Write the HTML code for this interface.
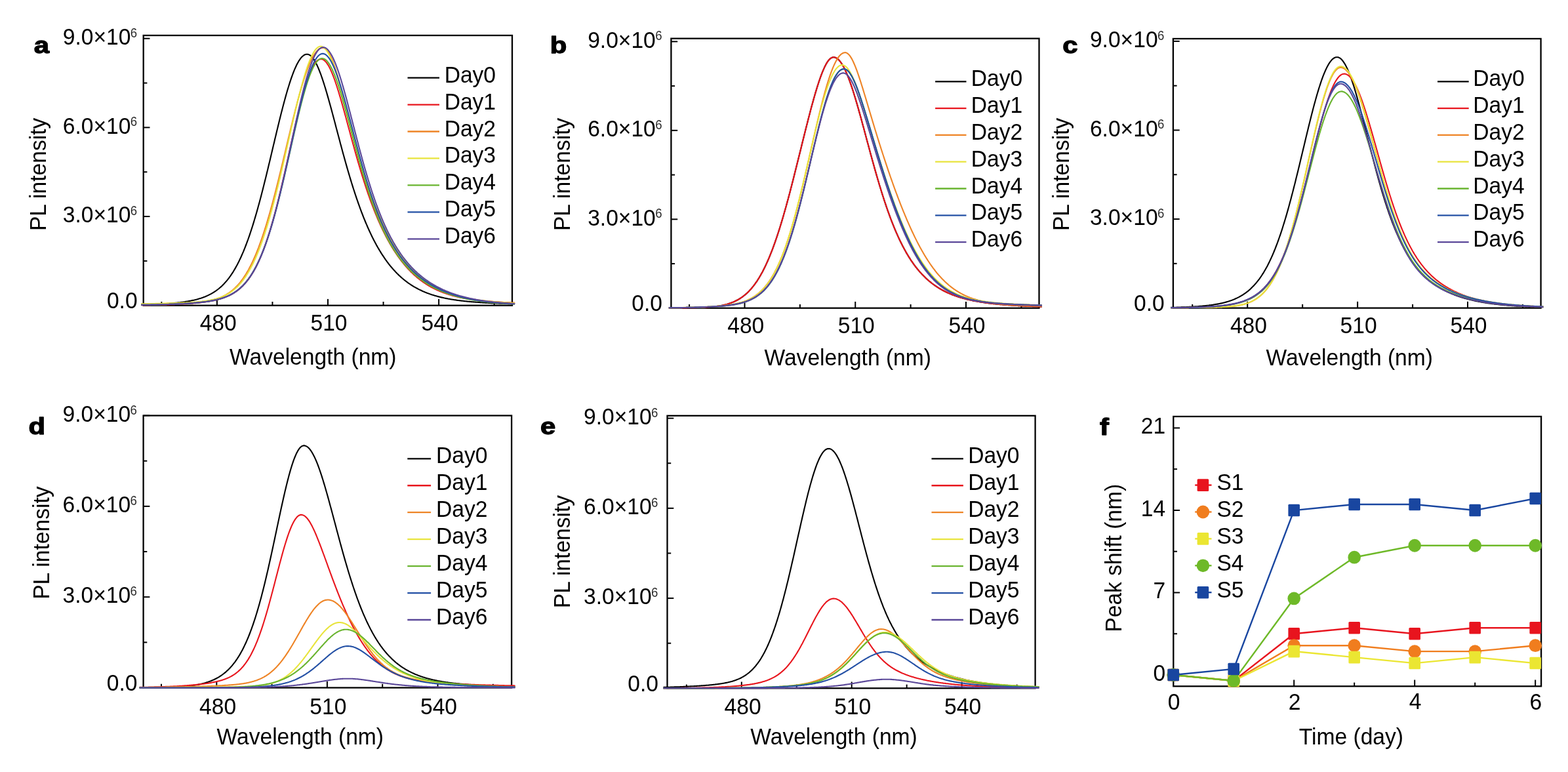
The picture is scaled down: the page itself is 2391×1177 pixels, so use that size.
<!DOCTYPE html>
<html><head><meta charset="utf-8"><title>PL spectra figure</title>
<style>
html,body{margin:0;padding:0;background:#fff;}
body{width:2391px;height:1177px;overflow:hidden;}
svg{display:block;}
text{font-family:'Liberation Sans', Arial, Helvetica, sans-serif;font-kerning:normal;}
</style></head><body>
<svg width="2391" height="1177" viewBox="0 0 2391 1177">
<rect width="2391" height="1177" fill="#fff"/>
<rect x="218.7" y="54" width="562.3" height="411.7" fill="none" stroke="#000" stroke-width="2.3"/>
<line x1="246.34" y1="465.7" x2="246.34" y2="460" stroke="#000" stroke-width="2" stroke-linecap="butt"/>
<line x1="330.9" y1="465.7" x2="330.9" y2="455.9" stroke="#000" stroke-width="2" stroke-linecap="butt"/>
<line x1="415.45" y1="465.7" x2="415.45" y2="460" stroke="#000" stroke-width="2" stroke-linecap="butt"/>
<line x1="500.01" y1="465.7" x2="500.01" y2="455.9" stroke="#000" stroke-width="2" stroke-linecap="butt"/>
<line x1="584.56" y1="465.7" x2="584.56" y2="460" stroke="#000" stroke-width="2" stroke-linecap="butt"/>
<line x1="669.12" y1="465.7" x2="669.12" y2="455.9" stroke="#000" stroke-width="2" stroke-linecap="butt"/>
<line x1="753.67" y1="465.7" x2="753.67" y2="460" stroke="#000" stroke-width="2" stroke-linecap="butt"/>
<line x1="218.7" y1="397.87" x2="224.4" y2="397.87" stroke="#000" stroke-width="2" stroke-linecap="butt"/>
<line x1="218.7" y1="330.04" x2="228.5" y2="330.04" stroke="#000" stroke-width="2" stroke-linecap="butt"/>
<line x1="218.7" y1="262.21" x2="224.4" y2="262.21" stroke="#000" stroke-width="2" stroke-linecap="butt"/>
<line x1="218.7" y1="194.38" x2="228.5" y2="194.38" stroke="#000" stroke-width="2" stroke-linecap="butt"/>
<line x1="218.7" y1="126.55" x2="224.4" y2="126.55" stroke="#000" stroke-width="2" stroke-linecap="butt"/>
<line x1="218.7" y1="58.72" x2="228.5" y2="58.72" stroke="#000" stroke-width="2" stroke-linecap="butt"/>
<text transform="translate(304.64,504.4) scale(1.0,1.04)" font-size="33.6" font-weight="normal" fill="#000" >480</text>
<text transform="translate(473.46,504.4) scale(1.0,1.04)" font-size="33.6" font-weight="normal" fill="#000" >510</text>
<text transform="translate(642.57,504.4) scale(1.0,1.04)" font-size="33.6" font-weight="normal" fill="#000" >540</text>
<text transform="translate(162.9,469.93) scale(1.0,1.04)" font-size="33.6" font-weight="normal" fill="#000" >0.0</text>
<text transform="translate(95.73,339.27) scale(1.0,1.04)" font-size="33.6" font-weight="normal" fill="#000" >3.0×10</text>
<text transform="translate(198.77,327.95) scale(1.0,1.04)" font-size="18.6" font-weight="normal" fill="#2a2a2a" >6</text>
<text transform="translate(95.73,203.61) scale(1.0,1.04)" font-size="33.6" font-weight="normal" fill="#000" >6.0×10</text>
<text transform="translate(198.77,192.29) scale(1.0,1.04)" font-size="18.6" font-weight="normal" fill="#2a2a2a" >6</text>
<text transform="translate(95.73,67.95) scale(1.0,1.04)" font-size="33.6" font-weight="normal" fill="#000" >9.0×10</text>
<text transform="translate(198.77,56.63) scale(1.0,1.04)" font-size="18.6" font-weight="normal" fill="#2a2a2a" >6</text>
<text transform="translate(350.05,556.12) scale(1.0,1.04)" font-size="33.6" font-weight="normal" fill="#000" >Wavelength (nm)</text>
<text transform="translate(69.62,352.06) rotate(-90) scale(1,1.04)" font-size="33.6">PL intensity</text>
<line x1="621.5" y1="118.6" x2="670" y2="118.6" stroke="#000000" stroke-width="2.3" stroke-linecap="butt"/>
<text transform="translate(677.64,125.6) scale(1,1.04)" font-size="33.6">Day0</text>
<line x1="621.5" y1="159.55" x2="670" y2="159.55" stroke="#e8151d" stroke-width="2.3" stroke-linecap="butt"/>
<text transform="translate(677.64,166.55) scale(1,1.04)" font-size="33.6">Day1</text>
<line x1="621.5" y1="200.5" x2="670" y2="200.5" stroke="#ee8426" stroke-width="2.3" stroke-linecap="butt"/>
<text transform="translate(677.64,207.5) scale(1,1.04)" font-size="33.6">Day2</text>
<line x1="621.5" y1="241.45" x2="670" y2="241.45" stroke="#e8e43c" stroke-width="2.3" stroke-linecap="butt"/>
<text transform="translate(677.64,248.45) scale(1,1.04)" font-size="33.6">Day3</text>
<line x1="621.5" y1="282.4" x2="670" y2="282.4" stroke="#69b42f" stroke-width="2.3" stroke-linecap="butt"/>
<text transform="translate(677.64,289.4) scale(1,1.04)" font-size="33.6">Day4</text>
<line x1="621.5" y1="323.35" x2="670" y2="323.35" stroke="#2350a5" stroke-width="2.3" stroke-linecap="butt"/>
<text transform="translate(677.64,330.35) scale(1,1.04)" font-size="33.6">Day5</text>
<line x1="621.5" y1="364.3" x2="670" y2="364.3" stroke="#5a4799" stroke-width="2.3" stroke-linecap="butt"/>
<text transform="translate(677.64,371.3) scale(1,1.04)" font-size="33.6">Day6</text>
<polyline points="215.1,464.7 216.1,464.7 217.1,464.6 218.1,464.6 219.1,464.6 220.1,464.5 221.1,464.5 222.1,464.5 223.1,464.5 224.1,464.4 225.1,464.4 226.1,464.4 227.1,464.3 228.1,464.3 229.1,464.3 230.1,464.2 231.1,464.2 232.1,464.1 233.1,464.1 234.1,464.1 235.1,464.0 236.1,464.0 237.1,463.9 238.1,463.9 239.1,463.8 240.1,463.8 241.1,463.7 242.1,463.7 243.1,463.6 244.1,463.6 245.1,463.5 246.1,463.5 247.1,463.4 248.1,463.4 249.1,463.3 250.1,463.3 251.1,463.2 252.1,463.1 253.1,463.1 254.1,463.0 255.1,462.9 256.1,462.9 257.1,462.8 258.1,462.7 259.1,462.6 260.1,462.5 261.1,462.5 262.1,462.4 263.1,462.3 264.1,462.2 265.1,462.1 266.1,462.0 267.1,461.9 268.1,461.8 269.1,461.7 270.1,461.6 271.1,461.5 272.1,461.4 273.1,461.3 274.1,461.2 275.1,461.0 276.1,460.9 277.1,460.8 278.1,460.7 279.1,460.5 280.1,460.4 281.1,460.2 282.1,460.1 283.1,459.9 284.1,459.8 285.1,459.6 286.1,459.5 287.1,459.3 288.1,459.1 289.1,458.9 290.1,458.7 291.1,458.5 292.1,458.3 293.1,458.1 294.1,457.9 295.1,457.7 296.1,457.5 297.1,457.2 298.1,457.0 299.1,456.7 300.1,456.5 301.1,456.2 302.1,455.9 303.1,455.6 304.1,455.3 305.1,455.0 306.1,454.7 307.1,454.4 308.1,454.0 309.1,453.7 310.1,453.3 311.1,452.9 312.1,452.6 313.1,452.2 314.1,451.7 315.1,451.3 316.1,450.9 317.1,450.4 318.1,449.9 319.1,449.4 320.1,448.9 321.1,448.4 322.1,447.9 323.1,447.3 324.1,446.7 325.1,446.1 326.1,445.5 327.1,444.8 328.1,444.2 329.1,443.5 330.1,442.8 331.1,442.0 332.1,441.3 333.1,440.5 334.1,439.7 335.1,438.8 336.1,438.0 337.1,437.1 338.1,436.2 339.1,435.2 340.1,434.2 341.1,433.2 342.1,432.1 343.1,431.1 344.1,429.9 345.1,428.8 346.1,427.6 347.1,426.4 348.1,425.1 349.1,423.8 350.1,422.4 351.1,421.1 352.1,419.6 353.1,418.2 354.1,416.6 355.1,415.1 356.1,413.5 357.1,411.8 358.1,410.1 359.1,408.4 360.1,406.6 361.1,404.8 362.1,402.9 363.1,400.9 364.1,399.0 365.1,396.9 366.1,394.8 367.1,392.7 368.1,390.5 369.1,388.2 370.1,385.9 371.1,383.6 372.1,381.1 373.1,378.7 374.1,376.1 375.1,373.5 376.1,370.9 377.1,368.2 378.1,365.5 379.1,362.6 380.1,359.8 381.1,356.8 382.1,353.9 383.1,350.8 384.1,347.7 385.1,344.6 386.1,341.4 387.1,338.1 388.1,334.8 389.1,331.4 390.1,328.0 391.1,324.6 392.1,321.0 393.1,317.5 394.1,313.8 395.1,310.2 396.1,306.5 397.1,302.7 398.1,298.9 399.1,295.1 400.1,291.2 401.1,287.3 402.1,283.3 403.1,279.3 404.1,275.3 405.1,271.2 406.1,267.2 407.1,263.0 408.1,258.9 409.1,254.8 410.1,250.6 411.1,246.4 412.1,242.2 413.1,238.0 414.1,233.8 415.1,229.5 416.1,225.3 417.1,221.1 418.1,216.9 419.1,212.6 420.1,208.4 421.1,204.2 422.1,200.1 423.1,195.9 424.1,191.8 425.1,187.7 426.1,183.6 427.1,179.6 428.1,175.6 429.1,171.6 430.1,167.7 431.1,163.8 432.1,160.0 433.1,156.2 434.1,152.5 435.1,148.9 436.1,145.3 437.1,141.8 438.1,138.3 439.1,135.0 440.1,131.7 441.1,128.5 442.1,125.4 443.1,122.4 444.1,119.4 445.1,116.6 446.1,113.8 447.1,111.2 448.1,108.6 449.1,106.2 450.1,103.9 451.1,101.7 452.1,99.5 453.1,97.6 454.1,95.7 455.1,93.9 456.1,92.3 457.1,90.8 458.1,89.4 459.1,88.2 460.1,87.0 461.1,86.0 462.1,85.2 463.1,84.4 464.1,83.8 465.1,83.3 466.1,83.0 467.1,82.8 468.1,82.7 469.1,82.8 470.1,83.0 471.1,83.3 472.1,83.9 473.1,84.5 474.1,85.3 475.1,86.3 476.1,87.3 477.1,88.6 478.1,89.9 479.1,91.4 480.1,93.1 481.1,94.9 482.1,96.7 483.1,98.8 484.1,100.9 485.1,103.2 486.1,105.5 487.1,108.0 488.1,110.6 489.1,113.2 490.1,116.0 491.1,118.9 492.1,121.8 493.1,124.9 494.1,128.0 495.1,131.2 496.1,134.4 497.1,137.7 498.1,141.1 499.1,144.6 500.1,148.1 501.1,151.6 502.1,155.2 503.1,158.8 504.1,162.4 505.1,166.1 506.1,169.8 507.1,173.6 508.1,177.3 509.1,181.1 510.1,184.8 511.1,188.6 512.1,192.4 513.1,196.2 514.1,200.0 515.1,203.8 516.1,207.6 517.1,211.3 518.1,215.1 519.1,218.9 520.1,222.6 521.1,226.3 522.1,230.0 523.1,233.7 524.1,237.3 525.1,240.9 526.1,244.5 527.1,248.1 528.1,251.6 529.1,255.1 530.1,258.6 531.1,262.0 532.1,265.4 533.1,268.8 534.1,272.1 535.1,275.4 536.1,278.7 537.1,281.9 538.1,285.1 539.1,288.2 540.1,291.3 541.1,294.4 542.1,297.4 543.1,300.4 544.1,303.3 545.1,306.2 546.1,309.1 547.1,311.9 548.1,314.7 549.1,317.5 550.1,320.2 551.1,322.8 552.1,325.4 553.1,328.0 554.1,330.6 555.1,333.1 556.1,335.5 557.1,338.0 558.1,340.4 559.1,342.7 560.1,345.0 561.1,347.3 562.1,349.5 563.1,351.7 564.1,353.9 565.1,356.0 566.1,358.1 567.1,360.2 568.1,362.2 569.1,364.2 570.1,366.2 571.1,368.1 572.1,370.0 573.1,371.8 574.1,373.7 575.1,375.4 576.1,377.2 577.1,378.9 578.1,380.6 579.1,382.3 580.1,383.9 581.1,385.6 582.1,387.1 583.1,388.7 584.1,390.2 585.1,391.7 586.1,393.2 587.1,394.6 588.1,396.1 589.1,397.4 590.1,398.8 591.1,400.1 592.1,401.5 593.1,402.8 594.1,404.0 595.1,405.3 596.1,406.5 597.1,407.7 598.1,408.8 599.1,410.0 600.1,411.1 601.1,412.2 602.1,413.3 603.1,414.4 604.1,415.4 605.1,416.5 606.1,417.5 607.1,418.4 608.1,419.4 609.1,420.4 610.1,421.3 611.1,422.2 612.1,423.1 613.1,424.0 614.1,424.8 615.1,425.7 616.1,426.5 617.1,427.3 618.1,428.1 619.1,428.8 620.1,429.6 621.1,430.3 622.1,431.1 623.1,431.8 624.1,432.5 625.1,433.2 626.1,433.8 627.1,434.5 628.1,435.1 629.1,435.8 630.1,436.4 631.1,437.0 632.1,437.6 633.1,438.1 634.1,438.7 635.1,439.3 636.1,439.8 637.1,440.3 638.1,440.9 639.1,441.4 640.1,441.9 641.1,442.3 642.1,442.8 643.1,443.3 644.1,443.7 645.1,444.2 646.1,444.6 647.1,445.0 648.1,445.5 649.1,445.9 650.1,446.3 651.1,446.7 652.1,447.0 653.1,447.4 654.1,447.8 655.1,448.1 656.1,448.5 657.1,448.8 658.1,449.2 659.1,449.5 660.1,449.8 661.1,450.1 662.1,450.4 663.1,450.7 664.1,451.0 665.1,451.3 666.1,451.6 667.1,451.9 668.1,452.1 669.1,452.4 670.1,452.6 671.1,452.9 672.1,453.1 673.1,453.4 674.1,453.6 675.1,453.8 676.1,454.0 677.1,454.3 678.1,454.5 679.1,454.7 680.1,454.9 681.1,455.1 682.1,455.3 683.1,455.5 684.1,455.7 685.1,455.8 686.1,456.0 687.1,456.2 688.1,456.4 689.1,456.5 690.1,456.7 691.1,456.8 692.1,457.0 693.1,457.2 694.1,457.3 695.1,457.4 696.1,457.6 697.1,457.7 698.1,457.9 699.1,458.0 700.1,458.1 701.1,458.3 702.1,458.4 703.1,458.5 704.1,458.6 705.1,458.7 706.1,458.8 707.1,459.0 708.1,459.1 709.1,459.2 710.1,459.3 711.1,459.4 712.1,459.5 713.1,459.6 714.1,459.7 715.1,459.8 716.1,459.9 717.1,460.0 718.1,460.0 719.1,460.1 720.1,460.2 721.1,460.3 722.1,460.4 723.1,460.5 724.1,460.5 725.1,460.6 726.1,460.7 727.1,460.8 728.1,460.8 729.1,460.9 730.1,461.0 731.1,461.0 732.1,461.1 733.1,461.2 734.1,461.2 735.1,461.3 736.1,461.4 737.1,461.4 738.1,461.5 739.1,461.5 740.1,461.6 741.1,461.7 742.1,461.7 743.1,461.8 744.1,461.8 745.1,461.9 746.1,461.9 747.1,462.0 748.1,462.0 749.1,462.1 750.1,462.1 751.1,462.2 752.1,462.2 753.1,462.2 754.1,462.3 755.1,462.3 756.1,462.4 757.1,462.4 758.1,462.5 759.1,462.5 760.1,462.5 761.1,462.6 762.1,462.6 763.1,462.7 764.1,462.7 765.1,462.7 766.1,462.8 767.1,462.8 768.1,462.8 769.1,462.9 770.1,462.9 771.1,462.9 772.1,463.0 773.1,463.0 774.1,463.0 775.1,463.1 776.1,463.1 777.1,463.1 778.1,463.2 779.1,463.2 780.1,463.2 781.1,463.2 782.1,463.3 783.1,463.3 784.1,463.3 785.1,463.4" fill="none" stroke="#000000" stroke-width="2.1" stroke-linejoin="round"/>
<polyline points="215.1,465.2 216.1,465.2 217.1,465.2 218.1,465.2 219.1,465.2 220.1,465.2 221.1,465.2 222.1,465.2 223.1,465.1 224.1,465.1 225.1,465.1 226.1,465.1 227.1,465.1 228.1,465.1 229.1,465.1 230.1,465.0 231.1,465.0 232.1,465.0 233.1,465.0 234.1,465.0 235.1,465.0 236.1,464.9 237.1,464.9 238.1,464.9 239.1,464.9 240.1,464.9 241.1,464.8 242.1,464.8 243.1,464.8 244.1,464.8 245.1,464.7 246.1,464.7 247.1,464.7 248.1,464.7 249.1,464.6 250.1,464.6 251.1,464.6 252.1,464.6 253.1,464.5 254.1,464.5 255.1,464.5 256.1,464.4 257.1,464.4 258.1,464.4 259.1,464.3 260.1,464.3 261.1,464.3 262.1,464.2 263.1,464.2 264.1,464.2 265.1,464.1 266.1,464.1 267.1,464.0 268.1,464.0 269.1,464.0 270.1,463.9 271.1,463.9 272.1,463.8 273.1,463.8 274.1,463.7 275.1,463.7 276.1,463.6 277.1,463.6 278.1,463.5 279.1,463.5 280.1,463.4 281.1,463.3 282.1,463.3 283.1,463.2 284.1,463.2 285.1,463.1 286.1,463.0 287.1,463.0 288.1,462.9 289.1,462.8 290.1,462.7 291.1,462.7 292.1,462.6 293.1,462.5 294.1,462.4 295.1,462.3 296.1,462.2 297.1,462.2 298.1,462.1 299.1,462.0 300.1,461.9 301.1,461.8 302.1,461.7 303.1,461.6 304.1,461.5 305.1,461.3 306.1,461.2 307.1,461.1 308.1,461.0 309.1,460.9 310.1,460.7 311.1,460.6 312.1,460.5 313.1,460.3 314.1,460.2 315.1,460.0 316.1,459.9 317.1,459.7 318.1,459.6 319.1,459.4 320.1,459.2 321.1,459.0 322.1,458.9 323.1,458.7 324.1,458.5 325.1,458.3 326.1,458.1 327.1,457.9 328.1,457.6 329.1,457.4 330.1,457.2 331.1,456.9 332.1,456.7 333.1,456.4 334.1,456.1 335.1,455.8 336.1,455.6 337.1,455.2 338.1,454.9 339.1,454.6 340.1,454.3 341.1,453.9 342.1,453.6 343.1,453.2 344.1,452.8 345.1,452.4 346.1,452.0 347.1,451.6 348.1,451.1 349.1,450.7 350.1,450.2 351.1,449.7 352.1,449.2 353.1,448.6 354.1,448.1 355.1,447.5 356.1,446.9 357.1,446.3 358.1,445.7 359.1,445.0 360.1,444.3 361.1,443.6 362.1,442.9 363.1,442.1 364.1,441.3 365.1,440.5 366.1,439.6 367.1,438.7 368.1,437.8 369.1,436.9 370.1,435.9 371.1,434.9 372.1,433.8 373.1,432.7 374.1,431.6 375.1,430.4 376.1,429.2 377.1,428.0 378.1,426.7 379.1,425.3 380.1,423.9 381.1,422.5 382.1,421.0 383.1,419.5 384.1,417.9 385.1,416.3 386.1,414.6 387.1,412.9 388.1,411.1 389.1,409.3 390.1,407.4 391.1,405.5 392.1,403.4 393.1,401.4 394.1,399.3 395.1,397.1 396.1,394.8 397.1,392.5 398.1,390.1 399.1,387.7 400.1,385.2 401.1,382.6 402.1,380.0 403.1,377.3 404.1,374.6 405.1,371.8 406.1,368.9 407.1,365.9 408.1,362.9 409.1,359.8 410.1,356.6 411.1,353.4 412.1,350.1 413.1,346.8 414.1,343.4 415.1,339.9 416.1,336.4 417.1,332.8 418.1,329.1 419.1,325.4 420.1,321.6 421.1,317.8 422.1,313.9 423.1,309.9 424.1,305.9 425.1,301.9 426.1,297.8 427.1,293.6 428.1,289.4 429.1,285.2 430.1,280.9 431.1,276.6 432.1,272.3 433.1,267.9 434.1,263.5 435.1,259.1 436.1,254.6 437.1,250.1 438.1,245.7 439.1,241.2 440.1,236.7 441.1,232.1 442.1,227.6 443.1,223.1 444.1,218.6 445.1,214.1 446.1,209.6 447.1,205.2 448.1,200.7 449.1,196.3 450.1,192.0 451.1,187.6 452.1,183.3 453.1,179.1 454.1,174.9 455.1,170.7 456.1,166.6 457.1,162.6 458.1,158.6 459.1,154.7 460.1,150.9 461.1,147.2 462.1,143.5 463.1,140.0 464.1,136.5 465.1,133.1 466.1,129.9 467.1,126.7 468.1,123.6 469.1,120.7 470.1,117.9 471.1,115.2 472.1,112.6 473.1,110.1 474.1,107.8 475.1,105.6 476.1,103.5 477.1,101.6 478.1,99.8 479.1,98.2 480.1,96.7 481.1,95.4 482.1,94.2 483.1,93.1 484.1,92.2 485.1,91.5 486.1,90.9 487.1,90.4 488.1,90.2 489.1,90.0 490.1,90.1 491.1,90.3 492.1,90.6 493.1,91.1 494.1,91.8 495.1,92.6 496.1,93.5 497.1,94.6 498.1,95.9 499.1,97.3 500.1,98.8 501.1,100.5 502.1,102.3 503.1,104.3 504.1,106.4 505.1,108.6 506.1,110.9 507.1,113.3 508.1,115.8 509.1,118.5 510.1,121.2 511.1,124.0 512.1,127.0 513.1,130.0 514.1,133.0 515.1,136.2 516.1,139.4 517.1,142.7 518.1,146.1 519.1,149.5 520.1,152.9 521.1,156.4 522.1,160.0 523.1,163.5 524.1,167.1 525.1,170.8 526.1,174.4 527.1,178.1 528.1,181.8 529.1,185.5 530.1,189.2 531.1,192.9 532.1,196.6 533.1,200.3 534.1,204.0 535.1,207.7 536.1,211.4 537.1,215.0 538.1,218.7 539.1,222.3 540.1,225.9 541.1,229.5 542.1,233.1 543.1,236.6 544.1,240.1 545.1,243.6 546.1,247.1 547.1,250.5 548.1,253.9 549.1,257.3 550.1,260.6 551.1,263.9 552.1,267.1 553.1,270.4 554.1,273.5 555.1,276.7 556.1,279.8 557.1,282.9 558.1,285.9 559.1,288.9 560.1,291.9 561.1,294.8 562.1,297.7 563.1,300.5 564.1,303.3 565.1,306.1 566.1,308.8 567.1,311.5 568.1,314.1 569.1,316.7 570.1,319.3 571.1,321.9 572.1,324.3 573.1,326.8 574.1,329.2 575.1,331.6 576.1,334.0 577.1,336.3 578.1,338.6 579.1,340.8 580.1,343.0 581.1,345.2 582.1,347.4 583.1,349.5 584.1,351.6 585.1,353.6 586.1,355.6 587.1,357.6 588.1,359.5 589.1,361.5 590.1,363.3 591.1,365.2 592.1,367.0 593.1,368.8 594.1,370.6 595.1,372.3 596.1,374.0 597.1,375.7 598.1,377.4 599.1,379.0 600.1,380.6 601.1,382.2 602.1,383.7 603.1,385.2 604.1,386.7 605.1,388.2 606.1,389.7 607.1,391.1 608.1,392.5 609.1,393.9 610.1,395.2 611.1,396.5 612.1,397.8 613.1,399.1 614.1,400.4 615.1,401.6 616.1,402.8 617.1,404.0 618.1,405.2 619.1,406.3 620.1,407.5 621.1,408.6 622.1,409.7 623.1,410.8 624.1,411.8 625.1,412.8 626.1,413.9 627.1,414.9 628.1,415.8 629.1,416.8 630.1,417.7 631.1,418.7 632.1,419.6 633.1,420.5 634.1,421.3 635.1,422.2 636.1,423.1 637.1,423.9 638.1,424.7 639.1,425.5 640.1,426.3 641.1,427.0 642.1,427.8 643.1,428.5 644.1,429.3 645.1,430.0 646.1,430.7 647.1,431.3 648.1,432.0 649.1,432.7 650.1,433.3 651.1,433.9 652.1,434.6 653.1,435.2 654.1,435.8 655.1,436.3 656.1,436.9 657.1,437.5 658.1,438.0 659.1,438.6 660.1,439.1 661.1,439.6 662.1,440.1 663.1,440.6 664.1,441.1 665.1,441.6 666.1,442.0 667.1,442.5 668.1,442.9 669.1,443.4 670.1,443.8 671.1,444.2 672.1,444.6 673.1,445.0 674.1,445.4 675.1,445.8 676.1,446.2 677.1,446.5 678.1,446.9 679.1,447.3 680.1,447.6 681.1,447.9 682.1,448.3 683.1,448.6 684.1,448.9 685.1,449.2 686.1,449.5 687.1,449.8 688.1,450.1 689.1,450.4 690.1,450.7 691.1,451.0 692.1,451.2 693.1,451.5 694.1,451.7 695.1,452.0 696.1,452.2 697.1,452.5 698.1,452.7 699.1,452.9 700.1,453.2 701.1,453.4 702.1,453.6 703.1,453.8 704.1,454.0 705.1,454.2 706.1,454.4 707.1,454.6 708.1,454.8 709.1,455.0 710.1,455.1 711.1,455.3 712.1,455.5 713.1,455.7 714.1,455.8 715.1,456.0 716.1,456.1 717.1,456.3 718.1,456.4 719.1,456.6 720.1,456.7 721.1,456.9 722.1,457.0 723.1,457.2 724.1,457.3 725.1,457.4 726.1,457.5 727.1,457.7 728.1,457.8 729.1,457.9 730.1,458.0 731.1,458.1 732.1,458.3 733.1,458.4 734.1,458.5 735.1,458.6 736.1,458.7 737.1,458.8 738.1,458.9 739.1,459.0 740.1,459.1 741.1,459.2 742.1,459.3 743.1,459.3 744.1,459.4 745.1,459.5 746.1,459.6 747.1,459.7 748.1,459.8 749.1,459.8 750.1,459.9 751.1,460.0 752.1,460.1 753.1,460.1 754.1,460.2 755.1,460.3 756.1,460.4 757.1,460.4 758.1,460.5 759.1,460.6 760.1,460.6 761.1,460.7 762.1,460.7 763.1,460.8 764.1,460.9 765.1,460.9 766.1,461.0 767.1,461.0 768.1,461.1 769.1,461.1 770.1,461.2 771.1,461.3 772.1,461.3 773.1,461.4 774.1,461.4 775.1,461.5 776.1,461.5 777.1,461.5 778.1,461.6 779.1,461.6 780.1,461.7 781.1,461.7 782.1,461.8 783.1,461.8 784.1,461.9 785.1,461.9" fill="none" stroke="#e8151d" stroke-width="2.1" stroke-linejoin="round"/>
<polyline points="215.1,463.6 216.1,463.6 217.1,463.6 218.1,463.5 219.1,463.5 220.1,463.5 221.1,463.5 222.1,463.5 223.1,463.5 224.1,463.5 225.1,463.4 226.1,463.4 227.1,463.4 228.1,463.4 229.1,463.4 230.1,463.4 231.1,463.3 232.1,463.3 233.1,463.3 234.1,463.3 235.1,463.3 236.1,463.3 237.1,463.2 238.1,463.2 239.1,463.2 240.1,463.2 241.1,463.2 242.1,463.2 243.1,463.1 244.1,463.1 245.1,463.1 246.1,463.1 247.1,463.1 248.1,463.0 249.1,463.0 250.1,463.0 251.1,463.0 252.1,463.0 253.1,462.9 254.1,462.9 255.1,462.9 256.1,462.9 257.1,462.9 258.1,462.8 259.1,462.8 260.1,462.8 261.1,462.8 262.1,462.7 263.1,462.7 264.1,462.7 265.1,462.7 266.1,462.6 267.1,462.6 268.1,462.6 269.1,462.6 270.1,462.5 271.1,462.5 272.1,462.5 273.1,462.4 274.1,462.4 275.1,462.4 276.1,462.3 277.1,462.3 278.1,462.3 279.1,462.2 280.1,462.2 281.1,462.2 282.1,462.1 283.1,462.1 284.1,462.0 285.1,462.0 286.1,461.9 287.1,461.9 288.1,461.8 289.1,461.8 290.1,461.7 291.1,461.7 292.1,461.6 293.1,461.5 294.1,461.5 295.1,461.4 296.1,461.3 297.1,461.3 298.1,461.2 299.1,461.1 300.1,461.0 301.1,460.9 302.1,460.9 303.1,460.8 304.1,460.7 305.1,460.6 306.1,460.4 307.1,460.3 308.1,460.2 309.1,460.1 310.1,460.0 311.1,459.8 312.1,459.7 313.1,459.5 314.1,459.4 315.1,459.2 316.1,459.1 317.1,458.9 318.1,458.7 319.1,458.5 320.1,458.3 321.1,458.1 322.1,457.9 323.1,457.6 324.1,457.4 325.1,457.2 326.1,456.9 327.1,456.6 328.1,456.3 329.1,456.0 330.1,455.7 331.1,455.4 332.1,455.1 333.1,454.7 334.1,454.3 335.1,454.0 336.1,453.6 337.1,453.1 338.1,452.7 339.1,452.2 340.1,451.8 341.1,451.3 342.1,450.8 343.1,450.2 344.1,449.7 345.1,449.1 346.1,448.5 347.1,447.9 348.1,447.2 349.1,446.6 350.1,445.9 351.1,445.2 352.1,444.4 353.1,443.6 354.1,442.8 355.1,442.0 356.1,441.1 357.1,440.2 358.1,439.3 359.1,438.3 360.1,437.3 361.1,436.3 362.1,435.2 363.1,434.1 364.1,433.0 365.1,431.8 366.1,430.6 367.1,429.3 368.1,428.0 369.1,426.7 370.1,425.3 371.1,423.9 372.1,422.4 373.1,420.9 374.1,419.4 375.1,417.8 376.1,416.1 377.1,414.4 378.1,412.7 379.1,410.9 380.1,409.0 381.1,407.1 382.1,405.2 383.1,403.2 384.1,401.2 385.1,399.1 386.1,396.9 387.1,394.7 388.1,392.4 389.1,390.1 390.1,387.8 391.1,385.4 392.1,382.9 393.1,380.3 394.1,377.8 395.1,375.1 396.1,372.4 397.1,369.7 398.1,366.9 399.1,364.0 400.1,361.1 401.1,358.1 402.1,355.1 403.1,352.0 404.1,348.9 405.1,345.7 406.1,342.5 407.1,339.2 408.1,335.8 409.1,332.4 410.1,329.0 411.1,325.5 412.1,322.0 413.1,318.4 414.1,314.8 415.1,311.1 416.1,307.4 417.1,303.6 418.1,299.8 419.1,296.0 420.1,292.1 421.1,288.2 422.1,284.2 423.1,280.2 424.1,276.2 425.1,272.2 426.1,268.1 427.1,264.0 428.1,259.9 429.1,255.8 430.1,251.6 431.1,247.5 432.1,243.3 433.1,239.1 434.1,234.9 435.1,230.7 436.1,226.5 437.1,222.2 438.1,218.0 439.1,213.8 440.1,209.6 441.1,205.4 442.1,201.3 443.1,197.1 444.1,193.0 445.1,188.9 446.1,184.8 447.1,180.7 448.1,176.7 449.1,172.7 450.1,168.7 451.1,164.8 452.1,160.9 453.1,157.1 454.1,153.3 455.1,149.6 456.1,145.9 457.1,142.3 458.1,138.8 459.1,135.3 460.1,131.8 461.1,128.5 462.1,125.2 463.1,122.0 464.1,118.9 465.1,115.9 466.1,112.9 467.1,110.1 468.1,107.3 469.1,104.6 470.1,102.0 471.1,99.5 472.1,97.1 473.1,94.8 474.1,92.6 475.1,90.6 476.1,88.6 477.1,86.7 478.1,85.0 479.1,83.3 480.1,81.8 481.1,80.4 482.1,79.1 483.1,77.9 484.1,76.9 485.1,75.9 486.1,75.1 487.1,74.4 488.1,73.9 489.1,73.4 490.1,73.1 491.1,72.9 492.1,72.8 493.1,72.9 494.1,73.2 495.1,73.6 496.1,74.3 497.1,75.1 498.1,76.1 499.1,77.3 500.1,78.7 501.1,80.2 502.1,82.0 503.1,83.8 504.1,85.9 505.1,88.1 506.1,90.4 507.1,92.9 508.1,95.5 509.1,98.3 510.1,101.2 511.1,104.2 512.1,107.3 513.1,110.5 514.1,113.8 515.1,117.3 516.1,120.7 517.1,124.3 518.1,128.0 519.1,131.7 520.1,135.4 521.1,139.3 522.1,143.1 523.1,147.0 524.1,151.0 525.1,154.9 526.1,158.9 527.1,162.9 528.1,167.0 529.1,171.0 530.1,175.0 531.1,179.1 532.1,183.1 533.1,187.1 534.1,191.2 535.1,195.2 536.1,199.1 537.1,203.1 538.1,207.0 539.1,211.0 540.1,214.8 541.1,218.7 542.1,222.5 543.1,226.3 544.1,230.1 545.1,233.8 546.1,237.5 547.1,241.1 548.1,244.7 549.1,248.3 550.1,251.8 551.1,255.3 552.1,258.7 553.1,262.1 554.1,265.4 555.1,268.7 556.1,272.0 557.1,275.2 558.1,278.4 559.1,281.5 560.1,284.6 561.1,287.6 562.1,290.6 563.1,293.5 564.1,296.4 565.1,299.3 566.1,302.1 567.1,304.9 568.1,307.6 569.1,310.3 570.1,313.0 571.1,315.6 572.1,318.2 573.1,320.7 574.1,323.2 575.1,325.6 576.1,328.1 577.1,330.4 578.1,332.8 579.1,335.1 580.1,337.4 581.1,339.6 582.1,341.8 583.1,343.9 584.1,346.1 585.1,348.2 586.1,350.2 587.1,352.3 588.1,354.3 589.1,356.2 590.1,358.2 591.1,360.1 592.1,361.9 593.1,363.8 594.1,365.6 595.1,367.4 596.1,369.1 597.1,370.8 598.1,372.5 599.1,374.2 600.1,375.9 601.1,377.5 602.1,379.1 603.1,380.6 604.1,382.2 605.1,383.7 606.1,385.2 607.1,386.6 608.1,388.1 609.1,389.5 610.1,390.9 611.1,392.3 612.1,393.6 613.1,395.0 614.1,396.3 615.1,397.5 616.1,398.8 617.1,400.0 618.1,401.3 619.1,402.5 620.1,403.6 621.1,404.8 622.1,405.9 623.1,407.1 624.1,408.2 625.1,409.3 626.1,410.3 627.1,411.4 628.1,412.4 629.1,413.4 630.1,414.4 631.1,415.4 632.1,416.3 633.1,417.3 634.1,418.2 635.1,419.1 636.1,420.0 637.1,420.9 638.1,421.7 639.1,422.6 640.1,423.4 641.1,424.2 642.1,425.0 643.1,425.8 644.1,426.6 645.1,427.3 646.1,428.1 647.1,428.8 648.1,429.5 649.1,430.2 650.1,430.9 651.1,431.6 652.1,432.2 653.1,432.9 654.1,433.5 655.1,434.2 656.1,434.8 657.1,435.4 658.1,436.0 659.1,436.5 660.1,437.1 661.1,437.7 662.1,438.2 663.1,438.7 664.1,439.3 665.1,439.8 666.1,440.3 667.1,440.8 668.1,441.3 669.1,441.7 670.1,442.2 671.1,442.6 672.1,443.1 673.1,443.5 674.1,444.0 675.1,444.4 676.1,444.8 677.1,445.2 678.1,445.6 679.1,446.0 680.1,446.3 681.1,446.7 682.1,447.1 683.1,447.4 684.1,447.8 685.1,448.1 686.1,448.4 687.1,448.8 688.1,449.1 689.1,449.4 690.1,449.7 691.1,450.0 692.1,450.3 693.1,450.6 694.1,450.9 695.1,451.1 696.1,451.4 697.1,451.7 698.1,451.9 699.1,452.2 700.1,452.4 701.1,452.7 702.1,452.9 703.1,453.1 704.1,453.3 705.1,453.6 706.1,453.8 707.1,454.0 708.1,454.2 709.1,454.4 710.1,454.6 711.1,454.8 712.1,455.0 713.1,455.2 714.1,455.3 715.1,455.5 716.1,455.7 717.1,455.8 718.1,456.0 719.1,456.2 720.1,456.3 721.1,456.5 722.1,456.6 723.1,456.8 724.1,456.9 725.1,457.1 726.1,457.2 727.1,457.3 728.1,457.5 729.1,457.6 730.1,457.7 731.1,457.9 732.1,458.0 733.1,458.1 734.1,458.2 735.1,458.3 736.1,458.4 737.1,458.5 738.1,458.6 739.1,458.8 740.1,458.9 741.1,459.0 742.1,459.1 743.1,459.1 744.1,459.2 745.1,459.3 746.1,459.4 747.1,459.5 748.1,459.6 749.1,459.7 750.1,459.8 751.1,459.8 752.1,459.9 753.1,460.0 754.1,460.1 755.1,460.1 756.1,460.2 757.1,460.3 758.1,460.4 759.1,460.4 760.1,460.5 761.1,460.6 762.1,460.6 763.1,460.7 764.1,460.8 765.1,460.8 766.1,460.9 767.1,460.9 768.1,461.0 769.1,461.0 770.1,461.1 771.1,461.2 772.1,461.2 773.1,461.3 774.1,461.3 775.1,461.4 776.1,461.4 777.1,461.5 778.1,461.5 779.1,461.6 780.1,461.6 781.1,461.7 782.1,461.7 783.1,461.7 784.1,461.8 785.1,461.8" fill="none" stroke="#ee8426" stroke-width="2.1" stroke-linejoin="round"/>
<polyline points="215.1,463.4 216.1,463.3 217.1,463.3 218.1,463.3 219.1,463.3 220.1,463.3 221.1,463.3 222.1,463.2 223.1,463.2 224.1,463.2 225.1,463.2 226.1,463.2 227.1,463.1 228.1,463.1 229.1,463.1 230.1,463.1 231.1,463.1 232.1,463.0 233.1,463.0 234.1,463.0 235.1,463.0 236.1,463.0 237.1,462.9 238.1,462.9 239.1,462.9 240.1,462.9 241.1,462.9 242.1,462.8 243.1,462.8 244.1,462.8 245.1,462.8 246.1,462.7 247.1,462.7 248.1,462.7 249.1,462.7 250.1,462.6 251.1,462.6 252.1,462.6 253.1,462.6 254.1,462.5 255.1,462.5 256.1,462.5 257.1,462.5 258.1,462.4 259.1,462.4 260.1,462.4 261.1,462.3 262.1,462.3 263.1,462.3 264.1,462.2 265.1,462.2 266.1,462.2 267.1,462.1 268.1,462.1 269.1,462.1 270.1,462.0 271.1,462.0 272.1,462.0 273.1,461.9 274.1,461.9 275.1,461.8 276.1,461.8 277.1,461.8 278.1,461.7 279.1,461.7 280.1,461.6 281.1,461.6 282.1,461.5 283.1,461.5 284.1,461.4 285.1,461.4 286.1,461.3 287.1,461.3 288.1,461.2 289.1,461.2 290.1,461.1 291.1,461.0 292.1,461.0 293.1,460.9 294.1,460.8 295.1,460.8 296.1,460.7 297.1,460.6 298.1,460.5 299.1,460.5 300.1,460.4 301.1,460.3 302.1,460.2 303.1,460.1 304.1,460.0 305.1,459.9 306.1,459.8 307.1,459.7 308.1,459.6 309.1,459.4 310.1,459.3 311.1,459.2 312.1,459.1 313.1,458.9 314.1,458.8 315.1,458.6 316.1,458.5 317.1,458.3 318.1,458.1 319.1,457.9 320.1,457.8 321.1,457.6 322.1,457.4 323.1,457.2 324.1,456.9 325.1,456.7 326.1,456.5 327.1,456.2 328.1,456.0 329.1,455.7 330.1,455.4 331.1,455.1 332.1,454.8 333.1,454.5 334.1,454.2 335.1,453.8 336.1,453.5 337.1,453.1 338.1,452.7 339.1,452.3 340.1,451.9 341.1,451.4 342.1,451.0 343.1,450.5 344.1,450.0 345.1,449.5 346.1,448.9 347.1,448.4 348.1,447.8 349.1,447.2 350.1,446.6 351.1,445.9 352.1,445.2 353.1,444.5 354.1,443.8 355.1,443.0 356.1,442.2 357.1,441.4 358.1,440.6 359.1,439.7 360.1,438.8 361.1,437.9 362.1,436.9 363.1,435.9 364.1,434.8 365.1,433.8 366.1,432.6 367.1,431.5 368.1,430.3 369.1,429.1 370.1,427.8 371.1,426.5 372.1,425.1 373.1,423.7 374.1,422.3 375.1,420.8 376.1,419.2 377.1,417.7 378.1,416.0 379.1,414.3 380.1,412.6 381.1,410.8 382.1,409.0 383.1,407.1 384.1,405.2 385.1,403.2 386.1,401.2 387.1,399.1 388.1,396.9 389.1,394.7 390.1,392.5 391.1,390.2 392.1,387.8 393.1,385.4 394.1,382.9 395.1,380.4 396.1,377.8 397.1,375.1 398.1,372.4 399.1,369.6 400.1,366.8 401.1,363.9 402.1,361.0 403.1,357.9 404.1,354.9 405.1,351.8 406.1,348.6 407.1,345.4 408.1,342.1 409.1,338.7 410.1,335.3 411.1,331.9 412.1,328.3 413.1,324.8 414.1,321.2 415.1,317.5 416.1,313.8 417.1,310.0 418.1,306.2 419.1,302.3 420.1,298.4 421.1,294.5 422.1,290.5 423.1,286.5 424.1,282.4 425.1,278.3 426.1,274.2 427.1,270.0 428.1,265.8 429.1,261.5 430.1,257.3 431.1,253.0 432.1,248.7 433.1,244.3 434.1,240.0 435.1,235.6 436.1,231.2 437.1,226.8 438.1,222.4 439.1,218.0 440.1,213.6 441.1,209.2 442.1,204.8 443.1,200.5 444.1,196.1 445.1,191.7 446.1,187.4 447.1,183.0 448.1,178.7 449.1,174.5 450.1,170.2 451.1,166.0 452.1,161.9 453.1,157.7 454.1,153.7 455.1,149.6 456.1,145.6 457.1,141.7 458.1,137.9 459.1,134.1 460.1,130.4 461.1,126.7 462.1,123.2 463.1,119.7 464.1,116.3 465.1,113.0 466.1,109.8 467.1,106.6 468.1,103.6 469.1,100.7 470.1,97.9 471.1,95.3 472.1,92.7 473.1,90.3 474.1,88.0 475.1,85.8 476.1,83.8 477.1,81.9 478.1,80.1 479.1,78.5 480.1,77.0 481.1,75.7 482.1,74.5 483.1,73.5 484.1,72.7 485.1,71.9 486.1,71.4 487.1,71.0 488.1,70.8 489.1,70.7 490.1,70.8 491.1,71.1 492.1,71.5 493.1,72.0 494.1,72.8 495.1,73.6 496.1,74.7 497.1,75.8 498.1,77.2 499.1,78.6 500.1,80.3 501.1,82.0 502.1,83.9 503.1,85.9 504.1,88.1 505.1,90.4 506.1,92.8 507.1,95.3 508.1,97.9 509.1,100.6 510.1,103.5 511.1,106.4 512.1,109.4 513.1,112.5 514.1,115.7 515.1,118.9 516.1,122.3 517.1,125.7 518.1,129.1 519.1,132.6 520.1,136.2 521.1,139.8 522.1,143.4 523.1,147.1 524.1,150.8 525.1,154.6 526.1,158.3 527.1,162.1 528.1,165.9 529.1,169.7 530.1,173.6 531.1,177.4 532.1,181.2 533.1,185.1 534.1,188.9 535.1,192.7 536.1,196.5 537.1,200.3 538.1,204.1 539.1,207.8 540.1,211.6 541.1,215.3 542.1,219.0 543.1,222.6 544.1,226.3 545.1,229.9 546.1,233.5 547.1,237.0 548.1,240.5 549.1,244.0 550.1,247.4 551.1,250.9 552.1,254.2 553.1,257.6 554.1,260.9 555.1,264.1 556.1,267.3 557.1,270.5 558.1,273.7 559.1,276.8 560.1,279.8 561.1,282.9 562.1,285.8 563.1,288.8 564.1,291.7 565.1,294.6 566.1,297.4 567.1,300.2 568.1,302.9 569.1,305.6 570.1,308.3 571.1,310.9 572.1,313.5 573.1,316.1 574.1,318.6 575.1,321.1 576.1,323.5 577.1,325.9 578.1,328.3 579.1,330.6 580.1,332.9 581.1,335.2 582.1,337.4 583.1,339.6 584.1,341.8 585.1,343.9 586.1,346.0 587.1,348.1 588.1,350.1 589.1,352.1 590.1,354.0 591.1,356.0 592.1,357.9 593.1,359.8 594.1,361.6 595.1,363.4 596.1,365.2 597.1,367.0 598.1,368.7 599.1,370.4 600.1,372.1 601.1,373.7 602.1,375.4 603.1,377.0 604.1,378.5 605.1,380.1 606.1,381.6 607.1,383.1 608.1,384.6 609.1,386.0 610.1,387.4 611.1,388.8 612.1,390.2 613.1,391.6 614.1,392.9 615.1,394.2 616.1,395.5 617.1,396.8 618.1,398.0 619.1,399.3 620.1,400.5 621.1,401.7 622.1,402.8 623.1,404.0 624.1,405.1 625.1,406.2 626.1,407.3 627.1,408.4 628.1,409.5 629.1,410.5 630.1,411.5 631.1,412.5 632.1,413.5 633.1,414.5 634.1,415.4 635.1,416.4 636.1,417.3 637.1,418.2 638.1,419.1 639.1,420.0 640.1,420.8 641.1,421.7 642.1,422.5 643.1,423.3 644.1,424.1 645.1,424.9 646.1,425.7 647.1,426.5 648.1,427.2 649.1,427.9 650.1,428.7 651.1,429.4 652.1,430.1 653.1,430.7 654.1,431.4 655.1,432.1 656.1,432.7 657.1,433.4 658.1,434.0 659.1,434.6 660.1,435.2 661.1,435.8 662.1,436.3 663.1,436.9 664.1,437.5 665.1,438.0 666.1,438.6 667.1,439.1 668.1,439.6 669.1,440.1 670.1,440.6 671.1,441.1 672.1,441.6 673.1,442.0 674.1,442.5 675.1,442.9 676.1,443.4 677.1,443.8 678.1,444.2 679.1,444.7 680.1,445.1 681.1,445.5 682.1,445.9 683.1,446.2 684.1,446.6 685.1,447.0 686.1,447.3 687.1,447.7 688.1,448.0 689.1,448.4 690.1,448.7 691.1,449.0 692.1,449.4 693.1,449.7 694.1,450.0 695.1,450.3 696.1,450.6 697.1,450.9 698.1,451.2 699.1,451.4 700.1,451.7 701.1,452.0 702.1,452.2 703.1,452.5 704.1,452.7 705.1,453.0 706.1,453.2 707.1,453.4 708.1,453.7 709.1,453.9 710.1,454.1 711.1,454.3 712.1,454.5 713.1,454.8 714.1,455.0 715.1,455.2 716.1,455.3 717.1,455.5 718.1,455.7 719.1,455.9 720.1,456.1 721.1,456.3 722.1,456.4 723.1,456.6 724.1,456.7 725.1,456.9 726.1,457.1 727.1,457.2 728.1,457.4 729.1,457.5 730.1,457.7 731.1,457.8 732.1,457.9 733.1,458.1 734.1,458.2 735.1,458.3 736.1,458.4 737.1,458.6 738.1,458.7 739.1,458.8 740.1,458.9 741.1,459.0 742.1,459.1 743.1,459.3 744.1,459.4 745.1,459.5 746.1,459.6 747.1,459.7 748.1,459.8 749.1,459.9 750.1,459.9 751.1,460.0 752.1,460.1 753.1,460.2 754.1,460.3 755.1,460.4 756.1,460.5 757.1,460.5 758.1,460.6 759.1,460.7 760.1,460.8 761.1,460.8 762.1,460.9 763.1,461.0 764.1,461.1 765.1,461.1 766.1,461.2 767.1,461.3 768.1,461.3 769.1,461.4 770.1,461.4 771.1,461.5 772.1,461.6 773.1,461.6 774.1,461.7 775.1,461.7 776.1,461.8 777.1,461.8 778.1,461.9 779.1,461.9 780.1,462.0 781.1,462.0 782.1,462.1 783.1,462.1 784.1,462.2 785.1,462.2" fill="none" stroke="#e8e43c" stroke-width="2.1" stroke-linejoin="round"/>
<polyline points="215.1,464.9 216.1,464.9 217.1,464.9 218.1,464.8 219.1,464.8 220.1,464.8 221.1,464.8 222.1,464.8 223.1,464.8 224.1,464.8 225.1,464.7 226.1,464.7 227.1,464.7 228.1,464.7 229.1,464.7 230.1,464.7 231.1,464.6 232.1,464.6 233.1,464.6 234.1,464.6 235.1,464.6 236.1,464.5 237.1,464.5 238.1,464.5 239.1,464.5 240.1,464.4 241.1,464.4 242.1,464.4 243.1,464.4 244.1,464.4 245.1,464.3 246.1,464.3 247.1,464.3 248.1,464.3 249.1,464.2 250.1,464.2 251.1,464.2 252.1,464.1 253.1,464.1 254.1,464.1 255.1,464.0 256.1,464.0 257.1,464.0 258.1,464.0 259.1,463.9 260.1,463.9 261.1,463.9 262.1,463.8 263.1,463.8 264.1,463.7 265.1,463.7 266.1,463.7 267.1,463.6 268.1,463.6 269.1,463.5 270.1,463.5 271.1,463.5 272.1,463.4 273.1,463.4 274.1,463.3 275.1,463.3 276.1,463.2 277.1,463.2 278.1,463.1 279.1,463.1 280.1,463.0 281.1,463.0 282.1,462.9 283.1,462.8 284.1,462.8 285.1,462.7 286.1,462.7 287.1,462.6 288.1,462.5 289.1,462.5 290.1,462.4 291.1,462.3 292.1,462.3 293.1,462.2 294.1,462.1 295.1,462.0 296.1,461.9 297.1,461.9 298.1,461.8 299.1,461.7 300.1,461.6 301.1,461.5 302.1,461.4 303.1,461.3 304.1,461.2 305.1,461.1 306.1,461.0 307.1,460.9 308.1,460.8 309.1,460.6 310.1,460.5 311.1,460.4 312.1,460.3 313.1,460.1 314.1,460.0 315.1,459.9 316.1,459.7 317.1,459.6 318.1,459.4 319.1,459.2 320.1,459.1 321.1,458.9 322.1,458.7 323.1,458.5 324.1,458.3 325.1,458.1 326.1,457.9 327.1,457.7 328.1,457.5 329.1,457.3 330.1,457.0 331.1,456.8 332.1,456.5 333.1,456.3 334.1,456.0 335.1,455.7 336.1,455.4 337.1,455.1 338.1,454.8 339.1,454.5 340.1,454.2 341.1,453.8 342.1,453.4 343.1,453.1 344.1,452.7 345.1,452.3 346.1,451.9 347.1,451.4 348.1,451.0 349.1,450.5 350.1,450.0 351.1,449.5 352.1,449.0 353.1,448.4 354.1,447.9 355.1,447.3 356.1,446.7 357.1,446.1 358.1,445.4 359.1,444.7 360.1,444.0 361.1,443.3 362.1,442.5 363.1,441.8 364.1,441.0 365.1,440.1 366.1,439.3 367.1,438.4 368.1,437.4 369.1,436.5 370.1,435.5 371.1,434.4 372.1,433.4 373.1,432.3 374.1,431.1 375.1,429.9 376.1,428.7 377.1,427.4 378.1,426.1 379.1,424.8 380.1,423.4 381.1,422.0 382.1,420.5 383.1,419.0 384.1,417.4 385.1,415.8 386.1,414.1 387.1,412.4 388.1,410.6 389.1,408.8 390.1,406.9 391.1,404.9 392.1,403.0 393.1,400.9 394.1,398.8 395.1,396.6 396.1,394.4 397.1,392.1 398.1,389.8 399.1,387.4 400.1,385.0 401.1,382.4 402.1,379.9 403.1,377.2 404.1,374.5 405.1,371.8 406.1,368.9 407.1,366.0 408.1,363.1 409.1,360.1 410.1,357.0 411.1,353.9 412.1,350.7 413.1,347.4 414.1,344.1 415.1,340.7 416.1,337.2 417.1,333.7 418.1,330.2 419.1,326.6 420.1,322.9 421.1,319.2 422.1,315.4 423.1,311.5 424.1,307.7 425.1,303.7 426.1,299.7 427.1,295.7 428.1,291.6 429.1,287.5 430.1,283.4 431.1,279.2 432.1,275.0 433.1,270.7 434.1,266.4 435.1,262.1 436.1,257.8 437.1,253.4 438.1,249.0 439.1,244.6 440.1,240.2 441.1,235.8 442.1,231.4 443.1,227.0 444.1,222.5 445.1,218.1 446.1,213.7 447.1,209.3 448.1,204.9 449.1,200.6 450.1,196.2 451.1,191.9 452.1,187.7 453.1,183.4 454.1,179.3 455.1,175.1 456.1,171.0 457.1,167.0 458.1,163.0 459.1,159.1 460.1,155.2 461.1,151.4 462.1,147.7 463.1,144.1 464.1,140.6 465.1,137.1 466.1,133.7 467.1,130.5 468.1,127.3 469.1,124.2 470.1,121.3 471.1,118.4 472.1,115.7 473.1,113.1 474.1,110.6 475.1,108.2 476.1,106.0 477.1,103.9 478.1,101.9 479.1,100.0 480.1,98.3 481.1,96.8 482.1,95.3 483.1,94.0 484.1,92.9 485.1,91.9 486.1,91.1 487.1,90.4 488.1,89.8 489.1,89.4 490.1,89.2 491.1,89.1 492.1,89.2 493.1,89.4 494.1,89.7 495.1,90.2 496.1,90.9 497.1,91.6 498.1,92.6 499.1,93.6 500.1,94.9 501.1,96.2 502.1,97.7 503.1,99.3 504.1,101.0 505.1,102.9 506.1,104.9 507.1,107.0 508.1,109.2 509.1,111.6 510.1,114.0 511.1,116.6 512.1,119.2 513.1,122.0 514.1,124.8 515.1,127.7 516.1,130.7 517.1,133.8 518.1,137.0 519.1,140.2 520.1,143.5 521.1,146.9 522.1,150.3 523.1,153.8 524.1,157.3 525.1,160.9 526.1,164.5 527.1,168.1 528.1,171.8 529.1,175.5 530.1,179.2 531.1,183.0 532.1,186.7 533.1,190.5 534.1,194.3 535.1,198.1 536.1,201.9 537.1,205.6 538.1,209.4 539.1,213.2 540.1,217.0 541.1,220.7 542.1,224.5 543.1,228.2 544.1,231.9 545.1,235.6 546.1,239.2 547.1,242.9 548.1,246.5 549.1,250.0 550.1,253.6 551.1,257.1 552.1,260.6 553.1,264.0 554.1,267.4 555.1,270.8 556.1,274.1 557.1,277.4 558.1,280.6 559.1,283.8 560.1,287.0 561.1,290.1 562.1,293.2 563.1,296.2 564.1,299.2 565.1,302.2 566.1,305.1 567.1,308.0 568.1,310.8 569.1,313.6 570.1,316.3 571.1,319.0 572.1,321.7 573.1,324.3 574.1,326.8 575.1,329.4 576.1,331.8 577.1,334.3 578.1,336.7 579.1,339.0 580.1,341.3 581.1,343.6 582.1,345.9 583.1,348.0 584.1,350.2 585.1,352.3 586.1,354.4 587.1,356.4 588.1,358.5 589.1,360.4 590.1,362.4 591.1,364.3 592.1,366.1 593.1,368.0 594.1,369.8 595.1,371.5 596.1,373.2 597.1,374.9 598.1,376.6 599.1,378.2 600.1,379.9 601.1,381.4 602.1,383.0 603.1,384.5 604.1,386.0 605.1,387.5 606.1,388.9 607.1,390.3 608.1,391.7 609.1,393.0 610.1,394.4 611.1,395.7 612.1,397.0 613.1,398.2 614.1,399.5 615.1,400.7 616.1,401.9 617.1,403.0 618.1,404.2 619.1,405.3 620.1,406.4 621.1,407.5 622.1,408.6 623.1,409.6 624.1,410.7 625.1,411.7 626.1,412.7 627.1,413.6 628.1,414.6 629.1,415.5 630.1,416.4 631.1,417.3 632.1,418.2 633.1,419.1 634.1,420.0 635.1,420.8 636.1,421.6 637.1,422.4 638.1,423.2 639.1,424.0 640.1,424.8 641.1,425.6 642.1,426.3 643.1,427.0 644.1,427.7 645.1,428.4 646.1,429.1 647.1,429.8 648.1,430.5 649.1,431.1 650.1,431.8 651.1,432.4 652.1,433.0 653.1,433.6 654.1,434.2 655.1,434.8 656.1,435.4 657.1,436.0 658.1,436.5 659.1,437.1 660.1,437.6 661.1,438.2 662.1,438.7 663.1,439.2 664.1,439.7 665.1,440.2 666.1,440.7 667.1,441.1 668.1,441.6 669.1,442.1 670.1,442.5 671.1,443.0 672.1,443.4 673.1,443.8 674.1,444.2 675.1,444.7 676.1,445.1 677.1,445.5 678.1,445.8 679.1,446.2 680.1,446.6 681.1,447.0 682.1,447.3 683.1,447.7 684.1,448.1 685.1,448.4 686.1,448.7 687.1,449.1 688.1,449.4 689.1,449.7 690.1,450.0 691.1,450.3 692.1,450.6 693.1,450.9 694.1,451.2 695.1,451.5 696.1,451.8 697.1,452.1 698.1,452.3 699.1,452.6 700.1,452.9 701.1,453.1 702.1,453.4 703.1,453.6 704.1,453.9 705.1,454.1 706.1,454.3 707.1,454.6 708.1,454.8 709.1,455.0 710.1,455.2 711.1,455.5 712.1,455.7 713.1,455.9 714.1,456.1 715.1,456.3 716.1,456.5 717.1,456.6 718.1,456.8 719.1,457.0 720.1,457.2 721.1,457.4 722.1,457.5 723.1,457.7 724.1,457.9 725.1,458.0 726.1,458.2 727.1,458.3 728.1,458.5 729.1,458.7 730.1,458.8 731.1,458.9 732.1,459.1 733.1,459.2 734.1,459.4 735.1,459.5 736.1,459.6 737.1,459.7 738.1,459.9 739.1,460.0 740.1,460.1 741.1,460.2 742.1,460.3 743.1,460.5 744.1,460.6 745.1,460.7 746.1,460.8 747.1,460.9 748.1,461.0 749.1,461.1 750.1,461.2 751.1,461.3 752.1,461.4 753.1,461.5 754.1,461.6 755.1,461.6 756.1,461.7 757.1,461.8 758.1,461.9 759.1,462.0 760.1,462.0 761.1,462.1 762.1,462.2 763.1,462.3 764.1,462.3 765.1,462.4 766.1,462.5 767.1,462.6 768.1,462.6 769.1,462.7 770.1,462.7 771.1,462.8 772.1,462.9 773.1,462.9 774.1,463.0 775.1,463.0 776.1,463.1 777.1,463.2 778.1,463.2 779.1,463.3 780.1,463.3 781.1,463.4 782.1,463.4 783.1,463.5 784.1,463.5 785.1,463.5" fill="none" stroke="#69b42f" stroke-width="2.1" stroke-linejoin="round"/>
<polyline points="215.1,464.9 216.1,464.9 217.1,464.9 218.1,464.8 219.1,464.8 220.1,464.8 221.1,464.8 222.1,464.8 223.1,464.8 224.1,464.7 225.1,464.7 226.1,464.7 227.1,464.7 228.1,464.7 229.1,464.7 230.1,464.6 231.1,464.6 232.1,464.6 233.1,464.6 234.1,464.6 235.1,464.5 236.1,464.5 237.1,464.5 238.1,464.5 239.1,464.5 240.1,464.4 241.1,464.4 242.1,464.4 243.1,464.4 244.1,464.3 245.1,464.3 246.1,464.3 247.1,464.3 248.1,464.2 249.1,464.2 250.1,464.2 251.1,464.2 252.1,464.1 253.1,464.1 254.1,464.1 255.1,464.0 256.1,464.0 257.1,464.0 258.1,463.9 259.1,463.9 260.1,463.9 261.1,463.8 262.1,463.8 263.1,463.8 264.1,463.7 265.1,463.7 266.1,463.7 267.1,463.6 268.1,463.6 269.1,463.5 270.1,463.5 271.1,463.4 272.1,463.4 273.1,463.4 274.1,463.3 275.1,463.3 276.1,463.2 277.1,463.2 278.1,463.1 279.1,463.1 280.1,463.0 281.1,463.0 282.1,462.9 283.1,462.8 284.1,462.8 285.1,462.7 286.1,462.7 287.1,462.6 288.1,462.5 289.1,462.5 290.1,462.4 291.1,462.3 292.1,462.2 293.1,462.2 294.1,462.1 295.1,462.0 296.1,461.9 297.1,461.8 298.1,461.8 299.1,461.7 300.1,461.6 301.1,461.5 302.1,461.4 303.1,461.3 304.1,461.2 305.1,461.1 306.1,461.0 307.1,460.9 308.1,460.8 309.1,460.6 310.1,460.5 311.1,460.4 312.1,460.3 313.1,460.1 314.1,460.0 315.1,459.9 316.1,459.7 317.1,459.6 318.1,459.4 319.1,459.2 320.1,459.1 321.1,458.9 322.1,458.7 323.1,458.5 324.1,458.4 325.1,458.2 326.1,458.0 327.1,457.7 328.1,457.5 329.1,457.3 330.1,457.1 331.1,456.8 332.1,456.6 333.1,456.3 334.1,456.0 335.1,455.8 336.1,455.5 337.1,455.2 338.1,454.9 339.1,454.5 340.1,454.2 341.1,453.9 342.1,453.5 343.1,453.1 344.1,452.8 345.1,452.3 346.1,451.9 347.1,451.5 348.1,451.1 349.1,450.6 350.1,450.1 351.1,449.6 352.1,449.1 353.1,448.6 354.1,448.0 355.1,447.4 356.1,446.8 357.1,446.2 358.1,445.5 359.1,444.9 360.1,444.2 361.1,443.5 362.1,442.7 363.1,441.9 364.1,441.1 365.1,440.3 366.1,439.5 367.1,438.6 368.1,437.6 369.1,436.7 370.1,435.7 371.1,434.7 372.1,433.6 373.1,432.5 374.1,431.4 375.1,430.2 376.1,429.0 377.1,427.7 378.1,426.4 379.1,425.1 380.1,423.7 381.1,422.3 382.1,420.8 383.1,419.3 384.1,417.7 385.1,416.1 386.1,414.5 387.1,412.7 388.1,411.0 389.1,409.2 390.1,407.3 391.1,405.4 392.1,403.4 393.1,401.3 394.1,399.2 395.1,397.1 396.1,394.9 397.1,392.6 398.1,390.3 399.1,387.9 400.1,385.4 401.1,382.9 402.1,380.3 403.1,377.7 404.1,375.0 405.1,372.2 406.1,369.4 407.1,366.5 408.1,363.5 409.1,360.5 410.1,357.4 411.1,354.3 412.1,351.0 413.1,347.8 414.1,344.4 415.1,341.0 416.1,337.6 417.1,334.0 418.1,330.5 419.1,326.8 420.1,323.1 421.1,319.4 422.1,315.6 423.1,311.7 424.1,307.8 425.1,303.8 426.1,299.8 427.1,295.7 428.1,291.6 429.1,287.4 430.1,283.2 431.1,279.0 432.1,274.7 433.1,270.4 434.1,266.0 435.1,261.7 436.1,257.3 437.1,252.8 438.1,248.4 439.1,243.9 440.1,239.4 441.1,234.9 442.1,230.4 443.1,225.9 444.1,221.4 445.1,216.9 446.1,212.4 447.1,207.9 448.1,203.4 449.1,199.0 450.1,194.6 451.1,190.1 452.1,185.8 453.1,181.4 454.1,177.1 455.1,172.9 456.1,168.6 457.1,164.5 458.1,160.4 459.1,156.3 460.1,152.3 461.1,148.4 462.1,144.6 463.1,140.8 464.1,137.1 465.1,133.5 466.1,130.0 467.1,126.6 468.1,123.3 469.1,120.1 470.1,117.0 471.1,114.0 472.1,111.1 473.1,108.4 474.1,105.7 475.1,103.2 476.1,100.8 477.1,98.6 478.1,96.4 479.1,94.4 480.1,92.6 481.1,90.9 482.1,89.3 483.1,87.9 484.1,86.6 485.1,85.5 486.1,84.5 487.1,83.7 488.1,83.0 489.1,82.5 490.1,82.1 491.1,81.9 492.1,81.8 493.1,81.9 494.1,82.1 495.1,82.5 496.1,83.0 497.1,83.7 498.1,84.5 499.1,85.5 500.1,86.6 501.1,87.8 502.1,89.2 503.1,90.7 504.1,92.3 505.1,94.1 506.1,96.0 507.1,98.0 508.1,100.1 509.1,102.4 510.1,104.7 511.1,107.2 512.1,109.8 513.1,112.5 514.1,115.2 515.1,118.1 516.1,121.0 517.1,124.1 518.1,127.2 519.1,130.4 520.1,133.6 521.1,137.0 522.1,140.3 523.1,143.8 524.1,147.3 525.1,150.8 526.1,154.4 527.1,158.1 528.1,161.7 529.1,165.4 530.1,169.2 531.1,172.9 532.1,176.7 533.1,180.5 534.1,184.3 535.1,188.1 536.1,191.9 537.1,195.8 538.1,199.6 539.1,203.4 540.1,207.2 541.1,211.0 542.1,214.8 543.1,218.6 544.1,222.3 545.1,226.1 546.1,229.8 547.1,233.5 548.1,237.2 549.1,240.8 550.1,244.4 551.1,248.0 552.1,251.6 553.1,255.1 554.1,258.6 555.1,262.0 556.1,265.5 557.1,268.8 558.1,272.2 559.1,275.5 560.1,278.7 561.1,281.9 562.1,285.1 563.1,288.2 564.1,291.3 565.1,294.4 566.1,297.4 567.1,300.3 568.1,303.3 569.1,306.1 570.1,309.0 571.1,311.8 572.1,314.5 573.1,317.2 574.1,319.9 575.1,322.5 576.1,325.0 577.1,327.6 578.1,330.1 579.1,332.5 580.1,334.9 581.1,337.3 582.1,339.6 583.1,341.9 584.1,344.1 585.1,346.3 586.1,348.5 587.1,350.6 588.1,352.7 589.1,354.8 590.1,356.8 591.1,358.8 592.1,360.7 593.1,362.6 594.1,364.5 595.1,366.4 596.1,368.2 597.1,369.9 598.1,371.7 599.1,373.4 600.1,375.1 601.1,376.7 602.1,378.3 603.1,379.9 604.1,381.5 605.1,383.0 606.1,384.5 607.1,386.0 608.1,387.4 609.1,388.9 610.1,390.3 611.1,391.6 612.1,393.0 613.1,394.3 614.1,395.6 615.1,396.9 616.1,398.1 617.1,399.3 618.1,400.5 619.1,401.7 620.1,402.9 621.1,404.0 622.1,405.1 623.1,406.2 624.1,407.3 625.1,408.4 626.1,409.4 627.1,410.4 628.1,411.5 629.1,412.4 630.1,413.4 631.1,414.4 632.1,415.3 633.1,416.2 634.1,417.1 635.1,418.0 636.1,418.9 637.1,419.7 638.1,420.6 639.1,421.4 640.1,422.2 641.1,423.0 642.1,423.8 643.1,424.5 644.1,425.3 645.1,426.0 646.1,426.7 647.1,427.5 648.1,428.2 649.1,428.9 650.1,429.5 651.1,430.2 652.1,430.8 653.1,431.5 654.1,432.1 655.1,432.7 656.1,433.4 657.1,434.0 658.1,434.5 659.1,435.1 660.1,435.7 661.1,436.2 662.1,436.8 663.1,437.3 664.1,437.9 665.1,438.4 666.1,438.9 667.1,439.4 668.1,439.9 669.1,440.4 670.1,440.9 671.1,441.3 672.1,441.8 673.1,442.2 674.1,442.7 675.1,443.1 676.1,443.5 677.1,444.0 678.1,444.4 679.1,444.8 680.1,445.2 681.1,445.6 682.1,446.0 683.1,446.3 684.1,446.7 685.1,447.1 686.1,447.4 687.1,447.8 688.1,448.1 689.1,448.5 690.1,448.8 691.1,449.1 692.1,449.5 693.1,449.8 694.1,450.1 695.1,450.4 696.1,450.7 697.1,451.0 698.1,451.3 699.1,451.6 700.1,451.8 701.1,452.1 702.1,452.4 703.1,452.6 704.1,452.9 705.1,453.2 706.1,453.4 707.1,453.7 708.1,453.9 709.1,454.1 710.1,454.4 711.1,454.6 712.1,454.8 713.1,455.0 714.1,455.2 715.1,455.5 716.1,455.7 717.1,455.9 718.1,456.1 719.1,456.3 720.1,456.5 721.1,456.6 722.1,456.8 723.1,457.0 724.1,457.2 725.1,457.4 726.1,457.5 727.1,457.7 728.1,457.9 729.1,458.0 730.1,458.2 731.1,458.3 732.1,458.5 733.1,458.6 734.1,458.8 735.1,458.9 736.1,459.1 737.1,459.2 738.1,459.3 739.1,459.5 740.1,459.6 741.1,459.7 742.1,459.8 743.1,460.0 744.1,460.1 745.1,460.2 746.1,460.3 747.1,460.4 748.1,460.5 749.1,460.6 750.1,460.7 751.1,460.9 752.1,461.0 753.1,461.1 754.1,461.1 755.1,461.2 756.1,461.3 757.1,461.4 758.1,461.5 759.1,461.6 760.1,461.7 761.1,461.8 762.1,461.9 763.1,461.9 764.1,462.0 765.1,462.1 766.1,462.2 767.1,462.2 768.1,462.3 769.1,462.4 770.1,462.5 771.1,462.5 772.1,462.6 773.1,462.7 774.1,462.7 775.1,462.8 776.1,462.8 777.1,462.9 778.1,463.0 779.1,463.0 780.1,463.1 781.1,463.1 782.1,463.2 783.1,463.2 784.1,463.3 785.1,463.3" fill="none" stroke="#2350a5" stroke-width="2.1" stroke-linejoin="round"/>
<polyline points="215.1,464.9 216.1,464.9 217.1,464.8 218.1,464.8 219.1,464.8 220.1,464.8 221.1,464.8 222.1,464.8 223.1,464.8 224.1,464.7 225.1,464.7 226.1,464.7 227.1,464.7 228.1,464.7 229.1,464.6 230.1,464.6 231.1,464.6 232.1,464.6 233.1,464.6 234.1,464.6 235.1,464.5 236.1,464.5 237.1,464.5 238.1,464.5 239.1,464.4 240.1,464.4 241.1,464.4 242.1,464.4 243.1,464.4 244.1,464.3 245.1,464.3 246.1,464.3 247.1,464.3 248.1,464.2 249.1,464.2 250.1,464.2 251.1,464.1 252.1,464.1 253.1,464.1 254.1,464.1 255.1,464.0 256.1,464.0 257.1,464.0 258.1,463.9 259.1,463.9 260.1,463.9 261.1,463.8 262.1,463.8 263.1,463.7 264.1,463.7 265.1,463.7 266.1,463.6 267.1,463.6 268.1,463.6 269.1,463.5 270.1,463.5 271.1,463.4 272.1,463.4 273.1,463.3 274.1,463.3 275.1,463.2 276.1,463.2 277.1,463.1 278.1,463.1 279.1,463.0 280.1,463.0 281.1,462.9 282.1,462.9 283.1,462.8 284.1,462.7 285.1,462.7 286.1,462.6 287.1,462.6 288.1,462.5 289.1,462.4 290.1,462.4 291.1,462.3 292.1,462.2 293.1,462.1 294.1,462.1 295.1,462.0 296.1,461.9 297.1,461.8 298.1,461.7 299.1,461.6 300.1,461.5 301.1,461.5 302.1,461.4 303.1,461.3 304.1,461.2 305.1,461.1 306.1,460.9 307.1,460.8 308.1,460.7 309.1,460.6 310.1,460.5 311.1,460.4 312.1,460.2 313.1,460.1 314.1,460.0 315.1,459.8 316.1,459.7 317.1,459.5 318.1,459.4 319.1,459.2 320.1,459.0 321.1,458.9 322.1,458.7 323.1,458.5 324.1,458.3 325.1,458.1 326.1,457.9 327.1,457.7 328.1,457.5 329.1,457.3 330.1,457.0 331.1,456.8 332.1,456.5 333.1,456.3 334.1,456.0 335.1,455.7 336.1,455.4 337.1,455.1 338.1,454.8 339.1,454.5 340.1,454.2 341.1,453.8 342.1,453.5 343.1,453.1 344.1,452.7 345.1,452.3 346.1,451.9 347.1,451.5 348.1,451.0 349.1,450.5 350.1,450.1 351.1,449.6 352.1,449.0 353.1,448.5 354.1,448.0 355.1,447.4 356.1,446.8 357.1,446.2 358.1,445.5 359.1,444.8 360.1,444.1 361.1,443.4 362.1,442.7 363.1,441.9 364.1,441.1 365.1,440.3 366.1,439.4 367.1,438.5 368.1,437.6 369.1,436.6 370.1,435.7 371.1,434.6 372.1,433.6 373.1,432.5 374.1,431.3 375.1,430.2 376.1,428.9 377.1,427.7 378.1,426.4 379.1,425.1 380.1,423.7 381.1,422.2 382.1,420.8 383.1,419.2 384.1,417.7 385.1,416.0 386.1,414.4 387.1,412.7 388.1,410.9 389.1,409.0 390.1,407.2 391.1,405.2 392.1,403.2 393.1,401.2 394.1,399.1 395.1,396.9 396.1,394.7 397.1,392.4 398.1,390.0 399.1,387.6 400.1,385.2 401.1,382.6 402.1,380.0 403.1,377.4 404.1,374.6 405.1,371.8 406.1,369.0 407.1,366.1 408.1,363.1 409.1,360.0 410.1,356.9 411.1,353.7 412.1,350.5 413.1,347.2 414.1,343.8 415.1,340.3 416.1,336.8 417.1,333.3 418.1,329.6 419.1,326.0 420.1,322.2 421.1,318.4 422.1,314.5 423.1,310.6 424.1,306.6 425.1,302.6 426.1,298.5 427.1,294.4 428.1,290.2 429.1,285.9 430.1,281.7 431.1,277.3 432.1,273.0 433.1,268.6 434.1,264.2 435.1,259.7 436.1,255.2 437.1,250.7 438.1,246.1 439.1,241.6 440.1,237.0 441.1,232.4 442.1,227.8 443.1,223.1 444.1,218.5 445.1,213.9 446.1,209.3 447.1,204.7 448.1,200.1 449.1,195.5 450.1,190.9 451.1,186.4 452.1,181.9 453.1,177.4 454.1,172.9 455.1,168.5 456.1,164.2 457.1,159.9 458.1,155.6 459.1,151.4 460.1,147.3 461.1,143.2 462.1,139.3 463.1,135.3 464.1,131.5 465.1,127.8 466.1,124.1 467.1,120.5 468.1,117.1 469.1,113.7 470.1,110.4 471.1,107.3 472.1,104.3 473.1,101.3 474.1,98.6 475.1,95.9 476.1,93.3 477.1,90.9 478.1,88.6 479.1,86.5 480.1,84.5 481.1,82.6 482.1,80.9 483.1,79.4 484.1,77.9 485.1,76.7 486.1,75.6 487.1,74.6 488.1,73.8 489.1,73.2 490.1,72.7 491.1,72.3 492.1,72.2 493.1,72.1 494.1,72.3 495.1,72.5 496.1,73.0 497.1,73.5 498.1,74.3 499.1,75.1 500.1,76.1 501.1,77.3 502.1,78.6 503.1,80.0 504.1,81.5 505.1,83.2 506.1,85.0 507.1,87.0 508.1,89.0 509.1,91.2 510.1,93.5 511.1,95.9 512.1,98.4 513.1,101.1 514.1,103.8 515.1,106.6 516.1,109.5 517.1,112.5 518.1,115.6 519.1,118.8 520.1,122.0 521.1,125.3 522.1,128.7 523.1,132.1 524.1,135.6 525.1,139.2 526.1,142.8 527.1,146.4 528.1,150.1 529.1,153.8 530.1,157.6 531.1,161.4 532.1,165.2 533.1,169.0 534.1,172.8 535.1,176.7 536.1,180.6 537.1,184.4 538.1,188.3 539.1,192.2 540.1,196.1 541.1,200.0 542.1,203.8 543.1,207.7 544.1,211.5 545.1,215.3 546.1,219.1 547.1,222.9 548.1,226.7 549.1,230.4 550.1,234.1 551.1,237.8 552.1,241.5 553.1,245.1 554.1,248.7 555.1,252.2 556.1,255.7 557.1,259.2 558.1,262.6 559.1,266.0 560.1,269.4 561.1,272.7 562.1,276.0 563.1,279.2 564.1,282.4 565.1,285.6 566.1,288.7 567.1,291.8 568.1,294.8 569.1,297.8 570.1,300.7 571.1,303.6 572.1,306.5 573.1,309.3 574.1,312.0 575.1,314.7 576.1,317.4 577.1,320.1 578.1,322.7 579.1,325.2 580.1,327.7 581.1,330.2 582.1,332.6 583.1,335.0 584.1,337.3 585.1,339.6 586.1,341.9 587.1,344.1 588.1,346.3 589.1,348.5 590.1,350.6 591.1,352.6 592.1,354.7 593.1,356.7 594.1,358.6 595.1,360.6 596.1,362.5 597.1,364.3 598.1,366.1 599.1,367.9 600.1,369.7 601.1,371.4 602.1,373.1 603.1,374.8 604.1,376.4 605.1,378.0 606.1,379.6 607.1,381.2 608.1,382.7 609.1,384.2 610.1,385.6 611.1,387.1 612.1,388.5 613.1,389.9 614.1,391.3 615.1,392.6 616.1,393.9 617.1,395.2 618.1,396.5 619.1,397.7 620.1,398.9 621.1,400.1 622.1,401.3 623.1,402.5 624.1,403.6 625.1,404.7 626.1,405.8 627.1,406.9 628.1,407.9 629.1,409.0 630.1,410.0 631.1,411.0 632.1,412.0 633.1,413.0 634.1,413.9 635.1,414.8 636.1,415.8 637.1,416.7 638.1,417.5 639.1,418.4 640.1,419.3 641.1,420.1 642.1,420.9 643.1,421.7 644.1,422.5 645.1,423.3 646.1,424.1 647.1,424.8 648.1,425.6 649.1,426.3 650.1,427.0 651.1,427.7 652.1,428.4 653.1,429.1 654.1,429.8 655.1,430.4 656.1,431.1 657.1,431.7 658.1,432.3 659.1,432.9 660.1,433.5 661.1,434.1 662.1,434.7 663.1,435.3 664.1,435.8 665.1,436.4 666.1,436.9 667.1,437.5 668.1,438.0 669.1,438.5 670.1,439.0 671.1,439.5 672.1,440.0 673.1,440.5 674.1,440.9 675.1,441.4 676.1,441.9 677.1,442.3 678.1,442.7 679.1,443.2 680.1,443.6 681.1,444.0 682.1,444.4 683.1,444.8 684.1,445.2 685.1,445.6 686.1,446.0 687.1,446.4 688.1,446.7 689.1,447.1 690.1,447.5 691.1,447.8 692.1,448.1 693.1,448.5 694.1,448.8 695.1,449.1 696.1,449.5 697.1,449.8 698.1,450.1 699.1,450.4 700.1,450.7 701.1,451.0 702.1,451.3 703.1,451.5 704.1,451.8 705.1,452.1 706.1,452.4 707.1,452.6 708.1,452.9 709.1,453.1 710.1,453.4 711.1,453.6 712.1,453.9 713.1,454.1 714.1,454.3 715.1,454.6 716.1,454.8 717.1,455.0 718.1,455.2 719.1,455.4 720.1,455.6 721.1,455.8 722.1,456.0 723.1,456.2 724.1,456.4 725.1,456.6 726.1,456.8 727.1,457.0 728.1,457.1 729.1,457.3 730.1,457.5 731.1,457.6 732.1,457.8 733.1,458.0 734.1,458.1 735.1,458.3 736.1,458.4 737.1,458.6 738.1,458.7 739.1,458.9 740.1,459.0 741.1,459.1 742.1,459.3 743.1,459.4 744.1,459.5 745.1,459.7 746.1,459.8 747.1,459.9 748.1,460.0 749.1,460.1 750.1,460.3 751.1,460.4 752.1,460.5 753.1,460.6 754.1,460.7 755.1,460.8 756.1,460.9 757.1,461.0 758.1,461.1 759.1,461.2 760.1,461.3 761.1,461.4 762.1,461.5 763.1,461.6 764.1,461.6 765.1,461.7 766.1,461.8 767.1,461.9 768.1,462.0 769.1,462.0 770.1,462.1 771.1,462.2 772.1,462.3 773.1,462.3 774.1,462.4 775.1,462.5 776.1,462.5 777.1,462.6 778.1,462.7 779.1,462.7 780.1,462.8 781.1,462.8 782.1,462.9 783.1,463.0 784.1,463.0 785.1,463.1" fill="none" stroke="#5a4799" stroke-width="2.1" stroke-linejoin="round"/>
<rect x="1023.4" y="58.7" width="561.1" height="411" fill="none" stroke="#000" stroke-width="2.3"/>
<line x1="1051.12" y1="469.7" x2="1051.12" y2="464" stroke="#000" stroke-width="2" stroke-linecap="butt"/>
<line x1="1135.5" y1="469.7" x2="1135.5" y2="459.9" stroke="#000" stroke-width="2" stroke-linecap="butt"/>
<line x1="1219.88" y1="469.7" x2="1219.88" y2="464" stroke="#000" stroke-width="2" stroke-linecap="butt"/>
<line x1="1304.25" y1="469.7" x2="1304.25" y2="459.9" stroke="#000" stroke-width="2" stroke-linecap="butt"/>
<line x1="1388.62" y1="469.7" x2="1388.62" y2="464" stroke="#000" stroke-width="2" stroke-linecap="butt"/>
<line x1="1473" y1="469.7" x2="1473" y2="459.9" stroke="#000" stroke-width="2" stroke-linecap="butt"/>
<line x1="1557.38" y1="469.7" x2="1557.38" y2="464" stroke="#000" stroke-width="2" stroke-linecap="butt"/>
<line x1="1023.4" y1="402.06" x2="1029.1" y2="402.06" stroke="#000" stroke-width="2" stroke-linecap="butt"/>
<line x1="1023.4" y1="334.32" x2="1033.2" y2="334.32" stroke="#000" stroke-width="2" stroke-linecap="butt"/>
<line x1="1023.4" y1="266.58" x2="1029.1" y2="266.58" stroke="#000" stroke-width="2" stroke-linecap="butt"/>
<line x1="1023.4" y1="198.84" x2="1033.2" y2="198.84" stroke="#000" stroke-width="2" stroke-linecap="butt"/>
<line x1="1023.4" y1="131.1" x2="1029.1" y2="131.1" stroke="#000" stroke-width="2" stroke-linecap="butt"/>
<line x1="1023.4" y1="63.36" x2="1033.2" y2="63.36" stroke="#000" stroke-width="2" stroke-linecap="butt"/>
<text transform="translate(1109.24,508.4) scale(1.0,1.04)" font-size="33.6" font-weight="normal" fill="#000" >480</text>
<text transform="translate(1277.7,508.4) scale(1.0,1.04)" font-size="33.6" font-weight="normal" fill="#000" >510</text>
<text transform="translate(1446.45,508.4) scale(1.0,1.04)" font-size="33.6" font-weight="normal" fill="#000" >540</text>
<text transform="translate(963.3,474.03) scale(1.0,1.04)" font-size="33.6" font-weight="normal" fill="#000" >0.0</text>
<text transform="translate(896.13,343.55) scale(1.0,1.04)" font-size="33.6" font-weight="normal" fill="#000" >3.0×10</text>
<text transform="translate(999.17,332.23) scale(1.0,1.04)" font-size="18.6" font-weight="normal" fill="#2a2a2a" >6</text>
<text transform="translate(896.13,208.07) scale(1.0,1.04)" font-size="33.6" font-weight="normal" fill="#000" >6.0×10</text>
<text transform="translate(999.17,196.75) scale(1.0,1.04)" font-size="18.6" font-weight="normal" fill="#2a2a2a" >6</text>
<text transform="translate(896.13,72.59) scale(1.0,1.04)" font-size="33.6" font-weight="normal" fill="#000" >9.0×10</text>
<text transform="translate(999.17,61.27) scale(1.0,1.04)" font-size="18.6" font-weight="normal" fill="#2a2a2a" >6</text>
<text transform="translate(1165.45,557.02) scale(1.0,1.04)" font-size="33.6" font-weight="normal" fill="#000" >Wavelength (nm)</text>
<text transform="translate(868.72,352.06) rotate(-90) scale(1,1.04)" font-size="33.6">PL intensity</text>
<line x1="1426.1" y1="124.3" x2="1473.5" y2="124.3" stroke="#000000" stroke-width="2.3" stroke-linecap="butt"/>
<text transform="translate(1480.74,131.3) scale(1,1.04)" font-size="33.6">Day0</text>
<line x1="1426.1" y1="165.1" x2="1473.5" y2="165.1" stroke="#e8151d" stroke-width="2.3" stroke-linecap="butt"/>
<text transform="translate(1480.74,172.1) scale(1,1.04)" font-size="33.6">Day1</text>
<line x1="1426.1" y1="205.9" x2="1473.5" y2="205.9" stroke="#ee8426" stroke-width="2.3" stroke-linecap="butt"/>
<text transform="translate(1480.74,212.9) scale(1,1.04)" font-size="33.6">Day2</text>
<line x1="1426.1" y1="246.7" x2="1473.5" y2="246.7" stroke="#e8e43c" stroke-width="2.3" stroke-linecap="butt"/>
<text transform="translate(1480.74,253.7) scale(1,1.04)" font-size="33.6">Day3</text>
<line x1="1426.1" y1="287.5" x2="1473.5" y2="287.5" stroke="#69b42f" stroke-width="2.3" stroke-linecap="butt"/>
<text transform="translate(1480.74,294.5) scale(1,1.04)" font-size="33.6">Day4</text>
<line x1="1426.1" y1="328.3" x2="1473.5" y2="328.3" stroke="#2350a5" stroke-width="2.3" stroke-linecap="butt"/>
<text transform="translate(1480.74,335.3) scale(1,1.04)" font-size="33.6">Day5</text>
<line x1="1426.1" y1="369.1" x2="1473.5" y2="369.1" stroke="#5a4799" stroke-width="2.3" stroke-linecap="butt"/>
<text transform="translate(1480.74,376.1) scale(1,1.04)" font-size="33.6">Day6</text>
<polyline points="1019.8,469.5 1020.8,469.5 1021.8,469.5 1022.8,469.5 1023.8,469.5 1024.8,469.5 1025.8,469.5 1026.8,469.5 1027.8,469.5 1028.8,469.5 1029.8,469.5 1030.8,469.5 1031.8,469.5 1032.8,469.5 1033.8,469.5 1034.8,469.5 1035.8,469.5 1036.8,469.4 1037.8,469.4 1038.8,469.4 1039.8,469.4 1040.8,469.4 1041.8,469.4 1042.8,469.4 1043.8,469.4 1044.8,469.4 1045.8,469.4 1046.8,469.4 1047.8,469.3 1048.8,469.3 1049.8,469.3 1050.8,469.3 1051.8,469.3 1052.8,469.3 1053.8,469.2 1054.8,469.2 1055.8,469.2 1056.8,469.2 1057.8,469.2 1058.8,469.1 1059.8,469.1 1060.8,469.1 1061.8,469.1 1062.8,469.0 1063.8,469.0 1064.8,469.0 1065.8,468.9 1066.8,468.9 1067.8,468.9 1068.8,468.8 1069.8,468.8 1070.8,468.8 1071.8,468.7 1072.8,468.7 1073.8,468.6 1074.8,468.6 1075.8,468.5 1076.8,468.5 1077.8,468.4 1078.8,468.3 1079.8,468.3 1080.8,468.2 1081.8,468.1 1082.8,468.0 1083.8,467.9 1084.8,467.9 1085.8,467.8 1086.8,467.7 1087.8,467.6 1088.8,467.5 1089.8,467.3 1090.8,467.2 1091.8,467.1 1092.8,467.0 1093.8,466.8 1094.8,466.7 1095.8,466.5 1096.8,466.4 1097.8,466.2 1098.8,466.0 1099.8,465.9 1100.8,465.7 1101.8,465.5 1102.8,465.2 1103.8,465.0 1104.8,464.8 1105.8,464.6 1106.8,464.3 1107.8,464.0 1108.8,463.8 1109.8,463.5 1110.8,463.2 1111.8,462.8 1112.8,462.5 1113.8,462.2 1114.8,461.8 1115.8,461.4 1116.8,461.0 1117.8,460.6 1118.8,460.2 1119.8,459.8 1120.8,459.3 1121.8,458.8 1122.8,458.3 1123.8,457.8 1124.8,457.3 1125.8,456.7 1126.8,456.1 1127.8,455.5 1128.8,454.9 1129.8,454.2 1130.8,453.5 1131.8,452.8 1132.8,452.1 1133.8,451.3 1134.8,450.5 1135.8,449.7 1136.8,448.9 1137.8,448.0 1138.8,447.1 1139.8,446.2 1140.8,445.2 1141.8,444.2 1142.8,443.1 1143.8,442.1 1144.8,441.0 1145.8,439.8 1146.8,438.6 1147.8,437.4 1148.8,436.2 1149.8,434.9 1150.8,433.5 1151.8,432.2 1152.8,430.7 1153.8,429.3 1154.8,427.8 1155.8,426.2 1156.8,424.6 1157.8,423.0 1158.8,421.3 1159.8,419.6 1160.8,417.8 1161.8,416.0 1162.8,414.2 1163.8,412.2 1164.8,410.3 1165.8,408.3 1166.8,406.2 1167.8,404.1 1168.8,401.9 1169.8,399.7 1170.8,397.5 1171.8,395.2 1172.8,392.8 1173.8,390.4 1174.8,387.9 1175.8,385.4 1176.8,382.9 1177.8,380.3 1178.8,377.6 1179.8,374.9 1180.8,372.1 1181.8,369.3 1182.8,366.4 1183.8,363.5 1184.8,360.6 1185.8,357.5 1186.8,354.5 1187.8,351.4 1188.8,348.2 1189.8,345.0 1190.8,341.7 1191.8,338.4 1192.8,335.1 1193.8,331.7 1194.8,328.3 1195.8,324.8 1196.8,321.3 1197.8,317.8 1198.8,314.2 1199.8,310.5 1200.8,306.9 1201.8,303.2 1202.8,299.4 1203.8,295.7 1204.8,291.9 1205.8,288.1 1206.8,284.2 1207.8,280.3 1208.8,276.4 1209.8,272.5 1210.8,268.6 1211.8,264.6 1212.8,260.6 1213.8,256.6 1214.8,252.6 1215.8,248.6 1216.8,244.6 1217.8,240.5 1218.8,236.5 1219.8,232.4 1220.8,228.4 1221.8,224.4 1222.8,220.3 1223.8,216.3 1224.8,212.2 1225.8,208.2 1226.8,204.2 1227.8,200.2 1228.8,196.2 1229.8,192.3 1230.8,188.4 1231.8,184.4 1232.8,180.6 1233.8,176.7 1234.8,172.9 1235.8,169.1 1236.8,165.3 1237.8,161.6 1238.8,158.0 1239.8,154.4 1240.8,150.8 1241.8,147.3 1242.8,143.8 1243.8,140.4 1244.8,137.1 1245.8,133.8 1246.8,130.6 1247.8,127.5 1248.8,124.4 1249.8,121.5 1250.8,118.6 1251.8,115.9 1252.8,113.2 1253.8,110.6 1254.8,108.1 1255.8,105.8 1256.8,103.6 1257.8,101.4 1258.8,99.5 1259.8,97.6 1260.8,95.9 1261.8,94.3 1262.8,92.9 1263.8,91.6 1264.8,90.5 1265.8,89.6 1266.8,88.8 1267.8,88.2 1268.8,87.7 1269.8,87.4 1270.8,87.3 1271.8,87.3 1272.8,87.5 1273.8,87.8 1274.8,88.2 1275.8,88.7 1276.8,89.4 1277.8,90.2 1278.8,91.1 1279.8,92.2 1280.8,93.4 1281.8,94.6 1282.8,96.1 1283.8,97.6 1284.8,99.2 1285.8,101.0 1286.8,102.8 1287.8,104.8 1288.8,106.9 1289.8,109.0 1290.8,111.3 1291.8,113.7 1292.8,116.1 1293.8,118.7 1294.8,121.3 1295.8,124.0 1296.8,126.8 1297.8,129.7 1298.8,132.7 1299.8,135.7 1300.8,138.8 1301.8,141.9 1302.8,145.2 1303.8,148.4 1304.8,151.8 1305.8,155.1 1306.8,158.5 1307.8,162.0 1308.8,165.5 1309.8,169.1 1310.8,172.6 1311.8,176.2 1312.8,179.8 1313.8,183.5 1314.8,187.2 1315.8,190.9 1316.8,194.6 1317.8,198.3 1318.8,202.0 1319.8,205.7 1320.8,209.4 1321.8,213.2 1322.8,216.9 1323.8,220.6 1324.8,224.3 1325.8,228.0 1326.8,231.7 1327.8,235.4 1328.8,239.1 1329.8,242.7 1330.8,246.3 1331.8,249.9 1332.8,253.5 1333.8,257.1 1334.8,260.6 1335.8,264.1 1336.8,267.6 1337.8,271.0 1338.8,274.5 1339.8,277.8 1340.8,281.2 1341.8,284.5 1342.8,287.8 1343.8,291.0 1344.8,294.2 1345.8,297.4 1346.8,300.5 1347.8,303.6 1348.8,306.7 1349.8,309.7 1350.8,312.7 1351.8,315.6 1352.8,318.5 1353.8,321.3 1354.8,324.1 1355.8,326.9 1356.8,329.6 1357.8,332.3 1358.8,335.0 1359.8,337.6 1360.8,340.1 1361.8,342.7 1362.8,345.1 1363.8,347.6 1364.8,350.0 1365.8,352.3 1366.8,354.7 1367.8,356.9 1368.8,359.2 1369.8,361.4 1370.8,363.5 1371.8,365.7 1372.8,367.7 1373.8,369.8 1374.8,371.8 1375.8,373.8 1376.8,375.7 1377.8,377.6 1378.8,379.5 1379.8,381.3 1380.8,383.1 1381.8,384.9 1382.8,386.6 1383.8,388.3 1384.8,389.9 1385.8,391.6 1386.8,393.2 1387.8,394.7 1388.8,396.3 1389.8,397.8 1390.8,399.2 1391.8,400.7 1392.8,402.1 1393.8,403.5 1394.8,404.8 1395.8,406.2 1396.8,407.5 1397.8,408.7 1398.8,410.0 1399.8,411.2 1400.8,412.4 1401.8,413.6 1402.8,414.7 1403.8,415.8 1404.8,416.9 1405.8,418.0 1406.8,419.1 1407.8,420.1 1408.8,421.1 1409.8,422.1 1410.8,423.1 1411.8,424.0 1412.8,425.0 1413.8,425.9 1414.8,426.8 1415.8,427.6 1416.8,428.5 1417.8,429.3 1418.8,430.1 1419.8,430.9 1420.8,431.7 1421.8,432.5 1422.8,433.2 1423.8,434.0 1424.8,434.7 1425.8,435.4 1426.8,436.1 1427.8,436.7 1428.8,437.4 1429.8,438.0 1430.8,438.7 1431.8,439.3 1432.8,439.9 1433.8,440.5 1434.8,441.0 1435.8,441.6 1436.8,442.2 1437.8,442.7 1438.8,443.2 1439.8,443.7 1440.8,444.3 1441.8,444.7 1442.8,445.2 1443.8,445.7 1444.8,446.2 1445.8,446.6 1446.8,447.1 1447.8,447.5 1448.8,447.9 1449.8,448.4 1450.8,448.8 1451.8,449.2 1452.8,449.6 1453.8,449.9 1454.8,450.3 1455.8,450.7 1456.8,451.0 1457.8,451.4 1458.8,451.7 1459.8,452.1 1460.8,452.4 1461.8,452.7 1462.8,453.0 1463.8,453.4 1464.8,453.7 1465.8,454.0 1466.8,454.2 1467.8,454.5 1468.8,454.8 1469.8,455.1 1470.8,455.3 1471.8,455.6 1472.8,455.9 1473.8,456.1 1474.8,456.4 1475.8,456.6 1476.8,456.8 1477.8,457.1 1478.8,457.3 1479.8,457.5 1480.8,457.7 1481.8,458.0 1482.8,458.2 1483.8,458.4 1484.8,458.6 1485.8,458.8 1486.8,459.0 1487.8,459.1 1488.8,459.3 1489.8,459.5 1490.8,459.7 1491.8,459.9 1492.8,460.0 1493.8,460.2 1494.8,460.4 1495.8,460.5 1496.8,460.7 1497.8,460.8 1498.8,461.0 1499.8,461.1 1500.8,461.3 1501.8,461.4 1502.8,461.6 1503.8,461.7 1504.8,461.8 1505.8,462.0 1506.8,462.1 1507.8,462.2 1508.8,462.4 1509.8,462.5 1510.8,462.6 1511.8,462.7 1512.8,462.8 1513.8,462.9 1514.8,463.1 1515.8,463.2 1516.8,463.3 1517.8,463.4 1518.8,463.5 1519.8,463.6 1520.8,463.7 1521.8,463.8 1522.8,463.9 1523.8,464.0 1524.8,464.1 1525.8,464.1 1526.8,464.2 1527.8,464.3 1528.8,464.4 1529.8,464.5 1530.8,464.6 1531.8,464.7 1532.8,464.7 1533.8,464.8 1534.8,464.9 1535.8,465.0 1536.8,465.0 1537.8,465.1 1538.8,465.2 1539.8,465.3 1540.8,465.3 1541.8,465.4 1542.8,465.5 1543.8,465.5 1544.8,465.6 1545.8,465.6 1546.8,465.7 1547.8,465.8 1548.8,465.8 1549.8,465.9 1550.8,465.9 1551.8,466.0 1552.8,466.1 1553.8,466.1 1554.8,466.2 1555.8,466.2 1556.8,466.3 1557.8,466.3 1558.8,466.4 1559.8,466.4 1560.8,466.5 1561.8,466.5 1562.8,466.6 1563.8,466.6 1564.8,466.7 1565.8,466.7 1566.8,466.8 1567.8,466.8 1568.8,466.8 1569.8,466.9 1570.8,466.9 1571.8,467.0 1572.8,467.0 1573.8,467.0 1574.8,467.1 1575.8,467.1 1576.8,467.2 1577.8,467.2 1578.8,467.2 1579.8,467.3 1580.8,467.3 1581.8,467.3 1582.8,467.4 1583.8,467.4 1584.8,467.4 1585.8,467.5 1586.8,467.5 1587.8,467.5 1588.8,467.6" fill="none" stroke="#000000" stroke-width="2.1" stroke-linejoin="round"/>
<polyline points="1019.8,469.5 1020.8,469.5 1021.8,469.5 1022.8,469.5 1023.8,469.5 1024.8,469.5 1025.8,469.5 1026.8,469.5 1027.8,469.5 1028.8,469.5 1029.8,469.5 1030.8,469.5 1031.8,469.5 1032.8,469.5 1033.8,469.5 1034.8,469.5 1035.8,469.5 1036.8,469.4 1037.8,469.4 1038.8,469.4 1039.8,469.4 1040.8,469.4 1041.8,469.4 1042.8,469.4 1043.8,469.4 1044.8,469.4 1045.8,469.4 1046.8,469.4 1047.8,469.3 1048.8,469.3 1049.8,469.3 1050.8,469.3 1051.8,469.3 1052.8,469.3 1053.8,469.2 1054.8,469.2 1055.8,469.2 1056.8,469.2 1057.8,469.2 1058.8,469.1 1059.8,469.1 1060.8,469.1 1061.8,469.1 1062.8,469.0 1063.8,469.0 1064.8,469.0 1065.8,468.9 1066.8,468.9 1067.8,468.9 1068.8,468.8 1069.8,468.8 1070.8,468.8 1071.8,468.7 1072.8,468.7 1073.8,468.6 1074.8,468.6 1075.8,468.5 1076.8,468.5 1077.8,468.4 1078.8,468.3 1079.8,468.3 1080.8,468.2 1081.8,468.1 1082.8,468.0 1083.8,467.9 1084.8,467.9 1085.8,467.8 1086.8,467.7 1087.8,467.6 1088.8,467.5 1089.8,467.3 1090.8,467.2 1091.8,467.1 1092.8,467.0 1093.8,466.8 1094.8,466.7 1095.8,466.5 1096.8,466.4 1097.8,466.2 1098.8,466.0 1099.8,465.9 1100.8,465.7 1101.8,465.5 1102.8,465.2 1103.8,465.0 1104.8,464.8 1105.8,464.6 1106.8,464.3 1107.8,464.0 1108.8,463.8 1109.8,463.5 1110.8,463.2 1111.8,462.8 1112.8,462.5 1113.8,462.2 1114.8,461.8 1115.8,461.4 1116.8,461.0 1117.8,460.6 1118.8,460.2 1119.8,459.8 1120.8,459.3 1121.8,458.8 1122.8,458.3 1123.8,457.8 1124.8,457.3 1125.8,456.7 1126.8,456.1 1127.8,455.5 1128.8,454.9 1129.8,454.2 1130.8,453.5 1131.8,452.8 1132.8,452.1 1133.8,451.3 1134.8,450.5 1135.8,449.7 1136.8,448.9 1137.8,448.0 1138.8,447.1 1139.8,446.2 1140.8,445.2 1141.8,444.2 1142.8,443.1 1143.8,442.1 1144.8,441.0 1145.8,439.8 1146.8,438.6 1147.8,437.4 1148.8,436.2 1149.8,434.9 1150.8,433.5 1151.8,432.2 1152.8,430.7 1153.8,429.3 1154.8,427.8 1155.8,426.2 1156.8,424.6 1157.8,423.0 1158.8,421.3 1159.8,419.6 1160.8,417.8 1161.8,416.0 1162.8,414.2 1163.8,412.2 1164.8,410.3 1165.8,408.3 1166.8,406.2 1167.8,404.1 1168.8,401.9 1169.8,399.7 1170.8,397.5 1171.8,395.2 1172.8,392.8 1173.8,390.4 1174.8,387.9 1175.8,385.4 1176.8,382.9 1177.8,380.3 1178.8,377.6 1179.8,374.9 1180.8,372.1 1181.8,369.3 1182.8,366.4 1183.8,363.5 1184.8,360.6 1185.8,357.5 1186.8,354.5 1187.8,351.4 1188.8,348.2 1189.8,345.0 1190.8,341.7 1191.8,338.4 1192.8,335.1 1193.8,331.7 1194.8,328.3 1195.8,324.8 1196.8,321.3 1197.8,317.8 1198.8,314.2 1199.8,310.5 1200.8,306.9 1201.8,303.2 1202.8,299.4 1203.8,295.7 1204.8,291.9 1205.8,288.1 1206.8,284.2 1207.8,280.3 1208.8,276.4 1209.8,272.5 1210.8,268.6 1211.8,264.6 1212.8,260.6 1213.8,256.6 1214.8,252.6 1215.8,248.6 1216.8,244.6 1217.8,240.5 1218.8,236.5 1219.8,232.4 1220.8,228.4 1221.8,224.4 1222.8,220.3 1223.8,216.3 1224.8,212.2 1225.8,208.2 1226.8,204.2 1227.8,200.2 1228.8,196.2 1229.8,192.3 1230.8,188.4 1231.8,184.4 1232.8,180.6 1233.8,176.7 1234.8,172.9 1235.8,169.1 1236.8,165.3 1237.8,161.6 1238.8,158.0 1239.8,154.4 1240.8,150.8 1241.8,147.3 1242.8,143.8 1243.8,140.4 1244.8,137.1 1245.8,133.8 1246.8,130.6 1247.8,127.5 1248.8,124.4 1249.8,121.5 1250.8,118.6 1251.8,115.9 1252.8,113.2 1253.8,110.6 1254.8,108.1 1255.8,105.8 1256.8,103.6 1257.8,101.4 1258.8,99.5 1259.8,97.6 1260.8,95.9 1261.8,94.3 1262.8,92.9 1263.8,91.6 1264.8,90.5 1265.8,89.6 1266.8,88.8 1267.8,88.2 1268.8,87.7 1269.8,87.4 1270.8,87.3 1271.8,87.3 1272.8,87.5 1273.8,87.8 1274.8,88.2 1275.8,88.7 1276.8,89.4 1277.8,90.2 1278.8,91.1 1279.8,92.2 1280.8,93.4 1281.8,94.6 1282.8,96.1 1283.8,97.6 1284.8,99.2 1285.8,101.0 1286.8,102.8 1287.8,104.8 1288.8,106.9 1289.8,109.0 1290.8,111.3 1291.8,113.7 1292.8,116.1 1293.8,118.7 1294.8,121.3 1295.8,124.0 1296.8,126.8 1297.8,129.7 1298.8,132.7 1299.8,135.7 1300.8,138.8 1301.8,141.9 1302.8,145.2 1303.8,148.4 1304.8,151.8 1305.8,155.1 1306.8,158.5 1307.8,162.0 1308.8,165.5 1309.8,169.1 1310.8,172.6 1311.8,176.2 1312.8,179.8 1313.8,183.5 1314.8,187.2 1315.8,190.9 1316.8,194.6 1317.8,198.3 1318.8,202.0 1319.8,205.7 1320.8,209.4 1321.8,213.2 1322.8,216.9 1323.8,220.6 1324.8,224.3 1325.8,228.0 1326.8,231.7 1327.8,235.4 1328.8,239.1 1329.8,242.7 1330.8,246.3 1331.8,249.9 1332.8,253.5 1333.8,257.1 1334.8,260.6 1335.8,264.1 1336.8,267.6 1337.8,271.0 1338.8,274.5 1339.8,277.8 1340.8,281.2 1341.8,284.5 1342.8,287.8 1343.8,291.0 1344.8,294.2 1345.8,297.4 1346.8,300.5 1347.8,303.6 1348.8,306.7 1349.8,309.7 1350.8,312.7 1351.8,315.6 1352.8,318.5 1353.8,321.3 1354.8,324.1 1355.8,326.9 1356.8,329.6 1357.8,332.3 1358.8,335.0 1359.8,337.6 1360.8,340.1 1361.8,342.7 1362.8,345.1 1363.8,347.6 1364.8,350.0 1365.8,352.3 1366.8,354.7 1367.8,356.9 1368.8,359.2 1369.8,361.4 1370.8,363.5 1371.8,365.7 1372.8,367.7 1373.8,369.8 1374.8,371.8 1375.8,373.8 1376.8,375.7 1377.8,377.6 1378.8,379.5 1379.8,381.3 1380.8,383.1 1381.8,384.9 1382.8,386.6 1383.8,388.3 1384.8,389.9 1385.8,391.6 1386.8,393.2 1387.8,394.7 1388.8,396.3 1389.8,397.8 1390.8,399.2 1391.8,400.7 1392.8,402.1 1393.8,403.5 1394.8,404.8 1395.8,406.2 1396.8,407.5 1397.8,408.7 1398.8,410.0 1399.8,411.2 1400.8,412.4 1401.8,413.6 1402.8,414.7 1403.8,415.8 1404.8,416.9 1405.8,418.0 1406.8,419.1 1407.8,420.1 1408.8,421.1 1409.8,422.1 1410.8,423.1 1411.8,424.0 1412.8,425.0 1413.8,425.9 1414.8,426.8 1415.8,427.6 1416.8,428.5 1417.8,429.3 1418.8,430.1 1419.8,430.9 1420.8,431.7 1421.8,432.5 1422.8,433.2 1423.8,434.0 1424.8,434.7 1425.8,435.4 1426.8,436.1 1427.8,436.7 1428.8,437.4 1429.8,438.0 1430.8,438.7 1431.8,439.3 1432.8,439.9 1433.8,440.5 1434.8,441.0 1435.8,441.6 1436.8,442.2 1437.8,442.7 1438.8,443.2 1439.8,443.7 1440.8,444.3 1441.8,444.7 1442.8,445.2 1443.8,445.7 1444.8,446.2 1445.8,446.6 1446.8,447.1 1447.8,447.5 1448.8,447.9 1449.8,448.4 1450.8,448.8 1451.8,449.2 1452.8,449.6 1453.8,449.9 1454.8,450.3 1455.8,450.7 1456.8,451.0 1457.8,451.4 1458.8,451.7 1459.8,452.1 1460.8,452.4 1461.8,452.7 1462.8,453.0 1463.8,453.4 1464.8,453.7 1465.8,454.0 1466.8,454.2 1467.8,454.5 1468.8,454.8 1469.8,455.1 1470.8,455.3 1471.8,455.6 1472.8,455.9 1473.8,456.1 1474.8,456.4 1475.8,456.6 1476.8,456.8 1477.8,457.1 1478.8,457.3 1479.8,457.5 1480.8,457.7 1481.8,458.0 1482.8,458.2 1483.8,458.4 1484.8,458.6 1485.8,458.8 1486.8,459.0 1487.8,459.1 1488.8,459.3 1489.8,459.5 1490.8,459.7 1491.8,459.9 1492.8,460.0 1493.8,460.2 1494.8,460.4 1495.8,460.5 1496.8,460.7 1497.8,460.8 1498.8,461.0 1499.8,461.1 1500.8,461.3 1501.8,461.4 1502.8,461.6 1503.8,461.7 1504.8,461.8 1505.8,462.0 1506.8,462.1 1507.8,462.2 1508.8,462.4 1509.8,462.5 1510.8,462.6 1511.8,462.7 1512.8,462.8 1513.8,462.9 1514.8,463.1 1515.8,463.2 1516.8,463.3 1517.8,463.4 1518.8,463.5 1519.8,463.6 1520.8,463.7 1521.8,463.8 1522.8,463.9 1523.8,464.0 1524.8,464.1 1525.8,464.1 1526.8,464.2 1527.8,464.3 1528.8,464.4 1529.8,464.5 1530.8,464.6 1531.8,464.7 1532.8,464.7 1533.8,464.8 1534.8,464.9 1535.8,465.0 1536.8,465.0 1537.8,465.1 1538.8,465.2 1539.8,465.3 1540.8,465.3 1541.8,465.4 1542.8,465.5 1543.8,465.5 1544.8,465.6 1545.8,465.6 1546.8,465.7 1547.8,465.8 1548.8,465.8 1549.8,465.9 1550.8,465.9 1551.8,466.0 1552.8,466.1 1553.8,466.1 1554.8,466.2 1555.8,466.2 1556.8,466.3 1557.8,466.3 1558.8,466.4 1559.8,466.4 1560.8,466.5 1561.8,466.5 1562.8,466.6 1563.8,466.6 1564.8,466.7 1565.8,466.7 1566.8,466.8 1567.8,466.8 1568.8,466.8 1569.8,466.9 1570.8,466.9 1571.8,467.0 1572.8,467.0 1573.8,467.0 1574.8,467.1 1575.8,467.1 1576.8,467.2 1577.8,467.2 1578.8,467.2 1579.8,467.3 1580.8,467.3 1581.8,467.3 1582.8,467.4 1583.8,467.4 1584.8,467.4 1585.8,467.5 1586.8,467.5 1587.8,467.5 1588.8,467.6" fill="none" stroke="#e8151d" stroke-width="2.1" stroke-linejoin="round"/>
<polyline points="1019.8,469.3 1020.8,469.3 1021.8,469.3 1022.8,469.3 1023.8,469.3 1024.8,469.3 1025.8,469.3 1026.8,469.2 1027.8,469.2 1028.8,469.2 1029.8,469.2 1030.8,469.2 1031.8,469.2 1032.8,469.2 1033.8,469.2 1034.8,469.1 1035.8,469.1 1036.8,469.1 1037.8,469.1 1038.8,469.1 1039.8,469.1 1040.8,469.0 1041.8,469.0 1042.8,469.0 1043.8,469.0 1044.8,469.0 1045.8,468.9 1046.8,468.9 1047.8,468.9 1048.8,468.9 1049.8,468.9 1050.8,468.8 1051.8,468.8 1052.8,468.8 1053.8,468.8 1054.8,468.7 1055.8,468.7 1056.8,468.7 1057.8,468.7 1058.8,468.6 1059.8,468.6 1060.8,468.6 1061.8,468.5 1062.8,468.5 1063.8,468.5 1064.8,468.5 1065.8,468.4 1066.8,468.4 1067.8,468.4 1068.8,468.3 1069.8,468.3 1070.8,468.2 1071.8,468.2 1072.8,468.2 1073.8,468.1 1074.8,468.1 1075.8,468.0 1076.8,468.0 1077.8,468.0 1078.8,467.9 1079.8,467.9 1080.8,467.8 1081.8,467.8 1082.8,467.7 1083.8,467.6 1084.8,467.6 1085.8,467.5 1086.8,467.5 1087.8,467.4 1088.8,467.3 1089.8,467.3 1090.8,467.2 1091.8,467.1 1092.8,467.1 1093.8,467.0 1094.8,466.9 1095.8,466.8 1096.8,466.8 1097.8,466.7 1098.8,466.6 1099.8,466.5 1100.8,466.4 1101.8,466.3 1102.8,466.2 1103.8,466.1 1104.8,466.0 1105.8,465.9 1106.8,465.7 1107.8,465.6 1108.8,465.5 1109.8,465.4 1110.8,465.2 1111.8,465.1 1112.8,464.9 1113.8,464.8 1114.8,464.6 1115.8,464.4 1116.8,464.3 1117.8,464.1 1118.8,463.9 1119.8,463.7 1120.8,463.5 1121.8,463.3 1122.8,463.1 1123.8,462.8 1124.8,462.6 1125.8,462.4 1126.8,462.1 1127.8,461.8 1128.8,461.6 1129.8,461.3 1130.8,461.0 1131.8,460.7 1132.8,460.3 1133.8,460.0 1134.8,459.6 1135.8,459.3 1136.8,458.9 1137.8,458.5 1138.8,458.1 1139.8,457.6 1140.8,457.2 1141.8,456.7 1142.8,456.2 1143.8,455.7 1144.8,455.2 1145.8,454.6 1146.8,454.1 1147.8,453.5 1148.8,452.9 1149.8,452.2 1150.8,451.6 1151.8,450.9 1152.8,450.2 1153.8,449.4 1154.8,448.7 1155.8,447.9 1156.8,447.0 1157.8,446.2 1158.8,445.3 1159.8,444.4 1160.8,443.4 1161.8,442.4 1162.8,441.4 1163.8,440.4 1164.8,439.3 1165.8,438.1 1166.8,436.9 1167.8,435.7 1168.8,434.5 1169.8,433.2 1170.8,431.8 1171.8,430.5 1172.8,429.0 1173.8,427.6 1174.8,426.0 1175.8,424.5 1176.8,422.9 1177.8,421.2 1178.8,419.5 1179.8,417.7 1180.8,415.9 1181.8,414.0 1182.8,412.1 1183.8,410.1 1184.8,408.1 1185.8,406.0 1186.8,403.9 1187.8,401.7 1188.8,399.4 1189.8,397.1 1190.8,394.7 1191.8,392.3 1192.8,389.8 1193.8,387.3 1194.8,384.7 1195.8,382.0 1196.8,379.3 1197.8,376.5 1198.8,373.6 1199.8,370.7 1200.8,367.7 1201.8,364.7 1202.8,361.6 1203.8,358.4 1204.8,355.2 1205.8,352.0 1206.8,348.6 1207.8,345.2 1208.8,341.8 1209.8,338.3 1210.8,334.7 1211.8,331.1 1212.8,327.4 1213.8,323.7 1214.8,320.0 1215.8,316.1 1216.8,312.3 1217.8,308.3 1218.8,304.4 1219.8,300.4 1220.8,296.3 1221.8,292.2 1222.8,288.1 1223.8,284.0 1224.8,279.8 1225.8,275.5 1226.8,271.3 1227.8,267.0 1228.8,262.7 1229.8,258.3 1230.8,254.0 1231.8,249.6 1232.8,245.2 1233.8,240.9 1234.8,236.5 1235.8,232.1 1236.8,227.6 1237.8,223.2 1238.8,218.8 1239.8,214.5 1240.8,210.1 1241.8,205.7 1242.8,201.4 1243.8,197.0 1244.8,192.7 1245.8,188.5 1246.8,184.2 1247.8,180.0 1248.8,175.9 1249.8,171.8 1250.8,167.7 1251.8,163.7 1252.8,159.7 1253.8,155.8 1254.8,152.0 1255.8,148.2 1256.8,144.5 1257.8,140.8 1258.8,137.3 1259.8,133.8 1260.8,130.4 1261.8,127.1 1262.8,123.8 1263.8,120.7 1264.8,117.7 1265.8,114.7 1266.8,111.9 1267.8,109.2 1268.8,106.6 1269.8,104.0 1270.8,101.7 1271.8,99.4 1272.8,97.2 1273.8,95.2 1274.8,93.2 1275.8,91.4 1276.8,89.8 1277.8,88.2 1278.8,86.8 1279.8,85.5 1280.8,84.4 1281.8,83.4 1282.8,82.5 1283.8,81.8 1284.8,81.2 1285.8,80.7 1286.8,80.4 1287.8,80.2 1288.8,80.1 1289.8,80.3 1290.8,80.6 1291.8,81.1 1292.8,81.8 1293.8,82.7 1294.8,83.7 1295.8,84.9 1296.8,86.4 1297.8,87.9 1298.8,89.6 1299.8,91.5 1300.8,93.5 1301.8,95.7 1302.8,98.0 1303.8,100.4 1304.8,102.9 1305.8,105.5 1306.8,108.2 1307.8,111.0 1308.8,113.9 1309.8,116.8 1310.8,119.8 1311.8,122.9 1312.8,126.0 1313.8,129.2 1314.8,132.4 1315.8,135.6 1316.8,138.9 1317.8,142.2 1318.8,145.5 1319.8,148.8 1320.8,152.1 1321.8,155.5 1322.8,158.8 1323.8,162.2 1324.8,165.5 1325.8,168.9 1326.8,172.2 1327.8,175.6 1328.8,178.9 1329.8,182.2 1330.8,185.6 1331.8,188.9 1332.8,192.2 1333.8,195.5 1334.8,198.7 1335.8,202.0 1336.8,205.2 1337.8,208.5 1338.8,211.7 1339.8,214.9 1340.8,218.1 1341.8,221.2 1342.8,224.4 1343.8,227.5 1344.8,230.6 1345.8,233.7 1346.8,236.8 1347.8,239.9 1348.8,242.9 1349.8,245.9 1350.8,248.9 1351.8,251.9 1352.8,254.9 1353.8,257.8 1354.8,260.8 1355.8,263.7 1356.8,266.6 1357.8,269.5 1358.8,272.3 1359.8,275.2 1360.8,278.0 1361.8,280.8 1362.8,283.6 1363.8,286.3 1364.8,289.1 1365.8,291.8 1366.8,294.5 1367.8,297.2 1368.8,299.8 1369.8,302.5 1370.8,305.1 1371.8,307.7 1372.8,310.3 1373.8,312.8 1374.8,315.3 1375.8,317.8 1376.8,320.3 1377.8,322.8 1378.8,325.2 1379.8,327.7 1380.8,330.0 1381.8,332.4 1382.8,334.8 1383.8,337.1 1384.8,339.4 1385.8,341.7 1386.8,343.9 1387.8,346.2 1388.8,348.4 1389.8,350.5 1390.8,352.7 1391.8,354.8 1392.8,356.9 1393.8,359.0 1394.8,361.1 1395.8,363.1 1396.8,365.1 1397.8,367.1 1398.8,369.1 1399.8,371.0 1400.8,372.9 1401.8,374.8 1402.8,376.7 1403.8,378.5 1404.8,380.3 1405.8,382.1 1406.8,383.8 1407.8,385.6 1408.8,387.3 1409.8,389.0 1410.8,390.6 1411.8,392.2 1412.8,393.9 1413.8,395.4 1414.8,397.0 1415.8,398.5 1416.8,400.0 1417.8,401.5 1418.8,403.0 1419.8,404.4 1420.8,405.8 1421.8,407.2 1422.8,408.6 1423.8,409.9 1424.8,411.2 1425.8,412.5 1426.8,413.8 1427.8,415.0 1428.8,416.3 1429.8,417.5 1430.8,418.7 1431.8,419.8 1432.8,420.9 1433.8,422.1 1434.8,423.1 1435.8,424.2 1436.8,425.3 1437.8,426.3 1438.8,427.3 1439.8,428.3 1440.8,429.3 1441.8,430.2 1442.8,431.1 1443.8,432.0 1444.8,432.9 1445.8,433.8 1446.8,434.7 1447.8,435.5 1448.8,436.3 1449.8,437.1 1450.8,437.9 1451.8,438.6 1452.8,439.4 1453.8,440.1 1454.8,440.8 1455.8,441.5 1456.8,442.2 1457.8,442.9 1458.8,443.5 1459.8,444.1 1460.8,444.7 1461.8,445.4 1462.8,445.9 1463.8,446.5 1464.8,447.1 1465.8,447.6 1466.8,448.1 1467.8,448.7 1468.8,449.2 1469.8,449.7 1470.8,450.1 1471.8,450.6 1472.8,451.1 1473.8,451.5 1474.8,451.9 1475.8,452.4 1476.8,452.8 1477.8,453.2 1478.8,453.6 1479.8,454.0 1480.8,454.3 1481.8,454.7 1482.8,455.0 1483.8,455.4 1484.8,455.7 1485.8,456.0 1486.8,456.3 1487.8,456.6 1488.8,456.9 1489.8,457.2 1490.8,457.5 1491.8,457.8 1492.8,458.0 1493.8,458.3 1494.8,458.6 1495.8,458.8 1496.8,459.0 1497.8,459.3 1498.8,459.5 1499.8,459.7 1500.8,459.9 1501.8,460.1 1502.8,460.3 1503.8,460.5 1504.8,460.7 1505.8,460.9 1506.8,461.1 1507.8,461.2 1508.8,461.4 1509.8,461.6 1510.8,461.7 1511.8,461.9 1512.8,462.0 1513.8,462.2 1514.8,462.3 1515.8,462.4 1516.8,462.6 1517.8,462.7 1518.8,462.8 1519.8,462.9 1520.8,463.1 1521.8,463.2 1522.8,463.3 1523.8,463.4 1524.8,463.5 1525.8,463.6 1526.8,463.7 1527.8,463.8 1528.8,463.9 1529.8,464.0 1530.8,464.1 1531.8,464.2 1532.8,464.2 1533.8,464.3 1534.8,464.4 1535.8,464.5 1536.8,464.6 1537.8,464.6 1538.8,464.7 1539.8,464.8 1540.8,464.8 1541.8,464.9 1542.8,465.0 1543.8,465.0 1544.8,465.1 1545.8,465.1 1546.8,465.2 1547.8,465.3 1548.8,465.3 1549.8,465.4 1550.8,465.4 1551.8,465.5 1552.8,465.5 1553.8,465.6 1554.8,465.6 1555.8,465.7 1556.8,465.7 1557.8,465.7 1558.8,465.8 1559.8,465.8 1560.8,465.9 1561.8,465.9 1562.8,465.9 1563.8,466.0 1564.8,466.0 1565.8,466.1 1566.8,466.1 1567.8,466.1 1568.8,466.2 1569.8,466.2 1570.8,466.2 1571.8,466.3 1572.8,466.3 1573.8,466.3 1574.8,466.3 1575.8,466.4 1576.8,466.4 1577.8,466.4 1578.8,466.5 1579.8,466.5 1580.8,466.5 1581.8,466.5 1582.8,466.6 1583.8,466.6 1584.8,466.6 1585.8,466.6 1586.8,466.7 1587.8,466.7 1588.8,466.7" fill="none" stroke="#ee8426" stroke-width="2.1" stroke-linejoin="round"/>
<polyline points="1019.8,469.3 1020.8,469.3 1021.8,469.3 1022.8,469.3 1023.8,469.3 1024.8,469.2 1025.8,469.2 1026.8,469.2 1027.8,469.2 1028.8,469.2 1029.8,469.2 1030.8,469.2 1031.8,469.1 1032.8,469.1 1033.8,469.1 1034.8,469.1 1035.8,469.1 1036.8,469.1 1037.8,469.0 1038.8,469.0 1039.8,469.0 1040.8,469.0 1041.8,469.0 1042.8,468.9 1043.8,468.9 1044.8,468.9 1045.8,468.9 1046.8,468.9 1047.8,468.8 1048.8,468.8 1049.8,468.8 1050.8,468.8 1051.8,468.7 1052.8,468.7 1053.8,468.7 1054.8,468.7 1055.8,468.6 1056.8,468.6 1057.8,468.6 1058.8,468.6 1059.8,468.5 1060.8,468.5 1061.8,468.5 1062.8,468.4 1063.8,468.4 1064.8,468.4 1065.8,468.3 1066.8,468.3 1067.8,468.3 1068.8,468.2 1069.8,468.2 1070.8,468.2 1071.8,468.1 1072.8,468.1 1073.8,468.0 1074.8,468.0 1075.8,467.9 1076.8,467.9 1077.8,467.9 1078.8,467.8 1079.8,467.8 1080.8,467.7 1081.8,467.7 1082.8,467.6 1083.8,467.5 1084.8,467.5 1085.8,467.4 1086.8,467.4 1087.8,467.3 1088.8,467.2 1089.8,467.2 1090.8,467.1 1091.8,467.0 1092.8,467.0 1093.8,466.9 1094.8,466.8 1095.8,466.7 1096.8,466.6 1097.8,466.6 1098.8,466.5 1099.8,466.4 1100.8,466.3 1101.8,466.2 1102.8,466.1 1103.8,466.0 1104.8,465.9 1105.8,465.8 1106.8,465.6 1107.8,465.5 1108.8,465.4 1109.8,465.3 1110.8,465.1 1111.8,465.0 1112.8,464.9 1113.8,464.7 1114.8,464.5 1115.8,464.4 1116.8,464.2 1117.8,464.0 1118.8,463.9 1119.8,463.7 1120.8,463.5 1121.8,463.3 1122.8,463.1 1123.8,462.8 1124.8,462.6 1125.8,462.4 1126.8,462.1 1127.8,461.9 1128.8,461.6 1129.8,461.3 1130.8,461.0 1131.8,460.7 1132.8,460.4 1133.8,460.1 1134.8,459.7 1135.8,459.4 1136.8,459.0 1137.8,458.6 1138.8,458.2 1139.8,457.8 1140.8,457.3 1141.8,456.9 1142.8,456.4 1143.8,455.9 1144.8,455.4 1145.8,454.9 1146.8,454.3 1147.8,453.7 1148.8,453.1 1149.8,452.5 1150.8,451.9 1151.8,451.2 1152.8,450.5 1153.8,449.8 1154.8,449.0 1155.8,448.2 1156.8,447.4 1157.8,446.6 1158.8,445.7 1159.8,444.8 1160.8,443.8 1161.8,442.8 1162.8,441.8 1163.8,440.8 1164.8,439.7 1165.8,438.6 1166.8,437.4 1167.8,436.2 1168.8,434.9 1169.8,433.7 1170.8,432.3 1171.8,430.9 1172.8,429.5 1173.8,428.0 1174.8,426.5 1175.8,425.0 1176.8,423.3 1177.8,421.7 1178.8,419.9 1179.8,418.2 1180.8,416.3 1181.8,414.5 1182.8,412.5 1183.8,410.5 1184.8,408.5 1185.8,406.4 1186.8,404.2 1187.8,402.0 1188.8,399.7 1189.8,397.4 1190.8,395.0 1191.8,392.5 1192.8,390.0 1193.8,387.4 1194.8,384.8 1195.8,382.1 1196.8,379.3 1197.8,376.5 1198.8,373.6 1199.8,370.7 1200.8,367.6 1201.8,364.6 1202.8,361.4 1203.8,358.2 1204.8,355.0 1205.8,351.7 1206.8,348.3 1207.8,344.9 1208.8,341.4 1209.8,337.8 1210.8,334.3 1211.8,330.6 1212.8,326.9 1213.8,323.1 1214.8,319.3 1215.8,315.5 1216.8,311.6 1217.8,307.6 1218.8,303.7 1219.8,299.6 1220.8,295.6 1221.8,291.5 1222.8,287.3 1223.8,283.2 1224.8,279.0 1225.8,274.7 1226.8,270.5 1227.8,266.2 1228.8,261.9 1229.8,257.6 1230.8,253.3 1231.8,249.0 1232.8,244.7 1233.8,240.3 1234.8,236.0 1235.8,231.7 1236.8,227.4 1237.8,223.0 1238.8,218.8 1239.8,214.5 1240.8,210.2 1241.8,206.0 1242.8,201.8 1243.8,197.6 1244.8,193.5 1245.8,189.4 1246.8,185.4 1247.8,181.4 1248.8,177.4 1249.8,173.5 1250.8,169.7 1251.8,166.0 1252.8,162.3 1253.8,158.6 1254.8,155.1 1255.8,151.6 1256.8,148.2 1257.8,144.9 1258.8,141.7 1259.8,138.6 1260.8,135.6 1261.8,132.7 1262.8,129.9 1263.8,127.2 1264.8,124.6 1265.8,122.1 1266.8,119.7 1267.8,117.5 1268.8,115.3 1269.8,113.3 1270.8,111.4 1271.8,109.7 1272.8,108.0 1273.8,106.5 1274.8,105.2 1275.8,104.0 1276.8,102.9 1277.8,101.9 1278.8,101.1 1279.8,100.4 1280.8,99.9 1281.8,99.5 1282.8,99.2 1283.8,99.1 1284.8,99.1 1285.8,99.3 1286.8,99.7 1287.8,100.1 1288.8,100.8 1289.8,101.5 1290.8,102.5 1291.8,103.5 1292.8,104.7 1293.8,106.1 1294.8,107.5 1295.8,109.1 1296.8,110.9 1297.8,112.7 1298.8,114.7 1299.8,116.7 1300.8,118.9 1301.8,121.1 1302.8,123.5 1303.8,125.9 1304.8,128.5 1305.8,131.1 1306.8,133.8 1307.8,136.5 1308.8,139.3 1309.8,142.2 1310.8,145.1 1311.8,148.1 1312.8,151.1 1313.8,154.2 1314.8,157.3 1315.8,160.5 1316.8,163.6 1317.8,166.8 1318.8,170.0 1319.8,173.3 1320.8,176.6 1321.8,179.8 1322.8,183.1 1323.8,186.4 1324.8,189.7 1325.8,193.0 1326.8,196.3 1327.8,199.7 1328.8,203.0 1329.8,206.3 1330.8,209.6 1331.8,212.9 1332.8,216.2 1333.8,219.5 1334.8,222.8 1335.8,226.1 1336.8,229.3 1337.8,232.6 1338.8,235.8 1339.8,239.0 1340.8,242.3 1341.8,245.5 1342.8,248.6 1343.8,251.8 1344.8,254.9 1345.8,258.1 1346.8,261.2 1347.8,264.3 1348.8,267.3 1349.8,270.4 1350.8,273.4 1351.8,276.4 1352.8,279.4 1353.8,282.3 1354.8,285.3 1355.8,288.2 1356.8,291.1 1357.8,294.0 1358.8,296.8 1359.8,299.6 1360.8,302.4 1361.8,305.2 1362.8,307.9 1363.8,310.6 1364.8,313.3 1365.8,316.0 1366.8,318.6 1367.8,321.2 1368.8,323.8 1369.8,326.4 1370.8,328.9 1371.8,331.4 1372.8,333.9 1373.8,336.3 1374.8,338.8 1375.8,341.2 1376.8,343.5 1377.8,345.8 1378.8,348.2 1379.8,350.4 1380.8,352.7 1381.8,354.9 1382.8,357.1 1383.8,359.2 1384.8,361.4 1385.8,363.5 1386.8,365.6 1387.8,367.6 1388.8,369.6 1389.8,371.6 1390.8,373.6 1391.8,375.5 1392.8,377.4 1393.8,379.3 1394.8,381.1 1395.8,382.9 1396.8,384.7 1397.8,386.4 1398.8,388.2 1399.8,389.9 1400.8,391.5 1401.8,393.2 1402.8,394.8 1403.8,396.4 1404.8,397.9 1405.8,399.5 1406.8,401.0 1407.8,402.5 1408.8,403.9 1409.8,405.3 1410.8,406.7 1411.8,408.1 1412.8,409.5 1413.8,410.8 1414.8,412.1 1415.8,413.3 1416.8,414.6 1417.8,415.8 1418.8,417.0 1419.8,418.2 1420.8,419.3 1421.8,420.4 1422.8,421.5 1423.8,422.6 1424.8,423.7 1425.8,424.7 1426.8,425.7 1427.8,426.7 1428.8,427.7 1429.8,428.6 1430.8,429.5 1431.8,430.4 1432.8,431.3 1433.8,432.2 1434.8,433.0 1435.8,433.9 1436.8,434.7 1437.8,435.4 1438.8,436.2 1439.8,437.0 1440.8,437.7 1441.8,438.4 1442.8,439.1 1443.8,439.8 1444.8,440.5 1445.8,441.1 1446.8,441.7 1447.8,442.3 1448.8,442.9 1449.8,443.5 1450.8,444.1 1451.8,444.7 1452.8,445.2 1453.8,445.7 1454.8,446.2 1455.8,446.7 1456.8,447.2 1457.8,447.7 1458.8,448.2 1459.8,448.6 1460.8,449.1 1461.8,449.5 1462.8,449.9 1463.8,450.3 1464.8,450.7 1465.8,451.1 1466.8,451.5 1467.8,451.8 1468.8,452.2 1469.8,452.5 1470.8,452.9 1471.8,453.2 1472.8,453.5 1473.8,453.8 1474.8,454.1 1475.8,454.4 1476.8,454.7 1477.8,455.0 1478.8,455.2 1479.8,455.5 1480.8,455.8 1481.8,456.0 1482.8,456.2 1483.8,456.5 1484.8,456.7 1485.8,456.9 1486.8,457.1 1487.8,457.4 1488.8,457.6 1489.8,457.8 1490.8,458.0 1491.8,458.1 1492.8,458.3 1493.8,458.5 1494.8,458.7 1495.8,458.8 1496.8,459.0 1497.8,459.2 1498.8,459.3 1499.8,459.5 1500.8,459.6 1501.8,459.8 1502.8,459.9 1503.8,460.0 1504.8,460.2 1505.8,460.3 1506.8,460.4 1507.8,460.5 1508.8,460.7 1509.8,460.8 1510.8,460.9 1511.8,461.0 1512.8,461.1 1513.8,461.2 1514.8,461.3 1515.8,461.4 1516.8,461.5 1517.8,461.6 1518.8,461.7 1519.8,461.8 1520.8,461.9 1521.8,462.0 1522.8,462.1 1523.8,462.2 1524.8,462.2 1525.8,462.3 1526.8,462.4 1527.8,462.5 1528.8,462.5 1529.8,462.6 1530.8,462.7 1531.8,462.8 1532.8,462.8 1533.8,462.9 1534.8,463.0 1535.8,463.0 1536.8,463.1 1537.8,463.1 1538.8,463.2 1539.8,463.3 1540.8,463.3 1541.8,463.4 1542.8,463.4 1543.8,463.5 1544.8,463.6 1545.8,463.6 1546.8,463.7 1547.8,463.7 1548.8,463.8 1549.8,463.8 1550.8,463.9 1551.8,463.9 1552.8,464.0 1553.8,464.0 1554.8,464.0 1555.8,464.1 1556.8,464.1 1557.8,464.2 1558.8,464.2 1559.8,464.3 1560.8,464.3 1561.8,464.3 1562.8,464.4 1563.8,464.4 1564.8,464.5 1565.8,464.5 1566.8,464.5 1567.8,464.6 1568.8,464.6 1569.8,464.7 1570.8,464.7 1571.8,464.7 1572.8,464.8 1573.8,464.8 1574.8,464.8 1575.8,464.9 1576.8,464.9 1577.8,464.9 1578.8,465.0 1579.8,465.0 1580.8,465.0 1581.8,465.1 1582.8,465.1 1583.8,465.1 1584.8,465.2 1585.8,465.2 1586.8,465.2 1587.8,465.3 1588.8,465.3" fill="none" stroke="#e8e43c" stroke-width="2.1" stroke-linejoin="round"/>
<polyline points="1019.8,469.3 1020.8,469.3 1021.8,469.3 1022.8,469.3 1023.8,469.3 1024.8,469.3 1025.8,469.3 1026.8,469.3 1027.8,469.2 1028.8,469.2 1029.8,469.2 1030.8,469.2 1031.8,469.2 1032.8,469.2 1033.8,469.2 1034.8,469.1 1035.8,469.1 1036.8,469.1 1037.8,469.1 1038.8,469.1 1039.8,469.1 1040.8,469.0 1041.8,469.0 1042.8,469.0 1043.8,469.0 1044.8,469.0 1045.8,469.0 1046.8,468.9 1047.8,468.9 1048.8,468.9 1049.8,468.9 1050.8,468.8 1051.8,468.8 1052.8,468.8 1053.8,468.8 1054.8,468.8 1055.8,468.7 1056.8,468.7 1057.8,468.7 1058.8,468.7 1059.8,468.6 1060.8,468.6 1061.8,468.6 1062.8,468.5 1063.8,468.5 1064.8,468.5 1065.8,468.5 1066.8,468.4 1067.8,468.4 1068.8,468.4 1069.8,468.3 1070.8,468.3 1071.8,468.2 1072.8,468.2 1073.8,468.2 1074.8,468.1 1075.8,468.1 1076.8,468.0 1077.8,468.0 1078.8,468.0 1079.8,467.9 1080.8,467.9 1081.8,467.8 1082.8,467.8 1083.8,467.7 1084.8,467.7 1085.8,467.6 1086.8,467.6 1087.8,467.5 1088.8,467.4 1089.8,467.4 1090.8,467.3 1091.8,467.3 1092.8,467.2 1093.8,467.1 1094.8,467.1 1095.8,467.0 1096.8,466.9 1097.8,466.8 1098.8,466.7 1099.8,466.7 1100.8,466.6 1101.8,466.5 1102.8,466.4 1103.8,466.3 1104.8,466.2 1105.8,466.1 1106.8,466.0 1107.8,465.9 1108.8,465.8 1109.8,465.7 1110.8,465.5 1111.8,465.4 1112.8,465.3 1113.8,465.2 1114.8,465.0 1115.8,464.9 1116.8,464.7 1117.8,464.6 1118.8,464.4 1119.8,464.2 1120.8,464.1 1121.8,463.9 1122.8,463.7 1123.8,463.5 1124.8,463.3 1125.8,463.1 1126.8,462.9 1127.8,462.6 1128.8,462.4 1129.8,462.1 1130.8,461.9 1131.8,461.6 1132.8,461.3 1133.8,461.0 1134.8,460.7 1135.8,460.4 1136.8,460.1 1137.8,459.7 1138.8,459.4 1139.8,459.0 1140.8,458.6 1141.8,458.2 1142.8,457.8 1143.8,457.4 1144.8,456.9 1145.8,456.4 1146.8,455.9 1147.8,455.4 1148.8,454.9 1149.8,454.3 1150.8,453.8 1151.8,453.2 1152.8,452.5 1153.8,451.9 1154.8,451.2 1155.8,450.5 1156.8,449.8 1157.8,449.0 1158.8,448.2 1159.8,447.4 1160.8,446.6 1161.8,445.7 1162.8,444.8 1163.8,443.9 1164.8,442.9 1165.8,441.9 1166.8,440.8 1167.8,439.7 1168.8,438.6 1169.8,437.5 1170.8,436.3 1171.8,435.0 1172.8,433.7 1173.8,432.4 1174.8,431.0 1175.8,429.6 1176.8,428.1 1177.8,426.6 1178.8,425.0 1179.8,423.4 1180.8,421.8 1181.8,420.1 1182.8,418.3 1183.8,416.5 1184.8,414.6 1185.8,412.7 1186.8,410.7 1187.8,408.7 1188.8,406.6 1189.8,404.4 1190.8,402.2 1191.8,399.9 1192.8,397.6 1193.8,395.2 1194.8,392.8 1195.8,390.3 1196.8,387.7 1197.8,385.1 1198.8,382.4 1199.8,379.7 1200.8,376.9 1201.8,374.0 1202.8,371.1 1203.8,368.1 1204.8,365.0 1205.8,361.9 1206.8,358.8 1207.8,355.6 1208.8,352.3 1209.8,348.9 1210.8,345.5 1211.8,342.1 1212.8,338.6 1213.8,335.0 1214.8,331.4 1215.8,327.7 1216.8,324.0 1217.8,320.3 1218.8,316.5 1219.8,312.6 1220.8,308.7 1221.8,304.8 1222.8,300.8 1223.8,296.8 1224.8,292.7 1225.8,288.7 1226.8,284.5 1227.8,280.4 1228.8,276.2 1229.8,272.0 1230.8,267.8 1231.8,263.6 1232.8,259.4 1233.8,255.1 1234.8,250.9 1235.8,246.6 1236.8,242.3 1237.8,238.1 1238.8,233.8 1239.8,229.6 1240.8,225.3 1241.8,221.1 1242.8,216.9 1243.8,212.8 1244.8,208.6 1245.8,204.5 1246.8,200.4 1247.8,196.4 1248.8,192.3 1249.8,188.4 1250.8,184.5 1251.8,180.6 1252.8,176.8 1253.8,173.1 1254.8,169.4 1255.8,165.8 1256.8,162.3 1257.8,158.8 1258.8,155.4 1259.8,152.1 1260.8,148.9 1261.8,145.8 1262.8,142.8 1263.8,139.9 1264.8,137.0 1265.8,134.3 1266.8,131.7 1267.8,129.2 1268.8,126.8 1269.8,124.5 1270.8,122.3 1271.8,120.3 1272.8,118.3 1273.8,116.5 1274.8,114.8 1275.8,113.3 1276.8,111.9 1277.8,110.6 1278.8,109.4 1279.8,108.4 1280.8,107.5 1281.8,106.8 1282.8,106.2 1283.8,105.7 1284.8,105.4 1285.8,105.2 1286.8,105.1 1287.8,105.2 1288.8,105.4 1289.8,105.9 1290.8,106.4 1291.8,107.1 1292.8,108.0 1293.8,109.0 1294.8,110.2 1295.8,111.5 1296.8,113.0 1297.8,114.6 1298.8,116.3 1299.8,118.1 1300.8,120.1 1301.8,122.1 1302.8,124.3 1303.8,126.6 1304.8,129.0 1305.8,131.4 1306.8,134.0 1307.8,136.7 1308.8,139.4 1309.8,142.2 1310.8,145.0 1311.8,148.0 1312.8,150.9 1313.8,154.0 1314.8,157.0 1315.8,160.2 1316.8,163.3 1317.8,166.5 1318.8,169.7 1319.8,173.0 1320.8,176.2 1321.8,179.5 1322.8,182.9 1323.8,186.2 1324.8,189.5 1325.8,192.9 1326.8,196.2 1327.8,199.6 1328.8,202.9 1329.8,206.3 1330.8,209.7 1331.8,213.0 1332.8,216.4 1333.8,219.7 1334.8,223.1 1335.8,226.4 1336.8,229.7 1337.8,233.0 1338.8,236.3 1339.8,239.6 1340.8,242.9 1341.8,246.1 1342.8,249.3 1343.8,252.6 1344.8,255.8 1345.8,258.9 1346.8,262.1 1347.8,265.3 1348.8,268.4 1349.8,271.5 1350.8,274.6 1351.8,277.6 1352.8,280.7 1353.8,283.7 1354.8,286.7 1355.8,289.6 1356.8,292.6 1357.8,295.5 1358.8,298.4 1359.8,301.2 1360.8,304.1 1361.8,306.9 1362.8,309.7 1363.8,312.5 1364.8,315.2 1365.8,317.9 1366.8,320.6 1367.8,323.2 1368.8,325.8 1369.8,328.4 1370.8,331.0 1371.8,333.5 1372.8,336.1 1373.8,338.5 1374.8,341.0 1375.8,343.4 1376.8,345.8 1377.8,348.2 1378.8,350.5 1379.8,352.8 1380.8,355.1 1381.8,357.3 1382.8,359.5 1383.8,361.7 1384.8,363.8 1385.8,366.0 1386.8,368.1 1387.8,370.1 1388.8,372.1 1389.8,374.1 1390.8,376.1 1391.8,378.0 1392.8,380.0 1393.8,381.8 1394.8,383.7 1395.8,385.5 1396.8,387.3 1397.8,389.0 1398.8,390.8 1399.8,392.5 1400.8,394.1 1401.8,395.8 1402.8,397.4 1403.8,399.0 1404.8,400.5 1405.8,402.1 1406.8,403.6 1407.8,405.0 1408.8,406.5 1409.8,407.9 1410.8,409.3 1411.8,410.6 1412.8,412.0 1413.8,413.3 1414.8,414.6 1415.8,415.8 1416.8,417.0 1417.8,418.2 1418.8,419.4 1419.8,420.6 1420.8,421.7 1421.8,422.8 1422.8,423.9 1423.8,424.9 1424.8,426.0 1425.8,427.0 1426.8,428.0 1427.8,428.9 1428.8,429.9 1429.8,430.8 1430.8,431.7 1431.8,432.6 1432.8,433.4 1433.8,434.3 1434.8,435.1 1435.8,435.9 1436.8,436.7 1437.8,437.4 1438.8,438.2 1439.8,438.9 1440.8,439.6 1441.8,440.3 1442.8,441.0 1443.8,441.6 1444.8,442.3 1445.8,442.9 1446.8,443.5 1447.8,444.1 1448.8,444.7 1449.8,445.2 1450.8,445.8 1451.8,446.3 1452.8,446.8 1453.8,447.3 1454.8,447.8 1455.8,448.3 1456.8,448.7 1457.8,449.2 1458.8,449.6 1459.8,450.1 1460.8,450.5 1461.8,450.9 1462.8,451.3 1463.8,451.7 1464.8,452.0 1465.8,452.4 1466.8,452.7 1467.8,453.1 1468.8,453.4 1469.8,453.7 1470.8,454.1 1471.8,454.4 1472.8,454.7 1473.8,454.9 1474.8,455.2 1475.8,455.5 1476.8,455.8 1477.8,456.0 1478.8,456.3 1479.8,456.5 1480.8,456.7 1481.8,457.0 1482.8,457.2 1483.8,457.4 1484.8,457.6 1485.8,457.8 1486.8,458.0 1487.8,458.2 1488.8,458.4 1489.8,458.6 1490.8,458.8 1491.8,458.9 1492.8,459.1 1493.8,459.3 1494.8,459.4 1495.8,459.6 1496.8,459.7 1497.8,459.9 1498.8,460.0 1499.8,460.2 1500.8,460.3 1501.8,460.4 1502.8,460.6 1503.8,460.7 1504.8,460.8 1505.8,460.9 1506.8,461.0 1507.8,461.2 1508.8,461.3 1509.8,461.4 1510.8,461.5 1511.8,461.6 1512.8,461.7 1513.8,461.8 1514.8,461.9 1515.8,462.0 1516.8,462.1 1517.8,462.1 1518.8,462.2 1519.8,462.3 1520.8,462.4 1521.8,462.5 1522.8,462.5 1523.8,462.6 1524.8,462.7 1525.8,462.8 1526.8,462.8 1527.8,462.9 1528.8,463.0 1529.8,463.0 1530.8,463.1 1531.8,463.2 1532.8,463.2 1533.8,463.3 1534.8,463.4 1535.8,463.4 1536.8,463.5 1537.8,463.5 1538.8,463.6 1539.8,463.7 1540.8,463.7 1541.8,463.8 1542.8,463.8 1543.8,463.9 1544.8,463.9 1545.8,464.0 1546.8,464.0 1547.8,464.1 1548.8,464.1 1549.8,464.2 1550.8,464.2 1551.8,464.2 1552.8,464.3 1553.8,464.3 1554.8,464.4 1555.8,464.4 1556.8,464.5 1557.8,464.5 1558.8,464.5 1559.8,464.6 1560.8,464.6 1561.8,464.7 1562.8,464.7 1563.8,464.7 1564.8,464.8 1565.8,464.8 1566.8,464.8 1567.8,464.9 1568.8,464.9 1569.8,464.9 1570.8,465.0 1571.8,465.0 1572.8,465.1 1573.8,465.1 1574.8,465.1 1575.8,465.2 1576.8,465.2 1577.8,465.2 1578.8,465.2 1579.8,465.3 1580.8,465.3 1581.8,465.3 1582.8,465.4 1583.8,465.4 1584.8,465.4 1585.8,465.5 1586.8,465.5 1587.8,465.5 1588.8,465.5" fill="none" stroke="#69b42f" stroke-width="2.1" stroke-linejoin="round"/>
<polyline points="1019.8,469.3 1020.8,469.3 1021.8,469.3 1022.8,469.3 1023.8,469.3 1024.8,469.3 1025.8,469.3 1026.8,469.3 1027.8,469.2 1028.8,469.2 1029.8,469.2 1030.8,469.2 1031.8,469.2 1032.8,469.2 1033.8,469.2 1034.8,469.1 1035.8,469.1 1036.8,469.1 1037.8,469.1 1038.8,469.1 1039.8,469.1 1040.8,469.0 1041.8,469.0 1042.8,469.0 1043.8,469.0 1044.8,469.0 1045.8,469.0 1046.8,468.9 1047.8,468.9 1048.8,468.9 1049.8,468.9 1050.8,468.8 1051.8,468.8 1052.8,468.8 1053.8,468.8 1054.8,468.8 1055.8,468.7 1056.8,468.7 1057.8,468.7 1058.8,468.7 1059.8,468.6 1060.8,468.6 1061.8,468.6 1062.8,468.5 1063.8,468.5 1064.8,468.5 1065.8,468.5 1066.8,468.4 1067.8,468.4 1068.8,468.4 1069.8,468.3 1070.8,468.3 1071.8,468.2 1072.8,468.2 1073.8,468.2 1074.8,468.1 1075.8,468.1 1076.8,468.0 1077.8,468.0 1078.8,468.0 1079.8,467.9 1080.8,467.9 1081.8,467.8 1082.8,467.8 1083.8,467.7 1084.8,467.7 1085.8,467.6 1086.8,467.6 1087.8,467.5 1088.8,467.4 1089.8,467.4 1090.8,467.3 1091.8,467.3 1092.8,467.2 1093.8,467.1 1094.8,467.1 1095.8,467.0 1096.8,466.9 1097.8,466.8 1098.8,466.7 1099.8,466.7 1100.8,466.6 1101.8,466.5 1102.8,466.4 1103.8,466.3 1104.8,466.2 1105.8,466.1 1106.8,466.0 1107.8,465.9 1108.8,465.8 1109.8,465.7 1110.8,465.5 1111.8,465.4 1112.8,465.3 1113.8,465.2 1114.8,465.0 1115.8,464.9 1116.8,464.7 1117.8,464.6 1118.8,464.4 1119.8,464.2 1120.8,464.1 1121.8,463.9 1122.8,463.7 1123.8,463.5 1124.8,463.3 1125.8,463.1 1126.8,462.9 1127.8,462.6 1128.8,462.4 1129.8,462.1 1130.8,461.9 1131.8,461.6 1132.8,461.3 1133.8,461.0 1134.8,460.7 1135.8,460.4 1136.8,460.1 1137.8,459.7 1138.8,459.4 1139.8,459.0 1140.8,458.6 1141.8,458.2 1142.8,457.8 1143.8,457.4 1144.8,456.9 1145.8,456.4 1146.8,455.9 1147.8,455.4 1148.8,454.9 1149.8,454.3 1150.8,453.8 1151.8,453.2 1152.8,452.5 1153.8,451.9 1154.8,451.2 1155.8,450.5 1156.8,449.8 1157.8,449.0 1158.8,448.2 1159.8,447.4 1160.8,446.6 1161.8,445.7 1162.8,444.8 1163.8,443.9 1164.8,442.9 1165.8,441.9 1166.8,440.8 1167.8,439.7 1168.8,438.6 1169.8,437.5 1170.8,436.3 1171.8,435.0 1172.8,433.7 1173.8,432.4 1174.8,431.0 1175.8,429.6 1176.8,428.1 1177.8,426.6 1178.8,425.0 1179.8,423.4 1180.8,421.8 1181.8,420.1 1182.8,418.3 1183.8,416.5 1184.8,414.6 1185.8,412.7 1186.8,410.7 1187.8,408.7 1188.8,406.6 1189.8,404.4 1190.8,402.2 1191.8,399.9 1192.8,397.6 1193.8,395.2 1194.8,392.8 1195.8,390.3 1196.8,387.7 1197.8,385.1 1198.8,382.4 1199.8,379.7 1200.8,376.9 1201.8,374.0 1202.8,371.1 1203.8,368.1 1204.8,365.0 1205.8,361.9 1206.8,358.8 1207.8,355.6 1208.8,352.3 1209.8,348.9 1210.8,345.5 1211.8,342.1 1212.8,338.6 1213.8,335.0 1214.8,331.4 1215.8,327.7 1216.8,324.0 1217.8,320.3 1218.8,316.5 1219.8,312.6 1220.8,308.7 1221.8,304.8 1222.8,300.8 1223.8,296.8 1224.8,292.7 1225.8,288.7 1226.8,284.5 1227.8,280.4 1228.8,276.2 1229.8,272.0 1230.8,267.8 1231.8,263.6 1232.8,259.4 1233.8,255.1 1234.8,250.9 1235.8,246.6 1236.8,242.3 1237.8,238.1 1238.8,233.8 1239.8,229.6 1240.8,225.3 1241.8,221.1 1242.8,216.9 1243.8,212.8 1244.8,208.6 1245.8,204.5 1246.8,200.4 1247.8,196.4 1248.8,192.3 1249.8,188.4 1250.8,184.5 1251.8,180.6 1252.8,176.8 1253.8,173.1 1254.8,169.4 1255.8,165.8 1256.8,162.3 1257.8,158.8 1258.8,155.4 1259.8,152.1 1260.8,148.9 1261.8,145.8 1262.8,142.8 1263.8,139.9 1264.8,137.0 1265.8,134.3 1266.8,131.7 1267.8,129.2 1268.8,126.8 1269.8,124.5 1270.8,122.3 1271.8,120.3 1272.8,118.3 1273.8,116.5 1274.8,114.8 1275.8,113.3 1276.8,111.9 1277.8,110.6 1278.8,109.4 1279.8,108.4 1280.8,107.5 1281.8,106.8 1282.8,106.2 1283.8,105.7 1284.8,105.4 1285.8,105.2 1286.8,105.1 1287.8,105.2 1288.8,105.4 1289.8,105.9 1290.8,106.4 1291.8,107.1 1292.8,108.0 1293.8,109.0 1294.8,110.2 1295.8,111.5 1296.8,113.0 1297.8,114.6 1298.8,116.3 1299.8,118.1 1300.8,120.1 1301.8,122.1 1302.8,124.3 1303.8,126.6 1304.8,129.0 1305.8,131.4 1306.8,134.0 1307.8,136.7 1308.8,139.4 1309.8,142.2 1310.8,145.0 1311.8,148.0 1312.8,150.9 1313.8,154.0 1314.8,157.0 1315.8,160.2 1316.8,163.3 1317.8,166.5 1318.8,169.7 1319.8,173.0 1320.8,176.2 1321.8,179.5 1322.8,182.9 1323.8,186.2 1324.8,189.5 1325.8,192.9 1326.8,196.2 1327.8,199.6 1328.8,202.9 1329.8,206.3 1330.8,209.7 1331.8,213.0 1332.8,216.4 1333.8,219.7 1334.8,223.1 1335.8,226.4 1336.8,229.7 1337.8,233.0 1338.8,236.3 1339.8,239.6 1340.8,242.9 1341.8,246.1 1342.8,249.3 1343.8,252.6 1344.8,255.8 1345.8,258.9 1346.8,262.1 1347.8,265.3 1348.8,268.4 1349.8,271.5 1350.8,274.6 1351.8,277.6 1352.8,280.7 1353.8,283.7 1354.8,286.7 1355.8,289.6 1356.8,292.6 1357.8,295.5 1358.8,298.4 1359.8,301.2 1360.8,304.1 1361.8,306.9 1362.8,309.7 1363.8,312.5 1364.8,315.2 1365.8,317.9 1366.8,320.6 1367.8,323.2 1368.8,325.8 1369.8,328.4 1370.8,331.0 1371.8,333.5 1372.8,336.1 1373.8,338.5 1374.8,341.0 1375.8,343.4 1376.8,345.8 1377.8,348.2 1378.8,350.5 1379.8,352.8 1380.8,355.1 1381.8,357.3 1382.8,359.5 1383.8,361.7 1384.8,363.8 1385.8,366.0 1386.8,368.1 1387.8,370.1 1388.8,372.1 1389.8,374.1 1390.8,376.1 1391.8,378.0 1392.8,380.0 1393.8,381.8 1394.8,383.7 1395.8,385.5 1396.8,387.3 1397.8,389.0 1398.8,390.8 1399.8,392.5 1400.8,394.1 1401.8,395.8 1402.8,397.4 1403.8,399.0 1404.8,400.5 1405.8,402.1 1406.8,403.6 1407.8,405.0 1408.8,406.5 1409.8,407.9 1410.8,409.3 1411.8,410.6 1412.8,412.0 1413.8,413.3 1414.8,414.6 1415.8,415.8 1416.8,417.0 1417.8,418.2 1418.8,419.4 1419.8,420.6 1420.8,421.7 1421.8,422.8 1422.8,423.9 1423.8,424.9 1424.8,426.0 1425.8,427.0 1426.8,428.0 1427.8,428.9 1428.8,429.9 1429.8,430.8 1430.8,431.7 1431.8,432.6 1432.8,433.4 1433.8,434.3 1434.8,435.1 1435.8,435.9 1436.8,436.7 1437.8,437.4 1438.8,438.2 1439.8,438.9 1440.8,439.6 1441.8,440.3 1442.8,441.0 1443.8,441.6 1444.8,442.3 1445.8,442.9 1446.8,443.5 1447.8,444.1 1448.8,444.7 1449.8,445.2 1450.8,445.8 1451.8,446.3 1452.8,446.8 1453.8,447.3 1454.8,447.8 1455.8,448.3 1456.8,448.7 1457.8,449.2 1458.8,449.6 1459.8,450.1 1460.8,450.5 1461.8,450.9 1462.8,451.3 1463.8,451.7 1464.8,452.0 1465.8,452.4 1466.8,452.7 1467.8,453.1 1468.8,453.4 1469.8,453.7 1470.8,454.1 1471.8,454.4 1472.8,454.7 1473.8,454.9 1474.8,455.2 1475.8,455.5 1476.8,455.8 1477.8,456.0 1478.8,456.3 1479.8,456.5 1480.8,456.7 1481.8,457.0 1482.8,457.2 1483.8,457.4 1484.8,457.6 1485.8,457.8 1486.8,458.0 1487.8,458.2 1488.8,458.4 1489.8,458.6 1490.8,458.8 1491.8,458.9 1492.8,459.1 1493.8,459.3 1494.8,459.4 1495.8,459.6 1496.8,459.7 1497.8,459.9 1498.8,460.0 1499.8,460.2 1500.8,460.3 1501.8,460.4 1502.8,460.6 1503.8,460.7 1504.8,460.8 1505.8,460.9 1506.8,461.0 1507.8,461.2 1508.8,461.3 1509.8,461.4 1510.8,461.5 1511.8,461.6 1512.8,461.7 1513.8,461.8 1514.8,461.9 1515.8,462.0 1516.8,462.1 1517.8,462.1 1518.8,462.2 1519.8,462.3 1520.8,462.4 1521.8,462.5 1522.8,462.5 1523.8,462.6 1524.8,462.7 1525.8,462.8 1526.8,462.8 1527.8,462.9 1528.8,463.0 1529.8,463.0 1530.8,463.1 1531.8,463.2 1532.8,463.2 1533.8,463.3 1534.8,463.4 1535.8,463.4 1536.8,463.5 1537.8,463.5 1538.8,463.6 1539.8,463.7 1540.8,463.7 1541.8,463.8 1542.8,463.8 1543.8,463.9 1544.8,463.9 1545.8,464.0 1546.8,464.0 1547.8,464.1 1548.8,464.1 1549.8,464.2 1550.8,464.2 1551.8,464.2 1552.8,464.3 1553.8,464.3 1554.8,464.4 1555.8,464.4 1556.8,464.5 1557.8,464.5 1558.8,464.5 1559.8,464.6 1560.8,464.6 1561.8,464.7 1562.8,464.7 1563.8,464.7 1564.8,464.8 1565.8,464.8 1566.8,464.8 1567.8,464.9 1568.8,464.9 1569.8,464.9 1570.8,465.0 1571.8,465.0 1572.8,465.1 1573.8,465.1 1574.8,465.1 1575.8,465.2 1576.8,465.2 1577.8,465.2 1578.8,465.2 1579.8,465.3 1580.8,465.3 1581.8,465.3 1582.8,465.4 1583.8,465.4 1584.8,465.4 1585.8,465.5 1586.8,465.5 1587.8,465.5 1588.8,465.5" fill="none" stroke="#2350a5" stroke-width="2.1" stroke-linejoin="round"/>
<polyline points="1019.8,469.3 1020.8,469.3 1021.8,469.3 1022.8,469.3 1023.8,469.3 1024.8,469.3 1025.8,469.3 1026.8,469.3 1027.8,469.2 1028.8,469.2 1029.8,469.2 1030.8,469.2 1031.8,469.2 1032.8,469.2 1033.8,469.2 1034.8,469.1 1035.8,469.1 1036.8,469.1 1037.8,469.1 1038.8,469.1 1039.8,469.1 1040.8,469.0 1041.8,469.0 1042.8,469.0 1043.8,469.0 1044.8,469.0 1045.8,469.0 1046.8,468.9 1047.8,468.9 1048.8,468.9 1049.8,468.9 1050.8,468.8 1051.8,468.8 1052.8,468.8 1053.8,468.8 1054.8,468.8 1055.8,468.7 1056.8,468.7 1057.8,468.7 1058.8,468.6 1059.8,468.6 1060.8,468.6 1061.8,468.6 1062.8,468.5 1063.8,468.5 1064.8,468.5 1065.8,468.4 1066.8,468.4 1067.8,468.4 1068.8,468.3 1069.8,468.3 1070.8,468.3 1071.8,468.2 1072.8,468.2 1073.8,468.2 1074.8,468.1 1075.8,468.1 1076.8,468.0 1077.8,468.0 1078.8,467.9 1079.8,467.9 1080.8,467.9 1081.8,467.8 1082.8,467.8 1083.8,467.7 1084.8,467.7 1085.8,467.6 1086.8,467.5 1087.8,467.5 1088.8,467.4 1089.8,467.4 1090.8,467.3 1091.8,467.2 1092.8,467.2 1093.8,467.1 1094.8,467.0 1095.8,467.0 1096.8,466.9 1097.8,466.8 1098.8,466.7 1099.8,466.6 1100.8,466.6 1101.8,466.5 1102.8,466.4 1103.8,466.3 1104.8,466.2 1105.8,466.1 1106.8,466.0 1107.8,465.9 1108.8,465.7 1109.8,465.6 1110.8,465.5 1111.8,465.4 1112.8,465.2 1113.8,465.1 1114.8,465.0 1115.8,464.8 1116.8,464.7 1117.8,464.5 1118.8,464.3 1119.8,464.2 1120.8,464.0 1121.8,463.8 1122.8,463.6 1123.8,463.4 1124.8,463.2 1125.8,463.0 1126.8,462.8 1127.8,462.5 1128.8,462.3 1129.8,462.0 1130.8,461.8 1131.8,461.5 1132.8,461.2 1133.8,460.9 1134.8,460.6 1135.8,460.3 1136.8,459.9 1137.8,459.6 1138.8,459.2 1139.8,458.8 1140.8,458.4 1141.8,458.0 1142.8,457.6 1143.8,457.2 1144.8,456.7 1145.8,456.2 1146.8,455.7 1147.8,455.2 1148.8,454.6 1149.8,454.1 1150.8,453.5 1151.8,452.9 1152.8,452.2 1153.8,451.6 1154.8,450.9 1155.8,450.2 1156.8,449.4 1157.8,448.7 1158.8,447.9 1159.8,447.0 1160.8,446.2 1161.8,445.3 1162.8,444.4 1163.8,443.4 1164.8,442.4 1165.8,441.4 1166.8,440.3 1167.8,439.2 1168.8,438.1 1169.8,436.9 1170.8,435.7 1171.8,434.4 1172.8,433.1 1173.8,431.8 1174.8,430.4 1175.8,428.9 1176.8,427.4 1177.8,425.9 1178.8,424.3 1179.8,422.7 1180.8,421.0 1181.8,419.3 1182.8,417.5 1183.8,415.7 1184.8,413.8 1185.8,411.8 1186.8,409.8 1187.8,407.8 1188.8,405.7 1189.8,403.5 1190.8,401.3 1191.8,399.0 1192.8,396.7 1193.8,394.3 1194.8,391.8 1195.8,389.3 1196.8,386.7 1197.8,384.1 1198.8,381.4 1199.8,378.7 1200.8,375.8 1201.8,373.0 1202.8,370.0 1203.8,367.0 1204.8,364.0 1205.8,360.9 1206.8,357.7 1207.8,354.5 1208.8,351.2 1209.8,347.9 1210.8,344.5 1211.8,341.1 1212.8,337.6 1213.8,334.0 1214.8,330.4 1215.8,326.8 1216.8,323.1 1217.8,319.3 1218.8,315.6 1219.8,311.7 1220.8,307.9 1221.8,304.0 1222.8,300.0 1223.8,296.0 1224.8,292.0 1225.8,288.0 1226.8,283.9 1227.8,279.8 1228.8,275.7 1229.8,271.6 1230.8,267.4 1231.8,263.3 1232.8,259.1 1233.8,254.9 1234.8,250.7 1235.8,246.5 1236.8,242.3 1237.8,238.2 1238.8,234.0 1239.8,229.8 1240.8,225.7 1241.8,221.5 1242.8,217.4 1243.8,213.4 1244.8,209.3 1245.8,205.3 1246.8,201.3 1247.8,197.4 1248.8,193.5 1249.8,189.6 1250.8,185.8 1251.8,182.1 1252.8,178.4 1253.8,174.8 1254.8,171.3 1255.8,167.8 1256.8,164.4 1257.8,161.0 1258.8,157.8 1259.8,154.6 1260.8,151.6 1261.8,148.6 1262.8,145.7 1263.8,142.9 1264.8,140.2 1265.8,137.6 1266.8,135.2 1267.8,132.8 1268.8,130.5 1269.8,128.4 1270.8,126.4 1271.8,124.5 1272.8,122.7 1273.8,121.0 1274.8,119.5 1275.8,118.1 1276.8,116.8 1277.8,115.7 1278.8,114.7 1279.8,113.8 1280.8,113.0 1281.8,112.4 1282.8,112.0 1283.8,111.6 1284.8,111.4 1285.8,111.4 1286.8,111.4 1287.8,111.7 1288.8,112.1 1289.8,112.6 1290.8,113.3 1291.8,114.2 1292.8,115.2 1293.8,116.3 1294.8,117.6 1295.8,119.0 1296.8,120.5 1297.8,122.2 1298.8,124.0 1299.8,125.9 1300.8,128.0 1301.8,130.1 1302.8,132.3 1303.8,134.7 1304.8,137.1 1305.8,139.6 1306.8,142.2 1307.8,144.9 1308.8,147.6 1309.8,150.4 1310.8,153.3 1311.8,156.2 1312.8,159.2 1313.8,162.2 1314.8,165.3 1315.8,168.4 1316.8,171.5 1317.8,174.7 1318.8,177.9 1319.8,181.1 1320.8,184.3 1321.8,187.6 1322.8,190.8 1323.8,194.1 1324.8,197.4 1325.8,200.7 1326.8,204.0 1327.8,207.3 1328.8,210.6 1329.8,213.9 1330.8,217.2 1331.8,220.5 1332.8,223.8 1333.8,227.1 1334.8,230.3 1335.8,233.6 1336.8,236.9 1337.8,240.1 1338.8,243.3 1339.8,246.5 1340.8,249.7 1341.8,252.9 1342.8,256.1 1343.8,259.2 1344.8,262.4 1345.8,265.5 1346.8,268.6 1347.8,271.6 1348.8,274.7 1349.8,277.7 1350.8,280.7 1351.8,283.7 1352.8,286.7 1353.8,289.6 1354.8,292.5 1355.8,295.4 1356.8,298.3 1357.8,301.1 1358.8,304.0 1359.8,306.8 1360.8,309.5 1361.8,312.3 1362.8,315.0 1363.8,317.7 1364.8,320.3 1365.8,323.0 1366.8,325.6 1367.8,328.2 1368.8,330.7 1369.8,333.2 1370.8,335.7 1371.8,338.2 1372.8,340.6 1373.8,343.0 1374.8,345.4 1375.8,347.8 1376.8,350.1 1377.8,352.4 1378.8,354.7 1379.8,356.9 1380.8,359.1 1381.8,361.3 1382.8,363.4 1383.8,365.5 1384.8,367.6 1385.8,369.7 1386.8,371.7 1387.8,373.7 1388.8,375.7 1389.8,377.6 1390.8,379.5 1391.8,381.4 1392.8,383.2 1393.8,385.0 1394.8,386.8 1395.8,388.6 1396.8,390.3 1397.8,392.0 1398.8,393.7 1399.8,395.3 1400.8,397.0 1401.8,398.5 1402.8,400.1 1403.8,401.6 1404.8,403.1 1405.8,404.6 1406.8,406.0 1407.8,407.5 1408.8,408.9 1409.8,410.2 1410.8,411.6 1411.8,412.9 1412.8,414.2 1413.8,415.4 1414.8,416.7 1415.8,417.9 1416.8,419.0 1417.8,420.2 1418.8,421.3 1419.8,422.5 1420.8,423.5 1421.8,424.6 1422.8,425.6 1423.8,426.7 1424.8,427.7 1425.8,428.6 1426.8,429.6 1427.8,430.5 1428.8,431.4 1429.8,432.3 1430.8,433.2 1431.8,434.0 1432.8,434.8 1433.8,435.6 1434.8,436.4 1435.8,437.2 1436.8,438.0 1437.8,438.7 1438.8,439.4 1439.8,440.1 1440.8,440.8 1441.8,441.4 1442.8,442.1 1443.8,442.7 1444.8,443.3 1445.8,443.9 1446.8,444.5 1447.8,445.1 1448.8,445.6 1449.8,446.1 1450.8,446.7 1451.8,447.2 1452.8,447.7 1453.8,448.2 1454.8,448.6 1455.8,449.1 1456.8,449.5 1457.8,450.0 1458.8,450.4 1459.8,450.8 1460.8,451.2 1461.8,451.6 1462.8,451.9 1463.8,452.3 1464.8,452.7 1465.8,453.0 1466.8,453.3 1467.8,453.7 1468.8,454.0 1469.8,454.3 1470.8,454.6 1471.8,454.9 1472.8,455.2 1473.8,455.5 1474.8,455.7 1475.8,456.0 1476.8,456.2 1477.8,456.5 1478.8,456.7 1479.8,457.0 1480.8,457.2 1481.8,457.4 1482.8,457.6 1483.8,457.8 1484.8,458.0 1485.8,458.2 1486.8,458.4 1487.8,458.6 1488.8,458.8 1489.8,458.9 1490.8,459.1 1491.8,459.3 1492.8,459.4 1493.8,459.6 1494.8,459.8 1495.8,459.9 1496.8,460.0 1497.8,460.2 1498.8,460.3 1499.8,460.5 1500.8,460.6 1501.8,460.7 1502.8,460.8 1503.8,461.0 1504.8,461.1 1505.8,461.2 1506.8,461.3 1507.8,461.4 1508.8,461.5 1509.8,461.6 1510.8,461.7 1511.8,461.8 1512.8,461.9 1513.8,462.0 1514.8,462.1 1515.8,462.2 1516.8,462.3 1517.8,462.3 1518.8,462.4 1519.8,462.5 1520.8,462.6 1521.8,462.7 1522.8,462.7 1523.8,462.8 1524.8,462.9 1525.8,463.0 1526.8,463.0 1527.8,463.1 1528.8,463.2 1529.8,463.2 1530.8,463.3 1531.8,463.4 1532.8,463.4 1533.8,463.5 1534.8,463.5 1535.8,463.6 1536.8,463.6 1537.8,463.7 1538.8,463.8 1539.8,463.8 1540.8,463.9 1541.8,463.9 1542.8,464.0 1543.8,464.0 1544.8,464.1 1545.8,464.1 1546.8,464.2 1547.8,464.2 1548.8,464.2 1549.8,464.3 1550.8,464.3 1551.8,464.4 1552.8,464.4 1553.8,464.5 1554.8,464.5 1555.8,464.5 1556.8,464.6 1557.8,464.6 1558.8,464.7 1559.8,464.7 1560.8,464.7 1561.8,464.8 1562.8,464.8 1563.8,464.9 1564.8,464.9 1565.8,464.9 1566.8,465.0 1567.8,465.0 1568.8,465.0 1569.8,465.1 1570.8,465.1 1571.8,465.1 1572.8,465.2 1573.8,465.2 1574.8,465.2 1575.8,465.3 1576.8,465.3 1577.8,465.3 1578.8,465.4 1579.8,465.4 1580.8,465.4 1581.8,465.4 1582.8,465.5 1583.8,465.5 1584.8,465.5 1585.8,465.6 1586.8,465.6 1587.8,465.6 1588.8,465.6" fill="none" stroke="#5a4799" stroke-width="2.1" stroke-linejoin="round"/>
<rect x="1788.9" y="59" width="560.7" height="410.6" fill="none" stroke="#000" stroke-width="2.3"/>
<line x1="1818.25" y1="469.6" x2="1818.25" y2="463.9" stroke="#000" stroke-width="2" stroke-linecap="butt"/>
<line x1="1902.2" y1="469.6" x2="1902.2" y2="459.8" stroke="#000" stroke-width="2" stroke-linecap="butt"/>
<line x1="1986.15" y1="469.6" x2="1986.15" y2="463.9" stroke="#000" stroke-width="2" stroke-linecap="butt"/>
<line x1="2070.11" y1="469.6" x2="2070.11" y2="459.8" stroke="#000" stroke-width="2" stroke-linecap="butt"/>
<line x1="2154.07" y1="469.6" x2="2154.07" y2="463.9" stroke="#000" stroke-width="2" stroke-linecap="butt"/>
<line x1="2238.02" y1="469.6" x2="2238.02" y2="459.8" stroke="#000" stroke-width="2" stroke-linecap="butt"/>
<line x1="2321.97" y1="469.6" x2="2321.97" y2="463.9" stroke="#000" stroke-width="2" stroke-linecap="butt"/>
<line x1="1788.9" y1="401.82" x2="1794.6" y2="401.82" stroke="#000" stroke-width="2" stroke-linecap="butt"/>
<line x1="1788.9" y1="334.03" x2="1798.7" y2="334.03" stroke="#000" stroke-width="2" stroke-linecap="butt"/>
<line x1="1788.9" y1="266.25" x2="1794.6" y2="266.25" stroke="#000" stroke-width="2" stroke-linecap="butt"/>
<line x1="1788.9" y1="198.46" x2="1798.7" y2="198.46" stroke="#000" stroke-width="2" stroke-linecap="butt"/>
<line x1="1788.9" y1="130.68" x2="1794.6" y2="130.68" stroke="#000" stroke-width="2" stroke-linecap="butt"/>
<line x1="1788.9" y1="62.89" x2="1798.7" y2="62.89" stroke="#000" stroke-width="2" stroke-linecap="butt"/>
<text transform="translate(1875.94,508.4) scale(1.0,1.04)" font-size="33.6" font-weight="normal" fill="#000" >480</text>
<text transform="translate(2043.56,508.4) scale(1.0,1.04)" font-size="33.6" font-weight="normal" fill="#000" >510</text>
<text transform="translate(2211.47,508.4) scale(1.0,1.04)" font-size="33.6" font-weight="normal" fill="#000" >540</text>
<text transform="translate(1729.1,473.83) scale(1.0,1.04)" font-size="33.6" font-weight="normal" fill="#000" >0.0</text>
<text transform="translate(1661.93,343.26) scale(1.0,1.04)" font-size="33.6" font-weight="normal" fill="#000" >3.0×10</text>
<text transform="translate(1764.97,331.94) scale(1.0,1.04)" font-size="18.6" font-weight="normal" fill="#2a2a2a" >6</text>
<text transform="translate(1661.93,207.69) scale(1.0,1.04)" font-size="33.6" font-weight="normal" fill="#000" >6.0×10</text>
<text transform="translate(1764.97,196.37) scale(1.0,1.04)" font-size="18.6" font-weight="normal" fill="#2a2a2a" >6</text>
<text transform="translate(1661.93,72.12) scale(1.0,1.04)" font-size="33.6" font-weight="normal" fill="#000" >9.0×10</text>
<text transform="translate(1764.97,60.8) scale(1.0,1.04)" font-size="18.6" font-weight="normal" fill="#2a2a2a" >6</text>
<text transform="translate(1930.45,557.02) scale(1.0,1.04)" font-size="33.6" font-weight="normal" fill="#000" >Wavelength (nm)</text>
<text transform="translate(1630.12,352.06) rotate(-90) scale(1,1.04)" font-size="33.6">PL intensity</text>
<line x1="2192" y1="124.3" x2="2239.7" y2="124.3" stroke="#000000" stroke-width="2.3" stroke-linecap="butt"/>
<text transform="translate(2246.24,131.3) scale(1,1.04)" font-size="33.6">Day0</text>
<line x1="2192" y1="165.1" x2="2239.7" y2="165.1" stroke="#e8151d" stroke-width="2.3" stroke-linecap="butt"/>
<text transform="translate(2246.24,172.1) scale(1,1.04)" font-size="33.6">Day1</text>
<line x1="2192" y1="205.9" x2="2239.7" y2="205.9" stroke="#ee8426" stroke-width="2.3" stroke-linecap="butt"/>
<text transform="translate(2246.24,212.9) scale(1,1.04)" font-size="33.6">Day2</text>
<line x1="2192" y1="246.7" x2="2239.7" y2="246.7" stroke="#e8e43c" stroke-width="2.3" stroke-linecap="butt"/>
<text transform="translate(2246.24,253.7) scale(1,1.04)" font-size="33.6">Day3</text>
<line x1="2192" y1="287.5" x2="2239.7" y2="287.5" stroke="#69b42f" stroke-width="2.3" stroke-linecap="butt"/>
<text transform="translate(2246.24,294.5) scale(1,1.04)" font-size="33.6">Day4</text>
<line x1="2192" y1="328.3" x2="2239.7" y2="328.3" stroke="#2350a5" stroke-width="2.3" stroke-linecap="butt"/>
<text transform="translate(2246.24,335.3) scale(1,1.04)" font-size="33.6">Day5</text>
<line x1="2192" y1="369.1" x2="2239.7" y2="369.1" stroke="#5a4799" stroke-width="2.3" stroke-linecap="butt"/>
<text transform="translate(2246.24,376.1) scale(1,1.04)" font-size="33.6">Day6</text>
<polyline points="1785.3,468.9 1786.3,468.8 1787.3,468.8 1788.3,468.8 1789.3,468.8 1790.3,468.8 1791.3,468.7 1792.3,468.7 1793.3,468.7 1794.3,468.6 1795.3,468.6 1796.3,468.6 1797.3,468.6 1798.3,468.5 1799.3,468.5 1800.3,468.5 1801.3,468.4 1802.3,468.4 1803.3,468.4 1804.3,468.3 1805.3,468.3 1806.3,468.2 1807.3,468.2 1808.3,468.2 1809.3,468.1 1810.3,468.1 1811.3,468.0 1812.3,468.0 1813.3,467.9 1814.3,467.9 1815.3,467.8 1816.3,467.8 1817.3,467.7 1818.3,467.7 1819.3,467.6 1820.3,467.6 1821.3,467.5 1822.3,467.4 1823.3,467.4 1824.3,467.3 1825.3,467.2 1826.3,467.2 1827.3,467.1 1828.3,467.0 1829.3,466.9 1830.3,466.9 1831.3,466.8 1832.3,466.7 1833.3,466.6 1834.3,466.5 1835.3,466.4 1836.3,466.3 1837.3,466.2 1838.3,466.1 1839.3,466.0 1840.3,465.9 1841.3,465.8 1842.3,465.7 1843.3,465.6 1844.3,465.4 1845.3,465.3 1846.3,465.2 1847.3,465.0 1848.3,464.9 1849.3,464.7 1850.3,464.6 1851.3,464.4 1852.3,464.3 1853.3,464.1 1854.3,463.9 1855.3,463.8 1856.3,463.6 1857.3,463.4 1858.3,463.2 1859.3,463.0 1860.3,462.8 1861.3,462.6 1862.3,462.4 1863.3,462.2 1864.3,461.9 1865.3,461.7 1866.3,461.4 1867.3,461.2 1868.3,460.9 1869.3,460.6 1870.3,460.4 1871.3,460.1 1872.3,459.8 1873.3,459.5 1874.3,459.1 1875.3,458.8 1876.3,458.5 1877.3,458.1 1878.3,457.7 1879.3,457.4 1880.3,457.0 1881.3,456.6 1882.3,456.2 1883.3,455.7 1884.3,455.3 1885.3,454.8 1886.3,454.4 1887.3,453.9 1888.3,453.4 1889.3,452.9 1890.3,452.3 1891.3,451.8 1892.3,451.2 1893.3,450.6 1894.3,450.0 1895.3,449.4 1896.3,448.7 1897.3,448.0 1898.3,447.4 1899.3,446.6 1900.3,445.9 1901.3,445.1 1902.3,444.4 1903.3,443.6 1904.3,442.7 1905.3,441.9 1906.3,441.0 1907.3,440.1 1908.3,439.1 1909.3,438.1 1910.3,437.1 1911.3,436.1 1912.3,435.0 1913.3,433.9 1914.3,432.8 1915.3,431.6 1916.3,430.4 1917.3,429.2 1918.3,427.9 1919.3,426.6 1920.3,425.3 1921.3,423.9 1922.3,422.5 1923.3,421.0 1924.3,419.5 1925.3,417.9 1926.3,416.4 1927.3,414.7 1928.3,413.0 1929.3,411.3 1930.3,409.5 1931.3,407.7 1932.3,405.9 1933.3,404.0 1934.3,402.0 1935.3,400.0 1936.3,397.9 1937.3,395.8 1938.3,393.6 1939.3,391.4 1940.3,389.2 1941.3,386.8 1942.3,384.5 1943.3,382.0 1944.3,379.6 1945.3,377.0 1946.3,374.4 1947.3,371.8 1948.3,369.1 1949.3,366.3 1950.3,363.5 1951.3,360.7 1952.3,357.8 1953.3,354.8 1954.3,351.8 1955.3,348.7 1956.3,345.5 1957.3,342.3 1958.3,339.1 1959.3,335.8 1960.3,332.5 1961.3,329.1 1962.3,325.6 1963.3,322.1 1964.3,318.6 1965.3,315.0 1966.3,311.3 1967.3,307.6 1968.3,303.9 1969.3,300.1 1970.3,296.3 1971.3,292.5 1972.3,288.6 1973.3,284.6 1974.3,280.7 1975.3,276.7 1976.3,272.6 1977.3,268.6 1978.3,264.5 1979.3,260.4 1980.3,256.3 1981.3,252.2 1982.3,248.0 1983.3,243.8 1984.3,239.6 1985.3,235.5 1986.3,231.3 1987.3,227.1 1988.3,222.9 1989.3,218.7 1990.3,214.5 1991.3,210.3 1992.3,206.2 1993.3,202.0 1994.3,197.9 1995.3,193.8 1996.3,189.7 1997.3,185.7 1998.3,181.7 1999.3,177.7 2000.3,173.8 2001.3,169.9 2002.3,166.1 2003.3,162.3 2004.3,158.6 2005.3,154.9 2006.3,151.3 2007.3,147.7 2008.3,144.3 2009.3,140.9 2010.3,137.6 2011.3,134.3 2012.3,131.2 2013.3,128.1 2014.3,125.1 2015.3,122.2 2016.3,119.4 2017.3,116.7 2018.3,114.1 2019.3,111.7 2020.3,109.3 2021.3,107.0 2022.3,104.9 2023.3,102.8 2024.3,100.9 2025.3,99.1 2026.3,97.4 2027.3,95.8 2028.3,94.4 2029.3,93.1 2030.3,91.9 2031.3,90.8 2032.3,89.9 2033.3,89.1 2034.3,88.5 2035.3,87.9 2036.3,87.5 2037.3,87.3 2038.3,87.2 2039.3,87.2 2040.3,87.3 2041.3,87.6 2042.3,88.1 2043.3,88.7 2044.3,89.4 2045.3,90.3 2046.3,91.3 2047.3,92.5 2048.3,93.8 2049.3,95.3 2050.3,96.8 2051.3,98.6 2052.3,100.4 2053.3,102.4 2054.3,104.4 2055.3,106.7 2056.3,109.0 2057.3,111.4 2058.3,114.0 2059.3,116.6 2060.3,119.4 2061.3,122.2 2062.3,125.2 2063.3,128.2 2064.3,131.3 2065.3,134.5 2066.3,137.8 2067.3,141.2 2068.3,144.6 2069.3,148.1 2070.3,151.6 2071.3,155.3 2072.3,158.9 2073.3,162.6 2074.3,166.4 2075.3,170.2 2076.3,174.0 2077.3,177.8 2078.3,181.7 2079.3,185.6 2080.3,189.5 2081.3,193.5 2082.3,197.4 2083.3,201.4 2084.3,205.3 2085.3,209.3 2086.3,213.3 2087.3,217.2 2088.3,221.2 2089.3,225.1 2090.3,229.0 2091.3,233.0 2092.3,236.8 2093.3,240.7 2094.3,244.6 2095.3,248.4 2096.3,252.2 2097.3,255.9 2098.3,259.7 2099.3,263.4 2100.3,267.0 2101.3,270.7 2102.3,274.3 2103.3,277.8 2104.3,281.3 2105.3,284.8 2106.3,288.2 2107.3,291.6 2108.3,294.9 2109.3,298.2 2110.3,301.5 2111.3,304.7 2112.3,307.9 2113.3,311.0 2114.3,314.0 2115.3,317.1 2116.3,320.0 2117.3,322.9 2118.3,325.8 2119.3,328.7 2120.3,331.4 2121.3,334.2 2122.3,336.9 2123.3,339.5 2124.3,342.1 2125.3,344.6 2126.3,347.1 2127.3,349.6 2128.3,352.0 2129.3,354.4 2130.3,356.7 2131.3,358.9 2132.3,361.2 2133.3,363.4 2134.3,365.5 2135.3,367.6 2136.3,369.7 2137.3,371.7 2138.3,373.7 2139.3,375.6 2140.3,377.5 2141.3,379.4 2142.3,381.2 2143.3,383.0 2144.3,384.7 2145.3,386.4 2146.3,388.1 2147.3,389.8 2148.3,391.4 2149.3,392.9 2150.3,394.5 2151.3,396.0 2152.3,397.5 2153.3,398.9 2154.3,400.3 2155.3,401.7 2156.3,403.1 2157.3,404.4 2158.3,405.7 2159.3,407.0 2160.3,408.2 2161.3,409.5 2162.3,410.6 2163.3,411.8 2164.3,413.0 2165.3,414.1 2166.3,415.2 2167.3,416.2 2168.3,417.3 2169.3,418.3 2170.3,419.3 2171.3,420.3 2172.3,421.3 2173.3,422.2 2174.3,423.2 2175.3,424.1 2176.3,424.9 2177.3,425.8 2178.3,426.7 2179.3,427.5 2180.3,428.3 2181.3,429.1 2182.3,429.9 2183.3,430.7 2184.3,431.4 2185.3,432.1 2186.3,432.9 2187.3,433.6 2188.3,434.3 2189.3,434.9 2190.3,435.6 2191.3,436.3 2192.3,436.9 2193.3,437.5 2194.3,438.1 2195.3,438.7 2196.3,439.3 2197.3,439.9 2198.3,440.5 2199.3,441.0 2200.3,441.6 2201.3,442.1 2202.3,442.6 2203.3,443.1 2204.3,443.6 2205.3,444.1 2206.3,444.6 2207.3,445.1 2208.3,445.5 2209.3,446.0 2210.3,446.4 2211.3,446.9 2212.3,447.3 2213.3,447.7 2214.3,448.1 2215.3,448.5 2216.3,448.9 2217.3,449.3 2218.3,449.7 2219.3,450.1 2220.3,450.5 2221.3,450.8 2222.3,451.2 2223.3,451.5 2224.3,451.9 2225.3,452.2 2226.3,452.5 2227.3,452.9 2228.3,453.2 2229.3,453.5 2230.3,453.8 2231.3,454.1 2232.3,454.4 2233.3,454.7 2234.3,455.0 2235.3,455.2 2236.3,455.5 2237.3,455.8 2238.3,456.0 2239.3,456.3 2240.3,456.5 2241.3,456.8 2242.3,457.0 2243.3,457.3 2244.3,457.5 2245.3,457.8 2246.3,458.0 2247.3,458.2 2248.3,458.4 2249.3,458.6 2250.3,458.9 2251.3,459.1 2252.3,459.3 2253.3,459.5 2254.3,459.7 2255.3,459.9 2256.3,460.0 2257.3,460.2 2258.3,460.4 2259.3,460.6 2260.3,460.8 2261.3,460.9 2262.3,461.1 2263.3,461.3 2264.3,461.4 2265.3,461.6 2266.3,461.8 2267.3,461.9 2268.3,462.1 2269.3,462.2 2270.3,462.4 2271.3,462.5 2272.3,462.6 2273.3,462.8 2274.3,462.9 2275.3,463.1 2276.3,463.2 2277.3,463.3 2278.3,463.4 2279.3,463.6 2280.3,463.7 2281.3,463.8 2282.3,463.9 2283.3,464.0 2284.3,464.1 2285.3,464.3 2286.3,464.4 2287.3,464.5 2288.3,464.6 2289.3,464.7 2290.3,464.8 2291.3,464.9 2292.3,465.0 2293.3,465.1 2294.3,465.2 2295.3,465.3 2296.3,465.3 2297.3,465.4 2298.3,465.5 2299.3,465.6 2300.3,465.7 2301.3,465.8 2302.3,465.8 2303.3,465.9 2304.3,466.0 2305.3,466.1 2306.3,466.2 2307.3,466.2 2308.3,466.3 2309.3,466.4 2310.3,466.4 2311.3,466.5 2312.3,466.6 2313.3,466.6 2314.3,466.7 2315.3,466.8 2316.3,466.8 2317.3,466.9 2318.3,466.9 2319.3,467.0 2320.3,467.0 2321.3,467.1 2322.3,467.2 2323.3,467.2 2324.3,467.3 2325.3,467.3 2326.3,467.4 2327.3,467.4 2328.3,467.5 2329.3,467.5 2330.3,467.5 2331.3,467.6 2332.3,467.6 2333.3,467.7 2334.3,467.7 2335.3,467.8 2336.3,467.8 2337.3,467.8 2338.3,467.9 2339.3,467.9 2340.3,467.9 2341.3,468.0 2342.3,468.0 2343.3,468.1 2344.3,468.1 2345.3,468.1 2346.3,468.2 2347.3,468.2 2348.3,468.2 2349.3,468.2 2350.3,468.3 2351.3,468.3 2352.3,468.3 2353.3,468.4" fill="none" stroke="#000000" stroke-width="2.1" stroke-linejoin="round"/>
<polyline points="1785.3,469.3 1786.3,469.3 1787.3,469.3 1788.3,469.3 1789.3,469.3 1790.3,469.3 1791.3,469.2 1792.3,469.2 1793.3,469.2 1794.3,469.2 1795.3,469.2 1796.3,469.2 1797.3,469.2 1798.3,469.2 1799.3,469.1 1800.3,469.1 1801.3,469.1 1802.3,469.1 1803.3,469.1 1804.3,469.1 1805.3,469.1 1806.3,469.0 1807.3,469.0 1808.3,469.0 1809.3,469.0 1810.3,469.0 1811.3,469.0 1812.3,468.9 1813.3,468.9 1814.3,468.9 1815.3,468.9 1816.3,468.8 1817.3,468.8 1818.3,468.8 1819.3,468.8 1820.3,468.7 1821.3,468.7 1822.3,468.7 1823.3,468.7 1824.3,468.6 1825.3,468.6 1826.3,468.6 1827.3,468.5 1828.3,468.5 1829.3,468.5 1830.3,468.4 1831.3,468.4 1832.3,468.4 1833.3,468.3 1834.3,468.3 1835.3,468.2 1836.3,468.2 1837.3,468.1 1838.3,468.1 1839.3,468.0 1840.3,468.0 1841.3,467.9 1842.3,467.9 1843.3,467.8 1844.3,467.8 1845.3,467.7 1846.3,467.6 1847.3,467.6 1848.3,467.5 1849.3,467.5 1850.3,467.4 1851.3,467.3 1852.3,467.2 1853.3,467.2 1854.3,467.1 1855.3,467.0 1856.3,466.9 1857.3,466.8 1858.3,466.7 1859.3,466.6 1860.3,466.5 1861.3,466.4 1862.3,466.3 1863.3,466.2 1864.3,466.1 1865.3,466.0 1866.3,465.9 1867.3,465.7 1868.3,465.6 1869.3,465.5 1870.3,465.3 1871.3,465.2 1872.3,465.0 1873.3,464.9 1874.3,464.7 1875.3,464.6 1876.3,464.4 1877.3,464.2 1878.3,464.0 1879.3,463.8 1880.3,463.6 1881.3,463.4 1882.3,463.2 1883.3,463.0 1884.3,462.8 1885.3,462.5 1886.3,462.3 1887.3,462.0 1888.3,461.8 1889.3,461.5 1890.3,461.2 1891.3,460.9 1892.3,460.6 1893.3,460.3 1894.3,460.0 1895.3,459.6 1896.3,459.3 1897.3,458.9 1898.3,458.5 1899.3,458.1 1900.3,457.7 1901.3,457.3 1902.3,456.9 1903.3,456.4 1904.3,456.0 1905.3,455.5 1906.3,455.0 1907.3,454.5 1908.3,453.9 1909.3,453.4 1910.3,452.8 1911.3,452.2 1912.3,451.6 1913.3,451.0 1914.3,450.3 1915.3,449.6 1916.3,448.9 1917.3,448.2 1918.3,447.4 1919.3,446.7 1920.3,445.9 1921.3,445.0 1922.3,444.2 1923.3,443.3 1924.3,442.3 1925.3,441.4 1926.3,440.4 1927.3,439.4 1928.3,438.3 1929.3,437.3 1930.3,436.1 1931.3,435.0 1932.3,433.8 1933.3,432.6 1934.3,431.3 1935.3,430.0 1936.3,428.7 1937.3,427.3 1938.3,425.9 1939.3,424.4 1940.3,422.9 1941.3,421.3 1942.3,419.7 1943.3,418.1 1944.3,416.4 1945.3,414.7 1946.3,412.9 1947.3,411.0 1948.3,409.2 1949.3,407.2 1950.3,405.2 1951.3,403.2 1952.3,401.1 1953.3,399.0 1954.3,396.8 1955.3,394.5 1956.3,392.2 1957.3,389.9 1958.3,387.5 1959.3,385.0 1960.3,382.5 1961.3,379.9 1962.3,377.3 1963.3,374.6 1964.3,371.8 1965.3,369.0 1966.3,366.2 1967.3,363.3 1968.3,360.3 1969.3,357.3 1970.3,354.2 1971.3,351.1 1972.3,347.9 1973.3,344.7 1974.3,341.4 1975.3,338.1 1976.3,334.7 1977.3,331.3 1978.3,327.8 1979.3,324.2 1980.3,320.7 1981.3,317.0 1982.3,313.4 1983.3,309.7 1984.3,305.9 1985.3,302.2 1986.3,298.3 1987.3,294.5 1988.3,290.6 1989.3,286.7 1990.3,282.8 1991.3,278.8 1992.3,274.8 1993.3,270.8 1994.3,266.8 1995.3,262.7 1996.3,258.7 1997.3,254.6 1998.3,250.5 1999.3,246.5 2000.3,242.4 2001.3,238.3 2002.3,234.3 2003.3,230.2 2004.3,226.2 2005.3,222.1 2006.3,218.1 2007.3,214.1 2008.3,210.2 2009.3,206.2 2010.3,202.3 2011.3,198.5 2012.3,194.7 2013.3,190.9 2014.3,187.2 2015.3,183.5 2016.3,179.9 2017.3,176.3 2018.3,172.8 2019.3,169.4 2020.3,166.0 2021.3,162.8 2022.3,159.5 2023.3,156.4 2024.3,153.4 2025.3,150.4 2026.3,147.5 2027.3,144.8 2028.3,142.1 2029.3,139.5 2030.3,137.0 2031.3,134.7 2032.3,132.4 2033.3,130.3 2034.3,128.2 2035.3,126.3 2036.3,124.5 2037.3,122.8 2038.3,121.3 2039.3,119.8 2040.3,118.5 2041.3,117.3 2042.3,116.3 2043.3,115.4 2044.3,114.6 2045.3,113.9 2046.3,113.4 2047.3,113.0 2048.3,112.7 2049.3,112.6 2050.3,112.6 2051.3,112.8 2052.3,113.0 2053.3,113.4 2054.3,113.9 2055.3,114.5 2056.3,115.2 2057.3,116.0 2058.3,117.0 2059.3,118.1 2060.3,119.2 2061.3,120.5 2062.3,121.9 2063.3,123.4 2064.3,125.1 2065.3,126.8 2066.3,128.6 2067.3,130.5 2068.3,132.5 2069.3,134.7 2070.3,136.9 2071.3,139.2 2072.3,141.6 2073.3,144.0 2074.3,146.6 2075.3,149.2 2076.3,151.9 2077.3,154.7 2078.3,157.6 2079.3,160.5 2080.3,163.5 2081.3,166.5 2082.3,169.6 2083.3,172.8 2084.3,176.0 2085.3,179.2 2086.3,182.5 2087.3,185.9 2088.3,189.2 2089.3,192.7 2090.3,196.1 2091.3,199.6 2092.3,203.1 2093.3,206.6 2094.3,210.1 2095.3,213.7 2096.3,217.3 2097.3,220.8 2098.3,224.4 2099.3,228.0 2100.3,231.6 2101.3,235.2 2102.3,238.8 2103.3,242.4 2104.3,246.0 2105.3,249.5 2106.3,253.1 2107.3,256.6 2108.3,260.1 2109.3,263.6 2110.3,267.1 2111.3,270.6 2112.3,274.0 2113.3,277.4 2114.3,280.8 2115.3,284.1 2116.3,287.4 2117.3,290.7 2118.3,294.0 2119.3,297.2 2120.3,300.3 2121.3,303.5 2122.3,306.6 2123.3,309.6 2124.3,312.6 2125.3,315.6 2126.3,318.5 2127.3,321.4 2128.3,324.3 2129.3,327.1 2130.3,329.8 2131.3,332.6 2132.3,335.2 2133.3,337.9 2134.3,340.5 2135.3,343.0 2136.3,345.5 2137.3,348.0 2138.3,350.4 2139.3,352.7 2140.3,355.0 2141.3,357.3 2142.3,359.6 2143.3,361.8 2144.3,363.9 2145.3,366.0 2146.3,368.1 2147.3,370.1 2148.3,372.1 2149.3,374.0 2150.3,375.9 2151.3,377.8 2152.3,379.6 2153.3,381.4 2154.3,383.2 2155.3,384.9 2156.3,386.6 2157.3,388.2 2158.3,389.8 2159.3,391.4 2160.3,393.0 2161.3,394.5 2162.3,395.9 2163.3,397.4 2164.3,398.8 2165.3,400.2 2166.3,401.5 2167.3,402.9 2168.3,404.2 2169.3,405.4 2170.3,406.7 2171.3,407.9 2172.3,409.1 2173.3,410.3 2174.3,411.4 2175.3,412.5 2176.3,413.6 2177.3,414.7 2178.3,415.7 2179.3,416.8 2180.3,417.8 2181.3,418.8 2182.3,419.7 2183.3,420.7 2184.3,421.6 2185.3,422.5 2186.3,423.4 2187.3,424.3 2188.3,425.1 2189.3,426.0 2190.3,426.8 2191.3,427.6 2192.3,428.4 2193.3,429.1 2194.3,429.9 2195.3,430.6 2196.3,431.4 2197.3,432.1 2198.3,432.8 2199.3,433.5 2200.3,434.1 2201.3,434.8 2202.3,435.5 2203.3,436.1 2204.3,436.7 2205.3,437.3 2206.3,437.9 2207.3,438.5 2208.3,439.1 2209.3,439.7 2210.3,440.2 2211.3,440.8 2212.3,441.3 2213.3,441.9 2214.3,442.4 2215.3,442.9 2216.3,443.4 2217.3,443.9 2218.3,444.4 2219.3,444.8 2220.3,445.3 2221.3,445.8 2222.3,446.2 2223.3,446.6 2224.3,447.1 2225.3,447.5 2226.3,447.9 2227.3,448.3 2228.3,448.7 2229.3,449.1 2230.3,449.5 2231.3,449.9 2232.3,450.3 2233.3,450.6 2234.3,451.0 2235.3,451.3 2236.3,451.7 2237.3,452.0 2238.3,452.4 2239.3,452.7 2240.3,453.0 2241.3,453.3 2242.3,453.6 2243.3,454.0 2244.3,454.3 2245.3,454.5 2246.3,454.8 2247.3,455.1 2248.3,455.4 2249.3,455.7 2250.3,455.9 2251.3,456.2 2252.3,456.5 2253.3,456.7 2254.3,457.0 2255.3,457.2 2256.3,457.5 2257.3,457.7 2258.3,457.9 2259.3,458.1 2260.3,458.4 2261.3,458.6 2262.3,458.8 2263.3,459.0 2264.3,459.2 2265.3,459.4 2266.3,459.6 2267.3,459.8 2268.3,460.0 2269.3,460.2 2270.3,460.4 2271.3,460.6 2272.3,460.7 2273.3,460.9 2274.3,461.1 2275.3,461.2 2276.3,461.4 2277.3,461.6 2278.3,461.7 2279.3,461.9 2280.3,462.0 2281.3,462.2 2282.3,462.3 2283.3,462.5 2284.3,462.6 2285.3,462.8 2286.3,462.9 2287.3,463.0 2288.3,463.2 2289.3,463.3 2290.3,463.4 2291.3,463.5 2292.3,463.6 2293.3,463.8 2294.3,463.9 2295.3,464.0 2296.3,464.1 2297.3,464.2 2298.3,464.3 2299.3,464.4 2300.3,464.5 2301.3,464.6 2302.3,464.7 2303.3,464.8 2304.3,464.9 2305.3,465.0 2306.3,465.1 2307.3,465.2 2308.3,465.3 2309.3,465.4 2310.3,465.4 2311.3,465.5 2312.3,465.6 2313.3,465.7 2314.3,465.8 2315.3,465.8 2316.3,465.9 2317.3,466.0 2318.3,466.1 2319.3,466.1 2320.3,466.2 2321.3,466.3 2322.3,466.3 2323.3,466.4 2324.3,466.5 2325.3,466.5 2326.3,466.6 2327.3,466.6 2328.3,466.7 2329.3,466.8 2330.3,466.8 2331.3,466.9 2332.3,466.9 2333.3,467.0 2334.3,467.0 2335.3,467.1 2336.3,467.1 2337.3,467.2 2338.3,467.2 2339.3,467.3 2340.3,467.3 2341.3,467.4 2342.3,467.4 2343.3,467.4 2344.3,467.5 2345.3,467.5 2346.3,467.6 2347.3,467.6 2348.3,467.6 2349.3,467.7 2350.3,467.7 2351.3,467.8 2352.3,467.8 2353.3,467.8" fill="none" stroke="#e8151d" stroke-width="2.1" stroke-linejoin="round"/>
<polyline points="1785.3,469.2 1786.3,469.2 1787.3,469.2 1788.3,469.2 1789.3,469.2 1790.3,469.2 1791.3,469.2 1792.3,469.2 1793.3,469.2 1794.3,469.2 1795.3,469.2 1796.3,469.2 1797.3,469.2 1798.3,469.2 1799.3,469.2 1800.3,469.1 1801.3,469.1 1802.3,469.1 1803.3,469.1 1804.3,469.1 1805.3,469.1 1806.3,469.1 1807.3,469.1 1808.3,469.1 1809.3,469.1 1810.3,469.1 1811.3,469.1 1812.3,469.1 1813.3,469.0 1814.3,469.0 1815.3,469.0 1816.3,469.0 1817.3,469.0 1818.3,469.0 1819.3,469.0 1820.3,469.0 1821.3,469.0 1822.3,469.0 1823.3,469.0 1824.3,468.9 1825.3,468.9 1826.3,468.9 1827.3,468.9 1828.3,468.9 1829.3,468.9 1830.3,468.9 1831.3,468.9 1832.3,468.8 1833.3,468.8 1834.3,468.8 1835.3,468.8 1836.3,468.8 1837.3,468.8 1838.3,468.8 1839.3,468.7 1840.3,468.7 1841.3,468.7 1842.3,468.7 1843.3,468.7 1844.3,468.7 1845.3,468.6 1846.3,468.6 1847.3,468.6 1848.3,468.6 1849.3,468.5 1850.3,468.5 1851.3,468.5 1852.3,468.5 1853.3,468.4 1854.3,468.4 1855.3,468.4 1856.3,468.3 1857.3,468.3 1858.3,468.3 1859.3,468.2 1860.3,468.2 1861.3,468.2 1862.3,468.1 1863.3,468.1 1864.3,468.0 1865.3,468.0 1866.3,467.9 1867.3,467.9 1868.3,467.8 1869.3,467.7 1870.3,467.7 1871.3,467.6 1872.3,467.5 1873.3,467.5 1874.3,467.4 1875.3,467.3 1876.3,467.2 1877.3,467.1 1878.3,467.0 1879.3,466.9 1880.3,466.8 1881.3,466.7 1882.3,466.6 1883.3,466.4 1884.3,466.3 1885.3,466.2 1886.3,466.0 1887.3,465.8 1888.3,465.7 1889.3,465.5 1890.3,465.3 1891.3,465.1 1892.3,464.9 1893.3,464.7 1894.3,464.5 1895.3,464.2 1896.3,464.0 1897.3,463.7 1898.3,463.4 1899.3,463.1 1900.3,462.8 1901.3,462.5 1902.3,462.1 1903.3,461.8 1904.3,461.4 1905.3,461.0 1906.3,460.6 1907.3,460.1 1908.3,459.7 1909.3,459.2 1910.3,458.7 1911.3,458.1 1912.3,457.6 1913.3,457.0 1914.3,456.4 1915.3,455.8 1916.3,455.1 1917.3,454.4 1918.3,453.7 1919.3,452.9 1920.3,452.2 1921.3,451.3 1922.3,450.5 1923.3,449.6 1924.3,448.7 1925.3,447.7 1926.3,446.7 1927.3,445.7 1928.3,444.6 1929.3,443.5 1930.3,442.3 1931.3,441.1 1932.3,439.8 1933.3,438.5 1934.3,437.1 1935.3,435.7 1936.3,434.3 1937.3,432.8 1938.3,431.2 1939.3,429.6 1940.3,427.9 1941.3,426.2 1942.3,424.4 1943.3,422.6 1944.3,420.7 1945.3,418.8 1946.3,416.7 1947.3,414.7 1948.3,412.5 1949.3,410.3 1950.3,408.1 1951.3,405.8 1952.3,403.4 1953.3,400.9 1954.3,398.4 1955.3,395.8 1956.3,393.2 1957.3,390.4 1958.3,387.6 1959.3,384.8 1960.3,381.9 1961.3,378.9 1962.3,375.9 1963.3,372.7 1964.3,369.6 1965.3,366.3 1966.3,363.0 1967.3,359.6 1968.3,356.2 1969.3,352.7 1970.3,349.1 1971.3,345.5 1972.3,341.8 1973.3,338.1 1974.3,334.3 1975.3,330.4 1976.3,326.5 1977.3,322.6 1978.3,318.6 1979.3,314.5 1980.3,310.4 1981.3,306.3 1982.3,302.1 1983.3,297.8 1984.3,293.6 1985.3,289.3 1986.3,284.9 1987.3,280.6 1988.3,276.2 1989.3,271.8 1990.3,267.4 1991.3,262.9 1992.3,258.5 1993.3,254.0 1994.3,249.5 1995.3,245.1 1996.3,240.6 1997.3,236.1 1998.3,231.7 1999.3,227.2 2000.3,222.8 2001.3,218.4 2002.3,214.0 2003.3,209.6 2004.3,205.3 2005.3,201.0 2006.3,196.8 2007.3,192.5 2008.3,188.4 2009.3,184.3 2010.3,180.2 2011.3,176.3 2012.3,172.3 2013.3,168.5 2014.3,164.7 2015.3,161.0 2016.3,157.4 2017.3,153.9 2018.3,150.4 2019.3,147.1 2020.3,143.9 2021.3,140.7 2022.3,137.7 2023.3,134.7 2024.3,131.9 2025.3,129.2 2026.3,126.6 2027.3,124.1 2028.3,121.8 2029.3,119.6 2030.3,117.5 2031.3,115.5 2032.3,113.7 2033.3,112.0 2034.3,110.5 2035.3,109.1 2036.3,107.8 2037.3,106.7 2038.3,105.7 2039.3,104.8 2040.3,104.2 2041.3,103.6 2042.3,103.2 2043.3,103.0 2044.3,102.9 2045.3,102.9 2046.3,103.1 2047.3,103.4 2048.3,103.8 2049.3,104.3 2050.3,105.0 2051.3,105.7 2052.3,106.6 2053.3,107.6 2054.3,108.7 2055.3,109.9 2056.3,111.2 2057.3,112.6 2058.3,114.2 2059.3,115.8 2060.3,117.5 2061.3,119.4 2062.3,121.3 2063.3,123.4 2064.3,125.5 2065.3,127.8 2066.3,130.1 2067.3,132.5 2068.3,135.0 2069.3,137.6 2070.3,140.3 2071.3,143.0 2072.3,145.8 2073.3,148.7 2074.3,151.7 2075.3,154.7 2076.3,157.8 2077.3,160.9 2078.3,164.2 2079.3,167.4 2080.3,170.7 2081.3,174.1 2082.3,177.5 2083.3,180.9 2084.3,184.4 2085.3,187.9 2086.3,191.5 2087.3,195.0 2088.3,198.6 2089.3,202.3 2090.3,205.9 2091.3,209.6 2092.3,213.2 2093.3,216.9 2094.3,220.6 2095.3,224.3 2096.3,228.0 2097.3,231.7 2098.3,235.4 2099.3,239.1 2100.3,242.8 2101.3,246.4 2102.3,250.1 2103.3,253.7 2104.3,257.4 2105.3,261.0 2106.3,264.6 2107.3,268.1 2108.3,271.7 2109.3,275.2 2110.3,278.7 2111.3,282.1 2112.3,285.5 2113.3,288.9 2114.3,292.3 2115.3,295.6 2116.3,298.9 2117.3,302.1 2118.3,305.3 2119.3,308.5 2120.3,311.6 2121.3,314.7 2122.3,317.7 2123.3,320.7 2124.3,323.7 2125.3,326.6 2126.3,329.4 2127.3,332.3 2128.3,335.0 2129.3,337.7 2130.3,340.4 2131.3,343.0 2132.3,345.6 2133.3,348.2 2134.3,350.7 2135.3,353.1 2136.3,355.5 2137.3,357.9 2138.3,360.2 2139.3,362.4 2140.3,364.6 2141.3,366.8 2142.3,368.9 2143.3,371.0 2144.3,373.1 2145.3,375.1 2146.3,377.0 2147.3,378.9 2148.3,380.8 2149.3,382.6 2150.3,384.4 2151.3,386.2 2152.3,387.9 2153.3,389.5 2154.3,391.2 2155.3,392.8 2156.3,394.3 2157.3,395.9 2158.3,397.3 2159.3,398.8 2160.3,400.2 2161.3,401.6 2162.3,403.0 2163.3,404.3 2164.3,405.6 2165.3,406.8 2166.3,408.1 2167.3,409.3 2168.3,410.5 2169.3,411.6 2170.3,412.7 2171.3,413.8 2172.3,414.9 2173.3,416.0 2174.3,417.0 2175.3,418.0 2176.3,419.0 2177.3,419.9 2178.3,420.8 2179.3,421.8 2180.3,422.6 2181.3,423.5 2182.3,424.4 2183.3,425.2 2184.3,426.0 2185.3,426.8 2186.3,427.6 2187.3,428.4 2188.3,429.1 2189.3,429.8 2190.3,430.6 2191.3,431.3 2192.3,431.9 2193.3,432.6 2194.3,433.3 2195.3,433.9 2196.3,434.6 2197.3,435.2 2198.3,435.8 2199.3,436.4 2200.3,437.0 2201.3,437.5 2202.3,438.1 2203.3,438.6 2204.3,439.2 2205.3,439.7 2206.3,440.2 2207.3,440.7 2208.3,441.2 2209.3,441.7 2210.3,442.2 2211.3,442.7 2212.3,443.2 2213.3,443.6 2214.3,444.1 2215.3,444.5 2216.3,444.9 2217.3,445.4 2218.3,445.8 2219.3,446.2 2220.3,446.6 2221.3,447.0 2222.3,447.4 2223.3,447.8 2224.3,448.1 2225.3,448.5 2226.3,448.9 2227.3,449.2 2228.3,449.6 2229.3,449.9 2230.3,450.3 2231.3,450.6 2232.3,450.9 2233.3,451.3 2234.3,451.6 2235.3,451.9 2236.3,452.2 2237.3,452.5 2238.3,452.8 2239.3,453.1 2240.3,453.4 2241.3,453.7 2242.3,453.9 2243.3,454.2 2244.3,454.5 2245.3,454.7 2246.3,455.0 2247.3,455.3 2248.3,455.5 2249.3,455.8 2250.3,456.0 2251.3,456.3 2252.3,456.5 2253.3,456.7 2254.3,457.0 2255.3,457.2 2256.3,457.4 2257.3,457.6 2258.3,457.8 2259.3,458.0 2260.3,458.2 2261.3,458.4 2262.3,458.6 2263.3,458.8 2264.3,459.0 2265.3,459.2 2266.3,459.4 2267.3,459.6 2268.3,459.8 2269.3,460.0 2270.3,460.1 2271.3,460.3 2272.3,460.5 2273.3,460.6 2274.3,460.8 2275.3,461.0 2276.3,461.1 2277.3,461.3 2278.3,461.4 2279.3,461.6 2280.3,461.7 2281.3,461.9 2282.3,462.0 2283.3,462.2 2284.3,462.3 2285.3,462.4 2286.3,462.6 2287.3,462.7 2288.3,462.8 2289.3,462.9 2290.3,463.1 2291.3,463.2 2292.3,463.3 2293.3,463.4 2294.3,463.5 2295.3,463.6 2296.3,463.8 2297.3,463.9 2298.3,464.0 2299.3,464.1 2300.3,464.2 2301.3,464.3 2302.3,464.4 2303.3,464.5 2304.3,464.6 2305.3,464.7 2306.3,464.8 2307.3,464.8 2308.3,464.9 2309.3,465.0 2310.3,465.1 2311.3,465.2 2312.3,465.3 2313.3,465.4 2314.3,465.4 2315.3,465.5 2316.3,465.6 2317.3,465.7 2318.3,465.7 2319.3,465.8 2320.3,465.9 2321.3,466.0 2322.3,466.0 2323.3,466.1 2324.3,466.2 2325.3,466.2 2326.3,466.3 2327.3,466.4 2328.3,466.4 2329.3,466.5 2330.3,466.5 2331.3,466.6 2332.3,466.6 2333.3,466.7 2334.3,466.8 2335.3,466.8 2336.3,466.9 2337.3,466.9 2338.3,467.0 2339.3,467.0 2340.3,467.1 2341.3,467.1 2342.3,467.2 2343.3,467.2 2344.3,467.3 2345.3,467.3 2346.3,467.3 2347.3,467.4 2348.3,467.4 2349.3,467.5 2350.3,467.5 2351.3,467.5 2352.3,467.6 2353.3,467.6" fill="none" stroke="#ee8426" stroke-width="2.1" stroke-linejoin="round"/>
<polyline points="1785.3,469.2 1786.3,469.2 1787.3,469.2 1788.3,469.2 1789.3,469.2 1790.3,469.2 1791.3,469.2 1792.3,469.2 1793.3,469.2 1794.3,469.2 1795.3,469.2 1796.3,469.2 1797.3,469.2 1798.3,469.2 1799.3,469.1 1800.3,469.1 1801.3,469.1 1802.3,469.1 1803.3,469.1 1804.3,469.1 1805.3,469.1 1806.3,469.1 1807.3,469.1 1808.3,469.1 1809.3,469.1 1810.3,469.1 1811.3,469.1 1812.3,469.1 1813.3,469.0 1814.3,469.0 1815.3,469.0 1816.3,469.0 1817.3,469.0 1818.3,469.0 1819.3,469.0 1820.3,469.0 1821.3,469.0 1822.3,469.0 1823.3,468.9 1824.3,468.9 1825.3,468.9 1826.3,468.9 1827.3,468.9 1828.3,468.9 1829.3,468.9 1830.3,468.9 1831.3,468.9 1832.3,468.8 1833.3,468.8 1834.3,468.8 1835.3,468.8 1836.3,468.8 1837.3,468.8 1838.3,468.8 1839.3,468.7 1840.3,468.7 1841.3,468.7 1842.3,468.7 1843.3,468.7 1844.3,468.6 1845.3,468.6 1846.3,468.6 1847.3,468.6 1848.3,468.6 1849.3,468.5 1850.3,468.5 1851.3,468.5 1852.3,468.5 1853.3,468.4 1854.3,468.4 1855.3,468.4 1856.3,468.3 1857.3,468.3 1858.3,468.3 1859.3,468.2 1860.3,468.2 1861.3,468.2 1862.3,468.1 1863.3,468.1 1864.3,468.0 1865.3,468.0 1866.3,467.9 1867.3,467.9 1868.3,467.8 1869.3,467.7 1870.3,467.7 1871.3,467.6 1872.3,467.5 1873.3,467.5 1874.3,467.4 1875.3,467.3 1876.3,467.2 1877.3,467.1 1878.3,467.0 1879.3,466.9 1880.3,466.8 1881.3,466.7 1882.3,466.6 1883.3,466.4 1884.3,466.3 1885.3,466.1 1886.3,466.0 1887.3,465.8 1888.3,465.7 1889.3,465.5 1890.3,465.3 1891.3,465.1 1892.3,464.9 1893.3,464.7 1894.3,464.4 1895.3,464.2 1896.3,463.9 1897.3,463.7 1898.3,463.4 1899.3,463.1 1900.3,462.8 1901.3,462.4 1902.3,462.1 1903.3,461.7 1904.3,461.3 1905.3,460.9 1906.3,460.5 1907.3,460.1 1908.3,459.6 1909.3,459.1 1910.3,458.6 1911.3,458.1 1912.3,457.5 1913.3,457.0 1914.3,456.3 1915.3,455.7 1916.3,455.0 1917.3,454.4 1918.3,453.6 1919.3,452.9 1920.3,452.1 1921.3,451.3 1922.3,450.4 1923.3,449.5 1924.3,448.6 1925.3,447.6 1926.3,446.6 1927.3,445.6 1928.3,444.5 1929.3,443.3 1930.3,442.2 1931.3,440.9 1932.3,439.7 1933.3,438.4 1934.3,437.0 1935.3,435.6 1936.3,434.1 1937.3,432.6 1938.3,431.1 1939.3,429.4 1940.3,427.8 1941.3,426.0 1942.3,424.2 1943.3,422.4 1944.3,420.5 1945.3,418.5 1946.3,416.5 1947.3,414.4 1948.3,412.3 1949.3,410.1 1950.3,407.8 1951.3,405.5 1952.3,403.1 1953.3,400.6 1954.3,398.1 1955.3,395.5 1956.3,392.8 1957.3,390.1 1958.3,387.3 1959.3,384.4 1960.3,381.5 1961.3,378.5 1962.3,375.4 1963.3,372.3 1964.3,369.1 1965.3,365.8 1966.3,362.5 1967.3,359.1 1968.3,355.7 1969.3,352.2 1970.3,348.6 1971.3,344.9 1972.3,341.2 1973.3,337.5 1974.3,333.7 1975.3,329.8 1976.3,325.9 1977.3,321.9 1978.3,317.9 1979.3,313.8 1980.3,309.7 1981.3,305.5 1982.3,301.3 1983.3,297.1 1984.3,292.8 1985.3,288.5 1986.3,284.1 1987.3,279.7 1988.3,275.3 1989.3,270.9 1990.3,266.5 1991.3,262.0 1992.3,257.5 1993.3,253.0 1994.3,248.5 1995.3,244.0 1996.3,239.5 1997.3,235.1 1998.3,230.6 1999.3,226.1 2000.3,221.7 2001.3,217.2 2002.3,212.8 2003.3,208.4 2004.3,204.1 2005.3,199.8 2006.3,195.5 2007.3,191.3 2008.3,187.1 2009.3,183.0 2010.3,178.9 2011.3,174.9 2012.3,171.0 2013.3,167.1 2014.3,163.3 2015.3,159.6 2016.3,156.0 2017.3,152.4 2018.3,149.0 2019.3,145.6 2020.3,142.4 2021.3,139.2 2022.3,136.2 2023.3,133.2 2024.3,130.4 2025.3,127.6 2026.3,125.0 2027.3,122.6 2028.3,120.2 2029.3,118.0 2030.3,115.9 2031.3,113.9 2032.3,112.1 2033.3,110.4 2034.3,108.8 2035.3,107.4 2036.3,106.1 2037.3,105.0 2038.3,104.0 2039.3,103.2 2040.3,102.5 2041.3,102.0 2042.3,101.6 2043.3,101.3 2044.3,101.2 2045.3,101.3 2046.3,101.4 2047.3,101.7 2048.3,102.1 2049.3,102.7 2050.3,103.3 2051.3,104.1 2052.3,104.9 2053.3,105.9 2054.3,107.0 2055.3,108.2 2056.3,109.6 2057.3,111.0 2058.3,112.5 2059.3,114.2 2060.3,115.9 2061.3,117.8 2062.3,119.8 2063.3,121.8 2064.3,124.0 2065.3,126.2 2066.3,128.6 2067.3,131.0 2068.3,133.5 2069.3,136.1 2070.3,138.8 2071.3,141.5 2072.3,144.4 2073.3,147.3 2074.3,150.2 2075.3,153.3 2076.3,156.4 2077.3,159.5 2078.3,162.8 2079.3,166.0 2080.3,169.4 2081.3,172.7 2082.3,176.1 2083.3,179.6 2084.3,183.1 2085.3,186.6 2086.3,190.2 2087.3,193.8 2088.3,197.4 2089.3,201.0 2090.3,204.7 2091.3,208.4 2092.3,212.1 2093.3,215.8 2094.3,219.5 2095.3,223.2 2096.3,226.9 2097.3,230.6 2098.3,234.3 2099.3,238.0 2100.3,241.7 2101.3,245.4 2102.3,249.1 2103.3,252.8 2104.3,256.4 2105.3,260.0 2106.3,263.6 2107.3,267.2 2108.3,270.8 2109.3,274.3 2110.3,277.8 2111.3,281.3 2112.3,284.7 2113.3,288.1 2114.3,291.5 2115.3,294.8 2116.3,298.1 2117.3,301.4 2118.3,304.6 2119.3,307.8 2120.3,310.9 2121.3,314.0 2122.3,317.0 2123.3,320.0 2124.3,323.0 2125.3,325.9 2126.3,328.8 2127.3,331.6 2128.3,334.4 2129.3,337.1 2130.3,339.8 2131.3,342.5 2132.3,345.1 2133.3,347.6 2134.3,350.1 2135.3,352.6 2136.3,355.0 2137.3,357.3 2138.3,359.7 2139.3,361.9 2140.3,364.2 2141.3,366.3 2142.3,368.5 2143.3,370.6 2144.3,372.6 2145.3,374.6 2146.3,376.6 2147.3,378.5 2148.3,380.4 2149.3,382.2 2150.3,384.0 2151.3,385.8 2152.3,387.5 2153.3,389.2 2154.3,390.8 2155.3,392.4 2156.3,394.0 2157.3,395.5 2158.3,397.0 2159.3,398.5 2160.3,399.9 2161.3,401.3 2162.3,402.7 2163.3,404.0 2164.3,405.3 2165.3,406.6 2166.3,407.8 2167.3,409.0 2168.3,410.2 2169.3,411.3 2170.3,412.5 2171.3,413.6 2172.3,414.7 2173.3,415.7 2174.3,416.7 2175.3,417.7 2176.3,418.7 2177.3,419.7 2178.3,420.6 2179.3,421.5 2180.3,422.4 2181.3,423.3 2182.3,424.2 2183.3,425.0 2184.3,425.8 2185.3,426.6 2186.3,427.4 2187.3,428.2 2188.3,428.9 2189.3,429.7 2190.3,430.4 2191.3,431.1 2192.3,431.8 2193.3,432.4 2194.3,433.1 2195.3,433.8 2196.3,434.4 2197.3,435.0 2198.3,435.6 2199.3,436.2 2200.3,436.8 2201.3,437.4 2202.3,437.9 2203.3,438.5 2204.3,439.0 2205.3,439.6 2206.3,440.1 2207.3,440.6 2208.3,441.1 2209.3,441.6 2210.3,442.1 2211.3,442.6 2212.3,443.0 2213.3,443.5 2214.3,443.9 2215.3,444.4 2216.3,444.8 2217.3,445.2 2218.3,445.7 2219.3,446.1 2220.3,446.5 2221.3,446.9 2222.3,447.3 2223.3,447.7 2224.3,448.0 2225.3,448.4 2226.3,448.8 2227.3,449.1 2228.3,449.5 2229.3,449.8 2230.3,450.2 2231.3,450.5 2232.3,450.8 2233.3,451.2 2234.3,451.5 2235.3,451.8 2236.3,452.1 2237.3,452.4 2238.3,452.7 2239.3,453.0 2240.3,453.3 2241.3,453.6 2242.3,453.9 2243.3,454.1 2244.3,454.4 2245.3,454.7 2246.3,454.9 2247.3,455.2 2248.3,455.5 2249.3,455.7 2250.3,456.0 2251.3,456.2 2252.3,456.4 2253.3,456.7 2254.3,456.9 2255.3,457.1 2256.3,457.3 2257.3,457.6 2258.3,457.8 2259.3,458.0 2260.3,458.2 2261.3,458.4 2262.3,458.6 2263.3,458.8 2264.3,459.0 2265.3,459.2 2266.3,459.4 2267.3,459.6 2268.3,459.7 2269.3,459.9 2270.3,460.1 2271.3,460.3 2272.3,460.4 2273.3,460.6 2274.3,460.8 2275.3,460.9 2276.3,461.1 2277.3,461.2 2278.3,461.4 2279.3,461.5 2280.3,461.7 2281.3,461.8 2282.3,462.0 2283.3,462.1 2284.3,462.3 2285.3,462.4 2286.3,462.5 2287.3,462.7 2288.3,462.8 2289.3,462.9 2290.3,463.0 2291.3,463.2 2292.3,463.3 2293.3,463.4 2294.3,463.5 2295.3,463.6 2296.3,463.7 2297.3,463.8 2298.3,463.9 2299.3,464.1 2300.3,464.2 2301.3,464.3 2302.3,464.4 2303.3,464.5 2304.3,464.5 2305.3,464.6 2306.3,464.7 2307.3,464.8 2308.3,464.9 2309.3,465.0 2310.3,465.1 2311.3,465.2 2312.3,465.3 2313.3,465.3 2314.3,465.4 2315.3,465.5 2316.3,465.6 2317.3,465.7 2318.3,465.7 2319.3,465.8 2320.3,465.9 2321.3,465.9 2322.3,466.0 2323.3,466.1 2324.3,466.1 2325.3,466.2 2326.3,466.3 2327.3,466.3 2328.3,466.4 2329.3,466.5 2330.3,466.5 2331.3,466.6 2332.3,466.6 2333.3,466.7 2334.3,466.7 2335.3,466.8 2336.3,466.9 2337.3,466.9 2338.3,467.0 2339.3,467.0 2340.3,467.1 2341.3,467.1 2342.3,467.2 2343.3,467.2 2344.3,467.2 2345.3,467.3 2346.3,467.3 2347.3,467.4 2348.3,467.4 2349.3,467.5 2350.3,467.5 2351.3,467.5 2352.3,467.6 2353.3,467.6" fill="none" stroke="#e8e43c" stroke-width="2.1" stroke-linejoin="round"/>
<polyline points="1785.3,469.3 1786.3,469.3 1787.3,469.2 1788.3,469.2 1789.3,469.2 1790.3,469.2 1791.3,469.2 1792.3,469.2 1793.3,469.2 1794.3,469.2 1795.3,469.1 1796.3,469.1 1797.3,469.1 1798.3,469.1 1799.3,469.1 1800.3,469.1 1801.3,469.1 1802.3,469.0 1803.3,469.0 1804.3,469.0 1805.3,469.0 1806.3,469.0 1807.3,469.0 1808.3,468.9 1809.3,468.9 1810.3,468.9 1811.3,468.9 1812.3,468.9 1813.3,468.8 1814.3,468.8 1815.3,468.8 1816.3,468.8 1817.3,468.7 1818.3,468.7 1819.3,468.7 1820.3,468.7 1821.3,468.6 1822.3,468.6 1823.3,468.6 1824.3,468.6 1825.3,468.5 1826.3,468.5 1827.3,468.5 1828.3,468.4 1829.3,468.4 1830.3,468.3 1831.3,468.3 1832.3,468.3 1833.3,468.2 1834.3,468.2 1835.3,468.1 1836.3,468.1 1837.3,468.1 1838.3,468.0 1839.3,468.0 1840.3,467.9 1841.3,467.9 1842.3,467.8 1843.3,467.8 1844.3,467.7 1845.3,467.6 1846.3,467.6 1847.3,467.5 1848.3,467.5 1849.3,467.4 1850.3,467.3 1851.3,467.3 1852.3,467.2 1853.3,467.1 1854.3,467.0 1855.3,466.9 1856.3,466.9 1857.3,466.8 1858.3,466.7 1859.3,466.6 1860.3,466.5 1861.3,466.4 1862.3,466.3 1863.3,466.2 1864.3,466.1 1865.3,466.0 1866.3,465.9 1867.3,465.8 1868.3,465.6 1869.3,465.5 1870.3,465.4 1871.3,465.2 1872.3,465.1 1873.3,465.0 1874.3,464.8 1875.3,464.6 1876.3,464.5 1877.3,464.3 1878.3,464.1 1879.3,464.0 1880.3,463.8 1881.3,463.6 1882.3,463.4 1883.3,463.2 1884.3,463.0 1885.3,462.8 1886.3,462.5 1887.3,462.3 1888.3,462.0 1889.3,461.8 1890.3,461.5 1891.3,461.2 1892.3,461.0 1893.3,460.7 1894.3,460.4 1895.3,460.0 1896.3,459.7 1897.3,459.4 1898.3,459.0 1899.3,458.7 1900.3,458.3 1901.3,457.9 1902.3,457.5 1903.3,457.1 1904.3,456.6 1905.3,456.2 1906.3,455.7 1907.3,455.2 1908.3,454.7 1909.3,454.2 1910.3,453.6 1911.3,453.1 1912.3,452.5 1913.3,451.9 1914.3,451.2 1915.3,450.6 1916.3,449.9 1917.3,449.2 1918.3,448.5 1919.3,447.7 1920.3,447.0 1921.3,446.2 1922.3,445.3 1923.3,444.5 1924.3,443.6 1925.3,442.7 1926.3,441.7 1927.3,440.7 1928.3,439.7 1929.3,438.7 1930.3,437.6 1931.3,436.5 1932.3,435.3 1933.3,434.1 1934.3,432.9 1935.3,431.6 1936.3,430.3 1937.3,428.9 1938.3,427.5 1939.3,426.1 1940.3,424.6 1941.3,423.1 1942.3,421.5 1943.3,419.9 1944.3,418.2 1945.3,416.5 1946.3,414.7 1947.3,412.9 1948.3,411.0 1949.3,409.1 1950.3,407.1 1951.3,405.1 1952.3,403.1 1953.3,400.9 1954.3,398.7 1955.3,396.5 1956.3,394.2 1957.3,391.9 1958.3,389.5 1959.3,387.0 1960.3,384.5 1961.3,382.0 1962.3,379.4 1963.3,376.7 1964.3,374.0 1965.3,371.2 1966.3,368.4 1967.3,365.5 1968.3,362.5 1969.3,359.5 1970.3,356.5 1971.3,353.4 1972.3,350.2 1973.3,347.0 1974.3,343.8 1975.3,340.5 1976.3,337.1 1977.3,333.7 1978.3,330.3 1979.3,326.8 1980.3,323.3 1981.3,319.8 1982.3,316.2 1983.3,312.5 1984.3,308.9 1985.3,305.2 1986.3,301.4 1987.3,297.7 1988.3,293.9 1989.3,290.1 1990.3,286.3 1991.3,282.5 1992.3,278.6 1993.3,274.7 1994.3,270.9 1995.3,267.0 1996.3,263.1 1997.3,259.2 1998.3,255.3 1999.3,251.5 2000.3,247.6 2001.3,243.8 2002.3,239.9 2003.3,236.1 2004.3,232.3 2005.3,228.6 2006.3,224.8 2007.3,221.1 2008.3,217.5 2009.3,213.9 2010.3,210.3 2011.3,206.8 2012.3,203.3 2013.3,199.9 2014.3,196.5 2015.3,193.2 2016.3,190.0 2017.3,186.9 2018.3,183.8 2019.3,180.8 2020.3,177.9 2021.3,175.0 2022.3,172.3 2023.3,169.6 2024.3,167.1 2025.3,164.6 2026.3,162.3 2027.3,160.0 2028.3,157.8 2029.3,155.8 2030.3,153.9 2031.3,152.0 2032.3,150.3 2033.3,148.7 2034.3,147.3 2035.3,145.9 2036.3,144.7 2037.3,143.6 2038.3,142.6 2039.3,141.8 2040.3,141.0 2041.3,140.5 2042.3,140.0 2043.3,139.7 2044.3,139.5 2045.3,139.4 2046.3,139.4 2047.3,139.6 2048.3,139.9 2049.3,140.2 2050.3,140.7 2051.3,141.3 2052.3,142.0 2053.3,142.8 2054.3,143.7 2055.3,144.7 2056.3,145.8 2057.3,147.1 2058.3,148.4 2059.3,149.8 2060.3,151.3 2061.3,152.9 2062.3,154.6 2063.3,156.4 2064.3,158.3 2065.3,160.3 2066.3,162.3 2067.3,164.4 2068.3,166.7 2069.3,168.9 2070.3,171.3 2071.3,173.8 2072.3,176.3 2073.3,178.9 2074.3,181.5 2075.3,184.2 2076.3,187.0 2077.3,189.8 2078.3,192.7 2079.3,195.6 2080.3,198.6 2081.3,201.6 2082.3,204.7 2083.3,207.8 2084.3,210.9 2085.3,214.1 2086.3,217.3 2087.3,220.5 2088.3,223.8 2089.3,227.1 2090.3,230.4 2091.3,233.7 2092.3,237.0 2093.3,240.3 2094.3,243.7 2095.3,247.1 2096.3,250.4 2097.3,253.8 2098.3,257.1 2099.3,260.5 2100.3,263.8 2101.3,267.2 2102.3,270.5 2103.3,273.8 2104.3,277.1 2105.3,280.4 2106.3,283.7 2107.3,286.9 2108.3,290.1 2109.3,293.3 2110.3,296.5 2111.3,299.7 2112.3,302.8 2113.3,305.9 2114.3,308.9 2115.3,311.9 2116.3,314.9 2117.3,317.9 2118.3,320.8 2119.3,323.7 2120.3,326.5 2121.3,329.4 2122.3,332.1 2123.3,334.9 2124.3,337.5 2125.3,340.2 2126.3,342.8 2127.3,345.4 2128.3,347.9 2129.3,350.4 2130.3,352.8 2131.3,355.2 2132.3,357.6 2133.3,359.9 2134.3,362.1 2135.3,364.4 2136.3,366.6 2137.3,368.7 2138.3,370.8 2139.3,372.9 2140.3,374.9 2141.3,376.8 2142.3,378.8 2143.3,380.7 2144.3,382.5 2145.3,384.3 2146.3,386.1 2147.3,387.9 2148.3,389.6 2149.3,391.2 2150.3,392.9 2151.3,394.4 2152.3,396.0 2153.3,397.5 2154.3,399.0 2155.3,400.4 2156.3,401.9 2157.3,403.2 2158.3,404.6 2159.3,405.9 2160.3,407.2 2161.3,408.5 2162.3,409.7 2163.3,410.9 2164.3,412.1 2165.3,413.2 2166.3,414.3 2167.3,415.4 2168.3,416.5 2169.3,417.5 2170.3,418.5 2171.3,419.5 2172.3,420.5 2173.3,421.5 2174.3,422.4 2175.3,423.3 2176.3,424.2 2177.3,425.0 2178.3,425.9 2179.3,426.7 2180.3,427.5 2181.3,428.3 2182.3,429.1 2183.3,429.8 2184.3,430.6 2185.3,431.3 2186.3,432.0 2187.3,432.7 2188.3,433.3 2189.3,434.0 2190.3,434.6 2191.3,435.3 2192.3,435.9 2193.3,436.5 2194.3,437.1 2195.3,437.7 2196.3,438.3 2197.3,438.8 2198.3,439.4 2199.3,439.9 2200.3,440.4 2201.3,440.9 2202.3,441.4 2203.3,441.9 2204.3,442.4 2205.3,442.9 2206.3,443.4 2207.3,443.8 2208.3,444.3 2209.3,444.7 2210.3,445.2 2211.3,445.6 2212.3,446.0 2213.3,446.4 2214.3,446.8 2215.3,447.2 2216.3,447.6 2217.3,448.0 2218.3,448.4 2219.3,448.7 2220.3,449.1 2221.3,449.4 2222.3,449.8 2223.3,450.1 2224.3,450.5 2225.3,450.8 2226.3,451.1 2227.3,451.5 2228.3,451.8 2229.3,452.1 2230.3,452.4 2231.3,452.7 2232.3,453.0 2233.3,453.3 2234.3,453.6 2235.3,453.8 2236.3,454.1 2237.3,454.4 2238.3,454.7 2239.3,454.9 2240.3,455.2 2241.3,455.4 2242.3,455.7 2243.3,455.9 2244.3,456.2 2245.3,456.4 2246.3,456.7 2247.3,456.9 2248.3,457.1 2249.3,457.3 2250.3,457.5 2251.3,457.8 2252.3,458.0 2253.3,458.2 2254.3,458.4 2255.3,458.6 2256.3,458.8 2257.3,459.0 2258.3,459.2 2259.3,459.4 2260.3,459.5 2261.3,459.7 2262.3,459.9 2263.3,460.1 2264.3,460.3 2265.3,460.4 2266.3,460.6 2267.3,460.8 2268.3,460.9 2269.3,461.1 2270.3,461.2 2271.3,461.4 2272.3,461.5 2273.3,461.7 2274.3,461.8 2275.3,462.0 2276.3,462.1 2277.3,462.3 2278.3,462.4 2279.3,462.5 2280.3,462.7 2281.3,462.8 2282.3,462.9 2283.3,463.0 2284.3,463.2 2285.3,463.3 2286.3,463.4 2287.3,463.5 2288.3,463.6 2289.3,463.7 2290.3,463.8 2291.3,463.9 2292.3,464.1 2293.3,464.2 2294.3,464.3 2295.3,464.4 2296.3,464.5 2297.3,464.6 2298.3,464.6 2299.3,464.7 2300.3,464.8 2301.3,464.9 2302.3,465.0 2303.3,465.1 2304.3,465.2 2305.3,465.3 2306.3,465.3 2307.3,465.4 2308.3,465.5 2309.3,465.6 2310.3,465.7 2311.3,465.7 2312.3,465.8 2313.3,465.9 2314.3,466.0 2315.3,466.0 2316.3,466.1 2317.3,466.2 2318.3,466.2 2319.3,466.3 2320.3,466.3 2321.3,466.4 2322.3,466.5 2323.3,466.5 2324.3,466.6 2325.3,466.6 2326.3,466.7 2327.3,466.8 2328.3,466.8 2329.3,466.9 2330.3,466.9 2331.3,467.0 2332.3,467.0 2333.3,467.1 2334.3,467.1 2335.3,467.2 2336.3,467.2 2337.3,467.3 2338.3,467.3 2339.3,467.3 2340.3,467.4 2341.3,467.4 2342.3,467.5 2343.3,467.5 2344.3,467.6 2345.3,467.6 2346.3,467.6 2347.3,467.7 2348.3,467.7 2349.3,467.7 2350.3,467.8 2351.3,467.8 2352.3,467.8 2353.3,467.9" fill="none" stroke="#69b42f" stroke-width="2.1" stroke-linejoin="round"/>
<polyline points="1785.3,469.3 1786.3,469.3 1787.3,469.3 1788.3,469.3 1789.3,469.3 1790.3,469.3 1791.3,469.3 1792.3,469.3 1793.3,469.2 1794.3,469.2 1795.3,469.2 1796.3,469.2 1797.3,469.2 1798.3,469.2 1799.3,469.2 1800.3,469.2 1801.3,469.1 1802.3,469.1 1803.3,469.1 1804.3,469.1 1805.3,469.1 1806.3,469.1 1807.3,469.1 1808.3,469.0 1809.3,469.0 1810.3,469.0 1811.3,469.0 1812.3,469.0 1813.3,468.9 1814.3,468.9 1815.3,468.9 1816.3,468.9 1817.3,468.8 1818.3,468.8 1819.3,468.8 1820.3,468.8 1821.3,468.7 1822.3,468.7 1823.3,468.7 1824.3,468.6 1825.3,468.6 1826.3,468.6 1827.3,468.6 1828.3,468.5 1829.3,468.5 1830.3,468.4 1831.3,468.4 1832.3,468.4 1833.3,468.3 1834.3,468.3 1835.3,468.2 1836.3,468.2 1837.3,468.1 1838.3,468.1 1839.3,468.0 1840.3,468.0 1841.3,467.9 1842.3,467.9 1843.3,467.8 1844.3,467.8 1845.3,467.7 1846.3,467.6 1847.3,467.6 1848.3,467.5 1849.3,467.4 1850.3,467.4 1851.3,467.3 1852.3,467.2 1853.3,467.1 1854.3,467.0 1855.3,467.0 1856.3,466.9 1857.3,466.8 1858.3,466.7 1859.3,466.6 1860.3,466.5 1861.3,466.4 1862.3,466.3 1863.3,466.1 1864.3,466.0 1865.3,465.9 1866.3,465.8 1867.3,465.6 1868.3,465.5 1869.3,465.4 1870.3,465.2 1871.3,465.1 1872.3,464.9 1873.3,464.8 1874.3,464.6 1875.3,464.4 1876.3,464.2 1877.3,464.1 1878.3,463.9 1879.3,463.7 1880.3,463.5 1881.3,463.3 1882.3,463.0 1883.3,462.8 1884.3,462.6 1885.3,462.3 1886.3,462.1 1887.3,461.8 1888.3,461.6 1889.3,461.3 1890.3,461.0 1891.3,460.7 1892.3,460.4 1893.3,460.1 1894.3,459.7 1895.3,459.4 1896.3,459.0 1897.3,458.7 1898.3,458.3 1899.3,457.9 1900.3,457.5 1901.3,457.1 1902.3,456.6 1903.3,456.2 1904.3,455.7 1905.3,455.2 1906.3,454.7 1907.3,454.2 1908.3,453.7 1909.3,453.2 1910.3,452.6 1911.3,452.0 1912.3,451.4 1913.3,450.8 1914.3,450.1 1915.3,449.4 1916.3,448.7 1917.3,448.0 1918.3,447.3 1919.3,446.5 1920.3,445.7 1921.3,444.9 1922.3,444.0 1923.3,443.2 1924.3,442.3 1925.3,441.3 1926.3,440.4 1927.3,439.4 1928.3,438.3 1929.3,437.3 1930.3,436.2 1931.3,435.0 1932.3,433.9 1933.3,432.7 1934.3,431.4 1935.3,430.1 1936.3,428.8 1937.3,427.5 1938.3,426.0 1939.3,424.6 1940.3,423.1 1941.3,421.6 1942.3,420.0 1943.3,418.4 1944.3,416.7 1945.3,415.0 1946.3,413.2 1947.3,411.4 1948.3,409.5 1949.3,407.6 1950.3,405.7 1951.3,403.6 1952.3,401.6 1953.3,399.4 1954.3,397.3 1955.3,395.0 1956.3,392.7 1957.3,390.4 1958.3,388.0 1959.3,385.5 1960.3,383.0 1961.3,380.4 1962.3,377.8 1963.3,375.1 1964.3,372.3 1965.3,369.5 1966.3,366.6 1967.3,363.7 1968.3,360.7 1969.3,357.7 1970.3,354.6 1971.3,351.4 1972.3,348.2 1973.3,344.9 1974.3,341.6 1975.3,338.2 1976.3,334.8 1977.3,331.3 1978.3,327.7 1979.3,324.2 1980.3,320.5 1981.3,316.8 1982.3,313.1 1983.3,309.4 1984.3,305.5 1985.3,301.7 1986.3,297.8 1987.3,293.9 1988.3,289.9 1989.3,286.0 1990.3,282.0 1991.3,277.9 1992.3,273.9 1993.3,269.8 1994.3,265.7 1995.3,261.6 1996.3,257.5 1997.3,253.4 1998.3,249.3 1999.3,245.1 2000.3,241.0 2001.3,236.9 2002.3,232.8 2003.3,228.7 2004.3,224.7 2005.3,220.7 2006.3,216.7 2007.3,212.7 2008.3,208.8 2009.3,204.9 2010.3,201.0 2011.3,197.2 2012.3,193.5 2013.3,189.8 2014.3,186.1 2015.3,182.6 2016.3,179.1 2017.3,175.7 2018.3,172.3 2019.3,169.1 2020.3,165.9 2021.3,162.8 2022.3,159.9 2023.3,157.0 2024.3,154.2 2025.3,151.5 2026.3,149.0 2027.3,146.5 2028.3,144.2 2029.3,142.0 2030.3,139.9 2031.3,137.9 2032.3,136.0 2033.3,134.3 2034.3,132.8 2035.3,131.3 2036.3,130.0 2037.3,128.8 2038.3,127.8 2039.3,126.9 2040.3,126.2 2041.3,125.6 2042.3,125.1 2043.3,124.8 2044.3,124.6 2045.3,124.6 2046.3,124.7 2047.3,124.9 2048.3,125.2 2049.3,125.7 2050.3,126.2 2051.3,126.8 2052.3,127.6 2053.3,128.4 2054.3,129.4 2055.3,130.4 2056.3,131.6 2057.3,132.8 2058.3,134.2 2059.3,135.6 2060.3,137.2 2061.3,138.8 2062.3,140.6 2063.3,142.4 2064.3,144.3 2065.3,146.3 2066.3,148.4 2067.3,150.6 2068.3,152.9 2069.3,155.2 2070.3,157.6 2071.3,160.1 2072.3,162.6 2073.3,165.2 2074.3,167.9 2075.3,170.7 2076.3,173.5 2077.3,176.4 2078.3,179.3 2079.3,182.2 2080.3,185.3 2081.3,188.3 2082.3,191.4 2083.3,194.6 2084.3,197.8 2085.3,201.0 2086.3,204.3 2087.3,207.5 2088.3,210.9 2089.3,214.2 2090.3,217.5 2091.3,220.9 2092.3,224.3 2093.3,227.7 2094.3,231.1 2095.3,234.5 2096.3,238.0 2097.3,241.4 2098.3,244.8 2099.3,248.3 2100.3,251.7 2101.3,255.1 2102.3,258.5 2103.3,261.9 2104.3,265.3 2105.3,268.7 2106.3,272.0 2107.3,275.3 2108.3,278.7 2109.3,281.9 2110.3,285.2 2111.3,288.5 2112.3,291.7 2113.3,294.9 2114.3,298.0 2115.3,301.1 2116.3,304.2 2117.3,307.3 2118.3,310.3 2119.3,313.3 2120.3,316.3 2121.3,319.2 2122.3,322.1 2123.3,324.9 2124.3,327.7 2125.3,330.5 2126.3,333.2 2127.3,335.9 2128.3,338.5 2129.3,341.1 2130.3,343.7 2131.3,346.2 2132.3,348.6 2133.3,351.1 2134.3,353.5 2135.3,355.8 2136.3,358.1 2137.3,360.4 2138.3,362.6 2139.3,364.8 2140.3,366.9 2141.3,369.0 2142.3,371.0 2143.3,373.0 2144.3,375.0 2145.3,376.9 2146.3,378.8 2147.3,380.7 2148.3,382.5 2149.3,384.3 2150.3,386.0 2151.3,387.7 2152.3,389.4 2153.3,391.0 2154.3,392.6 2155.3,394.1 2156.3,395.6 2157.3,397.1 2158.3,398.6 2159.3,400.0 2160.3,401.4 2161.3,402.7 2162.3,404.1 2163.3,405.3 2164.3,406.6 2165.3,407.8 2166.3,409.1 2167.3,410.2 2168.3,411.4 2169.3,412.5 2170.3,413.6 2171.3,414.7 2172.3,415.7 2173.3,416.8 2174.3,417.8 2175.3,418.7 2176.3,419.7 2177.3,420.6 2178.3,421.6 2179.3,422.4 2180.3,423.3 2181.3,424.2 2182.3,425.0 2183.3,425.8 2184.3,426.6 2185.3,427.4 2186.3,428.2 2187.3,428.9 2188.3,429.7 2189.3,430.4 2190.3,431.1 2191.3,431.8 2192.3,432.4 2193.3,433.1 2194.3,433.7 2195.3,434.4 2196.3,435.0 2197.3,435.6 2198.3,436.2 2199.3,436.8 2200.3,437.3 2201.3,437.9 2202.3,438.5 2203.3,439.0 2204.3,439.5 2205.3,440.0 2206.3,440.6 2207.3,441.1 2208.3,441.5 2209.3,442.0 2210.3,442.5 2211.3,443.0 2212.3,443.4 2213.3,443.9 2214.3,444.3 2215.3,444.7 2216.3,445.2 2217.3,445.6 2218.3,446.0 2219.3,446.4 2220.3,446.8 2221.3,447.2 2222.3,447.5 2223.3,447.9 2224.3,448.3 2225.3,448.6 2226.3,449.0 2227.3,449.4 2228.3,449.7 2229.3,450.0 2230.3,450.4 2231.3,450.7 2232.3,451.0 2233.3,451.3 2234.3,451.6 2235.3,452.0 2236.3,452.3 2237.3,452.6 2238.3,452.8 2239.3,453.1 2240.3,453.4 2241.3,453.7 2242.3,454.0 2243.3,454.2 2244.3,454.5 2245.3,454.8 2246.3,455.0 2247.3,455.3 2248.3,455.5 2249.3,455.8 2250.3,456.0 2251.3,456.2 2252.3,456.5 2253.3,456.7 2254.3,456.9 2255.3,457.1 2256.3,457.4 2257.3,457.6 2258.3,457.8 2259.3,458.0 2260.3,458.2 2261.3,458.4 2262.3,458.6 2263.3,458.8 2264.3,459.0 2265.3,459.2 2266.3,459.4 2267.3,459.5 2268.3,459.7 2269.3,459.9 2270.3,460.1 2271.3,460.2 2272.3,460.4 2273.3,460.6 2274.3,460.7 2275.3,460.9 2276.3,461.0 2277.3,461.2 2278.3,461.3 2279.3,461.5 2280.3,461.6 2281.3,461.8 2282.3,461.9 2283.3,462.1 2284.3,462.2 2285.3,462.3 2286.3,462.5 2287.3,462.6 2288.3,462.7 2289.3,462.8 2290.3,463.0 2291.3,463.1 2292.3,463.2 2293.3,463.3 2294.3,463.4 2295.3,463.5 2296.3,463.7 2297.3,463.8 2298.3,463.9 2299.3,464.0 2300.3,464.1 2301.3,464.2 2302.3,464.3 2303.3,464.4 2304.3,464.5 2305.3,464.6 2306.3,464.7 2307.3,464.8 2308.3,464.8 2309.3,464.9 2310.3,465.0 2311.3,465.1 2312.3,465.2 2313.3,465.3 2314.3,465.3 2315.3,465.4 2316.3,465.5 2317.3,465.6 2318.3,465.7 2319.3,465.7 2320.3,465.8 2321.3,465.9 2322.3,465.9 2323.3,466.0 2324.3,466.1 2325.3,466.1 2326.3,466.2 2327.3,466.3 2328.3,466.3 2329.3,466.4 2330.3,466.4 2331.3,466.5 2332.3,466.6 2333.3,466.6 2334.3,466.7 2335.3,466.7 2336.3,466.8 2337.3,466.8 2338.3,466.9 2339.3,466.9 2340.3,467.0 2341.3,467.0 2342.3,467.1 2343.3,467.1 2344.3,467.2 2345.3,467.2 2346.3,467.3 2347.3,467.3 2348.3,467.4 2349.3,467.4 2350.3,467.4 2351.3,467.5 2352.3,467.5 2353.3,467.6" fill="none" stroke="#2350a5" stroke-width="2.1" stroke-linejoin="round"/>
<polyline points="1785.3,469.3 1786.3,469.3 1787.3,469.2 1788.3,469.2 1789.3,469.2 1790.3,469.2 1791.3,469.2 1792.3,469.2 1793.3,469.2 1794.3,469.2 1795.3,469.1 1796.3,469.1 1797.3,469.1 1798.3,469.1 1799.3,469.1 1800.3,469.1 1801.3,469.1 1802.3,469.0 1803.3,469.0 1804.3,469.0 1805.3,469.0 1806.3,469.0 1807.3,468.9 1808.3,468.9 1809.3,468.9 1810.3,468.9 1811.3,468.9 1812.3,468.8 1813.3,468.8 1814.3,468.8 1815.3,468.8 1816.3,468.7 1817.3,468.7 1818.3,468.7 1819.3,468.7 1820.3,468.6 1821.3,468.6 1822.3,468.6 1823.3,468.5 1824.3,468.5 1825.3,468.5 1826.3,468.4 1827.3,468.4 1828.3,468.4 1829.3,468.3 1830.3,468.3 1831.3,468.2 1832.3,468.2 1833.3,468.2 1834.3,468.1 1835.3,468.1 1836.3,468.0 1837.3,468.0 1838.3,467.9 1839.3,467.9 1840.3,467.8 1841.3,467.8 1842.3,467.7 1843.3,467.6 1844.3,467.6 1845.3,467.5 1846.3,467.4 1847.3,467.4 1848.3,467.3 1849.3,467.2 1850.3,467.2 1851.3,467.1 1852.3,467.0 1853.3,466.9 1854.3,466.8 1855.3,466.8 1856.3,466.7 1857.3,466.6 1858.3,466.5 1859.3,466.4 1860.3,466.3 1861.3,466.2 1862.3,466.1 1863.3,465.9 1864.3,465.8 1865.3,465.7 1866.3,465.6 1867.3,465.4 1868.3,465.3 1869.3,465.2 1870.3,465.0 1871.3,464.9 1872.3,464.7 1873.3,464.6 1874.3,464.4 1875.3,464.3 1876.3,464.1 1877.3,463.9 1878.3,463.7 1879.3,463.5 1880.3,463.3 1881.3,463.1 1882.3,462.9 1883.3,462.7 1884.3,462.5 1885.3,462.2 1886.3,462.0 1887.3,461.7 1888.3,461.5 1889.3,461.2 1890.3,460.9 1891.3,460.6 1892.3,460.3 1893.3,460.0 1894.3,459.7 1895.3,459.4 1896.3,459.0 1897.3,458.7 1898.3,458.3 1899.3,457.9 1900.3,457.5 1901.3,457.1 1902.3,456.7 1903.3,456.3 1904.3,455.8 1905.3,455.4 1906.3,454.9 1907.3,454.4 1908.3,453.9 1909.3,453.3 1910.3,452.8 1911.3,452.2 1912.3,451.6 1913.3,451.0 1914.3,450.3 1915.3,449.7 1916.3,449.0 1917.3,448.3 1918.3,447.6 1919.3,446.8 1920.3,446.0 1921.3,445.2 1922.3,444.4 1923.3,443.5 1924.3,442.6 1925.3,441.7 1926.3,440.7 1927.3,439.7 1928.3,438.7 1929.3,437.6 1930.3,436.6 1931.3,435.4 1932.3,434.3 1933.3,433.1 1934.3,431.8 1935.3,430.5 1936.3,429.2 1937.3,427.8 1938.3,426.4 1939.3,425.0 1940.3,423.5 1941.3,421.9 1942.3,420.4 1943.3,418.7 1944.3,417.0 1945.3,415.3 1946.3,413.5 1947.3,411.7 1948.3,409.8 1949.3,407.9 1950.3,405.9 1951.3,403.8 1952.3,401.7 1953.3,399.6 1954.3,397.3 1955.3,395.1 1956.3,392.8 1957.3,390.4 1958.3,387.9 1959.3,385.4 1960.3,382.9 1961.3,380.3 1962.3,377.6 1963.3,374.8 1964.3,372.1 1965.3,369.2 1966.3,366.3 1967.3,363.3 1968.3,360.3 1969.3,357.2 1970.3,354.1 1971.3,350.9 1972.3,347.6 1973.3,344.3 1974.3,340.9 1975.3,337.5 1976.3,334.1 1977.3,330.5 1978.3,327.0 1979.3,323.3 1980.3,319.7 1981.3,316.0 1982.3,312.2 1983.3,308.4 1984.3,304.6 1985.3,300.7 1986.3,296.8 1987.3,292.9 1988.3,288.9 1989.3,285.0 1990.3,280.9 1991.3,276.9 1992.3,272.9 1993.3,268.8 1994.3,264.7 1995.3,260.6 1996.3,256.5 1997.3,252.4 1998.3,248.3 1999.3,244.3 2000.3,240.2 2001.3,236.1 2002.3,232.1 2003.3,228.0 2004.3,224.0 2005.3,220.0 2006.3,216.1 2007.3,212.2 2008.3,208.3 2009.3,204.5 2010.3,200.7 2011.3,197.0 2012.3,193.3 2013.3,189.7 2014.3,186.2 2015.3,182.7 2016.3,179.3 2017.3,176.0 2018.3,172.8 2019.3,169.6 2020.3,166.5 2021.3,163.6 2022.3,160.7 2023.3,157.9 2024.3,155.2 2025.3,152.7 2026.3,150.2 2027.3,147.9 2028.3,145.7 2029.3,143.5 2030.3,141.6 2031.3,139.7 2032.3,138.0 2033.3,136.4 2034.3,134.9 2035.3,133.6 2036.3,132.4 2037.3,131.3 2038.3,130.4 2039.3,129.6 2040.3,128.9 2041.3,128.4 2042.3,128.1 2043.3,127.8 2044.3,127.8 2045.3,127.8 2046.3,128.0 2047.3,128.3 2048.3,128.7 2049.3,129.2 2050.3,129.9 2051.3,130.6 2052.3,131.5 2053.3,132.5 2054.3,133.6 2055.3,134.8 2056.3,136.1 2057.3,137.5 2058.3,139.0 2059.3,140.7 2060.3,142.4 2061.3,144.2 2062.3,146.2 2063.3,148.2 2064.3,150.3 2065.3,152.5 2066.3,154.8 2067.3,157.2 2068.3,159.7 2069.3,162.3 2070.3,164.9 2071.3,167.6 2072.3,170.4 2073.3,173.2 2074.3,176.1 2075.3,179.1 2076.3,182.1 2077.3,185.2 2078.3,188.3 2079.3,191.5 2080.3,194.8 2081.3,198.0 2082.3,201.4 2083.3,204.7 2084.3,208.1 2085.3,211.5 2086.3,215.0 2087.3,218.4 2088.3,221.9 2089.3,225.4 2090.3,229.0 2091.3,232.5 2092.3,236.0 2093.3,239.6 2094.3,243.1 2095.3,246.7 2096.3,250.3 2097.3,253.8 2098.3,257.4 2099.3,260.9 2100.3,264.4 2101.3,267.9 2102.3,271.4 2103.3,274.9 2104.3,278.3 2105.3,281.7 2106.3,285.1 2107.3,288.5 2108.3,291.9 2109.3,295.2 2110.3,298.5 2111.3,301.7 2112.3,304.9 2113.3,308.1 2114.3,311.3 2115.3,314.4 2116.3,317.4 2117.3,320.5 2118.3,323.5 2119.3,326.4 2120.3,329.3 2121.3,332.2 2122.3,335.0 2123.3,337.7 2124.3,340.5 2125.3,343.1 2126.3,345.8 2127.3,348.4 2128.3,350.9 2129.3,353.4 2130.3,355.9 2131.3,358.3 2132.3,360.6 2133.3,362.9 2134.3,365.2 2135.3,367.4 2136.3,369.6 2137.3,371.7 2138.3,373.8 2139.3,375.9 2140.3,377.9 2141.3,379.8 2142.3,381.7 2143.3,383.6 2144.3,385.4 2145.3,387.2 2146.3,389.0 2147.3,390.7 2148.3,392.3 2149.3,394.0 2150.3,395.6 2151.3,397.1 2152.3,398.6 2153.3,400.1 2154.3,401.6 2155.3,403.0 2156.3,404.4 2157.3,405.7 2158.3,407.0 2159.3,408.3 2160.3,409.6 2161.3,410.8 2162.3,412.0 2163.3,413.2 2164.3,414.3 2165.3,415.4 2166.3,416.5 2167.3,417.5 2168.3,418.6 2169.3,419.6 2170.3,420.6 2171.3,421.5 2172.3,422.5 2173.3,423.4 2174.3,424.3 2175.3,425.1 2176.3,426.0 2177.3,426.8 2178.3,427.6 2179.3,428.4 2180.3,429.2 2181.3,430.0 2182.3,430.7 2183.3,431.5 2184.3,432.2 2185.3,432.9 2186.3,433.5 2187.3,434.2 2188.3,434.9 2189.3,435.5 2190.3,436.1 2191.3,436.7 2192.3,437.3 2193.3,437.9 2194.3,438.5 2195.3,439.1 2196.3,439.6 2197.3,440.2 2198.3,440.7 2199.3,441.2 2200.3,441.7 2201.3,442.2 2202.3,442.7 2203.3,443.2 2204.3,443.7 2205.3,444.1 2206.3,444.6 2207.3,445.0 2208.3,445.5 2209.3,445.9 2210.3,446.3 2211.3,446.7 2212.3,447.1 2213.3,447.5 2214.3,447.9 2215.3,448.3 2216.3,448.7 2217.3,449.1 2218.3,449.4 2219.3,449.8 2220.3,450.1 2221.3,450.5 2222.3,450.8 2223.3,451.2 2224.3,451.5 2225.3,451.8 2226.3,452.1 2227.3,452.4 2228.3,452.7 2229.3,453.0 2230.3,453.3 2231.3,453.6 2232.3,453.9 2233.3,454.2 2234.3,454.5 2235.3,454.8 2236.3,455.0 2237.3,455.3 2238.3,455.5 2239.3,455.8 2240.3,456.1 2241.3,456.3 2242.3,456.5 2243.3,456.8 2244.3,457.0 2245.3,457.2 2246.3,457.5 2247.3,457.7 2248.3,457.9 2249.3,458.1 2250.3,458.3 2251.3,458.5 2252.3,458.7 2253.3,458.9 2254.3,459.1 2255.3,459.3 2256.3,459.5 2257.3,459.7 2258.3,459.9 2259.3,460.1 2260.3,460.3 2261.3,460.4 2262.3,460.6 2263.3,460.8 2264.3,460.9 2265.3,461.1 2266.3,461.3 2267.3,461.4 2268.3,461.6 2269.3,461.7 2270.3,461.9 2271.3,462.0 2272.3,462.2 2273.3,462.3 2274.3,462.4 2275.3,462.6 2276.3,462.7 2277.3,462.8 2278.3,463.0 2279.3,463.1 2280.3,463.2 2281.3,463.3 2282.3,463.4 2283.3,463.6 2284.3,463.7 2285.3,463.8 2286.3,463.9 2287.3,464.0 2288.3,464.1 2289.3,464.2 2290.3,464.3 2291.3,464.4 2292.3,464.5 2293.3,464.6 2294.3,464.7 2295.3,464.8 2296.3,464.9 2297.3,465.0 2298.3,465.1 2299.3,465.2 2300.3,465.3 2301.3,465.3 2302.3,465.4 2303.3,465.5 2304.3,465.6 2305.3,465.7 2306.3,465.7 2307.3,465.8 2308.3,465.9 2309.3,466.0 2310.3,466.0 2311.3,466.1 2312.3,466.2 2313.3,466.2 2314.3,466.3 2315.3,466.4 2316.3,466.4 2317.3,466.5 2318.3,466.6 2319.3,466.6 2320.3,466.7 2321.3,466.7 2322.3,466.8 2323.3,466.8 2324.3,466.9 2325.3,466.9 2326.3,467.0 2327.3,467.0 2328.3,467.1 2329.3,467.1 2330.3,467.2 2331.3,467.2 2332.3,467.3 2333.3,467.3 2334.3,467.4 2335.3,467.4 2336.3,467.5 2337.3,467.5 2338.3,467.5 2339.3,467.6 2340.3,467.6 2341.3,467.7 2342.3,467.7 2343.3,467.7 2344.3,467.8 2345.3,467.8 2346.3,467.8 2347.3,467.9 2348.3,467.9 2349.3,467.9 2350.3,468.0 2351.3,468.0 2352.3,468.0 2353.3,468.1" fill="none" stroke="#5a4799" stroke-width="2.1" stroke-linejoin="round"/>
<rect x="218.6" y="633.6" width="561.5" height="414.9" fill="none" stroke="#000" stroke-width="2.3"/>
<line x1="246" y1="1048.5" x2="246" y2="1042.8" stroke="#000" stroke-width="2" stroke-linecap="butt"/>
<line x1="330.3" y1="1048.5" x2="330.3" y2="1038.7" stroke="#000" stroke-width="2" stroke-linecap="butt"/>
<line x1="414.6" y1="1048.5" x2="414.6" y2="1042.8" stroke="#000" stroke-width="2" stroke-linecap="butt"/>
<line x1="498.9" y1="1048.5" x2="498.9" y2="1038.7" stroke="#000" stroke-width="2" stroke-linecap="butt"/>
<line x1="583.2" y1="1048.5" x2="583.2" y2="1042.8" stroke="#000" stroke-width="2" stroke-linecap="butt"/>
<line x1="667.5" y1="1048.5" x2="667.5" y2="1038.7" stroke="#000" stroke-width="2" stroke-linecap="butt"/>
<line x1="751.8" y1="1048.5" x2="751.8" y2="1042.8" stroke="#000" stroke-width="2" stroke-linecap="butt"/>
<line x1="218.6" y1="979.35" x2="224.3" y2="979.35" stroke="#000" stroke-width="2" stroke-linecap="butt"/>
<line x1="218.6" y1="910.2" x2="228.4" y2="910.2" stroke="#000" stroke-width="2" stroke-linecap="butt"/>
<line x1="218.6" y1="841.05" x2="224.3" y2="841.05" stroke="#000" stroke-width="2" stroke-linecap="butt"/>
<line x1="218.6" y1="771.9" x2="228.4" y2="771.9" stroke="#000" stroke-width="2" stroke-linecap="butt"/>
<line x1="218.6" y1="702.75" x2="224.3" y2="702.75" stroke="#000" stroke-width="2" stroke-linecap="butt"/>
<line x1="218.6" y1="633.6" x2="228.4" y2="633.6" stroke="#000" stroke-width="2" stroke-linecap="butt"/>
<text transform="translate(304.04,1088.8) scale(1.0,1.04)" font-size="33.6" font-weight="normal" fill="#000" >480</text>
<text transform="translate(472.35,1088.8) scale(1.0,1.04)" font-size="33.6" font-weight="normal" fill="#000" >510</text>
<text transform="translate(640.95,1088.8) scale(1.0,1.04)" font-size="33.6" font-weight="normal" fill="#000" >540</text>
<text transform="translate(162.7,1052.73) scale(1.0,1.04)" font-size="33.6" font-weight="normal" fill="#000" >0.0</text>
<text transform="translate(95.53,919.43) scale(1.0,1.04)" font-size="33.6" font-weight="normal" fill="#000" >3.0×10</text>
<text transform="translate(198.57,908.11) scale(1.0,1.04)" font-size="18.6" font-weight="normal" fill="#2a2a2a" >6</text>
<text transform="translate(95.53,781.13) scale(1.0,1.04)" font-size="33.6" font-weight="normal" fill="#000" >6.0×10</text>
<text transform="translate(198.57,769.81) scale(1.0,1.04)" font-size="18.6" font-weight="normal" fill="#2a2a2a" >6</text>
<text transform="translate(95.53,642.83) scale(1.0,1.04)" font-size="33.6" font-weight="normal" fill="#000" >9.0×10</text>
<text transform="translate(198.57,631.51) scale(1.0,1.04)" font-size="18.6" font-weight="normal" fill="#2a2a2a" >6</text>
<text transform="translate(330.55,1134.92) scale(1.0,1.04)" font-size="33.6" font-weight="normal" fill="#000" >Wavelength (nm)</text>
<text transform="translate(74.92,913.86) rotate(-90) scale(1,1.04)" font-size="33.6">PL intensity</text>
<line x1="621.3" y1="699.3" x2="657.1" y2="699.3" stroke="#000000" stroke-width="2.3" stroke-linecap="butt"/>
<text transform="translate(664.94,706.3) scale(1,1.04)" font-size="33.6">Day0</text>
<line x1="621.3" y1="740.25" x2="657.1" y2="740.25" stroke="#e8151d" stroke-width="2.3" stroke-linecap="butt"/>
<text transform="translate(664.94,747.25) scale(1,1.04)" font-size="33.6">Day1</text>
<line x1="621.3" y1="781.2" x2="657.1" y2="781.2" stroke="#ee8426" stroke-width="2.3" stroke-linecap="butt"/>
<text transform="translate(664.94,788.2) scale(1,1.04)" font-size="33.6">Day2</text>
<line x1="621.3" y1="822.15" x2="657.1" y2="822.15" stroke="#e8e43c" stroke-width="2.3" stroke-linecap="butt"/>
<text transform="translate(664.94,829.15) scale(1,1.04)" font-size="33.6">Day3</text>
<line x1="621.3" y1="863.1" x2="657.1" y2="863.1" stroke="#69b42f" stroke-width="2.3" stroke-linecap="butt"/>
<text transform="translate(664.94,870.1) scale(1,1.04)" font-size="33.6">Day4</text>
<line x1="621.3" y1="904.05" x2="657.1" y2="904.05" stroke="#2350a5" stroke-width="2.3" stroke-linecap="butt"/>
<text transform="translate(664.94,911.05) scale(1,1.04)" font-size="33.6">Day5</text>
<line x1="621.3" y1="945" x2="657.1" y2="945" stroke="#5a4799" stroke-width="2.3" stroke-linecap="butt"/>
<text transform="translate(664.94,952) scale(1,1.04)" font-size="33.6">Day6</text>
<polyline points="212.6,1048.4 213.6,1048.4 214.6,1048.4 215.6,1048.4 216.6,1048.4 217.6,1048.4 218.6,1048.4 219.6,1048.3 220.6,1048.3 221.6,1048.3 222.6,1048.3 223.6,1048.3 224.6,1048.3 225.6,1048.3 226.6,1048.3 227.6,1048.3 228.6,1048.3 229.6,1048.3 230.6,1048.3 231.6,1048.3 232.6,1048.2 233.6,1048.2 234.6,1048.2 235.6,1048.2 236.6,1048.2 237.6,1048.2 238.6,1048.2 239.6,1048.2 240.6,1048.1 241.6,1048.1 242.6,1048.1 243.6,1048.1 244.6,1048.1 245.6,1048.0 246.6,1048.0 247.6,1048.0 248.6,1048.0 249.6,1048.0 250.6,1047.9 251.6,1047.9 252.6,1047.9 253.6,1047.9 254.6,1047.8 255.6,1047.8 256.6,1047.8 257.6,1047.7 258.6,1047.7 259.6,1047.7 260.6,1047.6 261.6,1047.6 262.6,1047.6 263.6,1047.5 264.6,1047.5 265.6,1047.4 266.6,1047.4 267.6,1047.3 268.6,1047.3 269.6,1047.2 270.6,1047.2 271.6,1047.1 272.6,1047.1 273.6,1047.0 274.6,1046.9 275.6,1046.9 276.6,1046.8 277.6,1046.7 278.6,1046.7 279.6,1046.6 280.6,1046.5 281.6,1046.4 282.6,1046.3 283.6,1046.2 284.6,1046.1 285.6,1046.0 286.6,1045.9 287.6,1045.8 288.6,1045.7 289.6,1045.6 290.6,1045.5 291.6,1045.3 292.6,1045.2 293.6,1045.1 294.6,1044.9 295.6,1044.8 296.6,1044.6 297.6,1044.5 298.6,1044.3 299.6,1044.1 300.6,1044.0 301.6,1043.8 302.6,1043.6 303.6,1043.4 304.6,1043.2 305.6,1043.0 306.6,1042.7 307.6,1042.5 308.6,1042.3 309.6,1042.0 310.6,1041.7 311.6,1041.5 312.6,1041.2 313.6,1040.9 314.6,1040.6 315.6,1040.3 316.6,1040.0 317.6,1039.6 318.6,1039.3 319.6,1038.9 320.6,1038.5 321.6,1038.2 322.6,1037.8 323.6,1037.3 324.6,1036.9 325.6,1036.5 326.6,1036.0 327.6,1035.5 328.6,1035.0 329.6,1034.5 330.6,1034.0 331.6,1033.4 332.6,1032.9 333.6,1032.3 334.6,1031.6 335.6,1031.0 336.6,1030.4 337.6,1029.7 338.6,1029.0 339.6,1028.2 340.6,1027.5 341.6,1026.7 342.6,1025.9 343.6,1025.1 344.6,1024.2 345.6,1023.3 346.6,1022.4 347.6,1021.5 348.6,1020.5 349.6,1019.5 350.6,1018.4 351.6,1017.4 352.6,1016.2 353.6,1015.1 354.6,1013.9 355.6,1012.7 356.6,1011.4 357.6,1010.1 358.6,1008.8 359.6,1007.4 360.6,1005.9 361.6,1004.5 362.6,1002.9 363.6,1001.4 364.6,999.7 365.6,998.1 366.6,996.4 367.6,994.6 368.6,992.8 369.6,990.9 370.6,989.0 371.6,987.0 372.6,984.9 373.6,982.8 374.6,980.7 375.6,978.5 376.6,976.2 377.6,973.9 378.6,971.5 379.6,969.0 380.6,966.5 381.6,963.9 382.6,961.2 383.6,958.5 384.6,955.7 385.6,952.8 386.6,949.9 387.6,946.9 388.6,943.9 389.6,940.7 390.6,937.5 391.6,934.2 392.6,930.9 393.6,927.5 394.6,924.0 395.6,920.5 396.6,916.8 397.6,913.2 398.6,909.4 399.6,905.6 400.6,901.7 401.6,897.8 402.6,893.7 403.6,889.7 404.6,885.5 405.6,881.3 406.6,877.1 407.6,872.8 408.6,868.5 409.6,864.1 410.6,859.6 411.6,855.1 412.6,850.6 413.6,846.0 414.6,841.4 415.6,836.8 416.6,832.1 417.6,827.4 418.6,822.7 419.6,818.0 420.6,813.3 421.6,808.6 422.6,803.8 423.6,799.1 424.6,794.4 425.6,789.7 426.6,785.0 427.6,780.4 428.6,775.8 429.6,771.2 430.6,766.7 431.6,762.2 432.6,757.8 433.6,753.4 434.6,749.1 435.6,744.9 436.6,740.7 437.6,736.7 438.6,732.7 439.6,728.9 440.6,725.1 441.6,721.5 442.6,717.9 443.6,714.5 444.6,711.2 445.6,708.1 446.6,705.1 447.6,702.2 448.6,699.5 449.6,697.0 450.6,694.6 451.6,692.3 452.6,690.3 453.6,688.4 454.6,686.6 455.6,685.1 456.6,683.7 457.6,682.5 458.6,681.5 459.6,680.7 460.6,680.1 461.6,679.7 462.6,679.4 463.6,679.4 464.6,679.4 465.6,679.7 466.6,680.1 467.6,680.6 468.6,681.2 469.6,682.0 470.6,682.9 471.6,684.0 472.6,685.2 473.6,686.5 474.6,687.9 475.6,689.5 476.6,691.2 477.6,693.0 478.6,694.9 479.6,696.9 480.6,699.1 481.6,701.3 482.6,703.7 483.6,706.2 484.6,708.7 485.6,711.4 486.6,714.1 487.6,717.0 488.6,719.9 489.6,722.9 490.6,725.9 491.6,729.1 492.6,732.3 493.6,735.6 494.6,738.9 495.6,742.3 496.6,745.7 497.6,749.2 498.6,752.7 499.6,756.3 500.6,759.9 501.6,763.5 502.6,767.2 503.6,770.9 504.6,774.6 505.6,778.3 506.6,782.0 507.6,785.8 508.6,789.5 509.6,793.3 510.6,797.1 511.6,800.8 512.6,804.6 513.6,808.4 514.6,812.1 515.6,815.8 516.6,819.6 517.6,823.3 518.6,827.0 519.6,830.6 520.6,834.3 521.6,837.9 522.6,841.5 523.6,845.1 524.6,848.6 525.6,852.1 526.6,855.6 527.6,859.0 528.6,862.4 529.6,865.8 530.6,869.2 531.6,872.5 532.6,875.7 533.6,879.0 534.6,882.1 535.6,885.3 536.6,888.4 537.6,891.5 538.6,894.5 539.6,897.5 540.6,900.4 541.6,903.3 542.6,906.2 543.6,909.0 544.6,911.8 545.6,914.5 546.6,917.2 547.6,919.8 548.6,922.4 549.6,925.0 550.6,927.5 551.6,929.9 552.6,932.4 553.6,934.8 554.6,937.1 555.6,939.4 556.6,941.7 557.6,943.9 558.6,946.1 559.6,948.2 560.6,950.3 561.6,952.4 562.6,954.4 563.6,956.4 564.6,958.4 565.6,960.3 566.6,962.1 567.6,964.0 568.6,965.8 569.6,967.5 570.6,969.3 571.6,971.0 572.6,972.6 573.6,974.3 574.6,975.9 575.6,977.4 576.6,979.0 577.6,980.5 578.6,981.9 579.6,983.4 580.6,984.8 581.6,986.1 582.6,987.5 583.6,988.8 584.6,990.1 585.6,991.4 586.6,992.6 587.6,993.8 588.6,995.0 589.6,996.2 590.6,997.3 591.6,998.4 592.6,999.5 593.6,1000.6 594.6,1001.6 595.6,1002.6 596.6,1003.6 597.6,1004.6 598.6,1005.5 599.6,1006.4 600.6,1007.3 601.6,1008.2 602.6,1009.1 603.6,1010.0 604.6,1010.8 605.6,1011.6 606.6,1012.4 607.6,1013.2 608.6,1013.9 609.6,1014.6 610.6,1015.4 611.6,1016.1 612.6,1016.8 613.6,1017.4 614.6,1018.1 615.6,1018.7 616.6,1019.4 617.6,1020.0 618.6,1020.6 619.6,1021.2 620.6,1021.7 621.6,1022.3 622.6,1022.8 623.6,1023.4 624.6,1023.9 625.6,1024.4 626.6,1024.9 627.6,1025.4 628.6,1025.9 629.6,1026.3 630.6,1026.8 631.6,1027.2 632.6,1027.7 633.6,1028.1 634.6,1028.5 635.6,1028.9 636.6,1029.3 637.6,1029.7 638.6,1030.1 639.6,1030.4 640.6,1030.8 641.6,1031.2 642.6,1031.5 643.6,1031.8 644.6,1032.2 645.6,1032.5 646.6,1032.8 647.6,1033.1 648.6,1033.4 649.6,1033.7 650.6,1034.0 651.6,1034.3 652.6,1034.5 653.6,1034.8 654.6,1035.1 655.6,1035.3 656.6,1035.6 657.6,1035.8 658.6,1036.0 659.6,1036.3 660.6,1036.5 661.6,1036.7 662.6,1036.9 663.6,1037.2 664.6,1037.4 665.6,1037.6 666.6,1037.8 667.6,1038.0 668.6,1038.2 669.6,1038.3 670.6,1038.5 671.6,1038.7 672.6,1038.9 673.6,1039.1 674.6,1039.2 675.6,1039.4 676.6,1039.5 677.6,1039.7 678.6,1039.9 679.6,1040.0 680.6,1040.2 681.6,1040.3 682.6,1040.4 683.6,1040.6 684.6,1040.7 685.6,1040.8 686.6,1041.0 687.6,1041.1 688.6,1041.2 689.6,1041.3 690.6,1041.5 691.6,1041.6 692.6,1041.7 693.6,1041.8 694.6,1041.9 695.6,1042.0 696.6,1042.1 697.6,1042.2 698.6,1042.3 699.6,1042.4 700.6,1042.5 701.6,1042.6 702.6,1042.7 703.6,1042.8 704.6,1042.9 705.6,1043.0 706.6,1043.1 707.6,1043.2 708.6,1043.3 709.6,1043.3 710.6,1043.4 711.6,1043.5 712.6,1043.6 713.6,1043.6 714.6,1043.7 715.6,1043.8 716.6,1043.9 717.6,1043.9 718.6,1044.0 719.6,1044.1 720.6,1044.1 721.6,1044.2 722.6,1044.3 723.6,1044.3 724.6,1044.4 725.6,1044.5 726.6,1044.5 727.6,1044.6 728.6,1044.6 729.6,1044.7 730.6,1044.7 731.6,1044.8 732.6,1044.9 733.6,1044.9 734.6,1045.0 735.6,1045.0 736.6,1045.1 737.6,1045.1 738.6,1045.2 739.6,1045.2 740.6,1045.3 741.6,1045.3 742.6,1045.3 743.6,1045.4 744.6,1045.4 745.6,1045.5 746.6,1045.5 747.6,1045.6 748.6,1045.6 749.6,1045.6 750.6,1045.7 751.6,1045.7 752.6,1045.8 753.6,1045.8 754.6,1045.8 755.6,1045.9 756.6,1045.9 757.6,1045.9 758.6,1046.0 759.6,1046.0 760.6,1046.0 761.6,1046.1 762.6,1046.1 763.6,1046.1 764.6,1046.2 765.6,1046.2 766.6,1046.2 767.6,1046.3 768.6,1046.3 769.6,1046.3 770.6,1046.3 771.6,1046.4 772.6,1046.4 773.6,1046.4 774.6,1046.5 775.6,1046.5 776.6,1046.5 777.6,1046.5 778.6,1046.6 779.6,1046.6 780.6,1046.6 781.6,1046.6 782.6,1046.7 783.6,1046.7 784.6,1046.7 785.6,1046.7" fill="none" stroke="#000000" stroke-width="2.1" stroke-linejoin="round"/>
<polyline points="212.6,1047.9 213.6,1047.9 214.6,1047.9 215.6,1047.8 216.6,1047.8 217.6,1047.8 218.6,1047.8 219.6,1047.8 220.6,1047.8 221.6,1047.7 222.6,1047.7 223.6,1047.7 224.6,1047.7 225.6,1047.7 226.6,1047.6 227.6,1047.6 228.6,1047.6 229.6,1047.6 230.6,1047.6 231.6,1047.5 232.6,1047.5 233.6,1047.5 234.6,1047.5 235.6,1047.4 236.6,1047.4 237.6,1047.4 238.6,1047.4 239.6,1047.3 240.6,1047.3 241.6,1047.3 242.6,1047.3 243.6,1047.2 244.6,1047.2 245.6,1047.2 246.6,1047.1 247.6,1047.1 248.6,1047.1 249.6,1047.0 250.6,1047.0 251.6,1047.0 252.6,1046.9 253.6,1046.9 254.6,1046.8 255.6,1046.8 256.6,1046.8 257.6,1046.7 258.6,1046.7 259.6,1046.6 260.6,1046.6 261.6,1046.6 262.6,1046.5 263.6,1046.5 264.6,1046.4 265.6,1046.4 266.6,1046.3 267.6,1046.3 268.6,1046.2 269.6,1046.2 270.6,1046.1 271.6,1046.0 272.6,1046.0 273.6,1045.9 274.6,1045.9 275.6,1045.8 276.6,1045.7 277.6,1045.7 278.6,1045.6 279.6,1045.6 280.6,1045.5 281.6,1045.4 282.6,1045.3 283.6,1045.3 284.6,1045.2 285.6,1045.1 286.6,1045.0 287.6,1045.0 288.6,1044.9 289.6,1044.8 290.6,1044.7 291.6,1044.6 292.6,1044.5 293.6,1044.5 294.6,1044.4 295.6,1044.3 296.6,1044.2 297.6,1044.1 298.6,1044.0 299.6,1043.9 300.6,1043.8 301.6,1043.7 302.6,1043.6 303.6,1043.4 304.6,1043.3 305.6,1043.2 306.6,1043.1 307.6,1043.0 308.6,1042.8 309.6,1042.7 310.6,1042.6 311.6,1042.5 312.6,1042.3 313.6,1042.2 314.6,1042.0 315.6,1041.9 316.6,1041.7 317.6,1041.6 318.6,1041.4 319.6,1041.2 320.6,1041.1 321.6,1040.9 322.6,1040.7 323.6,1040.5 324.6,1040.3 325.6,1040.1 326.6,1039.9 327.6,1039.7 328.6,1039.5 329.6,1039.3 330.6,1039.1 331.6,1038.8 332.6,1038.6 333.6,1038.3 334.6,1038.1 335.6,1037.8 336.6,1037.5 337.6,1037.2 338.6,1036.9 339.6,1036.6 340.6,1036.3 341.6,1035.9 342.6,1035.6 343.6,1035.2 344.6,1034.8 345.6,1034.4 346.6,1034.0 347.6,1033.5 348.6,1033.1 349.6,1032.6 350.6,1032.1 351.6,1031.6 352.6,1031.1 353.6,1030.5 354.6,1029.9 355.6,1029.3 356.6,1028.7 357.6,1028.0 358.6,1027.3 359.6,1026.6 360.6,1025.8 361.6,1025.0 362.6,1024.2 363.6,1023.3 364.6,1022.4 365.6,1021.5 366.6,1020.5 367.6,1019.5 368.6,1018.4 369.6,1017.3 370.6,1016.2 371.6,1015.0 372.6,1013.7 373.6,1012.4 374.6,1011.0 375.6,1009.6 376.6,1008.2 377.6,1006.7 378.6,1005.1 379.6,1003.4 380.6,1001.7 381.6,1000.0 382.6,998.2 383.6,996.3 384.6,994.3 385.6,992.3 386.6,990.2 387.6,988.1 388.6,985.9 389.6,983.6 390.6,981.2 391.6,978.8 392.6,976.3 393.6,973.7 394.6,971.1 395.6,968.4 396.6,965.6 397.6,962.7 398.6,959.8 399.6,956.8 400.6,953.8 401.6,950.7 402.6,947.5 403.6,944.3 404.6,941.0 405.6,937.6 406.6,934.2 407.6,930.7 408.6,927.2 409.6,923.6 410.6,920.0 411.6,916.3 412.6,912.6 413.6,908.9 414.6,905.1 415.6,901.4 416.6,897.5 417.6,893.7 418.6,889.9 419.6,886.0 420.6,882.1 421.6,878.3 422.6,874.4 423.6,870.6 424.6,866.7 425.6,862.9 426.6,859.1 427.6,855.4 428.6,851.7 429.6,848.0 430.6,844.4 431.6,840.8 432.6,837.3 433.6,833.9 434.6,830.5 435.6,827.3 436.6,824.1 437.6,820.9 438.6,817.9 439.6,815.0 440.6,812.2 441.6,809.5 442.6,807.0 443.6,804.5 444.6,802.2 445.6,800.0 446.6,797.9 447.6,796.0 448.6,794.2 449.6,792.6 450.6,791.1 451.6,789.8 452.6,788.6 453.6,787.6 454.6,786.7 455.6,786.0 456.6,785.5 457.6,785.1 458.6,784.9 459.6,784.9 460.6,785.0 461.6,785.2 462.6,785.6 463.6,786.1 464.6,786.7 465.6,787.5 466.6,788.4 467.6,789.4 468.6,790.5 469.6,791.8 470.6,793.2 471.6,794.7 472.6,796.2 473.6,797.9 474.6,799.7 475.6,801.6 476.6,803.6 477.6,805.6 478.6,807.7 479.6,809.9 480.6,812.2 481.6,814.5 482.6,816.9 483.6,819.3 484.6,821.8 485.6,824.3 486.6,826.8 487.6,829.4 488.6,832.1 489.6,834.7 490.6,837.4 491.6,840.1 492.6,842.8 493.6,845.5 494.6,848.2 495.6,851.0 496.6,853.7 497.6,856.5 498.6,859.2 499.6,862.0 500.6,864.8 501.6,867.5 502.6,870.2 503.6,873.0 504.6,875.7 505.6,878.4 506.6,881.1 507.6,883.8 508.6,886.4 509.6,889.1 510.6,891.7 511.6,894.4 512.6,896.9 513.6,899.5 514.6,902.1 515.6,904.6 516.6,907.1 517.6,909.6 518.6,912.1 519.6,914.6 520.6,917.0 521.6,919.4 522.6,921.8 523.6,924.1 524.6,926.4 525.6,928.7 526.6,931.0 527.6,933.3 528.6,935.5 529.6,937.7 530.6,939.9 531.6,942.0 532.6,944.1 533.6,946.2 534.6,948.2 535.6,950.3 536.6,952.3 537.6,954.2 538.6,956.2 539.6,958.1 540.6,960.0 541.6,961.9 542.6,963.7 543.6,965.5 544.6,967.3 545.6,969.0 546.6,970.7 547.6,972.4 548.6,974.1 549.6,975.7 550.6,977.3 551.6,978.9 552.6,980.4 553.6,981.9 554.6,983.4 555.6,984.9 556.6,986.3 557.6,987.7 558.6,989.1 559.6,990.5 560.6,991.8 561.6,993.1 562.6,994.4 563.6,995.6 564.6,996.9 565.6,998.1 566.6,999.2 567.6,1000.4 568.6,1001.5 569.6,1002.6 570.6,1003.7 571.6,1004.7 572.6,1005.7 573.6,1006.8 574.6,1007.7 575.6,1008.7 576.6,1009.6 577.6,1010.5 578.6,1011.4 579.6,1012.3 580.6,1013.2 581.6,1014.0 582.6,1014.8 583.6,1015.6 584.6,1016.3 585.6,1017.1 586.6,1017.8 587.6,1018.5 588.6,1019.2 589.6,1019.9 590.6,1020.6 591.6,1021.2 592.6,1021.8 593.6,1022.4 594.6,1023.0 595.6,1023.6 596.6,1024.2 597.6,1024.7 598.6,1025.2 599.6,1025.8 600.6,1026.3 601.6,1026.7 602.6,1027.2 603.6,1027.7 604.6,1028.1 605.6,1028.6 606.6,1029.0 607.6,1029.4 608.6,1029.8 609.6,1030.2 610.6,1030.6 611.6,1030.9 612.6,1031.3 613.6,1031.6 614.6,1032.0 615.6,1032.3 616.6,1032.6 617.6,1032.9 618.6,1033.2 619.6,1033.5 620.6,1033.8 621.6,1034.1 622.6,1034.3 623.6,1034.6 624.6,1034.8 625.6,1035.1 626.6,1035.3 627.6,1035.6 628.6,1035.8 629.6,1036.0 630.6,1036.2 631.6,1036.4 632.6,1036.6 633.6,1036.8 634.6,1037.0 635.6,1037.2 636.6,1037.4 637.6,1037.5 638.6,1037.7 639.6,1037.9 640.6,1038.0 641.6,1038.2 642.6,1038.3 643.6,1038.5 644.6,1038.6 645.6,1038.7 646.6,1038.9 647.6,1039.0 648.6,1039.1 649.6,1039.3 650.6,1039.4 651.6,1039.5 652.6,1039.6 653.6,1039.7 654.6,1039.8 655.6,1040.0 656.6,1040.1 657.6,1040.2 658.6,1040.3 659.6,1040.4 660.6,1040.5 661.6,1040.5 662.6,1040.6 663.6,1040.7 664.6,1040.8 665.6,1040.9 666.6,1041.0 667.6,1041.1 668.6,1041.1 669.6,1041.2 670.6,1041.3 671.6,1041.4 672.6,1041.4 673.6,1041.5 674.6,1041.6 675.6,1041.7 676.6,1041.7 677.6,1041.8 678.6,1041.9 679.6,1041.9 680.6,1042.0 681.6,1042.0 682.6,1042.1 683.6,1042.2 684.6,1042.2 685.6,1042.3 686.6,1042.3 687.6,1042.4 688.6,1042.4 689.6,1042.5 690.6,1042.6 691.6,1042.6 692.6,1042.7 693.6,1042.7 694.6,1042.8 695.6,1042.8 696.6,1042.9 697.6,1042.9 698.6,1042.9 699.6,1043.0 700.6,1043.0 701.6,1043.1 702.6,1043.1 703.6,1043.2 704.6,1043.2 705.6,1043.3 706.6,1043.3 707.6,1043.3 708.6,1043.4 709.6,1043.4 710.6,1043.5 711.6,1043.5 712.6,1043.5 713.6,1043.6 714.6,1043.6 715.6,1043.7 716.6,1043.7 717.6,1043.7 718.6,1043.8 719.6,1043.8 720.6,1043.8 721.6,1043.9 722.6,1043.9 723.6,1043.9 724.6,1044.0 725.6,1044.0 726.6,1044.0 727.6,1044.1 728.6,1044.1 729.6,1044.1 730.6,1044.2 731.6,1044.2 732.6,1044.2 733.6,1044.3 734.6,1044.3 735.6,1044.3 736.6,1044.3 737.6,1044.4 738.6,1044.4 739.6,1044.4 740.6,1044.5 741.6,1044.5 742.6,1044.5 743.6,1044.5 744.6,1044.6 745.6,1044.6 746.6,1044.6 747.6,1044.6 748.6,1044.7 749.6,1044.7 750.6,1044.7 751.6,1044.7 752.6,1044.8 753.6,1044.8 754.6,1044.8 755.6,1044.8 756.6,1044.9 757.6,1044.9 758.6,1044.9 759.6,1044.9 760.6,1045.0 761.6,1045.0 762.6,1045.0 763.6,1045.0 764.6,1045.1 765.6,1045.1 766.6,1045.1 767.6,1045.1 768.6,1045.1 769.6,1045.2 770.6,1045.2 771.6,1045.2 772.6,1045.2 773.6,1045.2 774.6,1045.3 775.6,1045.3 776.6,1045.3 777.6,1045.3 778.6,1045.3 779.6,1045.4 780.6,1045.4 781.6,1045.4 782.6,1045.4 783.6,1045.4 784.6,1045.5 785.6,1045.5" fill="none" stroke="#e8151d" stroke-width="2.1" stroke-linejoin="round"/>
<polyline points="212.6,1048.1 213.6,1048.1 214.6,1048.1 215.6,1048.1 216.6,1048.1 217.6,1048.0 218.6,1048.0 219.6,1048.0 220.6,1048.0 221.6,1048.0 222.6,1048.0 223.6,1048.0 224.6,1048.0 225.6,1048.0 226.6,1048.0 227.6,1048.0 228.6,1048.0 229.6,1047.9 230.6,1047.9 231.6,1047.9 232.6,1047.9 233.6,1047.9 234.6,1047.9 235.6,1047.9 236.6,1047.9 237.6,1047.9 238.6,1047.9 239.6,1047.8 240.6,1047.8 241.6,1047.8 242.6,1047.8 243.6,1047.8 244.6,1047.8 245.6,1047.8 246.6,1047.8 247.6,1047.7 248.6,1047.7 249.6,1047.7 250.6,1047.7 251.6,1047.7 252.6,1047.7 253.6,1047.7 254.6,1047.6 255.6,1047.6 256.6,1047.6 257.6,1047.6 258.6,1047.6 259.6,1047.6 260.6,1047.6 261.6,1047.5 262.6,1047.5 263.6,1047.5 264.6,1047.5 265.6,1047.5 266.6,1047.5 267.6,1047.4 268.6,1047.4 269.6,1047.4 270.6,1047.4 271.6,1047.4 272.6,1047.3 273.6,1047.3 274.6,1047.3 275.6,1047.3 276.6,1047.3 277.6,1047.2 278.6,1047.2 279.6,1047.2 280.6,1047.2 281.6,1047.2 282.6,1047.1 283.6,1047.1 284.6,1047.1 285.6,1047.1 286.6,1047.0 287.6,1047.0 288.6,1047.0 289.6,1047.0 290.6,1046.9 291.6,1046.9 292.6,1046.9 293.6,1046.9 294.6,1046.8 295.6,1046.8 296.6,1046.8 297.6,1046.8 298.6,1046.7 299.6,1046.7 300.6,1046.7 301.6,1046.6 302.6,1046.6 303.6,1046.6 304.6,1046.6 305.6,1046.5 306.6,1046.5 307.6,1046.5 308.6,1046.4 309.6,1046.4 310.6,1046.4 311.6,1046.3 312.6,1046.3 313.6,1046.3 314.6,1046.2 315.6,1046.2 316.6,1046.1 317.6,1046.1 318.6,1046.1 319.6,1046.0 320.6,1046.0 321.6,1046.0 322.6,1045.9 323.6,1045.9 324.6,1045.8 325.6,1045.8 326.6,1045.7 327.6,1045.7 328.6,1045.7 329.6,1045.6 330.6,1045.6 331.6,1045.5 332.6,1045.5 333.6,1045.4 334.6,1045.4 335.6,1045.3 336.6,1045.3 337.6,1045.2 338.6,1045.2 339.6,1045.1 340.6,1045.0 341.6,1045.0 342.6,1044.9 343.6,1044.9 344.6,1044.8 345.6,1044.7 346.6,1044.7 347.6,1044.6 348.6,1044.5 349.6,1044.4 350.6,1044.4 351.6,1044.3 352.6,1044.2 353.6,1044.1 354.6,1044.1 355.6,1044.0 356.6,1043.9 357.6,1043.8 358.6,1043.7 359.6,1043.6 360.6,1043.5 361.6,1043.4 362.6,1043.3 363.6,1043.2 364.6,1043.0 365.6,1042.9 366.6,1042.8 367.6,1042.6 368.6,1042.5 369.6,1042.4 370.6,1042.2 371.6,1042.1 372.6,1041.9 373.6,1041.7 374.6,1041.6 375.6,1041.4 376.6,1041.2 377.6,1041.0 378.6,1040.8 379.6,1040.6 380.6,1040.3 381.6,1040.1 382.6,1039.8 383.6,1039.6 384.6,1039.3 385.6,1039.0 386.6,1038.7 387.6,1038.4 388.6,1038.1 389.6,1037.8 390.6,1037.5 391.6,1037.1 392.6,1036.7 393.6,1036.3 394.6,1035.9 395.6,1035.5 396.6,1035.1 397.6,1034.6 398.6,1034.1 399.6,1033.7 400.6,1033.1 401.6,1032.6 402.6,1032.1 403.6,1031.5 404.6,1030.9 405.6,1030.3 406.6,1029.6 407.6,1029.0 408.6,1028.3 409.6,1027.6 410.6,1026.8 411.6,1026.1 412.6,1025.3 413.6,1024.5 414.6,1023.6 415.6,1022.8 416.6,1021.9 417.6,1020.9 418.6,1020.0 419.6,1019.0 420.6,1018.0 421.6,1017.0 422.6,1015.9 423.6,1014.8 424.6,1013.7 425.6,1012.5 426.6,1011.3 427.6,1010.1 428.6,1008.9 429.6,1007.6 430.6,1006.3 431.6,1005.0 432.6,1003.6 433.6,1002.2 434.6,1000.8 435.6,999.4 436.6,997.9 437.6,996.4 438.6,994.9 439.6,993.4 440.6,991.8 441.6,990.2 442.6,988.6 443.6,987.0 444.6,985.3 445.6,983.7 446.6,982.0 447.6,980.3 448.6,978.5 449.6,976.8 450.6,975.1 451.6,973.3 452.6,971.6 453.6,969.8 454.6,968.0 455.6,966.2 456.6,964.5 457.6,962.7 458.6,960.9 459.6,959.1 460.6,957.4 461.6,955.6 462.6,953.8 463.6,952.1 464.6,950.4 465.6,948.7 466.6,947.0 467.6,945.3 468.6,943.7 469.6,942.1 470.6,940.5 471.6,938.9 472.6,937.4 473.6,935.9 474.6,934.4 475.6,933.0 476.6,931.6 477.6,930.2 478.6,928.9 479.6,927.7 480.6,926.5 481.6,925.3 482.6,924.2 483.6,923.2 484.6,922.2 485.6,921.2 486.6,920.3 487.6,919.5 488.6,918.7 489.6,918.0 490.6,917.4 491.6,916.8 492.6,916.3 493.6,915.8 494.6,915.4 495.6,915.1 496.6,914.9 497.6,914.7 498.6,914.6 499.6,914.5 500.6,914.5 501.6,914.6 502.6,914.7 503.6,914.9 504.6,915.2 505.6,915.5 506.6,915.9 507.6,916.3 508.6,916.8 509.6,917.3 510.6,917.9 511.6,918.6 512.6,919.3 513.6,920.1 514.6,920.9 515.6,921.7 516.6,922.7 517.6,923.6 518.6,924.6 519.6,925.7 520.6,926.8 521.6,927.9 522.6,929.1 523.6,930.3 524.6,931.6 525.6,932.9 526.6,934.2 527.6,935.6 528.6,937.0 529.6,938.4 530.6,939.8 531.6,941.3 532.6,942.8 533.6,944.3 534.6,945.8 535.6,947.4 536.6,948.9 537.6,950.5 538.6,952.1 539.6,953.7 540.6,955.3 541.6,956.9 542.6,958.5 543.6,960.1 544.6,961.7 545.6,963.3 546.6,964.9 547.6,966.5 548.6,968.1 549.6,969.7 550.6,971.3 551.6,972.9 552.6,974.5 553.6,976.0 554.6,977.6 555.6,979.1 556.6,980.6 557.6,982.1 558.6,983.6 559.6,985.1 560.6,986.5 561.6,987.9 562.6,989.3 563.6,990.7 564.6,992.1 565.6,993.4 566.6,994.7 567.6,996.0 568.6,997.3 569.6,998.5 570.6,999.7 571.6,1000.9 572.6,1002.1 573.6,1003.2 574.6,1004.4 575.6,1005.5 576.6,1006.5 577.6,1007.6 578.6,1008.6 579.6,1009.6 580.6,1010.6 581.6,1011.5 582.6,1012.4 583.6,1013.3 584.6,1014.2 585.6,1015.0 586.6,1015.9 587.6,1016.7 588.6,1017.5 589.6,1018.2 590.6,1018.9 591.6,1019.7 592.6,1020.4 593.6,1021.0 594.6,1021.7 595.6,1022.3 596.6,1022.9 597.6,1023.5 598.6,1024.1 599.6,1024.7 600.6,1025.2 601.6,1025.7 602.6,1026.2 603.6,1026.7 604.6,1027.2 605.6,1027.6 606.6,1028.1 607.6,1028.5 608.6,1028.9 609.6,1029.3 610.6,1029.7 611.6,1030.1 612.6,1030.5 613.6,1030.8 614.6,1031.2 615.6,1031.5 616.6,1031.8 617.6,1032.1 618.6,1032.4 619.6,1032.7 620.6,1033.0 621.6,1033.3 622.6,1033.6 623.6,1033.8 624.6,1034.1 625.6,1034.3 626.6,1034.6 627.6,1034.8 628.6,1035.0 629.6,1035.2 630.6,1035.5 631.6,1035.7 632.6,1035.9 633.6,1036.1 634.6,1036.3 635.6,1036.4 636.6,1036.6 637.6,1036.8 638.6,1037.0 639.6,1037.1 640.6,1037.3 641.6,1037.5 642.6,1037.6 643.6,1037.8 644.6,1037.9 645.6,1038.1 646.6,1038.2 647.6,1038.4 648.6,1038.5 649.6,1038.7 650.6,1038.8 651.6,1038.9 652.6,1039.1 653.6,1039.2 654.6,1039.3 655.6,1039.5 656.6,1039.6 657.6,1039.7 658.6,1039.8 659.6,1039.9 660.6,1040.1 661.6,1040.2 662.6,1040.3 663.6,1040.4 664.6,1040.5 665.6,1040.6 666.6,1040.7 667.6,1040.8 668.6,1040.9 669.6,1041.0 670.6,1041.1 671.6,1041.2 672.6,1041.3 673.6,1041.4 674.6,1041.5 675.6,1041.6 676.6,1041.7 677.6,1041.8 678.6,1041.9 679.6,1042.0 680.6,1042.1 681.6,1042.2 682.6,1042.2 683.6,1042.3 684.6,1042.4 685.6,1042.5 686.6,1042.6 687.6,1042.7 688.6,1042.7 689.6,1042.8 690.6,1042.9 691.6,1043.0 692.6,1043.1 693.6,1043.1 694.6,1043.2 695.6,1043.3 696.6,1043.3 697.6,1043.4 698.6,1043.5 699.6,1043.6 700.6,1043.6 701.6,1043.7 702.6,1043.8 703.6,1043.8 704.6,1043.9 705.6,1044.0 706.6,1044.0 707.6,1044.1 708.6,1044.2 709.6,1044.2 710.6,1044.3 711.6,1044.3 712.6,1044.4 713.6,1044.5 714.6,1044.5 715.6,1044.6 716.6,1044.6 717.6,1044.7 718.6,1044.7 719.6,1044.8 720.6,1044.8 721.6,1044.9 722.6,1045.0 723.6,1045.0 724.6,1045.1 725.6,1045.1 726.6,1045.2 727.6,1045.2 728.6,1045.3 729.6,1045.3 730.6,1045.3 731.6,1045.4 732.6,1045.4 733.6,1045.5 734.6,1045.5 735.6,1045.6 736.6,1045.6 737.6,1045.7 738.6,1045.7 739.6,1045.7 740.6,1045.8 741.6,1045.8 742.6,1045.9 743.6,1045.9 744.6,1045.9 745.6,1046.0 746.6,1046.0 747.6,1046.1 748.6,1046.1 749.6,1046.1 750.6,1046.2 751.6,1046.2 752.6,1046.2 753.6,1046.3 754.6,1046.3 755.6,1046.3 756.6,1046.4 757.6,1046.4 758.6,1046.4 759.6,1046.5 760.6,1046.5 761.6,1046.5 762.6,1046.5 763.6,1046.6 764.6,1046.6 765.6,1046.6 766.6,1046.7 767.6,1046.7 768.6,1046.7 769.6,1046.7 770.6,1046.8 771.6,1046.8 772.6,1046.8 773.6,1046.8 774.6,1046.9 775.6,1046.9 776.6,1046.9 777.6,1046.9 778.6,1047.0 779.6,1047.0 780.6,1047.0 781.6,1047.0 782.6,1047.1 783.6,1047.1 784.6,1047.1 785.6,1047.1" fill="none" stroke="#ee8426" stroke-width="2.1" stroke-linejoin="round"/>
<polyline points="212.6,1048.1 213.6,1048.1 214.6,1048.1 215.6,1048.1 216.6,1048.1 217.6,1048.1 218.6,1048.1 219.6,1048.1 220.6,1048.1 221.6,1048.1 222.6,1048.1 223.6,1048.1 224.6,1048.1 225.6,1048.1 226.6,1048.1 227.6,1048.1 228.6,1048.1 229.6,1048.0 230.6,1048.0 231.6,1048.0 232.6,1048.0 233.6,1048.0 234.6,1048.0 235.6,1048.0 236.6,1048.0 237.6,1048.0 238.6,1048.0 239.6,1048.0 240.6,1048.0 241.6,1048.0 242.6,1048.0 243.6,1048.0 244.6,1048.0 245.6,1048.0 246.6,1048.0 247.6,1048.0 248.6,1048.0 249.6,1048.0 250.6,1048.0 251.6,1048.0 252.6,1047.9 253.6,1047.9 254.6,1047.9 255.6,1047.9 256.6,1047.9 257.6,1047.9 258.6,1047.9 259.6,1047.9 260.6,1047.9 261.6,1047.9 262.6,1047.9 263.6,1047.9 264.6,1047.9 265.6,1047.9 266.6,1047.9 267.6,1047.9 268.6,1047.9 269.6,1047.9 270.6,1047.9 271.6,1047.9 272.6,1047.8 273.6,1047.8 274.6,1047.8 275.6,1047.8 276.6,1047.8 277.6,1047.8 278.6,1047.8 279.6,1047.8 280.6,1047.8 281.6,1047.8 282.6,1047.8 283.6,1047.8 284.6,1047.8 285.6,1047.8 286.6,1047.8 287.6,1047.8 288.6,1047.8 289.6,1047.7 290.6,1047.7 291.6,1047.7 292.6,1047.7 293.6,1047.7 294.6,1047.7 295.6,1047.7 296.6,1047.7 297.6,1047.7 298.6,1047.7 299.6,1047.7 300.6,1047.7 301.6,1047.7 302.6,1047.7 303.6,1047.7 304.6,1047.6 305.6,1047.6 306.6,1047.6 307.6,1047.6 308.6,1047.6 309.6,1047.6 310.6,1047.6 311.6,1047.6 312.6,1047.6 313.6,1047.6 314.6,1047.6 315.6,1047.6 316.6,1047.6 317.6,1047.5 318.6,1047.5 319.6,1047.5 320.6,1047.5 321.6,1047.5 322.6,1047.5 323.6,1047.5 324.6,1047.5 325.6,1047.5 326.6,1047.5 327.6,1047.5 328.6,1047.5 329.6,1047.4 330.6,1047.4 331.6,1047.4 332.6,1047.4 333.6,1047.4 334.6,1047.4 335.6,1047.4 336.6,1047.4 337.6,1047.4 338.6,1047.4 339.6,1047.4 340.6,1047.3 341.6,1047.3 342.6,1047.3 343.6,1047.3 344.6,1047.3 345.6,1047.3 346.6,1047.3 347.6,1047.3 348.6,1047.3 349.6,1047.2 350.6,1047.2 351.6,1047.2 352.6,1047.2 353.6,1047.2 354.6,1047.2 355.6,1047.2 356.6,1047.1 357.6,1047.1 358.6,1047.1 359.6,1047.1 360.6,1047.1 361.6,1047.1 362.6,1047.0 363.6,1047.0 364.6,1047.0 365.6,1047.0 366.6,1047.0 367.6,1046.9 368.6,1046.9 369.6,1046.9 370.6,1046.9 371.6,1046.8 372.6,1046.8 373.6,1046.8 374.6,1046.7 375.6,1046.7 376.6,1046.7 377.6,1046.6 378.6,1046.6 379.6,1046.5 380.6,1046.5 381.6,1046.4 382.6,1046.4 383.6,1046.3 384.6,1046.3 385.6,1046.2 386.6,1046.1 387.6,1046.1 388.6,1046.0 389.6,1045.9 390.6,1045.8 391.6,1045.7 392.6,1045.7 393.6,1045.6 394.6,1045.5 395.6,1045.3 396.6,1045.2 397.6,1045.1 398.6,1045.0 399.6,1044.8 400.6,1044.7 401.6,1044.5 402.6,1044.4 403.6,1044.2 404.6,1044.0 405.6,1043.9 406.6,1043.7 407.6,1043.5 408.6,1043.2 409.6,1043.0 410.6,1042.8 411.6,1042.5 412.6,1042.3 413.6,1042.0 414.6,1041.7 415.6,1041.4 416.6,1041.1 417.6,1040.8 418.6,1040.4 419.6,1040.0 420.6,1039.7 421.6,1039.3 422.6,1038.9 423.6,1038.4 424.6,1038.0 425.6,1037.5 426.6,1037.0 427.6,1036.5 428.6,1036.0 429.6,1035.5 430.6,1034.9 431.6,1034.3 432.6,1033.7 433.6,1033.1 434.6,1032.4 435.6,1031.8 436.6,1031.1 437.6,1030.3 438.6,1029.6 439.6,1028.8 440.6,1028.1 441.6,1027.2 442.6,1026.4 443.6,1025.5 444.6,1024.7 445.6,1023.7 446.6,1022.8 447.6,1021.9 448.6,1020.9 449.6,1019.9 450.6,1018.8 451.6,1017.8 452.6,1016.7 453.6,1015.6 454.6,1014.5 455.6,1013.4 456.6,1012.2 457.6,1011.0 458.6,1009.8 459.6,1008.6 460.6,1007.3 461.6,1006.1 462.6,1004.8 463.6,1003.5 464.6,1002.2 465.6,1000.9 466.6,999.5 467.6,998.2 468.6,996.8 469.6,995.5 470.6,994.1 471.6,992.7 472.6,991.3 473.6,989.9 474.6,988.5 475.6,987.1 476.6,985.7 477.6,984.3 478.6,982.9 479.6,981.6 480.6,980.2 481.6,978.8 482.6,977.4 483.6,976.1 484.6,974.8 485.6,973.4 486.6,972.1 487.6,970.8 488.6,969.6 489.6,968.3 490.6,967.1 491.6,965.9 492.6,964.8 493.6,963.6 494.6,962.5 495.6,961.5 496.6,960.4 497.6,959.4 498.6,958.5 499.6,957.6 500.6,956.7 501.6,955.8 502.6,955.0 503.6,954.3 504.6,953.6 505.6,952.9 506.6,952.3 507.6,951.7 508.6,951.2 509.6,950.8 510.6,950.4 511.6,950.0 512.6,949.7 513.6,949.4 514.6,949.2 515.6,949.1 516.6,949.0 517.6,949.0 518.6,949.0 519.6,949.1 520.6,949.2 521.6,949.4 522.6,949.6 523.6,949.9 524.6,950.2 525.6,950.6 526.6,951.0 527.6,951.5 528.6,952.0 529.6,952.6 530.6,953.2 531.6,953.9 532.6,954.6 533.6,955.3 534.6,956.1 535.6,956.9 536.6,957.8 537.6,958.6 538.6,959.5 539.6,960.5 540.6,961.4 541.6,962.4 542.6,963.4 543.6,964.4 544.6,965.5 545.6,966.5 546.6,967.6 547.6,968.7 548.6,969.8 549.6,970.9 550.6,972.0 551.6,973.1 552.6,974.3 553.6,975.4 554.6,976.5 555.6,977.7 556.6,978.8 557.6,979.9 558.6,981.0 559.6,982.2 560.6,983.3 561.6,984.4 562.6,985.5 563.6,986.6 564.6,987.7 565.6,988.8 566.6,989.8 567.6,990.9 568.6,991.9 569.6,993.0 570.6,994.0 571.6,995.0 572.6,996.0 573.6,997.0 574.6,998.0 575.6,998.9 576.6,999.9 577.6,1000.8 578.6,1001.7 579.6,1002.7 580.6,1003.6 581.6,1004.4 582.6,1005.3 583.6,1006.2 584.6,1007.0 585.6,1007.8 586.6,1008.6 587.6,1009.4 588.6,1010.2 589.6,1011.0 590.6,1011.7 591.6,1012.5 592.6,1013.2 593.6,1013.9 594.6,1014.6 595.6,1015.3 596.6,1016.0 597.6,1016.7 598.6,1017.3 599.6,1018.0 600.6,1018.6 601.6,1019.2 602.6,1019.8 603.6,1020.4 604.6,1021.0 605.6,1021.6 606.6,1022.1 607.6,1022.7 608.6,1023.2 609.6,1023.8 610.6,1024.3 611.6,1024.8 612.6,1025.3 613.6,1025.8 614.6,1026.3 615.6,1026.7 616.6,1027.2 617.6,1027.6 618.6,1028.1 619.6,1028.5 620.6,1028.9 621.6,1029.3 622.6,1029.7 623.6,1030.1 624.6,1030.5 625.6,1030.9 626.6,1031.3 627.6,1031.6 628.6,1032.0 629.6,1032.4 630.6,1032.7 631.6,1033.0 632.6,1033.4 633.6,1033.7 634.6,1034.0 635.6,1034.3 636.6,1034.6 637.6,1034.9 638.6,1035.2 639.6,1035.5 640.6,1035.7 641.6,1036.0 642.6,1036.3 643.6,1036.5 644.6,1036.8 645.6,1037.0 646.6,1037.3 647.6,1037.5 648.6,1037.7 649.6,1038.0 650.6,1038.2 651.6,1038.4 652.6,1038.6 653.6,1038.8 654.6,1039.0 655.6,1039.2 656.6,1039.4 657.6,1039.6 658.6,1039.8 659.6,1040.0 660.6,1040.1 661.6,1040.3 662.6,1040.5 663.6,1040.6 664.6,1040.8 665.6,1041.0 666.6,1041.1 667.6,1041.3 668.6,1041.4 669.6,1041.6 670.6,1041.7 671.6,1041.8 672.6,1042.0 673.6,1042.1 674.6,1042.2 675.6,1042.3 676.6,1042.5 677.6,1042.6 678.6,1042.7 679.6,1042.8 680.6,1042.9 681.6,1043.0 682.6,1043.1 683.6,1043.2 684.6,1043.3 685.6,1043.4 686.6,1043.5 687.6,1043.6 688.6,1043.7 689.6,1043.8 690.6,1043.9 691.6,1044.0 692.6,1044.1 693.6,1044.1 694.6,1044.2 695.6,1044.3 696.6,1044.4 697.6,1044.4 698.6,1044.5 699.6,1044.6 700.6,1044.7 701.6,1044.7 702.6,1044.8 703.6,1044.9 704.6,1044.9 705.6,1045.0 706.6,1045.0 707.6,1045.1 708.6,1045.2 709.6,1045.2 710.6,1045.3 711.6,1045.3 712.6,1045.4 713.6,1045.4 714.6,1045.5 715.6,1045.5 716.6,1045.6 717.6,1045.6 718.6,1045.7 719.6,1045.7 720.6,1045.8 721.6,1045.8 722.6,1045.8 723.6,1045.9 724.6,1045.9 725.6,1046.0 726.6,1046.0 727.6,1046.0 728.6,1046.1 729.6,1046.1 730.6,1046.1 731.6,1046.2 732.6,1046.2 733.6,1046.2 734.6,1046.3 735.6,1046.3 736.6,1046.3 737.6,1046.4 738.6,1046.4 739.6,1046.4 740.6,1046.5 741.6,1046.5 742.6,1046.5 743.6,1046.5 744.6,1046.6 745.6,1046.6 746.6,1046.6 747.6,1046.6 748.6,1046.7 749.6,1046.7 750.6,1046.7 751.6,1046.7 752.6,1046.8 753.6,1046.8 754.6,1046.8 755.6,1046.8 756.6,1046.8 757.6,1046.9 758.6,1046.9 759.6,1046.9 760.6,1046.9 761.6,1047.0 762.6,1047.0 763.6,1047.0 764.6,1047.0 765.6,1047.0 766.6,1047.0 767.6,1047.1 768.6,1047.1 769.6,1047.1 770.6,1047.1 771.6,1047.1 772.6,1047.1 773.6,1047.2 774.6,1047.2 775.6,1047.2 776.6,1047.2 777.6,1047.2 778.6,1047.2 779.6,1047.2 780.6,1047.3 781.6,1047.3 782.6,1047.3 783.6,1047.3 784.6,1047.3 785.6,1047.3" fill="none" stroke="#e8e43c" stroke-width="2.1" stroke-linejoin="round"/>
<polyline points="212.6,1048.5 213.6,1048.5 214.6,1048.5 215.6,1048.5 216.6,1048.5 217.6,1048.5 218.6,1048.5 219.6,1048.5 220.6,1048.5 221.6,1048.5 222.6,1048.5 223.6,1048.5 224.6,1048.5 225.6,1048.5 226.6,1048.5 227.6,1048.5 228.6,1048.5 229.6,1048.5 230.6,1048.5 231.6,1048.5 232.6,1048.5 233.6,1048.5 234.6,1048.5 235.6,1048.5 236.6,1048.5 237.6,1048.5 238.6,1048.5 239.6,1048.5 240.6,1048.5 241.6,1048.5 242.6,1048.5 243.6,1048.5 244.6,1048.5 245.6,1048.5 246.6,1048.5 247.6,1048.5 248.6,1048.5 249.6,1048.5 250.6,1048.5 251.6,1048.5 252.6,1048.5 253.6,1048.5 254.6,1048.5 255.6,1048.5 256.6,1048.5 257.6,1048.5 258.6,1048.5 259.6,1048.5 260.6,1048.5 261.6,1048.5 262.6,1048.5 263.6,1048.5 264.6,1048.5 265.6,1048.5 266.6,1048.5 267.6,1048.5 268.6,1048.5 269.6,1048.5 270.6,1048.5 271.6,1048.5 272.6,1048.5 273.6,1048.5 274.6,1048.5 275.6,1048.5 276.6,1048.5 277.6,1048.5 278.6,1048.5 279.6,1048.5 280.6,1048.5 281.6,1048.5 282.6,1048.5 283.6,1048.5 284.6,1048.5 285.6,1048.5 286.6,1048.5 287.6,1048.5 288.6,1048.5 289.6,1048.5 290.6,1048.5 291.6,1048.4 292.6,1048.4 293.6,1048.4 294.6,1048.4 295.6,1048.4 296.6,1048.4 297.6,1048.4 298.6,1048.4 299.6,1048.4 300.6,1048.4 301.6,1048.4 302.6,1048.4 303.6,1048.4 304.6,1048.4 305.6,1048.4 306.6,1048.4 307.6,1048.4 308.6,1048.4 309.6,1048.4 310.6,1048.4 311.6,1048.4 312.6,1048.4 313.6,1048.4 314.6,1048.4 315.6,1048.4 316.6,1048.4 317.6,1048.3 318.6,1048.3 319.6,1048.3 320.6,1048.3 321.6,1048.3 322.6,1048.3 323.6,1048.3 324.6,1048.3 325.6,1048.3 326.6,1048.3 327.6,1048.3 328.6,1048.3 329.6,1048.2 330.6,1048.2 331.6,1048.2 332.6,1048.2 333.6,1048.2 334.6,1048.2 335.6,1048.2 336.6,1048.2 337.6,1048.1 338.6,1048.1 339.6,1048.1 340.6,1048.1 341.6,1048.1 342.6,1048.1 343.6,1048.0 344.6,1048.0 345.6,1048.0 346.6,1048.0 347.6,1048.0 348.6,1047.9 349.6,1047.9 350.6,1047.9 351.6,1047.9 352.6,1047.8 353.6,1047.8 354.6,1047.8 355.6,1047.7 356.6,1047.7 357.6,1047.7 358.6,1047.6 359.6,1047.6 360.6,1047.6 361.6,1047.5 362.6,1047.5 363.6,1047.5 364.6,1047.4 365.6,1047.4 366.6,1047.3 367.6,1047.3 368.6,1047.2 369.6,1047.2 370.6,1047.1 371.6,1047.1 372.6,1047.0 373.6,1046.9 374.6,1046.9 375.6,1046.8 376.6,1046.8 377.6,1046.7 378.6,1046.6 379.6,1046.5 380.6,1046.5 381.6,1046.4 382.6,1046.3 383.6,1046.2 384.6,1046.1 385.6,1046.0 386.6,1045.9 387.6,1045.8 388.6,1045.7 389.6,1045.6 390.6,1045.5 391.6,1045.4 392.6,1045.3 393.6,1045.2 394.6,1045.0 395.6,1044.9 396.6,1044.8 397.6,1044.6 398.6,1044.5 399.6,1044.3 400.6,1044.2 401.6,1044.0 402.6,1043.8 403.6,1043.7 404.6,1043.5 405.6,1043.3 406.6,1043.1 407.6,1042.9 408.6,1042.7 409.6,1042.5 410.6,1042.3 411.6,1042.0 412.6,1041.8 413.6,1041.6 414.6,1041.3 415.6,1041.1 416.6,1040.8 417.6,1040.5 418.6,1040.2 419.6,1039.9 420.6,1039.6 421.6,1039.3 422.6,1039.0 423.6,1038.7 424.6,1038.3 425.6,1038.0 426.6,1037.6 427.6,1037.2 428.6,1036.8 429.6,1036.4 430.6,1036.0 431.6,1035.6 432.6,1035.2 433.6,1034.7 434.6,1034.3 435.6,1033.8 436.6,1033.3 437.6,1032.8 438.6,1032.3 439.6,1031.7 440.6,1031.2 441.6,1030.6 442.6,1030.1 443.6,1029.5 444.6,1028.9 445.6,1028.2 446.6,1027.6 447.6,1027.0 448.6,1026.3 449.6,1025.6 450.6,1024.9 451.6,1024.2 452.6,1023.4 453.6,1022.7 454.6,1021.9 455.6,1021.1 456.6,1020.3 457.6,1019.5 458.6,1018.7 459.6,1017.8 460.6,1017.0 461.6,1016.1 462.6,1015.2 463.6,1014.3 464.6,1013.3 465.6,1012.4 466.6,1011.4 467.6,1010.4 468.6,1009.4 469.6,1008.4 470.6,1007.4 471.6,1006.4 472.6,1005.3 473.6,1004.3 474.6,1003.2 475.6,1002.1 476.6,1001.1 477.6,1000.0 478.6,998.8 479.6,997.7 480.6,996.6 481.6,995.5 482.6,994.4 483.6,993.2 484.6,992.1 485.6,991.0 486.6,989.8 487.6,988.7 488.6,987.5 489.6,986.4 490.6,985.3 491.6,984.2 492.6,983.1 493.6,982.0 494.6,980.9 495.6,979.8 496.6,978.7 497.6,977.7 498.6,976.6 499.6,975.6 500.6,974.6 501.6,973.6 502.6,972.7 503.6,971.8 504.6,970.8 505.6,970.0 506.6,969.1 507.6,968.3 508.6,967.5 509.6,966.7 510.6,966.0 511.6,965.3 512.6,964.7 513.6,964.0 514.6,963.5 515.6,962.9 516.6,962.4 517.6,962.0 518.6,961.5 519.6,961.2 520.6,960.8 521.6,960.5 522.6,960.3 523.6,960.1 524.6,959.9 525.6,959.8 526.6,959.8 527.6,959.7 528.6,959.8 529.6,959.8 530.6,959.9 531.6,960.1 532.6,960.3 533.6,960.5 534.6,960.8 535.6,961.1 536.6,961.5 537.6,961.8 538.6,962.3 539.6,962.7 540.6,963.2 541.6,963.8 542.6,964.3 543.6,965.0 544.6,965.6 545.6,966.3 546.6,967.0 547.6,967.7 548.6,968.4 549.6,969.2 550.6,970.0 551.6,970.9 552.6,971.7 553.6,972.6 554.6,973.5 555.6,974.4 556.6,975.3 557.6,976.2 558.6,977.2 559.6,978.2 560.6,979.1 561.6,980.1 562.6,981.1 563.6,982.1 564.6,983.2 565.6,984.2 566.6,985.2 567.6,986.2 568.6,987.2 569.6,988.3 570.6,989.3 571.6,990.3 572.6,991.3 573.6,992.4 574.6,993.4 575.6,994.4 576.6,995.4 577.6,996.4 578.6,997.4 579.6,998.3 580.6,999.3 581.6,1000.3 582.6,1001.2 583.6,1002.2 584.6,1003.1 585.6,1004.0 586.6,1004.9 587.6,1005.8 588.6,1006.7 589.6,1007.5 590.6,1008.4 591.6,1009.2 592.6,1010.0 593.6,1010.8 594.6,1011.6 595.6,1012.4 596.6,1013.2 597.6,1013.9 598.6,1014.6 599.6,1015.4 600.6,1016.1 601.6,1016.8 602.6,1017.4 603.6,1018.1 604.6,1018.7 605.6,1019.4 606.6,1020.0 607.6,1020.6 608.6,1021.2 609.6,1021.8 610.6,1022.3 611.6,1022.9 612.6,1023.4 613.6,1023.9 614.6,1024.5 615.6,1025.0 616.6,1025.4 617.6,1025.9 618.6,1026.4 619.6,1026.8 620.6,1027.3 621.6,1027.7 622.6,1028.1 623.6,1028.5 624.6,1028.9 625.6,1029.3 626.6,1029.7 627.6,1030.1 628.6,1030.4 629.6,1030.8 630.6,1031.1 631.6,1031.5 632.6,1031.8 633.6,1032.1 634.6,1032.4 635.6,1032.7 636.6,1033.0 637.6,1033.3 638.6,1033.6 639.6,1033.9 640.6,1034.1 641.6,1034.4 642.6,1034.7 643.6,1034.9 644.6,1035.1 645.6,1035.4 646.6,1035.6 647.6,1035.8 648.6,1036.1 649.6,1036.3 650.6,1036.5 651.6,1036.7 652.6,1036.9 653.6,1037.1 654.6,1037.3 655.6,1037.5 656.6,1037.7 657.6,1037.9 658.6,1038.0 659.6,1038.2 660.6,1038.4 661.6,1038.6 662.6,1038.7 663.6,1038.9 664.6,1039.0 665.6,1039.2 666.6,1039.4 667.6,1039.5 668.6,1039.6 669.6,1039.8 670.6,1039.9 671.6,1040.1 672.6,1040.2 673.6,1040.3 674.6,1040.5 675.6,1040.6 676.6,1040.7 677.6,1040.9 678.6,1041.0 679.6,1041.1 680.6,1041.2 681.6,1041.3 682.6,1041.5 683.6,1041.6 684.6,1041.7 685.6,1041.8 686.6,1041.9 687.6,1042.0 688.6,1042.1 689.6,1042.2 690.6,1042.3 691.6,1042.4 692.6,1042.5 693.6,1042.6 694.6,1042.7 695.6,1042.8 696.6,1042.9 697.6,1043.0 698.6,1043.1 699.6,1043.2 700.6,1043.2 701.6,1043.3 702.6,1043.4 703.6,1043.5 704.6,1043.6 705.6,1043.7 706.6,1043.7 707.6,1043.8 708.6,1043.9 709.6,1044.0 710.6,1044.1 711.6,1044.1 712.6,1044.2 713.6,1044.3 714.6,1044.4 715.6,1044.4 716.6,1044.5 717.6,1044.6 718.6,1044.6 719.6,1044.7 720.6,1044.8 721.6,1044.8 722.6,1044.9 723.6,1045.0 724.6,1045.0 725.6,1045.1 726.6,1045.1 727.6,1045.2 728.6,1045.3 729.6,1045.3 730.6,1045.4 731.6,1045.4 732.6,1045.5 733.6,1045.5 734.6,1045.6 735.6,1045.6 736.6,1045.7 737.6,1045.7 738.6,1045.8 739.6,1045.9 740.6,1045.9 741.6,1045.9 742.6,1046.0 743.6,1046.0 744.6,1046.1 745.6,1046.1 746.6,1046.2 747.6,1046.2 748.6,1046.3 749.6,1046.3 750.6,1046.4 751.6,1046.4 752.6,1046.4 753.6,1046.5 754.6,1046.5 755.6,1046.6 756.6,1046.6 757.6,1046.6 758.6,1046.7 759.6,1046.7 760.6,1046.7 761.6,1046.8 762.6,1046.8 763.6,1046.8 764.6,1046.9 765.6,1046.9 766.6,1046.9 767.6,1047.0 768.6,1047.0 769.6,1047.0 770.6,1047.1 771.6,1047.1 772.6,1047.1 773.6,1047.2 774.6,1047.2 775.6,1047.2 776.6,1047.2 777.6,1047.3 778.6,1047.3 779.6,1047.3 780.6,1047.3 781.6,1047.4 782.6,1047.4 783.6,1047.4 784.6,1047.4 785.6,1047.5" fill="none" stroke="#69b42f" stroke-width="2.1" stroke-linejoin="round"/>
<polyline points="212.6,1048.5 213.6,1048.5 214.6,1048.5 215.6,1048.5 216.6,1048.5 217.6,1048.5 218.6,1048.5 219.6,1048.5 220.6,1048.5 221.6,1048.5 222.6,1048.5 223.6,1048.5 224.6,1048.5 225.6,1048.5 226.6,1048.5 227.6,1048.5 228.6,1048.5 229.6,1048.5 230.6,1048.5 231.6,1048.5 232.6,1048.5 233.6,1048.5 234.6,1048.5 235.6,1048.5 236.6,1048.5 237.6,1048.5 238.6,1048.5 239.6,1048.5 240.6,1048.5 241.6,1048.5 242.6,1048.5 243.6,1048.5 244.6,1048.5 245.6,1048.5 246.6,1048.5 247.6,1048.5 248.6,1048.5 249.6,1048.5 250.6,1048.5 251.6,1048.5 252.6,1048.5 253.6,1048.5 254.6,1048.5 255.6,1048.5 256.6,1048.5 257.6,1048.5 258.6,1048.5 259.6,1048.5 260.6,1048.5 261.6,1048.5 262.6,1048.5 263.6,1048.5 264.6,1048.5 265.6,1048.5 266.6,1048.5 267.6,1048.5 268.6,1048.5 269.6,1048.5 270.6,1048.5 271.6,1048.5 272.6,1048.5 273.6,1048.5 274.6,1048.5 275.6,1048.5 276.6,1048.5 277.6,1048.5 278.6,1048.5 279.6,1048.5 280.6,1048.5 281.6,1048.5 282.6,1048.5 283.6,1048.5 284.6,1048.5 285.6,1048.5 286.6,1048.5 287.6,1048.5 288.6,1048.5 289.6,1048.5 290.6,1048.5 291.6,1048.5 292.6,1048.5 293.6,1048.5 294.6,1048.5 295.6,1048.5 296.6,1048.5 297.6,1048.5 298.6,1048.5 299.6,1048.5 300.6,1048.5 301.6,1048.5 302.6,1048.5 303.6,1048.5 304.6,1048.5 305.6,1048.5 306.6,1048.5 307.6,1048.5 308.6,1048.5 309.6,1048.5 310.6,1048.5 311.6,1048.5 312.6,1048.5 313.6,1048.5 314.6,1048.5 315.6,1048.5 316.6,1048.5 317.6,1048.5 318.6,1048.5 319.6,1048.5 320.6,1048.5 321.6,1048.4 322.6,1048.4 323.6,1048.4 324.6,1048.4 325.6,1048.4 326.6,1048.4 327.6,1048.4 328.6,1048.4 329.6,1048.4 330.6,1048.4 331.6,1048.4 332.6,1048.4 333.6,1048.4 334.6,1048.4 335.6,1048.4 336.6,1048.4 337.6,1048.4 338.6,1048.4 339.6,1048.4 340.6,1048.4 341.6,1048.4 342.6,1048.4 343.6,1048.4 344.6,1048.4 345.6,1048.3 346.6,1048.3 347.6,1048.3 348.6,1048.3 349.6,1048.3 350.6,1048.3 351.6,1048.3 352.6,1048.3 353.6,1048.3 354.6,1048.3 355.6,1048.3 356.6,1048.2 357.6,1048.2 358.6,1048.2 359.6,1048.2 360.6,1048.2 361.6,1048.2 362.6,1048.2 363.6,1048.1 364.6,1048.1 365.6,1048.1 366.6,1048.1 367.6,1048.1 368.6,1048.1 369.6,1048.0 370.6,1048.0 371.6,1048.0 372.6,1048.0 373.6,1047.9 374.6,1047.9 375.6,1047.9 376.6,1047.9 377.6,1047.8 378.6,1047.8 379.6,1047.8 380.6,1047.7 381.6,1047.7 382.6,1047.7 383.6,1047.6 384.6,1047.6 385.6,1047.5 386.6,1047.5 387.6,1047.5 388.6,1047.4 389.6,1047.4 390.6,1047.3 391.6,1047.3 392.6,1047.2 393.6,1047.2 394.6,1047.1 395.6,1047.0 396.6,1047.0 397.6,1046.9 398.6,1046.8 399.6,1046.8 400.6,1046.7 401.6,1046.6 402.6,1046.5 403.6,1046.5 404.6,1046.4 405.6,1046.3 406.6,1046.2 407.6,1046.1 408.6,1046.0 409.6,1045.9 410.6,1045.8 411.6,1045.7 412.6,1045.6 413.6,1045.4 414.6,1045.3 415.6,1045.2 416.6,1045.1 417.6,1044.9 418.6,1044.8 419.6,1044.6 420.6,1044.5 421.6,1044.3 422.6,1044.1 423.6,1044.0 424.6,1043.8 425.6,1043.6 426.6,1043.4 427.6,1043.2 428.6,1043.0 429.6,1042.8 430.6,1042.6 431.6,1042.3 432.6,1042.1 433.6,1041.8 434.6,1041.6 435.6,1041.3 436.6,1041.0 437.6,1040.8 438.6,1040.5 439.6,1040.2 440.6,1039.9 441.6,1039.5 442.6,1039.2 443.6,1038.9 444.6,1038.5 445.6,1038.1 446.6,1037.8 447.6,1037.4 448.6,1037.0 449.6,1036.6 450.6,1036.1 451.6,1035.7 452.6,1035.3 453.6,1034.8 454.6,1034.3 455.6,1033.8 456.6,1033.3 457.6,1032.8 458.6,1032.3 459.6,1031.7 460.6,1031.2 461.6,1030.6 462.6,1030.0 463.6,1029.4 464.6,1028.8 465.6,1028.2 466.6,1027.5 467.6,1026.9 468.6,1026.2 469.6,1025.5 470.6,1024.8 471.6,1024.1 472.6,1023.4 473.6,1022.6 474.6,1021.9 475.6,1021.1 476.6,1020.4 477.6,1019.6 478.6,1018.8 479.6,1018.0 480.6,1017.1 481.6,1016.3 482.6,1015.5 483.6,1014.6 484.6,1013.8 485.6,1012.9 486.6,1012.0 487.6,1011.2 488.6,1010.3 489.6,1009.4 490.6,1008.5 491.6,1007.6 492.6,1006.7 493.6,1005.8 494.6,1005.0 495.6,1004.1 496.6,1003.2 497.6,1002.3 498.6,1001.5 499.6,1000.6 500.6,999.8 501.6,998.9 502.6,998.1 503.6,997.3 504.6,996.5 505.6,995.7 506.6,995.0 507.6,994.2 508.6,993.5 509.6,992.8 510.6,992.1 511.6,991.5 512.6,990.8 513.6,990.2 514.6,989.7 515.6,989.1 516.6,988.6 517.6,988.1 518.6,987.7 519.6,987.2 520.6,986.9 521.6,986.5 522.6,986.2 523.6,985.9 524.6,985.7 525.6,985.5 526.6,985.3 527.6,985.2 528.6,985.1 529.6,985.1 530.6,985.1 531.6,985.1 532.6,985.2 533.6,985.3 534.6,985.4 535.6,985.6 536.6,985.8 537.6,986.0 538.6,986.3 539.6,986.6 540.6,987.0 541.6,987.3 542.6,987.8 543.6,988.2 544.6,988.7 545.6,989.2 546.6,989.7 547.6,990.2 548.6,990.8 549.6,991.4 550.6,992.0 551.6,992.6 552.6,993.3 553.6,994.0 554.6,994.6 555.6,995.3 556.6,996.1 557.6,996.8 558.6,997.5 559.6,998.3 560.6,999.0 561.6,999.8 562.6,1000.5 563.6,1001.3 564.6,1002.1 565.6,1002.9 566.6,1003.6 567.6,1004.4 568.6,1005.2 569.6,1005.9 570.6,1006.7 571.6,1007.5 572.6,1008.2 573.6,1009.0 574.6,1009.7 575.6,1010.5 576.6,1011.2 577.6,1011.9 578.6,1012.7 579.6,1013.4 580.6,1014.1 581.6,1014.8 582.6,1015.5 583.6,1016.1 584.6,1016.8 585.6,1017.5 586.6,1018.1 587.6,1018.7 588.6,1019.4 589.6,1020.0 590.6,1020.6 591.6,1021.2 592.6,1021.7 593.6,1022.3 594.6,1022.9 595.6,1023.4 596.6,1024.0 597.6,1024.5 598.6,1025.0 599.6,1025.5 600.6,1026.0 601.6,1026.5 602.6,1026.9 603.6,1027.4 604.6,1027.9 605.6,1028.3 606.6,1028.7 607.6,1029.2 608.6,1029.6 609.6,1030.0 610.6,1030.4 611.6,1030.7 612.6,1031.1 613.6,1031.5 614.6,1031.8 615.6,1032.2 616.6,1032.5 617.6,1032.9 618.6,1033.2 619.6,1033.5 620.6,1033.8 621.6,1034.1 622.6,1034.4 623.6,1034.7 624.6,1035.0 625.6,1035.3 626.6,1035.5 627.6,1035.8 628.6,1036.1 629.6,1036.3 630.6,1036.5 631.6,1036.8 632.6,1037.0 633.6,1037.2 634.6,1037.5 635.6,1037.7 636.6,1037.9 637.6,1038.1 638.6,1038.3 639.6,1038.5 640.6,1038.7 641.6,1038.9 642.6,1039.1 643.6,1039.2 644.6,1039.4 645.6,1039.6 646.6,1039.7 647.6,1039.9 648.6,1040.1 649.6,1040.2 650.6,1040.4 651.6,1040.5 652.6,1040.7 653.6,1040.8 654.6,1041.0 655.6,1041.1 656.6,1041.2 657.6,1041.3 658.6,1041.5 659.6,1041.6 660.6,1041.7 661.6,1041.8 662.6,1042.0 663.6,1042.1 664.6,1042.2 665.6,1042.3 666.6,1042.4 667.6,1042.5 668.6,1042.6 669.6,1042.7 670.6,1042.8 671.6,1042.9 672.6,1043.0 673.6,1043.1 674.6,1043.2 675.6,1043.3 676.6,1043.3 677.6,1043.4 678.6,1043.5 679.6,1043.6 680.6,1043.7 681.6,1043.7 682.6,1043.8 683.6,1043.9 684.6,1044.0 685.6,1044.0 686.6,1044.1 687.6,1044.2 688.6,1044.3 689.6,1044.3 690.6,1044.4 691.6,1044.5 692.6,1044.5 693.6,1044.6 694.6,1044.6 695.6,1044.7 696.6,1044.8 697.6,1044.8 698.6,1044.9 699.6,1044.9 700.6,1045.0 701.6,1045.0 702.6,1045.1 703.6,1045.1 704.6,1045.2 705.6,1045.2 706.6,1045.3 707.6,1045.3 708.6,1045.4 709.6,1045.4 710.6,1045.5 711.6,1045.5 712.6,1045.6 713.6,1045.6 714.6,1045.7 715.6,1045.7 716.6,1045.7 717.6,1045.8 718.6,1045.8 719.6,1045.9 720.6,1045.9 721.6,1045.9 722.6,1046.0 723.6,1046.0 724.6,1046.0 725.6,1046.1 726.6,1046.1 727.6,1046.2 728.6,1046.2 729.6,1046.2 730.6,1046.3 731.6,1046.3 732.6,1046.3 733.6,1046.4 734.6,1046.4 735.6,1046.4 736.6,1046.4 737.6,1046.5 738.6,1046.5 739.6,1046.5 740.6,1046.6 741.6,1046.6 742.6,1046.6 743.6,1046.6 744.6,1046.7 745.6,1046.7 746.6,1046.7 747.6,1046.7 748.6,1046.8 749.6,1046.8 750.6,1046.8 751.6,1046.8 752.6,1046.9 753.6,1046.9 754.6,1046.9 755.6,1046.9 756.6,1047.0 757.6,1047.0 758.6,1047.0 759.6,1047.0 760.6,1047.1 761.6,1047.1 762.6,1047.1 763.6,1047.1 764.6,1047.1 765.6,1047.2 766.6,1047.2 767.6,1047.2 768.6,1047.2 769.6,1047.2 770.6,1047.2 771.6,1047.3 772.6,1047.3 773.6,1047.3 774.6,1047.3 775.6,1047.3 776.6,1047.4 777.6,1047.4 778.6,1047.4 779.6,1047.4 780.6,1047.4 781.6,1047.4 782.6,1047.4 783.6,1047.5 784.6,1047.5 785.6,1047.5" fill="none" stroke="#2350a5" stroke-width="2.1" stroke-linejoin="round"/>
<polyline points="212.6,1048.5 213.6,1048.5 214.6,1048.5 215.6,1048.5 216.6,1048.5 217.6,1048.5 218.6,1048.5 219.6,1048.5 220.6,1048.5 221.6,1048.5 222.6,1048.5 223.6,1048.5 224.6,1048.5 225.6,1048.5 226.6,1048.5 227.6,1048.5 228.6,1048.5 229.6,1048.5 230.6,1048.5 231.6,1048.5 232.6,1048.5 233.6,1048.5 234.6,1048.5 235.6,1048.5 236.6,1048.5 237.6,1048.5 238.6,1048.5 239.6,1048.5 240.6,1048.5 241.6,1048.5 242.6,1048.5 243.6,1048.5 244.6,1048.5 245.6,1048.5 246.6,1048.5 247.6,1048.5 248.6,1048.5 249.6,1048.5 250.6,1048.5 251.6,1048.5 252.6,1048.5 253.6,1048.5 254.6,1048.5 255.6,1048.5 256.6,1048.5 257.6,1048.5 258.6,1048.5 259.6,1048.5 260.6,1048.5 261.6,1048.5 262.6,1048.5 263.6,1048.5 264.6,1048.5 265.6,1048.5 266.6,1048.5 267.6,1048.5 268.6,1048.5 269.6,1048.5 270.6,1048.5 271.6,1048.5 272.6,1048.5 273.6,1048.5 274.6,1048.5 275.6,1048.5 276.6,1048.5 277.6,1048.5 278.6,1048.5 279.6,1048.5 280.6,1048.5 281.6,1048.5 282.6,1048.5 283.6,1048.5 284.6,1048.5 285.6,1048.5 286.6,1048.5 287.6,1048.5 288.6,1048.5 289.6,1048.5 290.6,1048.5 291.6,1048.5 292.6,1048.5 293.6,1048.5 294.6,1048.5 295.6,1048.5 296.6,1048.5 297.6,1048.5 298.6,1048.5 299.6,1048.5 300.6,1048.5 301.6,1048.5 302.6,1048.5 303.6,1048.5 304.6,1048.5 305.6,1048.5 306.6,1048.5 307.6,1048.5 308.6,1048.5 309.6,1048.5 310.6,1048.5 311.6,1048.5 312.6,1048.5 313.6,1048.5 314.6,1048.5 315.6,1048.5 316.6,1048.5 317.6,1048.5 318.6,1048.5 319.6,1048.5 320.6,1048.5 321.6,1048.5 322.6,1048.5 323.6,1048.5 324.6,1048.5 325.6,1048.5 326.6,1048.5 327.6,1048.5 328.6,1048.5 329.6,1048.4 330.6,1048.4 331.6,1048.4 332.6,1048.4 333.6,1048.4 334.6,1048.4 335.6,1048.4 336.6,1048.4 337.6,1048.4 338.6,1048.4 339.6,1048.4 340.6,1048.4 341.6,1048.4 342.6,1048.4 343.6,1048.4 344.6,1048.4 345.6,1048.4 346.6,1048.4 347.6,1048.4 348.6,1048.4 349.6,1048.4 350.6,1048.4 351.6,1048.4 352.6,1048.4 353.6,1048.4 354.6,1048.4 355.6,1048.4 356.6,1048.4 357.6,1048.3 358.6,1048.3 359.6,1048.3 360.6,1048.3 361.6,1048.3 362.6,1048.3 363.6,1048.3 364.6,1048.3 365.6,1048.3 366.6,1048.3 367.6,1048.3 368.6,1048.3 369.6,1048.3 370.6,1048.2 371.6,1048.2 372.6,1048.2 373.6,1048.2 374.6,1048.2 375.6,1048.2 376.6,1048.2 377.6,1048.2 378.6,1048.2 379.6,1048.1 380.6,1048.1 381.6,1048.1 382.6,1048.1 383.6,1048.1 384.6,1048.1 385.6,1048.1 386.6,1048.0 387.6,1048.0 388.6,1048.0 389.6,1048.0 390.6,1048.0 391.6,1048.0 392.6,1047.9 393.6,1047.9 394.6,1047.9 395.6,1047.9 396.6,1047.9 397.6,1047.8 398.6,1047.8 399.6,1047.8 400.6,1047.8 401.6,1047.7 402.6,1047.7 403.6,1047.7 404.6,1047.6 405.6,1047.6 406.6,1047.6 407.6,1047.5 408.6,1047.5 409.6,1047.5 410.6,1047.4 411.6,1047.4 412.6,1047.4 413.6,1047.3 414.6,1047.3 415.6,1047.3 416.6,1047.2 417.6,1047.2 418.6,1047.1 419.6,1047.1 420.6,1047.0 421.6,1047.0 422.6,1046.9 423.6,1046.9 424.6,1046.8 425.6,1046.8 426.6,1046.7 427.6,1046.6 428.6,1046.6 429.6,1046.5 430.6,1046.5 431.6,1046.4 432.6,1046.3 433.6,1046.3 434.6,1046.2 435.6,1046.1 436.6,1046.0 437.6,1046.0 438.6,1045.9 439.6,1045.8 440.6,1045.7 441.6,1045.6 442.6,1045.5 443.6,1045.5 444.6,1045.4 445.6,1045.3 446.6,1045.2 447.6,1045.1 448.6,1045.0 449.6,1044.9 450.6,1044.8 451.6,1044.7 452.6,1044.5 453.6,1044.4 454.6,1044.3 455.6,1044.2 456.6,1044.1 457.6,1044.0 458.6,1043.8 459.6,1043.7 460.6,1043.6 461.6,1043.4 462.6,1043.3 463.6,1043.2 464.6,1043.0 465.6,1042.9 466.6,1042.7 467.6,1042.6 468.6,1042.5 469.6,1042.3 470.6,1042.1 471.6,1042.0 472.6,1041.8 473.6,1041.7 474.6,1041.5 475.6,1041.4 476.6,1041.2 477.6,1041.0 478.6,1040.9 479.6,1040.7 480.6,1040.5 481.6,1040.4 482.6,1040.2 483.6,1040.0 484.6,1039.9 485.6,1039.7 486.6,1039.5 487.6,1039.4 488.6,1039.2 489.6,1039.0 490.6,1038.9 491.6,1038.7 492.6,1038.5 493.6,1038.4 494.6,1038.2 495.6,1038.0 496.6,1037.9 497.6,1037.7 498.6,1037.5 499.6,1037.4 500.6,1037.2 501.6,1037.1 502.6,1036.9 503.6,1036.8 504.6,1036.7 505.6,1036.5 506.6,1036.4 507.6,1036.2 508.6,1036.1 509.6,1036.0 510.6,1035.9 511.6,1035.8 512.6,1035.7 513.6,1035.6 514.6,1035.5 515.6,1035.4 516.6,1035.3 517.6,1035.2 518.6,1035.1 519.6,1035.0 520.6,1035.0 521.6,1034.9 522.6,1034.9 523.6,1034.8 524.6,1034.8 525.6,1034.7 526.6,1034.7 527.6,1034.7 528.6,1034.7 529.6,1034.7 530.6,1034.7 531.6,1034.7 532.6,1034.7 533.6,1034.7 534.6,1034.7 535.6,1034.8 536.6,1034.8 537.6,1034.8 538.6,1034.9 539.6,1035.0 540.6,1035.0 541.6,1035.1 542.6,1035.2 543.6,1035.2 544.6,1035.3 545.6,1035.4 546.6,1035.5 547.6,1035.6 548.6,1035.7 549.6,1035.8 550.6,1036.0 551.6,1036.1 552.6,1036.2 553.6,1036.3 554.6,1036.5 555.6,1036.6 556.6,1036.7 557.6,1036.9 558.6,1037.0 559.6,1037.2 560.6,1037.3 561.6,1037.5 562.6,1037.6 563.6,1037.8 564.6,1037.9 565.6,1038.1 566.6,1038.2 567.6,1038.4 568.6,1038.6 569.6,1038.7 570.6,1038.9 571.6,1039.0 572.6,1039.2 573.6,1039.4 574.6,1039.5 575.6,1039.7 576.6,1039.8 577.6,1040.0 578.6,1040.1 579.6,1040.3 580.6,1040.5 581.6,1040.6 582.6,1040.8 583.6,1040.9 584.6,1041.1 585.6,1041.2 586.6,1041.4 587.6,1041.5 588.6,1041.7 589.6,1041.8 590.6,1041.9 591.6,1042.1 592.6,1042.2 593.6,1042.3 594.6,1042.5 595.6,1042.6 596.6,1042.7 597.6,1042.9 598.6,1043.0 599.6,1043.1 600.6,1043.2 601.6,1043.4 602.6,1043.5 603.6,1043.6 604.6,1043.7 605.6,1043.8 606.6,1043.9 607.6,1044.0 608.6,1044.1 609.6,1044.2 610.6,1044.3 611.6,1044.4 612.6,1044.5 613.6,1044.6 614.6,1044.7 615.6,1044.8 616.6,1044.9 617.6,1045.0 618.6,1045.1 619.6,1045.1 620.6,1045.2 621.6,1045.3 622.6,1045.4 623.6,1045.5 624.6,1045.5 625.6,1045.6 626.6,1045.7 627.6,1045.7 628.6,1045.8 629.6,1045.9 630.6,1045.9 631.6,1046.0 632.6,1046.1 633.6,1046.1 634.6,1046.2 635.6,1046.2 636.6,1046.3 637.6,1046.3 638.6,1046.4 639.6,1046.5 640.6,1046.5 641.6,1046.6 642.6,1046.6 643.6,1046.6 644.6,1046.7 645.6,1046.7 646.6,1046.8 647.6,1046.8 648.6,1046.9 649.6,1046.9 650.6,1046.9 651.6,1047.0 652.6,1047.0 653.6,1047.1 654.6,1047.1 655.6,1047.1 656.6,1047.2 657.6,1047.2 658.6,1047.2 659.6,1047.3 660.6,1047.3 661.6,1047.3 662.6,1047.3 663.6,1047.4 664.6,1047.4 665.6,1047.4 666.6,1047.4 667.6,1047.5 668.6,1047.5 669.6,1047.5 670.6,1047.5 671.6,1047.6 672.6,1047.6 673.6,1047.6 674.6,1047.6 675.6,1047.7 676.6,1047.7 677.6,1047.7 678.6,1047.7 679.6,1047.7 680.6,1047.7 681.6,1047.8 682.6,1047.8 683.6,1047.8 684.6,1047.8 685.6,1047.8 686.6,1047.8 687.6,1047.9 688.6,1047.9 689.6,1047.9 690.6,1047.9 691.6,1047.9 692.6,1047.9 693.6,1047.9 694.6,1048.0 695.6,1048.0 696.6,1048.0 697.6,1048.0 698.6,1048.0 699.6,1048.0 700.6,1048.0 701.6,1048.0 702.6,1048.0 703.6,1048.0 704.6,1048.1 705.6,1048.1 706.6,1048.1 707.6,1048.1 708.6,1048.1 709.6,1048.1 710.6,1048.1 711.6,1048.1 712.6,1048.1 713.6,1048.1 714.6,1048.1 715.6,1048.1 716.6,1048.2 717.6,1048.2 718.6,1048.2 719.6,1048.2 720.6,1048.2 721.6,1048.2 722.6,1048.2 723.6,1048.2 724.6,1048.2 725.6,1048.2 726.6,1048.2 727.6,1048.2 728.6,1048.2 729.6,1048.2 730.6,1048.2 731.6,1048.2 732.6,1048.2 733.6,1048.3 734.6,1048.3 735.6,1048.3 736.6,1048.3 737.6,1048.3 738.6,1048.3 739.6,1048.3 740.6,1048.3 741.6,1048.3 742.6,1048.3 743.6,1048.3 744.6,1048.3 745.6,1048.3 746.6,1048.3 747.6,1048.3 748.6,1048.3 749.6,1048.3 750.6,1048.3 751.6,1048.3 752.6,1048.3 753.6,1048.3 754.6,1048.3 755.6,1048.3 756.6,1048.3 757.6,1048.3 758.6,1048.3 759.6,1048.3 760.6,1048.3 761.6,1048.4 762.6,1048.4 763.6,1048.4 764.6,1048.4 765.6,1048.4 766.6,1048.4 767.6,1048.4 768.6,1048.4 769.6,1048.4 770.6,1048.4 771.6,1048.4 772.6,1048.4 773.6,1048.4 774.6,1048.4 775.6,1048.4 776.6,1048.4 777.6,1048.4 778.6,1048.4 779.6,1048.4 780.6,1048.4 781.6,1048.4 782.6,1048.4 783.6,1048.4 784.6,1048.4 785.6,1048.4" fill="none" stroke="#5a4799" stroke-width="2.1" stroke-linejoin="round"/>
<rect x="1017.5" y="633.8" width="561.1" height="415.5" fill="none" stroke="#000" stroke-width="2.3"/>
<line x1="1046.85" y1="1049.3" x2="1046.85" y2="1043.6" stroke="#000" stroke-width="2" stroke-linecap="butt"/>
<line x1="1130.8" y1="1049.3" x2="1130.8" y2="1039.5" stroke="#000" stroke-width="2" stroke-linecap="butt"/>
<line x1="1214.75" y1="1049.3" x2="1214.75" y2="1043.6" stroke="#000" stroke-width="2" stroke-linecap="butt"/>
<line x1="1298.71" y1="1049.3" x2="1298.71" y2="1039.5" stroke="#000" stroke-width="2" stroke-linecap="butt"/>
<line x1="1382.66" y1="1049.3" x2="1382.66" y2="1043.6" stroke="#000" stroke-width="2" stroke-linecap="butt"/>
<line x1="1466.62" y1="1049.3" x2="1466.62" y2="1039.5" stroke="#000" stroke-width="2" stroke-linecap="butt"/>
<line x1="1550.58" y1="1049.3" x2="1550.58" y2="1043.6" stroke="#000" stroke-width="2" stroke-linecap="butt"/>
<line x1="1017.5" y1="980.69" x2="1023.2" y2="980.69" stroke="#000" stroke-width="2" stroke-linecap="butt"/>
<line x1="1017.5" y1="912.08" x2="1027.3" y2="912.08" stroke="#000" stroke-width="2" stroke-linecap="butt"/>
<line x1="1017.5" y1="843.47" x2="1023.2" y2="843.47" stroke="#000" stroke-width="2" stroke-linecap="butt"/>
<line x1="1017.5" y1="774.86" x2="1027.3" y2="774.86" stroke="#000" stroke-width="2" stroke-linecap="butt"/>
<line x1="1017.5" y1="706.25" x2="1023.2" y2="706.25" stroke="#000" stroke-width="2" stroke-linecap="butt"/>
<line x1="1017.5" y1="637.64" x2="1027.3" y2="637.64" stroke="#000" stroke-width="2" stroke-linecap="butt"/>
<text transform="translate(1104.54,1088.8) scale(1.0,1.04)" font-size="33.6" font-weight="normal" fill="#000" >480</text>
<text transform="translate(1272.16,1088.8) scale(1.0,1.04)" font-size="33.6" font-weight="normal" fill="#000" >510</text>
<text transform="translate(1440.07,1088.8) scale(1.0,1.04)" font-size="33.6" font-weight="normal" fill="#000" >540</text>
<text transform="translate(957.2,1053.53) scale(1.0,1.04)" font-size="33.6" font-weight="normal" fill="#000" >0.0</text>
<text transform="translate(890.03,921.31) scale(1.0,1.04)" font-size="33.6" font-weight="normal" fill="#000" >3.0×10</text>
<text transform="translate(993.07,909.99) scale(1.0,1.04)" font-size="18.6" font-weight="normal" fill="#2a2a2a" >6</text>
<text transform="translate(890.03,784.09) scale(1.0,1.04)" font-size="33.6" font-weight="normal" fill="#000" >6.0×10</text>
<text transform="translate(993.07,772.77) scale(1.0,1.04)" font-size="18.6" font-weight="normal" fill="#2a2a2a" >6</text>
<text transform="translate(890.03,646.87) scale(1.0,1.04)" font-size="33.6" font-weight="normal" fill="#000" >9.0×10</text>
<text transform="translate(993.07,635.55) scale(1.0,1.04)" font-size="18.6" font-weight="normal" fill="#2a2a2a" >6</text>
<text transform="translate(1144.25,1134.92) scale(1.0,1.04)" font-size="33.6" font-weight="normal" fill="#000" >Wavelength (nm)</text>
<text transform="translate(868.72,927.26) rotate(-90) scale(1,1.04)" font-size="33.6">PL intensity</text>
<line x1="1420.5" y1="699.3" x2="1468.9" y2="699.3" stroke="#000000" stroke-width="2.3" stroke-linecap="butt"/>
<text transform="translate(1476.14,706.3) scale(1,1.04)" font-size="33.6">Day0</text>
<line x1="1420.5" y1="740.25" x2="1468.9" y2="740.25" stroke="#e8151d" stroke-width="2.3" stroke-linecap="butt"/>
<text transform="translate(1476.14,747.25) scale(1,1.04)" font-size="33.6">Day1</text>
<line x1="1420.5" y1="781.2" x2="1468.9" y2="781.2" stroke="#ee8426" stroke-width="2.3" stroke-linecap="butt"/>
<text transform="translate(1476.14,788.2) scale(1,1.04)" font-size="33.6">Day2</text>
<line x1="1420.5" y1="822.15" x2="1468.9" y2="822.15" stroke="#e8e43c" stroke-width="2.3" stroke-linecap="butt"/>
<text transform="translate(1476.14,829.15) scale(1,1.04)" font-size="33.6">Day3</text>
<line x1="1420.5" y1="863.1" x2="1468.9" y2="863.1" stroke="#69b42f" stroke-width="2.3" stroke-linecap="butt"/>
<text transform="translate(1476.14,870.1) scale(1,1.04)" font-size="33.6">Day4</text>
<line x1="1420.5" y1="904.05" x2="1468.9" y2="904.05" stroke="#2350a5" stroke-width="2.3" stroke-linecap="butt"/>
<text transform="translate(1476.14,911.05) scale(1,1.04)" font-size="33.6">Day5</text>
<line x1="1420.5" y1="945" x2="1468.9" y2="945" stroke="#5a4799" stroke-width="2.3" stroke-linecap="butt"/>
<text transform="translate(1476.14,952) scale(1,1.04)" font-size="33.6">Day6</text>
<polyline points="1011.5,1047.9 1012.5,1047.9 1013.5,1047.9 1014.5,1047.9 1015.5,1047.8 1016.5,1047.8 1017.5,1047.8 1018.5,1047.7 1019.5,1047.7 1020.5,1047.7 1021.5,1047.7 1022.5,1047.6 1023.5,1047.6 1024.5,1047.6 1025.5,1047.5 1026.5,1047.5 1027.5,1047.5 1028.5,1047.4 1029.5,1047.4 1030.5,1047.4 1031.5,1047.3 1032.5,1047.3 1033.5,1047.3 1034.5,1047.2 1035.5,1047.2 1036.5,1047.2 1037.5,1047.1 1038.5,1047.1 1039.5,1047.0 1040.5,1047.0 1041.5,1047.0 1042.5,1046.9 1043.5,1046.9 1044.5,1046.8 1045.5,1046.8 1046.5,1046.7 1047.5,1046.7 1048.5,1046.6 1049.5,1046.6 1050.5,1046.5 1051.5,1046.5 1052.5,1046.4 1053.5,1046.4 1054.5,1046.3 1055.5,1046.3 1056.5,1046.2 1057.5,1046.2 1058.5,1046.1 1059.5,1046.1 1060.5,1046.0 1061.5,1046.0 1062.5,1045.9 1063.5,1045.8 1064.5,1045.8 1065.5,1045.7 1066.5,1045.6 1067.5,1045.6 1068.5,1045.5 1069.5,1045.4 1070.5,1045.4 1071.5,1045.3 1072.5,1045.2 1073.5,1045.1 1074.5,1045.1 1075.5,1045.0 1076.5,1044.9 1077.5,1044.8 1078.5,1044.7 1079.5,1044.7 1080.5,1044.6 1081.5,1044.5 1082.5,1044.4 1083.5,1044.3 1084.5,1044.2 1085.5,1044.1 1086.5,1044.0 1087.5,1043.9 1088.5,1043.8 1089.5,1043.7 1090.5,1043.5 1091.5,1043.4 1092.5,1043.3 1093.5,1043.2 1094.5,1043.0 1095.5,1042.9 1096.5,1042.8 1097.5,1042.6 1098.5,1042.5 1099.5,1042.3 1100.5,1042.2 1101.5,1042.0 1102.5,1041.8 1103.5,1041.7 1104.5,1041.5 1105.5,1041.3 1106.5,1041.1 1107.5,1040.9 1108.5,1040.7 1109.5,1040.5 1110.5,1040.2 1111.5,1040.0 1112.5,1039.8 1113.5,1039.5 1114.5,1039.2 1115.5,1039.0 1116.5,1038.7 1117.5,1038.4 1118.5,1038.1 1119.5,1037.7 1120.5,1037.4 1121.5,1037.1 1122.5,1036.7 1123.5,1036.3 1124.5,1035.9 1125.5,1035.5 1126.5,1035.1 1127.5,1034.6 1128.5,1034.2 1129.5,1033.7 1130.5,1033.2 1131.5,1032.6 1132.5,1032.1 1133.5,1031.5 1134.5,1030.9 1135.5,1030.3 1136.5,1029.6 1137.5,1029.0 1138.5,1028.3 1139.5,1027.5 1140.5,1026.8 1141.5,1026.0 1142.5,1025.2 1143.5,1024.3 1144.5,1023.4 1145.5,1022.5 1146.5,1021.6 1147.5,1020.6 1148.5,1019.5 1149.5,1018.4 1150.5,1017.3 1151.5,1016.2 1152.5,1015.0 1153.5,1013.7 1154.5,1012.4 1155.5,1011.1 1156.5,1009.7 1157.5,1008.3 1158.5,1006.8 1159.5,1005.3 1160.5,1003.7 1161.5,1002.0 1162.5,1000.3 1163.5,998.6 1164.5,996.8 1165.5,994.9 1166.5,993.0 1167.5,991.0 1168.5,989.0 1169.5,986.9 1170.5,984.7 1171.5,982.5 1172.5,980.2 1173.5,977.8 1174.5,975.4 1175.5,972.9 1176.5,970.3 1177.5,967.7 1178.5,965.0 1179.5,962.2 1180.5,959.4 1181.5,956.5 1182.5,953.6 1183.5,950.5 1184.5,947.4 1185.5,944.3 1186.5,941.0 1187.5,937.7 1188.5,934.4 1189.5,931.0 1190.5,927.5 1191.5,923.9 1192.5,920.3 1193.5,916.6 1194.5,912.9 1195.5,909.1 1196.5,905.2 1197.5,901.3 1198.5,897.4 1199.5,893.3 1200.5,889.3 1201.5,885.2 1202.5,881.0 1203.5,876.8 1204.5,872.6 1205.5,868.3 1206.5,864.0 1207.5,859.6 1208.5,855.3 1209.5,850.9 1210.5,846.4 1211.5,842.0 1212.5,837.5 1213.5,833.1 1214.5,828.6 1215.5,824.1 1216.5,819.6 1217.5,815.1 1218.5,810.7 1219.5,806.2 1220.5,801.8 1221.5,797.3 1222.5,792.9 1223.5,788.5 1224.5,784.2 1225.5,779.9 1226.5,775.6 1227.5,771.4 1228.5,767.2 1229.5,763.1 1230.5,759.1 1231.5,755.1 1232.5,751.1 1233.5,747.3 1234.5,743.5 1235.5,739.8 1236.5,736.2 1237.5,732.7 1238.5,729.3 1239.5,725.9 1240.5,722.7 1241.5,719.6 1242.5,716.6 1243.5,713.7 1244.5,710.9 1245.5,708.2 1246.5,705.7 1247.5,703.3 1248.5,701.0 1249.5,698.8 1250.5,696.8 1251.5,695.0 1252.5,693.2 1253.5,691.6 1254.5,690.2 1255.5,688.9 1256.5,687.8 1257.5,686.8 1258.5,685.9 1259.5,685.2 1260.5,684.7 1261.5,684.3 1262.5,684.1 1263.5,684.0 1264.5,684.1 1265.5,684.3 1266.5,684.6 1267.5,685.1 1268.5,685.7 1269.5,686.5 1270.5,687.4 1271.5,688.4 1272.5,689.6 1273.5,690.9 1274.5,692.3 1275.5,693.9 1276.5,695.6 1277.5,697.4 1278.5,699.3 1279.5,701.3 1280.5,703.5 1281.5,705.8 1282.5,708.1 1283.5,710.6 1284.5,713.2 1285.5,715.9 1286.5,718.7 1287.5,721.6 1288.5,724.5 1289.5,727.6 1290.5,730.7 1291.5,733.9 1292.5,737.2 1293.5,740.5 1294.5,743.9 1295.5,747.4 1296.5,750.9 1297.5,754.4 1298.5,758.1 1299.5,761.7 1300.5,765.4 1301.5,769.2 1302.5,772.9 1303.5,776.7 1304.5,780.5 1305.5,784.4 1306.5,788.2 1307.5,792.1 1308.5,796.0 1309.5,799.9 1310.5,803.7 1311.5,807.6 1312.5,811.5 1313.5,815.4 1314.5,819.2 1315.5,823.1 1316.5,826.9 1317.5,830.7 1318.5,834.5 1319.5,838.2 1320.5,842.0 1321.5,845.7 1322.5,849.3 1323.5,853.0 1324.5,856.6 1325.5,860.1 1326.5,863.6 1327.5,867.1 1328.5,870.6 1329.5,874.0 1330.5,877.3 1331.5,880.6 1332.5,883.9 1333.5,887.1 1334.5,890.2 1335.5,893.4 1336.5,896.4 1337.5,899.4 1338.5,902.4 1339.5,905.3 1340.5,908.2 1341.5,911.0 1342.5,913.7 1343.5,916.5 1344.5,919.1 1345.5,921.7 1346.5,924.3 1347.5,926.8 1348.5,929.2 1349.5,931.6 1350.5,934.0 1351.5,936.3 1352.5,938.6 1353.5,940.8 1354.5,942.9 1355.5,945.1 1356.5,947.1 1357.5,949.2 1358.5,951.1 1359.5,953.1 1360.5,955.0 1361.5,956.8 1362.5,958.6 1363.5,960.4 1364.5,962.1 1365.5,963.8 1366.5,965.5 1367.5,967.1 1368.5,968.7 1369.5,970.2 1370.5,971.8 1371.5,973.2 1372.5,974.7 1373.5,976.1 1374.5,977.5 1375.5,978.8 1376.5,980.2 1377.5,981.4 1378.5,982.7 1379.5,983.9 1380.5,985.2 1381.5,986.3 1382.5,987.5 1383.5,988.6 1384.5,989.7 1385.5,990.8 1386.5,991.9 1387.5,992.9 1388.5,993.9 1389.5,994.9 1390.5,995.9 1391.5,996.9 1392.5,997.8 1393.5,998.7 1394.5,999.6 1395.5,1000.5 1396.5,1001.4 1397.5,1002.2 1398.5,1003.1 1399.5,1003.9 1400.5,1004.7 1401.5,1005.5 1402.5,1006.2 1403.5,1007.0 1404.5,1007.7 1405.5,1008.4 1406.5,1009.2 1407.5,1009.9 1408.5,1010.5 1409.5,1011.2 1410.5,1011.9 1411.5,1012.5 1412.5,1013.2 1413.5,1013.8 1414.5,1014.4 1415.5,1015.0 1416.5,1015.6 1417.5,1016.2 1418.5,1016.8 1419.5,1017.3 1420.5,1017.9 1421.5,1018.4 1422.5,1018.9 1423.5,1019.5 1424.5,1020.0 1425.5,1020.5 1426.5,1021.0 1427.5,1021.5 1428.5,1022.0 1429.5,1022.4 1430.5,1022.9 1431.5,1023.3 1432.5,1023.8 1433.5,1024.2 1434.5,1024.7 1435.5,1025.1 1436.5,1025.5 1437.5,1025.9 1438.5,1026.3 1439.5,1026.7 1440.5,1027.1 1441.5,1027.5 1442.5,1027.9 1443.5,1028.2 1444.5,1028.6 1445.5,1028.9 1446.5,1029.3 1447.5,1029.6 1448.5,1030.0 1449.5,1030.3 1450.5,1030.6 1451.5,1030.9 1452.5,1031.3 1453.5,1031.6 1454.5,1031.9 1455.5,1032.2 1456.5,1032.5 1457.5,1032.8 1458.5,1033.0 1459.5,1033.3 1460.5,1033.6 1461.5,1033.9 1462.5,1034.1 1463.5,1034.4 1464.5,1034.6 1465.5,1034.9 1466.5,1035.1 1467.5,1035.4 1468.5,1035.6 1469.5,1035.9 1470.5,1036.1 1471.5,1036.3 1472.5,1036.5 1473.5,1036.8 1474.5,1037.0 1475.5,1037.2 1476.5,1037.4 1477.5,1037.6 1478.5,1037.8 1479.5,1038.0 1480.5,1038.2 1481.5,1038.4 1482.5,1038.5 1483.5,1038.7 1484.5,1038.9 1485.5,1039.1 1486.5,1039.3 1487.5,1039.4 1488.5,1039.6 1489.5,1039.8 1490.5,1039.9 1491.5,1040.1 1492.5,1040.2 1493.5,1040.4 1494.5,1040.5 1495.5,1040.7 1496.5,1040.8 1497.5,1041.0 1498.5,1041.1 1499.5,1041.2 1500.5,1041.4 1501.5,1041.5 1502.5,1041.6 1503.5,1041.8 1504.5,1041.9 1505.5,1042.0 1506.5,1042.1 1507.5,1042.3 1508.5,1042.4 1509.5,1042.5 1510.5,1042.6 1511.5,1042.7 1512.5,1042.8 1513.5,1042.9 1514.5,1043.0 1515.5,1043.1 1516.5,1043.2 1517.5,1043.3 1518.5,1043.4 1519.5,1043.5 1520.5,1043.6 1521.5,1043.7 1522.5,1043.8 1523.5,1043.9 1524.5,1044.0 1525.5,1044.1 1526.5,1044.2 1527.5,1044.2 1528.5,1044.3 1529.5,1044.4 1530.5,1044.5 1531.5,1044.6 1532.5,1044.6 1533.5,1044.7 1534.5,1044.8 1535.5,1044.9 1536.5,1044.9 1537.5,1045.0 1538.5,1045.1 1539.5,1045.1 1540.5,1045.2 1541.5,1045.3 1542.5,1045.3 1543.5,1045.4 1544.5,1045.5 1545.5,1045.5 1546.5,1045.6 1547.5,1045.6 1548.5,1045.7 1549.5,1045.8 1550.5,1045.8 1551.5,1045.9 1552.5,1045.9 1553.5,1046.0 1554.5,1046.0 1555.5,1046.1 1556.5,1046.1 1557.5,1046.2 1558.5,1046.2 1559.5,1046.3 1560.5,1046.3 1561.5,1046.4 1562.5,1046.4 1563.5,1046.5 1564.5,1046.5 1565.5,1046.6 1566.5,1046.6 1567.5,1046.6 1568.5,1046.7 1569.5,1046.7 1570.5,1046.8 1571.5,1046.8 1572.5,1046.8 1573.5,1046.9 1574.5,1046.9 1575.5,1046.9 1576.5,1047.0 1577.5,1047.0 1578.5,1047.1 1579.5,1047.1 1580.5,1047.1 1581.5,1047.2 1582.5,1047.2 1583.5,1047.2 1584.5,1047.2" fill="none" stroke="#000000" stroke-width="2.1" stroke-linejoin="round"/>
<polyline points="1011.5,1049.1 1012.5,1049.1 1013.5,1049.1 1014.5,1049.1 1015.5,1049.1 1016.5,1049.1 1017.5,1049.1 1018.5,1049.1 1019.5,1049.1 1020.5,1049.1 1021.5,1049.1 1022.5,1049.1 1023.5,1049.1 1024.5,1049.1 1025.5,1049.1 1026.5,1049.0 1027.5,1049.0 1028.5,1049.0 1029.5,1049.0 1030.5,1049.0 1031.5,1049.0 1032.5,1049.0 1033.5,1049.0 1034.5,1049.0 1035.5,1049.0 1036.5,1049.0 1037.5,1049.0 1038.5,1048.9 1039.5,1048.9 1040.5,1048.9 1041.5,1048.9 1042.5,1048.9 1043.5,1048.9 1044.5,1048.9 1045.5,1048.9 1046.5,1048.9 1047.5,1048.9 1048.5,1048.8 1049.5,1048.8 1050.5,1048.8 1051.5,1048.8 1052.5,1048.8 1053.5,1048.8 1054.5,1048.8 1055.5,1048.7 1056.5,1048.7 1057.5,1048.7 1058.5,1048.7 1059.5,1048.7 1060.5,1048.7 1061.5,1048.6 1062.5,1048.6 1063.5,1048.6 1064.5,1048.6 1065.5,1048.6 1066.5,1048.5 1067.5,1048.5 1068.5,1048.5 1069.5,1048.5 1070.5,1048.5 1071.5,1048.4 1072.5,1048.4 1073.5,1048.4 1074.5,1048.4 1075.5,1048.3 1076.5,1048.3 1077.5,1048.3 1078.5,1048.3 1079.5,1048.2 1080.5,1048.2 1081.5,1048.2 1082.5,1048.1 1083.5,1048.1 1084.5,1048.1 1085.5,1048.0 1086.5,1048.0 1087.5,1048.0 1088.5,1047.9 1089.5,1047.9 1090.5,1047.9 1091.5,1047.8 1092.5,1047.8 1093.5,1047.7 1094.5,1047.7 1095.5,1047.7 1096.5,1047.6 1097.5,1047.6 1098.5,1047.5 1099.5,1047.5 1100.5,1047.4 1101.5,1047.4 1102.5,1047.3 1103.5,1047.3 1104.5,1047.2 1105.5,1047.2 1106.5,1047.1 1107.5,1047.0 1108.5,1047.0 1109.5,1046.9 1110.5,1046.9 1111.5,1046.8 1112.5,1046.7 1113.5,1046.7 1114.5,1046.6 1115.5,1046.5 1116.5,1046.5 1117.5,1046.4 1118.5,1046.3 1119.5,1046.2 1120.5,1046.1 1121.5,1046.1 1122.5,1046.0 1123.5,1045.9 1124.5,1045.8 1125.5,1045.7 1126.5,1045.6 1127.5,1045.5 1128.5,1045.4 1129.5,1045.3 1130.5,1045.2 1131.5,1045.1 1132.5,1045.0 1133.5,1044.9 1134.5,1044.8 1135.5,1044.6 1136.5,1044.5 1137.5,1044.4 1138.5,1044.3 1139.5,1044.1 1140.5,1044.0 1141.5,1043.9 1142.5,1043.7 1143.5,1043.6 1144.5,1043.4 1145.5,1043.2 1146.5,1043.1 1147.5,1042.9 1148.5,1042.7 1149.5,1042.6 1150.5,1042.4 1151.5,1042.2 1152.5,1042.0 1153.5,1041.8 1154.5,1041.6 1155.5,1041.4 1156.5,1041.1 1157.5,1040.9 1158.5,1040.7 1159.5,1040.4 1160.5,1040.2 1161.5,1039.9 1162.5,1039.6 1163.5,1039.3 1164.5,1039.0 1165.5,1038.7 1166.5,1038.4 1167.5,1038.1 1168.5,1037.7 1169.5,1037.4 1170.5,1037.0 1171.5,1036.6 1172.5,1036.2 1173.5,1035.8 1174.5,1035.3 1175.5,1034.9 1176.5,1034.4 1177.5,1033.9 1178.5,1033.4 1179.5,1032.9 1180.5,1032.4 1181.5,1031.8 1182.5,1031.2 1183.5,1030.6 1184.5,1030.0 1185.5,1029.3 1186.5,1028.6 1187.5,1027.9 1188.5,1027.2 1189.5,1026.4 1190.5,1025.6 1191.5,1024.8 1192.5,1023.9 1193.5,1023.1 1194.5,1022.1 1195.5,1021.2 1196.5,1020.2 1197.5,1019.2 1198.5,1018.2 1199.5,1017.1 1200.5,1016.0 1201.5,1014.8 1202.5,1013.7 1203.5,1012.4 1204.5,1011.2 1205.5,1009.9 1206.5,1008.6 1207.5,1007.2 1208.5,1005.8 1209.5,1004.4 1210.5,1002.9 1211.5,1001.4 1212.5,999.9 1213.5,998.3 1214.5,996.7 1215.5,995.1 1216.5,993.4 1217.5,991.7 1218.5,990.0 1219.5,988.2 1220.5,986.4 1221.5,984.6 1222.5,982.7 1223.5,980.9 1224.5,979.0 1225.5,977.1 1226.5,975.1 1227.5,973.2 1228.5,971.2 1229.5,969.3 1230.5,967.3 1231.5,965.3 1232.5,963.3 1233.5,961.3 1234.5,959.3 1235.5,957.3 1236.5,955.3 1237.5,953.3 1238.5,951.4 1239.5,949.4 1240.5,947.5 1241.5,945.6 1242.5,943.7 1243.5,941.8 1244.5,940.0 1245.5,938.2 1246.5,936.5 1247.5,934.7 1248.5,933.1 1249.5,931.4 1250.5,929.9 1251.5,928.3 1252.5,926.9 1253.5,925.4 1254.5,924.1 1255.5,922.8 1256.5,921.6 1257.5,920.4 1258.5,919.4 1259.5,918.3 1260.5,917.4 1261.5,916.6 1262.5,915.8 1263.5,915.1 1264.5,914.5 1265.5,914.0 1266.5,913.5 1267.5,913.2 1268.5,912.9 1269.5,912.7 1270.5,912.6 1271.5,912.6 1272.5,912.7 1273.5,912.8 1274.5,913.0 1275.5,913.3 1276.5,913.7 1277.5,914.1 1278.5,914.6 1279.5,915.1 1280.5,915.8 1281.5,916.5 1282.5,917.2 1283.5,918.0 1284.5,918.9 1285.5,919.9 1286.5,920.9 1287.5,921.9 1288.5,923.1 1289.5,924.2 1290.5,925.4 1291.5,926.7 1292.5,928.0 1293.5,929.4 1294.5,930.8 1295.5,932.2 1296.5,933.6 1297.5,935.1 1298.5,936.7 1299.5,938.2 1300.5,939.8 1301.5,941.4 1302.5,943.1 1303.5,944.7 1304.5,946.4 1305.5,948.0 1306.5,949.7 1307.5,951.4 1308.5,953.1 1309.5,954.8 1310.5,956.5 1311.5,958.2 1312.5,959.9 1313.5,961.6 1314.5,963.3 1315.5,965.0 1316.5,966.7 1317.5,968.3 1318.5,970.0 1319.5,971.6 1320.5,973.2 1321.5,974.8 1322.5,976.4 1323.5,978.0 1324.5,979.5 1325.5,981.0 1326.5,982.5 1327.5,984.0 1328.5,985.5 1329.5,986.9 1330.5,988.3 1331.5,989.6 1332.5,991.0 1333.5,992.3 1334.5,993.6 1335.5,994.9 1336.5,996.1 1337.5,997.3 1338.5,998.5 1339.5,999.7 1340.5,1000.8 1341.5,1001.9 1342.5,1003.0 1343.5,1004.0 1344.5,1005.0 1345.5,1006.0 1346.5,1007.0 1347.5,1007.9 1348.5,1008.9 1349.5,1009.8 1350.5,1010.6 1351.5,1011.5 1352.5,1012.3 1353.5,1013.1 1354.5,1013.9 1355.5,1014.6 1356.5,1015.4 1357.5,1016.1 1358.5,1016.8 1359.5,1017.5 1360.5,1018.1 1361.5,1018.8 1362.5,1019.4 1363.5,1020.0 1364.5,1020.6 1365.5,1021.2 1366.5,1021.7 1367.5,1022.3 1368.5,1022.8 1369.5,1023.3 1370.5,1023.8 1371.5,1024.3 1372.5,1024.8 1373.5,1025.3 1374.5,1025.7 1375.5,1026.2 1376.5,1026.6 1377.5,1027.0 1378.5,1027.4 1379.5,1027.8 1380.5,1028.2 1381.5,1028.6 1382.5,1029.0 1383.5,1029.3 1384.5,1029.7 1385.5,1030.0 1386.5,1030.4 1387.5,1030.7 1388.5,1031.1 1389.5,1031.4 1390.5,1031.7 1391.5,1032.0 1392.5,1032.3 1393.5,1032.6 1394.5,1032.9 1395.5,1033.2 1396.5,1033.4 1397.5,1033.7 1398.5,1034.0 1399.5,1034.2 1400.5,1034.5 1401.5,1034.8 1402.5,1035.0 1403.5,1035.2 1404.5,1035.5 1405.5,1035.7 1406.5,1035.9 1407.5,1036.2 1408.5,1036.4 1409.5,1036.6 1410.5,1036.8 1411.5,1037.0 1412.5,1037.2 1413.5,1037.5 1414.5,1037.7 1415.5,1037.9 1416.5,1038.0 1417.5,1038.2 1418.5,1038.4 1419.5,1038.6 1420.5,1038.8 1421.5,1039.0 1422.5,1039.1 1423.5,1039.3 1424.5,1039.5 1425.5,1039.6 1426.5,1039.8 1427.5,1040.0 1428.5,1040.1 1429.5,1040.3 1430.5,1040.4 1431.5,1040.6 1432.5,1040.7 1433.5,1040.9 1434.5,1041.0 1435.5,1041.2 1436.5,1041.3 1437.5,1041.4 1438.5,1041.6 1439.5,1041.7 1440.5,1041.8 1441.5,1041.9 1442.5,1042.1 1443.5,1042.2 1444.5,1042.3 1445.5,1042.4 1446.5,1042.5 1447.5,1042.7 1448.5,1042.8 1449.5,1042.9 1450.5,1043.0 1451.5,1043.1 1452.5,1043.2 1453.5,1043.3 1454.5,1043.4 1455.5,1043.5 1456.5,1043.6 1457.5,1043.7 1458.5,1043.8 1459.5,1043.9 1460.5,1044.0 1461.5,1044.1 1462.5,1044.1 1463.5,1044.2 1464.5,1044.3 1465.5,1044.4 1466.5,1044.5 1467.5,1044.6 1468.5,1044.6 1469.5,1044.7 1470.5,1044.8 1471.5,1044.9 1472.5,1044.9 1473.5,1045.0 1474.5,1045.1 1475.5,1045.2 1476.5,1045.2 1477.5,1045.3 1478.5,1045.4 1479.5,1045.4 1480.5,1045.5 1481.5,1045.5 1482.5,1045.6 1483.5,1045.7 1484.5,1045.7 1485.5,1045.8 1486.5,1045.8 1487.5,1045.9 1488.5,1046.0 1489.5,1046.0 1490.5,1046.1 1491.5,1046.1 1492.5,1046.2 1493.5,1046.2 1494.5,1046.3 1495.5,1046.3 1496.5,1046.4 1497.5,1046.4 1498.5,1046.5 1499.5,1046.5 1500.5,1046.6 1501.5,1046.6 1502.5,1046.6 1503.5,1046.7 1504.5,1046.7 1505.5,1046.8 1506.5,1046.8 1507.5,1046.8 1508.5,1046.9 1509.5,1046.9 1510.5,1047.0 1511.5,1047.0 1512.5,1047.0 1513.5,1047.1 1514.5,1047.1 1515.5,1047.1 1516.5,1047.2 1517.5,1047.2 1518.5,1047.2 1519.5,1047.3 1520.5,1047.3 1521.5,1047.3 1522.5,1047.4 1523.5,1047.4 1524.5,1047.4 1525.5,1047.5 1526.5,1047.5 1527.5,1047.5 1528.5,1047.5 1529.5,1047.6 1530.5,1047.6 1531.5,1047.6 1532.5,1047.6 1533.5,1047.7 1534.5,1047.7 1535.5,1047.7 1536.5,1047.7 1537.5,1047.8 1538.5,1047.8 1539.5,1047.8 1540.5,1047.8 1541.5,1047.9 1542.5,1047.9 1543.5,1047.9 1544.5,1047.9 1545.5,1047.9 1546.5,1048.0 1547.5,1048.0 1548.5,1048.0 1549.5,1048.0 1550.5,1048.0 1551.5,1048.1 1552.5,1048.1 1553.5,1048.1 1554.5,1048.1 1555.5,1048.1 1556.5,1048.1 1557.5,1048.2 1558.5,1048.2 1559.5,1048.2 1560.5,1048.2 1561.5,1048.2 1562.5,1048.2 1563.5,1048.3 1564.5,1048.3 1565.5,1048.3 1566.5,1048.3 1567.5,1048.3 1568.5,1048.3 1569.5,1048.3 1570.5,1048.4 1571.5,1048.4 1572.5,1048.4 1573.5,1048.4 1574.5,1048.4 1575.5,1048.4 1576.5,1048.4 1577.5,1048.5 1578.5,1048.5 1579.5,1048.5 1580.5,1048.5 1581.5,1048.5 1582.5,1048.5 1583.5,1048.5 1584.5,1048.5" fill="none" stroke="#e8151d" stroke-width="2.1" stroke-linejoin="round"/>
<polyline points="1011.5,1049.2 1012.5,1049.2 1013.5,1049.2 1014.5,1049.2 1015.5,1049.2 1016.5,1049.2 1017.5,1049.2 1018.5,1049.2 1019.5,1049.2 1020.5,1049.2 1021.5,1049.2 1022.5,1049.2 1023.5,1049.2 1024.5,1049.2 1025.5,1049.2 1026.5,1049.2 1027.5,1049.2 1028.5,1049.2 1029.5,1049.2 1030.5,1049.2 1031.5,1049.2 1032.5,1049.2 1033.5,1049.2 1034.5,1049.2 1035.5,1049.2 1036.5,1049.2 1037.5,1049.2 1038.5,1049.2 1039.5,1049.2 1040.5,1049.2 1041.5,1049.2 1042.5,1049.2 1043.5,1049.2 1044.5,1049.2 1045.5,1049.2 1046.5,1049.2 1047.5,1049.2 1048.5,1049.2 1049.5,1049.2 1050.5,1049.2 1051.5,1049.2 1052.5,1049.2 1053.5,1049.2 1054.5,1049.2 1055.5,1049.2 1056.5,1049.2 1057.5,1049.2 1058.5,1049.2 1059.5,1049.2 1060.5,1049.2 1061.5,1049.2 1062.5,1049.2 1063.5,1049.2 1064.5,1049.2 1065.5,1049.2 1066.5,1049.2 1067.5,1049.2 1068.5,1049.2 1069.5,1049.2 1070.5,1049.2 1071.5,1049.1 1072.5,1049.1 1073.5,1049.1 1074.5,1049.1 1075.5,1049.1 1076.5,1049.1 1077.5,1049.1 1078.5,1049.1 1079.5,1049.1 1080.5,1049.1 1081.5,1049.1 1082.5,1049.1 1083.5,1049.1 1084.5,1049.1 1085.5,1049.1 1086.5,1049.1 1087.5,1049.1 1088.5,1049.1 1089.5,1049.1 1090.5,1049.1 1091.5,1049.1 1092.5,1049.1 1093.5,1049.1 1094.5,1049.1 1095.5,1049.1 1096.5,1049.0 1097.5,1049.0 1098.5,1049.0 1099.5,1049.0 1100.5,1049.0 1101.5,1049.0 1102.5,1049.0 1103.5,1049.0 1104.5,1049.0 1105.5,1049.0 1106.5,1049.0 1107.5,1049.0 1108.5,1049.0 1109.5,1049.0 1110.5,1049.0 1111.5,1049.0 1112.5,1048.9 1113.5,1048.9 1114.5,1048.9 1115.5,1048.9 1116.5,1048.9 1117.5,1048.9 1118.5,1048.9 1119.5,1048.9 1120.5,1048.9 1121.5,1048.9 1122.5,1048.9 1123.5,1048.8 1124.5,1048.8 1125.5,1048.8 1126.5,1048.8 1127.5,1048.8 1128.5,1048.8 1129.5,1048.8 1130.5,1048.8 1131.5,1048.8 1132.5,1048.7 1133.5,1048.7 1134.5,1048.7 1135.5,1048.7 1136.5,1048.7 1137.5,1048.7 1138.5,1048.7 1139.5,1048.6 1140.5,1048.6 1141.5,1048.6 1142.5,1048.6 1143.5,1048.6 1144.5,1048.6 1145.5,1048.5 1146.5,1048.5 1147.5,1048.5 1148.5,1048.5 1149.5,1048.5 1150.5,1048.4 1151.5,1048.4 1152.5,1048.4 1153.5,1048.4 1154.5,1048.3 1155.5,1048.3 1156.5,1048.3 1157.5,1048.3 1158.5,1048.2 1159.5,1048.2 1160.5,1048.2 1161.5,1048.2 1162.5,1048.1 1163.5,1048.1 1164.5,1048.1 1165.5,1048.0 1166.5,1048.0 1167.5,1048.0 1168.5,1047.9 1169.5,1047.9 1170.5,1047.9 1171.5,1047.8 1172.5,1047.8 1173.5,1047.8 1174.5,1047.7 1175.5,1047.7 1176.5,1047.6 1177.5,1047.6 1178.5,1047.5 1179.5,1047.5 1180.5,1047.4 1181.5,1047.4 1182.5,1047.3 1183.5,1047.3 1184.5,1047.2 1185.5,1047.2 1186.5,1047.1 1187.5,1047.1 1188.5,1047.0 1189.5,1046.9 1190.5,1046.9 1191.5,1046.8 1192.5,1046.7 1193.5,1046.7 1194.5,1046.6 1195.5,1046.5 1196.5,1046.4 1197.5,1046.4 1198.5,1046.3 1199.5,1046.2 1200.5,1046.1 1201.5,1046.0 1202.5,1045.9 1203.5,1045.8 1204.5,1045.7 1205.5,1045.6 1206.5,1045.5 1207.5,1045.4 1208.5,1045.3 1209.5,1045.2 1210.5,1045.1 1211.5,1044.9 1212.5,1044.8 1213.5,1044.7 1214.5,1044.5 1215.5,1044.4 1216.5,1044.3 1217.5,1044.1 1218.5,1044.0 1219.5,1043.8 1220.5,1043.6 1221.5,1043.5 1222.5,1043.3 1223.5,1043.1 1224.5,1042.9 1225.5,1042.8 1226.5,1042.6 1227.5,1042.4 1228.5,1042.2 1229.5,1041.9 1230.5,1041.7 1231.5,1041.5 1232.5,1041.3 1233.5,1041.0 1234.5,1040.8 1235.5,1040.5 1236.5,1040.3 1237.5,1040.0 1238.5,1039.7 1239.5,1039.4 1240.5,1039.1 1241.5,1038.8 1242.5,1038.5 1243.5,1038.2 1244.5,1037.8 1245.5,1037.5 1246.5,1037.1 1247.5,1036.8 1248.5,1036.4 1249.5,1036.0 1250.5,1035.6 1251.5,1035.2 1252.5,1034.8 1253.5,1034.4 1254.5,1033.9 1255.5,1033.4 1256.5,1033.0 1257.5,1032.5 1258.5,1032.0 1259.5,1031.5 1260.5,1030.9 1261.5,1030.4 1262.5,1029.8 1263.5,1029.3 1264.5,1028.7 1265.5,1028.1 1266.5,1027.4 1267.5,1026.8 1268.5,1026.1 1269.5,1025.5 1270.5,1024.8 1271.5,1024.1 1272.5,1023.4 1273.5,1022.6 1274.5,1021.8 1275.5,1021.1 1276.5,1020.3 1277.5,1019.5 1278.5,1018.6 1279.5,1017.8 1280.5,1016.9 1281.5,1016.0 1282.5,1015.1 1283.5,1014.2 1284.5,1013.2 1285.5,1012.3 1286.5,1011.3 1287.5,1010.3 1288.5,1009.3 1289.5,1008.2 1290.5,1007.2 1291.5,1006.1 1292.5,1005.0 1293.5,1003.9 1294.5,1002.8 1295.5,1001.7 1296.5,1000.5 1297.5,999.4 1298.5,998.2 1299.5,997.1 1300.5,995.9 1301.5,994.7 1302.5,993.5 1303.5,992.3 1304.5,991.1 1305.5,989.9 1306.5,988.7 1307.5,987.5 1308.5,986.2 1309.5,985.0 1310.5,983.8 1311.5,982.6 1312.5,981.5 1313.5,980.3 1314.5,979.1 1315.5,978.0 1316.5,976.8 1317.5,975.7 1318.5,974.6 1319.5,973.6 1320.5,972.5 1321.5,971.5 1322.5,970.5 1323.5,969.5 1324.5,968.6 1325.5,967.7 1326.5,966.8 1327.5,966.0 1328.5,965.2 1329.5,964.5 1330.5,963.8 1331.5,963.1 1332.5,962.5 1333.5,962.0 1334.5,961.4 1335.5,961.0 1336.5,960.6 1337.5,960.2 1338.5,959.9 1339.5,959.6 1340.5,959.4 1341.5,959.3 1342.5,959.2 1343.5,959.1 1344.5,959.2 1345.5,959.2 1346.5,959.3 1347.5,959.5 1348.5,959.7 1349.5,959.9 1350.5,960.2 1351.5,960.6 1352.5,960.9 1353.5,961.4 1354.5,961.8 1355.5,962.3 1356.5,962.9 1357.5,963.5 1358.5,964.1 1359.5,964.8 1360.5,965.5 1361.5,966.2 1362.5,967.0 1363.5,967.8 1364.5,968.6 1365.5,969.5 1366.5,970.4 1367.5,971.3 1368.5,972.2 1369.5,973.2 1370.5,974.2 1371.5,975.2 1372.5,976.2 1373.5,977.2 1374.5,978.3 1375.5,979.4 1376.5,980.4 1377.5,981.5 1378.5,982.6 1379.5,983.7 1380.5,984.8 1381.5,985.9 1382.5,987.0 1383.5,988.2 1384.5,989.3 1385.5,990.4 1386.5,991.5 1387.5,992.6 1388.5,993.7 1389.5,994.8 1390.5,995.9 1391.5,997.0 1392.5,998.0 1393.5,999.1 1394.5,1000.1 1395.5,1001.2 1396.5,1002.2 1397.5,1003.2 1398.5,1004.2 1399.5,1005.2 1400.5,1006.1 1401.5,1007.1 1402.5,1008.0 1403.5,1008.9 1404.5,1009.8 1405.5,1010.7 1406.5,1011.6 1407.5,1012.4 1408.5,1013.3 1409.5,1014.1 1410.5,1014.9 1411.5,1015.6 1412.5,1016.4 1413.5,1017.1 1414.5,1017.9 1415.5,1018.6 1416.5,1019.3 1417.5,1019.9 1418.5,1020.6 1419.5,1021.2 1420.5,1021.9 1421.5,1022.5 1422.5,1023.1 1423.5,1023.6 1424.5,1024.2 1425.5,1024.7 1426.5,1025.3 1427.5,1025.8 1428.5,1026.3 1429.5,1026.8 1430.5,1027.2 1431.5,1027.7 1432.5,1028.1 1433.5,1028.6 1434.5,1029.0 1435.5,1029.4 1436.5,1029.8 1437.5,1030.2 1438.5,1030.6 1439.5,1031.0 1440.5,1031.3 1441.5,1031.7 1442.5,1032.0 1443.5,1032.4 1444.5,1032.7 1445.5,1033.0 1446.5,1033.3 1447.5,1033.6 1448.5,1033.9 1449.5,1034.2 1450.5,1034.5 1451.5,1034.7 1452.5,1035.0 1453.5,1035.3 1454.5,1035.5 1455.5,1035.8 1456.5,1036.0 1457.5,1036.2 1458.5,1036.5 1459.5,1036.7 1460.5,1036.9 1461.5,1037.1 1462.5,1037.3 1463.5,1037.6 1464.5,1037.8 1465.5,1038.0 1466.5,1038.2 1467.5,1038.3 1468.5,1038.5 1469.5,1038.7 1470.5,1038.9 1471.5,1039.1 1472.5,1039.2 1473.5,1039.4 1474.5,1039.6 1475.5,1039.8 1476.5,1039.9 1477.5,1040.1 1478.5,1040.2 1479.5,1040.4 1480.5,1040.5 1481.5,1040.7 1482.5,1040.8 1483.5,1041.0 1484.5,1041.1 1485.5,1041.2 1486.5,1041.4 1487.5,1041.5 1488.5,1041.6 1489.5,1041.8 1490.5,1041.9 1491.5,1042.0 1492.5,1042.1 1493.5,1042.3 1494.5,1042.4 1495.5,1042.5 1496.5,1042.6 1497.5,1042.7 1498.5,1042.8 1499.5,1042.9 1500.5,1043.0 1501.5,1043.2 1502.5,1043.3 1503.5,1043.4 1504.5,1043.5 1505.5,1043.6 1506.5,1043.6 1507.5,1043.7 1508.5,1043.8 1509.5,1043.9 1510.5,1044.0 1511.5,1044.1 1512.5,1044.2 1513.5,1044.3 1514.5,1044.4 1515.5,1044.4 1516.5,1044.5 1517.5,1044.6 1518.5,1044.7 1519.5,1044.8 1520.5,1044.8 1521.5,1044.9 1522.5,1045.0 1523.5,1045.1 1524.5,1045.1 1525.5,1045.2 1526.5,1045.3 1527.5,1045.3 1528.5,1045.4 1529.5,1045.5 1530.5,1045.5 1531.5,1045.6 1532.5,1045.7 1533.5,1045.7 1534.5,1045.8 1535.5,1045.8 1536.5,1045.9 1537.5,1045.9 1538.5,1046.0 1539.5,1046.1 1540.5,1046.1 1541.5,1046.2 1542.5,1046.2 1543.5,1046.3 1544.5,1046.3 1545.5,1046.4 1546.5,1046.4 1547.5,1046.5 1548.5,1046.5 1549.5,1046.6 1550.5,1046.6 1551.5,1046.6 1552.5,1046.7 1553.5,1046.7 1554.5,1046.8 1555.5,1046.8 1556.5,1046.9 1557.5,1046.9 1558.5,1046.9 1559.5,1047.0 1560.5,1047.0 1561.5,1047.0 1562.5,1047.1 1563.5,1047.1 1564.5,1047.2 1565.5,1047.2 1566.5,1047.2 1567.5,1047.3 1568.5,1047.3 1569.5,1047.3 1570.5,1047.4 1571.5,1047.4 1572.5,1047.4 1573.5,1047.4 1574.5,1047.5 1575.5,1047.5 1576.5,1047.5 1577.5,1047.6 1578.5,1047.6 1579.5,1047.6 1580.5,1047.6 1581.5,1047.7 1582.5,1047.7 1583.5,1047.7 1584.5,1047.7" fill="none" stroke="#ee8426" stroke-width="2.1" stroke-linejoin="round"/>
<polyline points="1011.5,1049.3 1012.5,1049.3 1013.5,1049.3 1014.5,1049.3 1015.5,1049.3 1016.5,1049.3 1017.5,1049.3 1018.5,1049.3 1019.5,1049.3 1020.5,1049.3 1021.5,1049.3 1022.5,1049.3 1023.5,1049.3 1024.5,1049.3 1025.5,1049.3 1026.5,1049.3 1027.5,1049.2 1028.5,1049.2 1029.5,1049.2 1030.5,1049.2 1031.5,1049.2 1032.5,1049.2 1033.5,1049.2 1034.5,1049.2 1035.5,1049.2 1036.5,1049.2 1037.5,1049.2 1038.5,1049.2 1039.5,1049.2 1040.5,1049.2 1041.5,1049.2 1042.5,1049.2 1043.5,1049.2 1044.5,1049.2 1045.5,1049.2 1046.5,1049.2 1047.5,1049.2 1048.5,1049.2 1049.5,1049.2 1050.5,1049.2 1051.5,1049.2 1052.5,1049.2 1053.5,1049.2 1054.5,1049.2 1055.5,1049.2 1056.5,1049.2 1057.5,1049.2 1058.5,1049.2 1059.5,1049.2 1060.5,1049.2 1061.5,1049.2 1062.5,1049.2 1063.5,1049.2 1064.5,1049.2 1065.5,1049.2 1066.5,1049.2 1067.5,1049.2 1068.5,1049.2 1069.5,1049.2 1070.5,1049.2 1071.5,1049.2 1072.5,1049.2 1073.5,1049.1 1074.5,1049.1 1075.5,1049.1 1076.5,1049.1 1077.5,1049.1 1078.5,1049.1 1079.5,1049.1 1080.5,1049.1 1081.5,1049.1 1082.5,1049.1 1083.5,1049.1 1084.5,1049.1 1085.5,1049.1 1086.5,1049.1 1087.5,1049.1 1088.5,1049.1 1089.5,1049.1 1090.5,1049.1 1091.5,1049.1 1092.5,1049.1 1093.5,1049.1 1094.5,1049.0 1095.5,1049.0 1096.5,1049.0 1097.5,1049.0 1098.5,1049.0 1099.5,1049.0 1100.5,1049.0 1101.5,1049.0 1102.5,1049.0 1103.5,1049.0 1104.5,1049.0 1105.5,1049.0 1106.5,1049.0 1107.5,1049.0 1108.5,1048.9 1109.5,1048.9 1110.5,1048.9 1111.5,1048.9 1112.5,1048.9 1113.5,1048.9 1114.5,1048.9 1115.5,1048.9 1116.5,1048.9 1117.5,1048.9 1118.5,1048.8 1119.5,1048.8 1120.5,1048.8 1121.5,1048.8 1122.5,1048.8 1123.5,1048.8 1124.5,1048.8 1125.5,1048.8 1126.5,1048.8 1127.5,1048.7 1128.5,1048.7 1129.5,1048.7 1130.5,1048.7 1131.5,1048.7 1132.5,1048.7 1133.5,1048.7 1134.5,1048.6 1135.5,1048.6 1136.5,1048.6 1137.5,1048.6 1138.5,1048.6 1139.5,1048.6 1140.5,1048.5 1141.5,1048.5 1142.5,1048.5 1143.5,1048.5 1144.5,1048.5 1145.5,1048.4 1146.5,1048.4 1147.5,1048.4 1148.5,1048.4 1149.5,1048.4 1150.5,1048.3 1151.5,1048.3 1152.5,1048.3 1153.5,1048.3 1154.5,1048.2 1155.5,1048.2 1156.5,1048.2 1157.5,1048.2 1158.5,1048.1 1159.5,1048.1 1160.5,1048.1 1161.5,1048.0 1162.5,1048.0 1163.5,1048.0 1164.5,1047.9 1165.5,1047.9 1166.5,1047.9 1167.5,1047.8 1168.5,1047.8 1169.5,1047.8 1170.5,1047.7 1171.5,1047.7 1172.5,1047.7 1173.5,1047.6 1174.5,1047.6 1175.5,1047.6 1176.5,1047.5 1177.5,1047.5 1178.5,1047.4 1179.5,1047.4 1180.5,1047.3 1181.5,1047.3 1182.5,1047.2 1183.5,1047.2 1184.5,1047.1 1185.5,1047.1 1186.5,1047.0 1187.5,1047.0 1188.5,1046.9 1189.5,1046.9 1190.5,1046.8 1191.5,1046.8 1192.5,1046.7 1193.5,1046.6 1194.5,1046.6 1195.5,1046.5 1196.5,1046.5 1197.5,1046.4 1198.5,1046.3 1199.5,1046.3 1200.5,1046.2 1201.5,1046.1 1202.5,1046.0 1203.5,1046.0 1204.5,1045.9 1205.5,1045.8 1206.5,1045.7 1207.5,1045.6 1208.5,1045.5 1209.5,1045.4 1210.5,1045.4 1211.5,1045.3 1212.5,1045.2 1213.5,1045.1 1214.5,1045.0 1215.5,1044.8 1216.5,1044.7 1217.5,1044.6 1218.5,1044.5 1219.5,1044.4 1220.5,1044.3 1221.5,1044.1 1222.5,1044.0 1223.5,1043.9 1224.5,1043.7 1225.5,1043.6 1226.5,1043.4 1227.5,1043.3 1228.5,1043.1 1229.5,1043.0 1230.5,1042.8 1231.5,1042.6 1232.5,1042.4 1233.5,1042.2 1234.5,1042.1 1235.5,1041.9 1236.5,1041.6 1237.5,1041.4 1238.5,1041.2 1239.5,1041.0 1240.5,1040.7 1241.5,1040.5 1242.5,1040.2 1243.5,1040.0 1244.5,1039.7 1245.5,1039.4 1246.5,1039.1 1247.5,1038.8 1248.5,1038.5 1249.5,1038.2 1250.5,1037.9 1251.5,1037.5 1252.5,1037.2 1253.5,1036.8 1254.5,1036.4 1255.5,1036.0 1256.5,1035.6 1257.5,1035.2 1258.5,1034.8 1259.5,1034.3 1260.5,1033.8 1261.5,1033.4 1262.5,1032.9 1263.5,1032.4 1264.5,1031.8 1265.5,1031.3 1266.5,1030.7 1267.5,1030.2 1268.5,1029.6 1269.5,1029.0 1270.5,1028.3 1271.5,1027.7 1272.5,1027.0 1273.5,1026.4 1274.5,1025.7 1275.5,1025.0 1276.5,1024.2 1277.5,1023.5 1278.5,1022.7 1279.5,1021.9 1280.5,1021.1 1281.5,1020.3 1282.5,1019.5 1283.5,1018.6 1284.5,1017.7 1285.5,1016.9 1286.5,1015.9 1287.5,1015.0 1288.5,1014.1 1289.5,1013.1 1290.5,1012.2 1291.5,1011.2 1292.5,1010.2 1293.5,1009.2 1294.5,1008.1 1295.5,1007.1 1296.5,1006.1 1297.5,1005.0 1298.5,1003.9 1299.5,1002.9 1300.5,1001.8 1301.5,1000.7 1302.5,999.6 1303.5,998.5 1304.5,997.4 1305.5,996.3 1306.5,995.1 1307.5,994.0 1308.5,992.9 1309.5,991.8 1310.5,990.7 1311.5,989.6 1312.5,988.5 1313.5,987.4 1314.5,986.3 1315.5,985.3 1316.5,984.2 1317.5,983.2 1318.5,982.1 1319.5,981.1 1320.5,980.1 1321.5,979.1 1322.5,978.2 1323.5,977.2 1324.5,976.3 1325.5,975.4 1326.5,974.5 1327.5,973.7 1328.5,972.9 1329.5,972.1 1330.5,971.3 1331.5,970.6 1332.5,969.9 1333.5,969.2 1334.5,968.6 1335.5,968.0 1336.5,967.5 1337.5,967.0 1338.5,966.5 1339.5,966.1 1340.5,965.7 1341.5,965.3 1342.5,965.0 1343.5,964.7 1344.5,964.5 1345.5,964.3 1346.5,964.2 1347.5,964.1 1348.5,964.0 1349.5,964.0 1350.5,964.0 1351.5,964.1 1352.5,964.2 1353.5,964.3 1354.5,964.5 1355.5,964.7 1356.5,965.0 1357.5,965.2 1358.5,965.6 1359.5,965.9 1360.5,966.3 1361.5,966.7 1362.5,967.2 1363.5,967.6 1364.5,968.2 1365.5,968.7 1366.5,969.3 1367.5,969.9 1368.5,970.5 1369.5,971.2 1370.5,971.8 1371.5,972.5 1372.5,973.3 1373.5,974.0 1374.5,974.8 1375.5,975.6 1376.5,976.4 1377.5,977.2 1378.5,978.1 1379.5,978.9 1380.5,979.8 1381.5,980.7 1382.5,981.6 1383.5,982.5 1384.5,983.5 1385.5,984.4 1386.5,985.3 1387.5,986.3 1388.5,987.2 1389.5,988.2 1390.5,989.1 1391.5,990.1 1392.5,991.1 1393.5,992.0 1394.5,993.0 1395.5,993.9 1396.5,994.9 1397.5,995.8 1398.5,996.8 1399.5,997.7 1400.5,998.7 1401.5,999.6 1402.5,1000.5 1403.5,1001.4 1404.5,1002.3 1405.5,1003.2 1406.5,1004.1 1407.5,1005.0 1408.5,1005.9 1409.5,1006.7 1410.5,1007.6 1411.5,1008.4 1412.5,1009.2 1413.5,1010.0 1414.5,1010.8 1415.5,1011.6 1416.5,1012.4 1417.5,1013.1 1418.5,1013.9 1419.5,1014.6 1420.5,1015.3 1421.5,1016.0 1422.5,1016.7 1423.5,1017.4 1424.5,1018.0 1425.5,1018.7 1426.5,1019.3 1427.5,1019.9 1428.5,1020.5 1429.5,1021.1 1430.5,1021.7 1431.5,1022.2 1432.5,1022.8 1433.5,1023.3 1434.5,1023.9 1435.5,1024.4 1436.5,1024.9 1437.5,1025.3 1438.5,1025.8 1439.5,1026.3 1440.5,1026.7 1441.5,1027.2 1442.5,1027.6 1443.5,1028.0 1444.5,1028.4 1445.5,1028.8 1446.5,1029.2 1447.5,1029.6 1448.5,1030.0 1449.5,1030.3 1450.5,1030.7 1451.5,1031.0 1452.5,1031.4 1453.5,1031.7 1454.5,1032.0 1455.5,1032.3 1456.5,1032.6 1457.5,1032.9 1458.5,1033.2 1459.5,1033.5 1460.5,1033.8 1461.5,1034.0 1462.5,1034.3 1463.5,1034.5 1464.5,1034.8 1465.5,1035.0 1466.5,1035.3 1467.5,1035.5 1468.5,1035.7 1469.5,1036.0 1470.5,1036.2 1471.5,1036.4 1472.5,1036.6 1473.5,1036.8 1474.5,1037.0 1475.5,1037.2 1476.5,1037.4 1477.5,1037.6 1478.5,1037.8 1479.5,1038.0 1480.5,1038.2 1481.5,1038.3 1482.5,1038.5 1483.5,1038.7 1484.5,1038.8 1485.5,1039.0 1486.5,1039.2 1487.5,1039.3 1488.5,1039.5 1489.5,1039.6 1490.5,1039.8 1491.5,1039.9 1492.5,1040.1 1493.5,1040.2 1494.5,1040.4 1495.5,1040.5 1496.5,1040.6 1497.5,1040.8 1498.5,1040.9 1499.5,1041.0 1500.5,1041.2 1501.5,1041.3 1502.5,1041.4 1503.5,1041.5 1504.5,1041.6 1505.5,1041.8 1506.5,1041.9 1507.5,1042.0 1508.5,1042.1 1509.5,1042.2 1510.5,1042.3 1511.5,1042.4 1512.5,1042.5 1513.5,1042.6 1514.5,1042.7 1515.5,1042.8 1516.5,1042.9 1517.5,1043.0 1518.5,1043.1 1519.5,1043.2 1520.5,1043.3 1521.5,1043.4 1522.5,1043.5 1523.5,1043.6 1524.5,1043.7 1525.5,1043.8 1526.5,1043.8 1527.5,1043.9 1528.5,1044.0 1529.5,1044.1 1530.5,1044.2 1531.5,1044.2 1532.5,1044.3 1533.5,1044.4 1534.5,1044.5 1535.5,1044.5 1536.5,1044.6 1537.5,1044.7 1538.5,1044.8 1539.5,1044.8 1540.5,1044.9 1541.5,1045.0 1542.5,1045.0 1543.5,1045.1 1544.5,1045.2 1545.5,1045.2 1546.5,1045.3 1547.5,1045.3 1548.5,1045.4 1549.5,1045.5 1550.5,1045.5 1551.5,1045.6 1552.5,1045.6 1553.5,1045.7 1554.5,1045.7 1555.5,1045.8 1556.5,1045.9 1557.5,1045.9 1558.5,1046.0 1559.5,1046.0 1560.5,1046.1 1561.5,1046.1 1562.5,1046.2 1563.5,1046.2 1564.5,1046.3 1565.5,1046.3 1566.5,1046.3 1567.5,1046.4 1568.5,1046.4 1569.5,1046.5 1570.5,1046.5 1571.5,1046.6 1572.5,1046.6 1573.5,1046.6 1574.5,1046.7 1575.5,1046.7 1576.5,1046.8 1577.5,1046.8 1578.5,1046.8 1579.5,1046.9 1580.5,1046.9 1581.5,1046.9 1582.5,1047.0 1583.5,1047.0 1584.5,1047.0" fill="none" stroke="#e8e43c" stroke-width="2.1" stroke-linejoin="round"/>
<polyline points="1011.5,1049.3 1012.5,1049.3 1013.5,1049.3 1014.5,1049.3 1015.5,1049.3 1016.5,1049.3 1017.5,1049.3 1018.5,1049.3 1019.5,1049.3 1020.5,1049.3 1021.5,1049.3 1022.5,1049.3 1023.5,1049.3 1024.5,1049.3 1025.5,1049.3 1026.5,1049.3 1027.5,1049.2 1028.5,1049.2 1029.5,1049.2 1030.5,1049.2 1031.5,1049.2 1032.5,1049.2 1033.5,1049.2 1034.5,1049.2 1035.5,1049.2 1036.5,1049.2 1037.5,1049.2 1038.5,1049.2 1039.5,1049.2 1040.5,1049.2 1041.5,1049.2 1042.5,1049.2 1043.5,1049.2 1044.5,1049.2 1045.5,1049.2 1046.5,1049.2 1047.5,1049.2 1048.5,1049.2 1049.5,1049.2 1050.5,1049.2 1051.5,1049.2 1052.5,1049.2 1053.5,1049.2 1054.5,1049.2 1055.5,1049.2 1056.5,1049.2 1057.5,1049.2 1058.5,1049.2 1059.5,1049.2 1060.5,1049.2 1061.5,1049.2 1062.5,1049.2 1063.5,1049.2 1064.5,1049.2 1065.5,1049.2 1066.5,1049.2 1067.5,1049.2 1068.5,1049.2 1069.5,1049.2 1070.5,1049.2 1071.5,1049.2 1072.5,1049.2 1073.5,1049.1 1074.5,1049.1 1075.5,1049.1 1076.5,1049.1 1077.5,1049.1 1078.5,1049.1 1079.5,1049.1 1080.5,1049.1 1081.5,1049.1 1082.5,1049.1 1083.5,1049.1 1084.5,1049.1 1085.5,1049.1 1086.5,1049.1 1087.5,1049.1 1088.5,1049.1 1089.5,1049.1 1090.5,1049.1 1091.5,1049.1 1092.5,1049.1 1093.5,1049.1 1094.5,1049.0 1095.5,1049.0 1096.5,1049.0 1097.5,1049.0 1098.5,1049.0 1099.5,1049.0 1100.5,1049.0 1101.5,1049.0 1102.5,1049.0 1103.5,1049.0 1104.5,1049.0 1105.5,1049.0 1106.5,1049.0 1107.5,1049.0 1108.5,1048.9 1109.5,1048.9 1110.5,1048.9 1111.5,1048.9 1112.5,1048.9 1113.5,1048.9 1114.5,1048.9 1115.5,1048.9 1116.5,1048.9 1117.5,1048.9 1118.5,1048.8 1119.5,1048.8 1120.5,1048.8 1121.5,1048.8 1122.5,1048.8 1123.5,1048.8 1124.5,1048.8 1125.5,1048.8 1126.5,1048.7 1127.5,1048.7 1128.5,1048.7 1129.5,1048.7 1130.5,1048.7 1131.5,1048.7 1132.5,1048.7 1133.5,1048.6 1134.5,1048.6 1135.5,1048.6 1136.5,1048.6 1137.5,1048.6 1138.5,1048.6 1139.5,1048.5 1140.5,1048.5 1141.5,1048.5 1142.5,1048.5 1143.5,1048.5 1144.5,1048.4 1145.5,1048.4 1146.5,1048.4 1147.5,1048.4 1148.5,1048.4 1149.5,1048.3 1150.5,1048.3 1151.5,1048.3 1152.5,1048.3 1153.5,1048.2 1154.5,1048.2 1155.5,1048.2 1156.5,1048.2 1157.5,1048.1 1158.5,1048.1 1159.5,1048.1 1160.5,1048.1 1161.5,1048.0 1162.5,1048.0 1163.5,1048.0 1164.5,1047.9 1165.5,1047.9 1166.5,1047.9 1167.5,1047.8 1168.5,1047.8 1169.5,1047.8 1170.5,1047.7 1171.5,1047.7 1172.5,1047.7 1173.5,1047.6 1174.5,1047.6 1175.5,1047.5 1176.5,1047.5 1177.5,1047.4 1178.5,1047.4 1179.5,1047.4 1180.5,1047.3 1181.5,1047.3 1182.5,1047.2 1183.5,1047.2 1184.5,1047.1 1185.5,1047.1 1186.5,1047.0 1187.5,1047.0 1188.5,1046.9 1189.5,1046.9 1190.5,1046.8 1191.5,1046.7 1192.5,1046.7 1193.5,1046.6 1194.5,1046.6 1195.5,1046.5 1196.5,1046.4 1197.5,1046.4 1198.5,1046.3 1199.5,1046.2 1200.5,1046.2 1201.5,1046.1 1202.5,1046.0 1203.5,1045.9 1204.5,1045.8 1205.5,1045.8 1206.5,1045.7 1207.5,1045.6 1208.5,1045.5 1209.5,1045.4 1210.5,1045.3 1211.5,1045.2 1212.5,1045.1 1213.5,1045.0 1214.5,1044.9 1215.5,1044.8 1216.5,1044.7 1217.5,1044.6 1218.5,1044.5 1219.5,1044.3 1220.5,1044.2 1221.5,1044.1 1222.5,1043.9 1223.5,1043.8 1224.5,1043.7 1225.5,1043.5 1226.5,1043.4 1227.5,1043.2 1228.5,1043.0 1229.5,1042.9 1230.5,1042.7 1231.5,1042.5 1232.5,1042.3 1233.5,1042.2 1234.5,1042.0 1235.5,1041.8 1236.5,1041.5 1237.5,1041.3 1238.5,1041.1 1239.5,1040.9 1240.5,1040.6 1241.5,1040.4 1242.5,1040.1 1243.5,1039.8 1244.5,1039.6 1245.5,1039.3 1246.5,1039.0 1247.5,1038.7 1248.5,1038.4 1249.5,1038.0 1250.5,1037.7 1251.5,1037.3 1252.5,1037.0 1253.5,1036.6 1254.5,1036.2 1255.5,1035.8 1256.5,1035.4 1257.5,1035.0 1258.5,1034.5 1259.5,1034.1 1260.5,1033.6 1261.5,1033.1 1262.5,1032.6 1263.5,1032.1 1264.5,1031.5 1265.5,1031.0 1266.5,1030.4 1267.5,1029.8 1268.5,1029.2 1269.5,1028.6 1270.5,1028.0 1271.5,1027.3 1272.5,1026.7 1273.5,1026.0 1274.5,1025.3 1275.5,1024.6 1276.5,1023.8 1277.5,1023.1 1278.5,1022.3 1279.5,1021.5 1280.5,1020.7 1281.5,1019.9 1282.5,1019.0 1283.5,1018.2 1284.5,1017.3 1285.5,1016.4 1286.5,1015.5 1287.5,1014.6 1288.5,1013.6 1289.5,1012.7 1290.5,1011.7 1291.5,1010.7 1292.5,1009.7 1293.5,1008.7 1294.5,1007.7 1295.5,1006.7 1296.5,1005.6 1297.5,1004.6 1298.5,1003.5 1299.5,1002.4 1300.5,1001.3 1301.5,1000.3 1302.5,999.2 1303.5,998.1 1304.5,997.0 1305.5,995.9 1306.5,994.8 1307.5,993.7 1308.5,992.6 1309.5,991.5 1310.5,990.4 1311.5,989.3 1312.5,988.3 1313.5,987.2 1314.5,986.1 1315.5,985.1 1316.5,984.1 1317.5,983.0 1318.5,982.0 1319.5,981.0 1320.5,980.1 1321.5,979.1 1322.5,978.2 1323.5,977.3 1324.5,976.4 1325.5,975.5 1326.5,974.7 1327.5,973.9 1328.5,973.1 1329.5,972.4 1330.5,971.7 1331.5,971.0 1332.5,970.3 1333.5,969.7 1334.5,969.1 1335.5,968.6 1336.5,968.1 1337.5,967.6 1338.5,967.2 1339.5,966.8 1340.5,966.5 1341.5,966.1 1342.5,965.9 1343.5,965.7 1344.5,965.5 1345.5,965.3 1346.5,965.2 1347.5,965.2 1348.5,965.2 1349.5,965.2 1350.5,965.3 1351.5,965.4 1352.5,965.5 1353.5,965.7 1354.5,965.9 1355.5,966.2 1356.5,966.5 1357.5,966.8 1358.5,967.2 1359.5,967.6 1360.5,968.1 1361.5,968.5 1362.5,969.0 1363.5,969.6 1364.5,970.2 1365.5,970.8 1366.5,971.4 1367.5,972.1 1368.5,972.8 1369.5,973.5 1370.5,974.2 1371.5,975.0 1372.5,975.8 1373.5,976.6 1374.5,977.4 1375.5,978.3 1376.5,979.2 1377.5,980.0 1378.5,981.0 1379.5,981.9 1380.5,982.8 1381.5,983.7 1382.5,984.7 1383.5,985.6 1384.5,986.6 1385.5,987.6 1386.5,988.6 1387.5,989.5 1388.5,990.5 1389.5,991.5 1390.5,992.5 1391.5,993.5 1392.5,994.5 1393.5,995.5 1394.5,996.4 1395.5,997.4 1396.5,998.4 1397.5,999.3 1398.5,1000.3 1399.5,1001.2 1400.5,1002.2 1401.5,1003.1 1402.5,1004.0 1403.5,1004.9 1404.5,1005.8 1405.5,1006.7 1406.5,1007.6 1407.5,1008.5 1408.5,1009.3 1409.5,1010.1 1410.5,1011.0 1411.5,1011.8 1412.5,1012.6 1413.5,1013.3 1414.5,1014.1 1415.5,1014.9 1416.5,1015.6 1417.5,1016.3 1418.5,1017.0 1419.5,1017.7 1420.5,1018.4 1421.5,1019.0 1422.5,1019.7 1423.5,1020.3 1424.5,1020.9 1425.5,1021.5 1426.5,1022.1 1427.5,1022.7 1428.5,1023.3 1429.5,1023.8 1430.5,1024.3 1431.5,1024.9 1432.5,1025.4 1433.5,1025.9 1434.5,1026.4 1435.5,1026.8 1436.5,1027.3 1437.5,1027.7 1438.5,1028.2 1439.5,1028.6 1440.5,1029.0 1441.5,1029.4 1442.5,1029.8 1443.5,1030.2 1444.5,1030.5 1445.5,1030.9 1446.5,1031.2 1447.5,1031.6 1448.5,1031.9 1449.5,1032.3 1450.5,1032.6 1451.5,1032.9 1452.5,1033.2 1453.5,1033.5 1454.5,1033.8 1455.5,1034.0 1456.5,1034.3 1457.5,1034.6 1458.5,1034.8 1459.5,1035.1 1460.5,1035.4 1461.5,1035.6 1462.5,1035.8 1463.5,1036.1 1464.5,1036.3 1465.5,1036.5 1466.5,1036.7 1467.5,1036.9 1468.5,1037.2 1469.5,1037.4 1470.5,1037.6 1471.5,1037.8 1472.5,1037.9 1473.5,1038.1 1474.5,1038.3 1475.5,1038.5 1476.5,1038.7 1477.5,1038.8 1478.5,1039.0 1479.5,1039.2 1480.5,1039.3 1481.5,1039.5 1482.5,1039.7 1483.5,1039.8 1484.5,1040.0 1485.5,1040.1 1486.5,1040.3 1487.5,1040.4 1488.5,1040.6 1489.5,1040.7 1490.5,1040.8 1491.5,1041.0 1492.5,1041.1 1493.5,1041.2 1494.5,1041.4 1495.5,1041.5 1496.5,1041.6 1497.5,1041.7 1498.5,1041.9 1499.5,1042.0 1500.5,1042.1 1501.5,1042.2 1502.5,1042.3 1503.5,1042.4 1504.5,1042.5 1505.5,1042.6 1506.5,1042.8 1507.5,1042.9 1508.5,1043.0 1509.5,1043.1 1510.5,1043.2 1511.5,1043.3 1512.5,1043.4 1513.5,1043.4 1514.5,1043.5 1515.5,1043.6 1516.5,1043.7 1517.5,1043.8 1518.5,1043.9 1519.5,1044.0 1520.5,1044.1 1521.5,1044.2 1522.5,1044.2 1523.5,1044.3 1524.5,1044.4 1525.5,1044.5 1526.5,1044.5 1527.5,1044.6 1528.5,1044.7 1529.5,1044.8 1530.5,1044.8 1531.5,1044.9 1532.5,1045.0 1533.5,1045.1 1534.5,1045.1 1535.5,1045.2 1536.5,1045.3 1537.5,1045.3 1538.5,1045.4 1539.5,1045.4 1540.5,1045.5 1541.5,1045.6 1542.5,1045.6 1543.5,1045.7 1544.5,1045.7 1545.5,1045.8 1546.5,1045.8 1547.5,1045.9 1548.5,1046.0 1549.5,1046.0 1550.5,1046.1 1551.5,1046.1 1552.5,1046.2 1553.5,1046.2 1554.5,1046.3 1555.5,1046.3 1556.5,1046.4 1557.5,1046.4 1558.5,1046.4 1559.5,1046.5 1560.5,1046.5 1561.5,1046.6 1562.5,1046.6 1563.5,1046.7 1564.5,1046.7 1565.5,1046.7 1566.5,1046.8 1567.5,1046.8 1568.5,1046.9 1569.5,1046.9 1570.5,1046.9 1571.5,1047.0 1572.5,1047.0 1573.5,1047.0 1574.5,1047.1 1575.5,1047.1 1576.5,1047.1 1577.5,1047.2 1578.5,1047.2 1579.5,1047.2 1580.5,1047.3 1581.5,1047.3 1582.5,1047.3 1583.5,1047.4 1584.5,1047.4" fill="none" stroke="#69b42f" stroke-width="2.1" stroke-linejoin="round"/>
<polyline points="1011.5,1049.3 1012.5,1049.3 1013.5,1049.3 1014.5,1049.3 1015.5,1049.3 1016.5,1049.2 1017.5,1049.2 1018.5,1049.2 1019.5,1049.2 1020.5,1049.2 1021.5,1049.2 1022.5,1049.2 1023.5,1049.2 1024.5,1049.2 1025.5,1049.2 1026.5,1049.2 1027.5,1049.2 1028.5,1049.2 1029.5,1049.2 1030.5,1049.2 1031.5,1049.2 1032.5,1049.2 1033.5,1049.2 1034.5,1049.2 1035.5,1049.2 1036.5,1049.2 1037.5,1049.2 1038.5,1049.2 1039.5,1049.2 1040.5,1049.2 1041.5,1049.2 1042.5,1049.2 1043.5,1049.2 1044.5,1049.2 1045.5,1049.2 1046.5,1049.2 1047.5,1049.2 1048.5,1049.2 1049.5,1049.2 1050.5,1049.2 1051.5,1049.2 1052.5,1049.2 1053.5,1049.2 1054.5,1049.2 1055.5,1049.2 1056.5,1049.2 1057.5,1049.2 1058.5,1049.2 1059.5,1049.2 1060.5,1049.2 1061.5,1049.2 1062.5,1049.2 1063.5,1049.2 1064.5,1049.2 1065.5,1049.2 1066.5,1049.1 1067.5,1049.1 1068.5,1049.1 1069.5,1049.1 1070.5,1049.1 1071.5,1049.1 1072.5,1049.1 1073.5,1049.1 1074.5,1049.1 1075.5,1049.1 1076.5,1049.1 1077.5,1049.1 1078.5,1049.1 1079.5,1049.1 1080.5,1049.1 1081.5,1049.1 1082.5,1049.1 1083.5,1049.1 1084.5,1049.1 1085.5,1049.1 1086.5,1049.1 1087.5,1049.1 1088.5,1049.1 1089.5,1049.1 1090.5,1049.0 1091.5,1049.0 1092.5,1049.0 1093.5,1049.0 1094.5,1049.0 1095.5,1049.0 1096.5,1049.0 1097.5,1049.0 1098.5,1049.0 1099.5,1049.0 1100.5,1049.0 1101.5,1049.0 1102.5,1049.0 1103.5,1049.0 1104.5,1049.0 1105.5,1048.9 1106.5,1048.9 1107.5,1048.9 1108.5,1048.9 1109.5,1048.9 1110.5,1048.9 1111.5,1048.9 1112.5,1048.9 1113.5,1048.9 1114.5,1048.9 1115.5,1048.9 1116.5,1048.8 1117.5,1048.8 1118.5,1048.8 1119.5,1048.8 1120.5,1048.8 1121.5,1048.8 1122.5,1048.8 1123.5,1048.8 1124.5,1048.8 1125.5,1048.8 1126.5,1048.7 1127.5,1048.7 1128.5,1048.7 1129.5,1048.7 1130.5,1048.7 1131.5,1048.7 1132.5,1048.7 1133.5,1048.6 1134.5,1048.6 1135.5,1048.6 1136.5,1048.6 1137.5,1048.6 1138.5,1048.6 1139.5,1048.6 1140.5,1048.5 1141.5,1048.5 1142.5,1048.5 1143.5,1048.5 1144.5,1048.5 1145.5,1048.5 1146.5,1048.4 1147.5,1048.4 1148.5,1048.4 1149.5,1048.4 1150.5,1048.4 1151.5,1048.3 1152.5,1048.3 1153.5,1048.3 1154.5,1048.3 1155.5,1048.3 1156.5,1048.2 1157.5,1048.2 1158.5,1048.2 1159.5,1048.2 1160.5,1048.1 1161.5,1048.1 1162.5,1048.1 1163.5,1048.1 1164.5,1048.0 1165.5,1048.0 1166.5,1048.0 1167.5,1048.0 1168.5,1047.9 1169.5,1047.9 1170.5,1047.9 1171.5,1047.8 1172.5,1047.8 1173.5,1047.8 1174.5,1047.8 1175.5,1047.7 1176.5,1047.7 1177.5,1047.7 1178.5,1047.6 1179.5,1047.6 1180.5,1047.5 1181.5,1047.5 1182.5,1047.5 1183.5,1047.4 1184.5,1047.4 1185.5,1047.4 1186.5,1047.3 1187.5,1047.3 1188.5,1047.2 1189.5,1047.2 1190.5,1047.1 1191.5,1047.1 1192.5,1047.0 1193.5,1047.0 1194.5,1046.9 1195.5,1046.9 1196.5,1046.8 1197.5,1046.8 1198.5,1046.7 1199.5,1046.7 1200.5,1046.6 1201.5,1046.6 1202.5,1046.5 1203.5,1046.4 1204.5,1046.4 1205.5,1046.3 1206.5,1046.3 1207.5,1046.2 1208.5,1046.1 1209.5,1046.0 1210.5,1046.0 1211.5,1045.9 1212.5,1045.8 1213.5,1045.7 1214.5,1045.6 1215.5,1045.6 1216.5,1045.5 1217.5,1045.4 1218.5,1045.3 1219.5,1045.2 1220.5,1045.1 1221.5,1045.0 1222.5,1044.9 1223.5,1044.8 1224.5,1044.7 1225.5,1044.6 1226.5,1044.4 1227.5,1044.3 1228.5,1044.2 1229.5,1044.1 1230.5,1043.9 1231.5,1043.8 1232.5,1043.6 1233.5,1043.5 1234.5,1043.3 1235.5,1043.2 1236.5,1043.0 1237.5,1042.9 1238.5,1042.7 1239.5,1042.5 1240.5,1042.3 1241.5,1042.1 1242.5,1041.9 1243.5,1041.7 1244.5,1041.5 1245.5,1041.3 1246.5,1041.1 1247.5,1040.9 1248.5,1040.6 1249.5,1040.4 1250.5,1040.2 1251.5,1039.9 1252.5,1039.6 1253.5,1039.4 1254.5,1039.1 1255.5,1038.8 1256.5,1038.5 1257.5,1038.2 1258.5,1037.9 1259.5,1037.6 1260.5,1037.3 1261.5,1036.9 1262.5,1036.6 1263.5,1036.2 1264.5,1035.9 1265.5,1035.5 1266.5,1035.1 1267.5,1034.7 1268.5,1034.3 1269.5,1033.9 1270.5,1033.5 1271.5,1033.1 1272.5,1032.6 1273.5,1032.2 1274.5,1031.7 1275.5,1031.3 1276.5,1030.8 1277.5,1030.3 1278.5,1029.8 1279.5,1029.3 1280.5,1028.8 1281.5,1028.3 1282.5,1027.7 1283.5,1027.2 1284.5,1026.7 1285.5,1026.1 1286.5,1025.5 1287.5,1025.0 1288.5,1024.4 1289.5,1023.8 1290.5,1023.2 1291.5,1022.6 1292.5,1022.0 1293.5,1021.4 1294.5,1020.8 1295.5,1020.1 1296.5,1019.5 1297.5,1018.9 1298.5,1018.2 1299.5,1017.6 1300.5,1016.9 1301.5,1016.3 1302.5,1015.6 1303.5,1015.0 1304.5,1014.3 1305.5,1013.7 1306.5,1013.0 1307.5,1012.4 1308.5,1011.7 1309.5,1011.1 1310.5,1010.4 1311.5,1009.8 1312.5,1009.1 1313.5,1008.5 1314.5,1007.9 1315.5,1007.2 1316.5,1006.6 1317.5,1006.0 1318.5,1005.4 1319.5,1004.8 1320.5,1004.2 1321.5,1003.6 1322.5,1003.1 1323.5,1002.5 1324.5,1002.0 1325.5,1001.4 1326.5,1000.9 1327.5,1000.4 1328.5,999.9 1329.5,999.5 1330.5,999.0 1331.5,998.6 1332.5,998.1 1333.5,997.7 1334.5,997.3 1335.5,997.0 1336.5,996.6 1337.5,996.3 1338.5,995.9 1339.5,995.7 1340.5,995.4 1341.5,995.1 1342.5,994.9 1343.5,994.7 1344.5,994.5 1345.5,994.3 1346.5,994.2 1347.5,994.1 1348.5,994.0 1349.5,993.9 1350.5,993.8 1351.5,993.8 1352.5,993.8 1353.5,993.8 1354.5,993.9 1355.5,994.0 1356.5,994.1 1357.5,994.2 1358.5,994.4 1359.5,994.6 1360.5,994.8 1361.5,995.0 1362.5,995.3 1363.5,995.6 1364.5,995.9 1365.5,996.3 1366.5,996.7 1367.5,997.1 1368.5,997.5 1369.5,997.9 1370.5,998.4 1371.5,998.9 1372.5,999.4 1373.5,999.9 1374.5,1000.4 1375.5,1001.0 1376.5,1001.6 1377.5,1002.2 1378.5,1002.8 1379.5,1003.4 1380.5,1004.0 1381.5,1004.6 1382.5,1005.3 1383.5,1005.9 1384.5,1006.6 1385.5,1007.3 1386.5,1007.9 1387.5,1008.6 1388.5,1009.3 1389.5,1010.0 1390.5,1010.7 1391.5,1011.3 1392.5,1012.0 1393.5,1012.7 1394.5,1013.4 1395.5,1014.1 1396.5,1014.8 1397.5,1015.5 1398.5,1016.1 1399.5,1016.8 1400.5,1017.5 1401.5,1018.1 1402.5,1018.8 1403.5,1019.4 1404.5,1020.0 1405.5,1020.7 1406.5,1021.3 1407.5,1021.9 1408.5,1022.5 1409.5,1023.1 1410.5,1023.7 1411.5,1024.2 1412.5,1024.8 1413.5,1025.3 1414.5,1025.9 1415.5,1026.4 1416.5,1026.9 1417.5,1027.4 1418.5,1027.9 1419.5,1028.4 1420.5,1028.9 1421.5,1029.3 1422.5,1029.8 1423.5,1030.2 1424.5,1030.7 1425.5,1031.1 1426.5,1031.5 1427.5,1031.9 1428.5,1032.3 1429.5,1032.6 1430.5,1033.0 1431.5,1033.4 1432.5,1033.7 1433.5,1034.1 1434.5,1034.4 1435.5,1034.7 1436.5,1035.0 1437.5,1035.3 1438.5,1035.6 1439.5,1035.9 1440.5,1036.2 1441.5,1036.5 1442.5,1036.7 1443.5,1037.0 1444.5,1037.2 1445.5,1037.5 1446.5,1037.7 1447.5,1037.9 1448.5,1038.2 1449.5,1038.4 1450.5,1038.6 1451.5,1038.8 1452.5,1039.0 1453.5,1039.2 1454.5,1039.4 1455.5,1039.6 1456.5,1039.8 1457.5,1039.9 1458.5,1040.1 1459.5,1040.3 1460.5,1040.4 1461.5,1040.6 1462.5,1040.8 1463.5,1040.9 1464.5,1041.1 1465.5,1041.2 1466.5,1041.4 1467.5,1041.5 1468.5,1041.6 1469.5,1041.8 1470.5,1041.9 1471.5,1042.0 1472.5,1042.2 1473.5,1042.3 1474.5,1042.4 1475.5,1042.5 1476.5,1042.6 1477.5,1042.8 1478.5,1042.9 1479.5,1043.0 1480.5,1043.1 1481.5,1043.2 1482.5,1043.3 1483.5,1043.4 1484.5,1043.5 1485.5,1043.6 1486.5,1043.7 1487.5,1043.8 1488.5,1043.9 1489.5,1044.0 1490.5,1044.1 1491.5,1044.1 1492.5,1044.2 1493.5,1044.3 1494.5,1044.4 1495.5,1044.5 1496.5,1044.6 1497.5,1044.6 1498.5,1044.7 1499.5,1044.8 1500.5,1044.9 1501.5,1045.0 1502.5,1045.0 1503.5,1045.1 1504.5,1045.2 1505.5,1045.2 1506.5,1045.3 1507.5,1045.4 1508.5,1045.4 1509.5,1045.5 1510.5,1045.6 1511.5,1045.6 1512.5,1045.7 1513.5,1045.8 1514.5,1045.8 1515.5,1045.9 1516.5,1045.9 1517.5,1046.0 1518.5,1046.0 1519.5,1046.1 1520.5,1046.1 1521.5,1046.2 1522.5,1046.3 1523.5,1046.3 1524.5,1046.4 1525.5,1046.4 1526.5,1046.5 1527.5,1046.5 1528.5,1046.5 1529.5,1046.6 1530.5,1046.6 1531.5,1046.7 1532.5,1046.7 1533.5,1046.8 1534.5,1046.8 1535.5,1046.9 1536.5,1046.9 1537.5,1046.9 1538.5,1047.0 1539.5,1047.0 1540.5,1047.1 1541.5,1047.1 1542.5,1047.1 1543.5,1047.2 1544.5,1047.2 1545.5,1047.2 1546.5,1047.3 1547.5,1047.3 1548.5,1047.3 1549.5,1047.4 1550.5,1047.4 1551.5,1047.4 1552.5,1047.5 1553.5,1047.5 1554.5,1047.5 1555.5,1047.5 1556.5,1047.6 1557.5,1047.6 1558.5,1047.6 1559.5,1047.7 1560.5,1047.7 1561.5,1047.7 1562.5,1047.7 1563.5,1047.8 1564.5,1047.8 1565.5,1047.8 1566.5,1047.8 1567.5,1047.9 1568.5,1047.9 1569.5,1047.9 1570.5,1047.9 1571.5,1048.0 1572.5,1048.0 1573.5,1048.0 1574.5,1048.0 1575.5,1048.0 1576.5,1048.1 1577.5,1048.1 1578.5,1048.1 1579.5,1048.1 1580.5,1048.1 1581.5,1048.2 1582.5,1048.2 1583.5,1048.2 1584.5,1048.2" fill="none" stroke="#2350a5" stroke-width="2.1" stroke-linejoin="round"/>
<polyline points="1011.5,1049.3 1012.5,1049.3 1013.5,1049.3 1014.5,1049.3 1015.5,1049.3 1016.5,1049.3 1017.5,1049.3 1018.5,1049.3 1019.5,1049.3 1020.5,1049.3 1021.5,1049.3 1022.5,1049.3 1023.5,1049.3 1024.5,1049.3 1025.5,1049.3 1026.5,1049.3 1027.5,1049.3 1028.5,1049.3 1029.5,1049.3 1030.5,1049.3 1031.5,1049.3 1032.5,1049.3 1033.5,1049.3 1034.5,1049.3 1035.5,1049.3 1036.5,1049.3 1037.5,1049.3 1038.5,1049.3 1039.5,1049.3 1040.5,1049.3 1041.5,1049.3 1042.5,1049.3 1043.5,1049.3 1044.5,1049.3 1045.5,1049.3 1046.5,1049.3 1047.5,1049.3 1048.5,1049.3 1049.5,1049.3 1050.5,1049.3 1051.5,1049.3 1052.5,1049.3 1053.5,1049.3 1054.5,1049.3 1055.5,1049.3 1056.5,1049.3 1057.5,1049.3 1058.5,1049.3 1059.5,1049.3 1060.5,1049.3 1061.5,1049.3 1062.5,1049.3 1063.5,1049.3 1064.5,1049.3 1065.5,1049.3 1066.5,1049.3 1067.5,1049.3 1068.5,1049.3 1069.5,1049.3 1070.5,1049.3 1071.5,1049.3 1072.5,1049.3 1073.5,1049.3 1074.5,1049.3 1075.5,1049.3 1076.5,1049.3 1077.5,1049.3 1078.5,1049.3 1079.5,1049.3 1080.5,1049.3 1081.5,1049.3 1082.5,1049.3 1083.5,1049.3 1084.5,1049.3 1085.5,1049.3 1086.5,1049.3 1087.5,1049.3 1088.5,1049.3 1089.5,1049.3 1090.5,1049.3 1091.5,1049.3 1092.5,1049.3 1093.5,1049.3 1094.5,1049.3 1095.5,1049.3 1096.5,1049.3 1097.5,1049.3 1098.5,1049.3 1099.5,1049.3 1100.5,1049.3 1101.5,1049.3 1102.5,1049.3 1103.5,1049.2 1104.5,1049.2 1105.5,1049.2 1106.5,1049.2 1107.5,1049.2 1108.5,1049.2 1109.5,1049.2 1110.5,1049.2 1111.5,1049.2 1112.5,1049.2 1113.5,1049.2 1114.5,1049.2 1115.5,1049.2 1116.5,1049.2 1117.5,1049.2 1118.5,1049.2 1119.5,1049.2 1120.5,1049.2 1121.5,1049.2 1122.5,1049.2 1123.5,1049.2 1124.5,1049.2 1125.5,1049.2 1126.5,1049.2 1127.5,1049.2 1128.5,1049.2 1129.5,1049.2 1130.5,1049.2 1131.5,1049.2 1132.5,1049.2 1133.5,1049.2 1134.5,1049.2 1135.5,1049.2 1136.5,1049.2 1137.5,1049.2 1138.5,1049.2 1139.5,1049.2 1140.5,1049.2 1141.5,1049.2 1142.5,1049.2 1143.5,1049.2 1144.5,1049.2 1145.5,1049.2 1146.5,1049.2 1147.5,1049.2 1148.5,1049.2 1149.5,1049.1 1150.5,1049.1 1151.5,1049.1 1152.5,1049.1 1153.5,1049.1 1154.5,1049.1 1155.5,1049.1 1156.5,1049.1 1157.5,1049.1 1158.5,1049.1 1159.5,1049.1 1160.5,1049.1 1161.5,1049.1 1162.5,1049.1 1163.5,1049.1 1164.5,1049.1 1165.5,1049.1 1166.5,1049.1 1167.5,1049.1 1168.5,1049.1 1169.5,1049.1 1170.5,1049.1 1171.5,1049.0 1172.5,1049.0 1173.5,1049.0 1174.5,1049.0 1175.5,1049.0 1176.5,1049.0 1177.5,1049.0 1178.5,1049.0 1179.5,1049.0 1180.5,1049.0 1181.5,1049.0 1182.5,1049.0 1183.5,1049.0 1184.5,1049.0 1185.5,1049.0 1186.5,1048.9 1187.5,1048.9 1188.5,1048.9 1189.5,1048.9 1190.5,1048.9 1191.5,1048.9 1192.5,1048.9 1193.5,1048.9 1194.5,1048.9 1195.5,1048.9 1196.5,1048.9 1197.5,1048.8 1198.5,1048.8 1199.5,1048.8 1200.5,1048.8 1201.5,1048.8 1202.5,1048.8 1203.5,1048.8 1204.5,1048.8 1205.5,1048.7 1206.5,1048.7 1207.5,1048.7 1208.5,1048.7 1209.5,1048.7 1210.5,1048.7 1211.5,1048.7 1212.5,1048.7 1213.5,1048.6 1214.5,1048.6 1215.5,1048.6 1216.5,1048.6 1217.5,1048.6 1218.5,1048.6 1219.5,1048.5 1220.5,1048.5 1221.5,1048.5 1222.5,1048.5 1223.5,1048.5 1224.5,1048.4 1225.5,1048.4 1226.5,1048.4 1227.5,1048.4 1228.5,1048.3 1229.5,1048.3 1230.5,1048.3 1231.5,1048.3 1232.5,1048.2 1233.5,1048.2 1234.5,1048.2 1235.5,1048.1 1236.5,1048.1 1237.5,1048.1 1238.5,1048.0 1239.5,1048.0 1240.5,1048.0 1241.5,1047.9 1242.5,1047.9 1243.5,1047.9 1244.5,1047.8 1245.5,1047.8 1246.5,1047.7 1247.5,1047.7 1248.5,1047.6 1249.5,1047.6 1250.5,1047.5 1251.5,1047.5 1252.5,1047.4 1253.5,1047.4 1254.5,1047.3 1255.5,1047.3 1256.5,1047.2 1257.5,1047.1 1258.5,1047.1 1259.5,1047.0 1260.5,1046.9 1261.5,1046.9 1262.5,1046.8 1263.5,1046.7 1264.5,1046.6 1265.5,1046.5 1266.5,1046.5 1267.5,1046.4 1268.5,1046.3 1269.5,1046.2 1270.5,1046.1 1271.5,1046.0 1272.5,1045.9 1273.5,1045.8 1274.5,1045.7 1275.5,1045.6 1276.5,1045.5 1277.5,1045.4 1278.5,1045.2 1279.5,1045.1 1280.5,1045.0 1281.5,1044.9 1282.5,1044.8 1283.5,1044.6 1284.5,1044.5 1285.5,1044.4 1286.5,1044.2 1287.5,1044.1 1288.5,1043.9 1289.5,1043.8 1290.5,1043.6 1291.5,1043.5 1292.5,1043.3 1293.5,1043.2 1294.5,1043.0 1295.5,1042.9 1296.5,1042.7 1297.5,1042.5 1298.5,1042.4 1299.5,1042.2 1300.5,1042.0 1301.5,1041.9 1302.5,1041.7 1303.5,1041.5 1304.5,1041.3 1305.5,1041.2 1306.5,1041.0 1307.5,1040.8 1308.5,1040.6 1309.5,1040.5 1310.5,1040.3 1311.5,1040.1 1312.5,1039.9 1313.5,1039.8 1314.5,1039.6 1315.5,1039.4 1316.5,1039.3 1317.5,1039.1 1318.5,1038.9 1319.5,1038.8 1320.5,1038.6 1321.5,1038.4 1322.5,1038.3 1323.5,1038.1 1324.5,1038.0 1325.5,1037.8 1326.5,1037.7 1327.5,1037.5 1328.5,1037.4 1329.5,1037.3 1330.5,1037.1 1331.5,1037.0 1332.5,1036.9 1333.5,1036.8 1334.5,1036.7 1335.5,1036.6 1336.5,1036.5 1337.5,1036.4 1338.5,1036.3 1339.5,1036.2 1340.5,1036.1 1341.5,1036.1 1342.5,1036.0 1343.5,1035.9 1344.5,1035.9 1345.5,1035.8 1346.5,1035.8 1347.5,1035.8 1348.5,1035.8 1349.5,1035.7 1350.5,1035.7 1351.5,1035.7 1352.5,1035.7 1353.5,1035.7 1354.5,1035.8 1355.5,1035.8 1356.5,1035.8 1357.5,1035.8 1358.5,1035.9 1359.5,1035.9 1360.5,1036.0 1361.5,1036.1 1362.5,1036.1 1363.5,1036.2 1364.5,1036.3 1365.5,1036.4 1366.5,1036.5 1367.5,1036.6 1368.5,1036.7 1369.5,1036.8 1370.5,1036.9 1371.5,1037.0 1372.5,1037.1 1373.5,1037.2 1374.5,1037.4 1375.5,1037.5 1376.5,1037.7 1377.5,1037.8 1378.5,1037.9 1379.5,1038.1 1380.5,1038.2 1381.5,1038.4 1382.5,1038.5 1383.5,1038.7 1384.5,1038.9 1385.5,1039.0 1386.5,1039.2 1387.5,1039.3 1388.5,1039.5 1389.5,1039.7 1390.5,1039.8 1391.5,1040.0 1392.5,1040.2 1393.5,1040.3 1394.5,1040.5 1395.5,1040.7 1396.5,1040.8 1397.5,1041.0 1398.5,1041.1 1399.5,1041.3 1400.5,1041.5 1401.5,1041.6 1402.5,1041.8 1403.5,1041.9 1404.5,1042.1 1405.5,1042.2 1406.5,1042.4 1407.5,1042.5 1408.5,1042.7 1409.5,1042.8 1410.5,1043.0 1411.5,1043.1 1412.5,1043.2 1413.5,1043.4 1414.5,1043.5 1415.5,1043.6 1416.5,1043.7 1417.5,1043.9 1418.5,1044.0 1419.5,1044.1 1420.5,1044.2 1421.5,1044.3 1422.5,1044.4 1423.5,1044.6 1424.5,1044.7 1425.5,1044.8 1426.5,1044.9 1427.5,1045.0 1428.5,1045.1 1429.5,1045.1 1430.5,1045.2 1431.5,1045.3 1432.5,1045.4 1433.5,1045.5 1434.5,1045.6 1435.5,1045.7 1436.5,1045.7 1437.5,1045.8 1438.5,1045.9 1439.5,1045.9 1440.5,1046.0 1441.5,1046.1 1442.5,1046.1 1443.5,1046.2 1444.5,1046.3 1445.5,1046.3 1446.5,1046.4 1447.5,1046.5 1448.5,1046.5 1449.5,1046.6 1450.5,1046.6 1451.5,1046.7 1452.5,1046.7 1453.5,1046.8 1454.5,1046.8 1455.5,1046.9 1456.5,1046.9 1457.5,1046.9 1458.5,1047.0 1459.5,1047.0 1460.5,1047.1 1461.5,1047.1 1462.5,1047.2 1463.5,1047.2 1464.5,1047.2 1465.5,1047.3 1466.5,1047.3 1467.5,1047.3 1468.5,1047.4 1469.5,1047.4 1470.5,1047.4 1471.5,1047.5 1472.5,1047.5 1473.5,1047.5 1474.5,1047.6 1475.5,1047.6 1476.5,1047.6 1477.5,1047.6 1478.5,1047.7 1479.5,1047.7 1480.5,1047.7 1481.5,1047.8 1482.5,1047.8 1483.5,1047.8 1484.5,1047.8 1485.5,1047.9 1486.5,1047.9 1487.5,1047.9 1488.5,1047.9 1489.5,1047.9 1490.5,1048.0 1491.5,1048.0 1492.5,1048.0 1493.5,1048.0 1494.5,1048.1 1495.5,1048.1 1496.5,1048.1 1497.5,1048.1 1498.5,1048.1 1499.5,1048.2 1500.5,1048.2 1501.5,1048.2 1502.5,1048.2 1503.5,1048.2 1504.5,1048.2 1505.5,1048.3 1506.5,1048.3 1507.5,1048.3 1508.5,1048.3 1509.5,1048.3 1510.5,1048.3 1511.5,1048.4 1512.5,1048.4 1513.5,1048.4 1514.5,1048.4 1515.5,1048.4 1516.5,1048.4 1517.5,1048.5 1518.5,1048.5 1519.5,1048.5 1520.5,1048.5 1521.5,1048.5 1522.5,1048.5 1523.5,1048.5 1524.5,1048.5 1525.5,1048.6 1526.5,1048.6 1527.5,1048.6 1528.5,1048.6 1529.5,1048.6 1530.5,1048.6 1531.5,1048.6 1532.5,1048.6 1533.5,1048.6 1534.5,1048.7 1535.5,1048.7 1536.5,1048.7 1537.5,1048.7 1538.5,1048.7 1539.5,1048.7 1540.5,1048.7 1541.5,1048.7 1542.5,1048.7 1543.5,1048.7 1544.5,1048.8 1545.5,1048.8 1546.5,1048.8 1547.5,1048.8 1548.5,1048.8 1549.5,1048.8 1550.5,1048.8 1551.5,1048.8 1552.5,1048.8 1553.5,1048.8 1554.5,1048.8 1555.5,1048.8 1556.5,1048.9 1557.5,1048.9 1558.5,1048.9 1559.5,1048.9 1560.5,1048.9 1561.5,1048.9 1562.5,1048.9 1563.5,1048.9 1564.5,1048.9 1565.5,1048.9 1566.5,1048.9 1567.5,1048.9 1568.5,1048.9 1569.5,1048.9 1570.5,1048.9 1571.5,1049.0 1572.5,1049.0 1573.5,1049.0 1574.5,1049.0 1575.5,1049.0 1576.5,1049.0 1577.5,1049.0 1578.5,1049.0 1579.5,1049.0 1580.5,1049.0 1581.5,1049.0 1582.5,1049.0 1583.5,1049.0 1584.5,1049.0" fill="none" stroke="#5a4799" stroke-width="2.1" stroke-linejoin="round"/>
<rect x="1789.3" y="635" width="560.8" height="411.3" fill="none" stroke="#000" stroke-width="2.3"/>
<line x1="1881.2" y1="1046.3" x2="1881.2" y2="1040.6" stroke="#000" stroke-width="2" stroke-linecap="butt"/>
<line x1="1973.2" y1="1046.3" x2="1973.2" y2="1036.5" stroke="#000" stroke-width="2" stroke-linecap="butt"/>
<line x1="2065.2" y1="1046.3" x2="2065.2" y2="1040.6" stroke="#000" stroke-width="2" stroke-linecap="butt"/>
<line x1="2157.2" y1="1046.3" x2="2157.2" y2="1036.5" stroke="#000" stroke-width="2" stroke-linecap="butt"/>
<line x1="2249.2" y1="1046.3" x2="2249.2" y2="1040.6" stroke="#000" stroke-width="2" stroke-linecap="butt"/>
<line x1="2341.2" y1="1046.3" x2="2341.2" y2="1036.5" stroke="#000" stroke-width="2" stroke-linecap="butt"/>
<line x1="1789.3" y1="966.25" x2="1795" y2="966.25" stroke="#000" stroke-width="2" stroke-linecap="butt"/>
<line x1="1789.3" y1="903.49" x2="1799.1" y2="903.49" stroke="#000" stroke-width="2" stroke-linecap="butt"/>
<line x1="1789.3" y1="840.74" x2="1795" y2="840.74" stroke="#000" stroke-width="2" stroke-linecap="butt"/>
<line x1="1789.3" y1="777.98" x2="1799.1" y2="777.98" stroke="#000" stroke-width="2" stroke-linecap="butt"/>
<line x1="1789.3" y1="715.23" x2="1795" y2="715.23" stroke="#000" stroke-width="2" stroke-linecap="butt"/>
<line x1="1789.3" y1="652.47" x2="1799.1" y2="652.47" stroke="#000" stroke-width="2" stroke-linecap="butt"/>
<text transform="translate(1780.66,1081.5) scale(1.0,1.04)" font-size="33.6" font-weight="normal" fill="#000" >0</text>
<text transform="translate(1964.66,1081.5) scale(1.0,1.04)" font-size="33.6" font-weight="normal" fill="#000" >2</text>
<text transform="translate(2148.76,1081.14) scale(1.0,1.04)" font-size="33.6" font-weight="normal" fill="#000" >4</text>
<text transform="translate(2332.54,1081.5) scale(1.0,1.04)" font-size="33.6" font-weight="normal" fill="#000" >6</text>
<text transform="translate(1758.41,1037.83) scale(1.0,1.04)" font-size="33.6" font-weight="normal" fill="#000" >0</text>
<text transform="translate(1758.41,912.31) scale(1.0,1.04)" font-size="33.6" font-weight="normal" fill="#000" >7</text>
<text transform="translate(1739.73,786.8) scale(1.0,1.04)" font-size="33.6" font-weight="normal" fill="#000" >14</text>
<text transform="translate(1739.73,661.47) scale(1.0,1.04)" font-size="33.6" font-weight="normal" fill="#000" >21</text>
<text transform="translate(1980.75,1134.62) scale(1.0,1.04)" font-size="33.6" font-weight="normal" fill="#000" >Time (day)</text>
<text transform="translate(1709.72,963.66) rotate(-90) scale(1,1.04)" font-size="33.6">Peak shift (nm)</text>
<polyline points="1789.2,1029.0 1881.2,1038.0 1973.2,966.2 2065.2,957.3 2157.2,966.2 2249.2,957.3 2341.2,957.3" fill="none" stroke="#e8141e" stroke-width="2.4"/>
<rect x="1780.4" y="1019.7" width="17.6" height="18.6" rx="1.5" fill="#e8141e"/>
<rect x="1872.4" y="1028.66" width="17.6" height="18.6" rx="1.5" fill="#e8141e"/>
<rect x="1964.4" y="956.95" width="17.6" height="18.6" rx="1.5" fill="#e8141e"/>
<rect x="2056.4" y="947.98" width="17.6" height="18.6" rx="1.5" fill="#e8141e"/>
<rect x="2148.4" y="956.95" width="17.6" height="18.6" rx="1.5" fill="#e8141e"/>
<rect x="2240.4" y="947.98" width="17.6" height="18.6" rx="1.5" fill="#e8141e"/>
<rect x="2332.4" y="947.98" width="17.6" height="18.6" rx="1.5" fill="#e8141e"/>
<polyline points="1789.2,1029.0 1881.2,1038.0 1973.2,984.2 2065.2,984.2 2157.2,993.1 2249.2,993.1 2341.2,984.2" fill="none" stroke="#f07d1e" stroke-width="2.4"/>
<ellipse cx="1789.2" cy="1029" rx="9.8" ry="9.9" fill="#f07d1e"/>
<ellipse cx="1881.2" cy="1037.96" rx="9.8" ry="9.9" fill="#f07d1e"/>
<ellipse cx="1973.2" cy="984.17" rx="9.8" ry="9.9" fill="#f07d1e"/>
<ellipse cx="2065.2" cy="984.17" rx="9.8" ry="9.9" fill="#f07d1e"/>
<ellipse cx="2157.2" cy="993.14" rx="9.8" ry="9.9" fill="#f07d1e"/>
<ellipse cx="2249.2" cy="993.14" rx="9.8" ry="9.9" fill="#f07d1e"/>
<ellipse cx="2341.2" cy="984.17" rx="9.8" ry="9.9" fill="#f07d1e"/>
<polyline points="1789.2,1029.0 1881.2,1038.0 1973.2,993.1 2065.2,1002.1 2157.2,1011.1 2249.2,1002.1 2341.2,1011.1" fill="none" stroke="#ebe632" stroke-width="2.4"/>
<rect x="1780.4" y="1019.7" width="17.6" height="18.6" rx="1.5" fill="#ebe632"/>
<rect x="1872.4" y="1028.66" width="17.6" height="18.6" rx="1.5" fill="#ebe632"/>
<rect x="1964.4" y="983.84" width="17.6" height="18.6" rx="1.5" fill="#ebe632"/>
<rect x="2056.4" y="992.81" width="17.6" height="18.6" rx="1.5" fill="#ebe632"/>
<rect x="2148.4" y="1001.77" width="17.6" height="18.6" rx="1.5" fill="#ebe632"/>
<rect x="2240.4" y="992.81" width="17.6" height="18.6" rx="1.5" fill="#ebe632"/>
<rect x="2332.4" y="1001.77" width="17.6" height="18.6" rx="1.5" fill="#ebe632"/>
<polyline points="1789.2,1029.0 1881.2,1038.0 1973.2,912.5 2065.2,849.7 2157.2,831.8 2249.2,831.8 2341.2,831.8" fill="none" stroke="#6eb928" stroke-width="2.4"/>
<ellipse cx="1789.2" cy="1029" rx="9.8" ry="9.9" fill="#6eb928"/>
<ellipse cx="1881.2" cy="1037.96" rx="9.8" ry="9.9" fill="#6eb928"/>
<ellipse cx="1973.2" cy="912.46" rx="9.8" ry="9.9" fill="#6eb928"/>
<ellipse cx="2065.2" cy="849.7" rx="9.8" ry="9.9" fill="#6eb928"/>
<ellipse cx="2157.2" cy="831.77" rx="9.8" ry="9.9" fill="#6eb928"/>
<ellipse cx="2249.2" cy="831.77" rx="9.8" ry="9.9" fill="#6eb928"/>
<ellipse cx="2341.2" cy="831.77" rx="9.8" ry="9.9" fill="#6eb928"/>
<polyline points="1789.2,1029.0 1881.2,1020.0 1973.2,778.0 2065.2,769.0 2157.2,769.0 2249.2,778.0 2341.2,760.0" fill="none" stroke="#1946a0" stroke-width="2.4"/>
<rect x="1780.4" y="1019.7" width="17.6" height="18.6" rx="1.5" fill="#1946a0"/>
<rect x="1872.4" y="1010.74" width="17.6" height="18.6" rx="1.5" fill="#1946a0"/>
<rect x="1964.4" y="768.68" width="17.6" height="18.6" rx="1.5" fill="#1946a0"/>
<rect x="2056.4" y="759.72" width="17.6" height="18.6" rx="1.5" fill="#1946a0"/>
<rect x="2148.4" y="759.72" width="17.6" height="18.6" rx="1.5" fill="#1946a0"/>
<rect x="2240.4" y="768.68" width="17.6" height="18.6" rx="1.5" fill="#1946a0"/>
<rect x="2332.4" y="750.75" width="17.6" height="18.6" rx="1.5" fill="#1946a0"/>
<line x1="1822.2" y1="739.6" x2="1847.5" y2="739.6" stroke="#e8141e" stroke-width="2.4" stroke-linecap="butt"/>
<rect x="1825.6" y="730.3" width="17.6" height="18.6" rx="1.5" fill="#e8141e"/>
<text transform="translate(1855.47,747.2) scale(1,1.04)" font-size="33.6">S1</text>
<line x1="1822.2" y1="780.5" x2="1847.5" y2="780.5" stroke="#f07d1e" stroke-width="2.4" stroke-linecap="butt"/>
<ellipse cx="1834.4" cy="780.5" rx="9.8" ry="9.9" fill="#f07d1e"/>
<text transform="translate(1855.47,788.1) scale(1,1.04)" font-size="33.6">S2</text>
<line x1="1822.2" y1="821.4" x2="1847.5" y2="821.4" stroke="#ebe632" stroke-width="2.4" stroke-linecap="butt"/>
<rect x="1825.6" y="812.1" width="17.6" height="18.6" rx="1.5" fill="#ebe632"/>
<text transform="translate(1855.47,829) scale(1,1.04)" font-size="33.6">S3</text>
<line x1="1822.2" y1="862.3" x2="1847.5" y2="862.3" stroke="#6eb928" stroke-width="2.4" stroke-linecap="butt"/>
<ellipse cx="1834.4" cy="862.3" rx="9.8" ry="9.9" fill="#6eb928"/>
<text transform="translate(1855.47,869.9) scale(1,1.04)" font-size="33.6">S4</text>
<line x1="1822.2" y1="903.2" x2="1847.5" y2="903.2" stroke="#1946a0" stroke-width="2.4" stroke-linecap="butt"/>
<rect x="1825.6" y="893.9" width="17.6" height="18.6" rx="1.5" fill="#1946a0"/>
<text transform="translate(1855.47,910.8) scale(1,1.04)" font-size="33.6">S5</text>
<text transform="translate(51.78,80.85) scale(1.13,0.97)" font-size="37" font-weight="bold" fill="#000" stroke="#000" stroke-width="1.3" stroke-linejoin="round">a</text>
<text transform="translate(838.64,80.55) scale(1.13,0.97)" font-size="37" font-weight="bold" fill="#000" stroke="#000" stroke-width="1.3" stroke-linejoin="round">b</text>
<text transform="translate(1620.27,80.75) scale(1.13,0.97)" font-size="37" font-weight="bold" fill="#000" stroke="#000" stroke-width="1.3" stroke-linejoin="round">c</text>
<text transform="translate(43.39,662.45) scale(1.13,0.97)" font-size="37" font-weight="bold" fill="#000" stroke="#000" stroke-width="1.3" stroke-linejoin="round">d</text>
<text transform="translate(823.97,662.45) scale(1.13,0.97)" font-size="37" font-weight="bold" fill="#000" stroke="#000" stroke-width="1.3" stroke-linejoin="round">e</text>
<text transform="translate(1676.89,662.7) scale(1.13,0.97)" font-size="37" font-weight="bold" fill="#000" stroke="#000" stroke-width="1.3" stroke-linejoin="round">f</text>
</svg>
</body></html>
